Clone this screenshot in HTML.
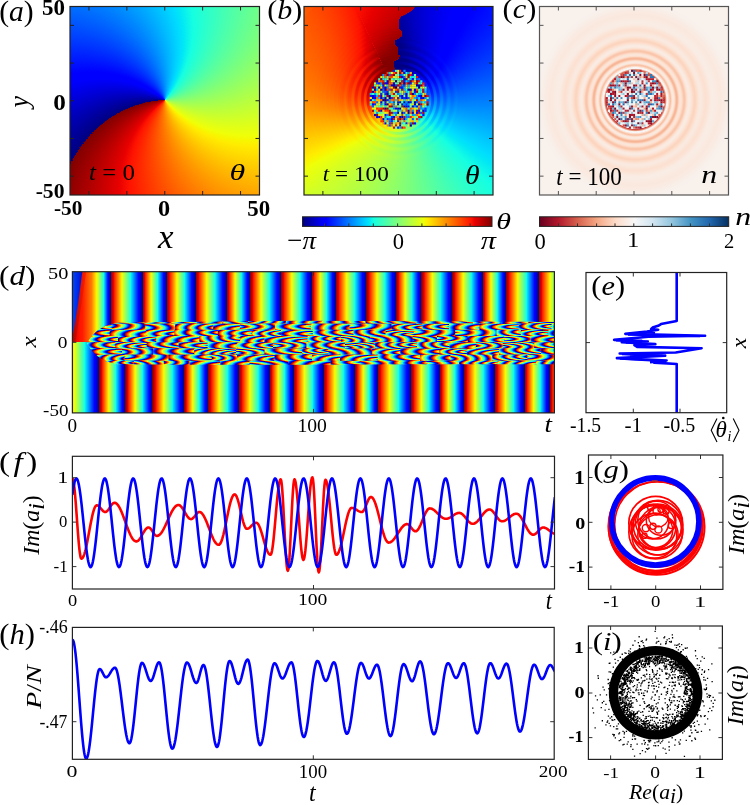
<!DOCTYPE html><html><head><meta charset="utf-8"><style>
html,body{margin:0;padding:0;background:#fff;}
body{width:750px;height:805px;position:relative;overflow:hidden;font-family:"Liberation Serif",serif;}
.ab{position:absolute;overflow:hidden;}
.ci{position:absolute;border-radius:50%;}
svg text{font-family:"Liberation Serif",serif;}
</style></head><body><div class="ab" style="left:70.0px;top:6.5px;width:189.5px;height:188.5px;background:#800000"><div class="ci" style="left:-45.40px;top:-46.20px;width:280.00px;height:280.00px;background:conic-gradient(from 229.22deg,#000080 0.00deg,#0000ff 39.60deg,#0000ff 45.00deg,#00dbff 122.40deg,#00e5f7 126.00deg,#15ffe2 135.00deg,#efff08 230.40deg,#f7f600 234.00deg,#ffec00 237.60deg,#ff1300 320.40deg,#e80000 327.60deg,#800000 360.00deg)"></div><div class="ci" style="left:-42.40px;top:-43.20px;width:274.00px;height:274.00px;background:conic-gradient(from 230.06deg,#000080 0.00deg,#0000ff 39.60deg,#0000ff 45.00deg,#00dbff 122.40deg,#00e5f7 126.00deg,#15ffe2 135.00deg,#efff08 230.40deg,#f7f600 234.00deg,#ffec00 237.60deg,#ff1300 320.40deg,#e80000 327.60deg,#800000 360.00deg)"></div><div class="ci" style="left:-39.40px;top:-40.20px;width:268.00px;height:268.00px;background:conic-gradient(from 230.90deg,#000080 0.00deg,#0000ff 39.60deg,#0000ff 45.00deg,#00dbff 122.40deg,#00e5f7 126.00deg,#15ffe2 135.00deg,#efff08 230.40deg,#f7f600 234.00deg,#ffec00 237.60deg,#ff1300 320.40deg,#e80000 327.60deg,#800000 360.00deg)"></div><div class="ci" style="left:-36.40px;top:-37.20px;width:262.00px;height:262.00px;background:conic-gradient(from 231.74deg,#000080 0.00deg,#0000ff 39.60deg,#0000ff 45.00deg,#00dbff 122.40deg,#00e5f7 126.00deg,#15ffe2 135.00deg,#efff08 230.40deg,#f7f600 234.00deg,#ffec00 237.60deg,#ff1300 320.40deg,#e80000 327.60deg,#800000 360.00deg)"></div><div class="ci" style="left:-33.40px;top:-34.20px;width:256.00px;height:256.00px;background:conic-gradient(from 232.58deg,#000080 0.00deg,#0000ff 39.60deg,#0000ff 45.00deg,#00dbff 122.40deg,#00e5f7 126.00deg,#15ffe2 135.00deg,#efff08 230.40deg,#f7f600 234.00deg,#ffec00 237.60deg,#ff1300 320.40deg,#e80000 327.60deg,#800000 360.00deg)"></div><div class="ci" style="left:-30.40px;top:-31.20px;width:250.00px;height:250.00px;background:conic-gradient(from 233.42deg,#000080 0.00deg,#0000ff 39.60deg,#0000ff 45.00deg,#00dbff 122.40deg,#00e5f7 126.00deg,#15ffe2 135.00deg,#efff08 230.40deg,#f7f600 234.00deg,#ffec00 237.60deg,#ff1300 320.40deg,#e80000 327.60deg,#800000 360.00deg)"></div><div class="ci" style="left:-27.40px;top:-28.20px;width:244.00px;height:244.00px;background:conic-gradient(from 234.26deg,#000080 0.00deg,#0000ff 39.60deg,#0000ff 45.00deg,#00dbff 122.40deg,#00e5f7 126.00deg,#15ffe2 135.00deg,#efff08 230.40deg,#f7f600 234.00deg,#ffec00 237.60deg,#ff1300 320.40deg,#e80000 327.60deg,#800000 360.00deg)"></div><div class="ci" style="left:-24.40px;top:-25.20px;width:238.00px;height:238.00px;background:conic-gradient(from 235.10deg,#000080 0.00deg,#0000ff 39.60deg,#0000ff 45.00deg,#00dbff 122.40deg,#00e5f7 126.00deg,#15ffe2 135.00deg,#efff08 230.40deg,#f7f600 234.00deg,#ffec00 237.60deg,#ff1300 320.40deg,#e80000 327.60deg,#800000 360.00deg)"></div><div class="ci" style="left:-21.40px;top:-22.20px;width:232.00px;height:232.00px;background:conic-gradient(from 235.94deg,#000080 0.00deg,#0000ff 39.60deg,#0000ff 45.00deg,#00dbff 122.40deg,#00e5f7 126.00deg,#15ffe2 135.00deg,#efff08 230.40deg,#f7f600 234.00deg,#ffec00 237.60deg,#ff1300 320.40deg,#e80000 327.60deg,#800000 360.00deg)"></div><div class="ci" style="left:-18.40px;top:-19.20px;width:226.00px;height:226.00px;background:conic-gradient(from 236.78deg,#000080 0.00deg,#0000ff 39.60deg,#0000ff 45.00deg,#00dbff 122.40deg,#00e5f7 126.00deg,#15ffe2 135.00deg,#efff08 230.40deg,#f7f600 234.00deg,#ffec00 237.60deg,#ff1300 320.40deg,#e80000 327.60deg,#800000 360.00deg)"></div><div class="ci" style="left:-15.40px;top:-16.20px;width:220.00px;height:220.00px;background:conic-gradient(from 237.62deg,#000080 0.00deg,#0000ff 39.60deg,#0000ff 45.00deg,#00dbff 122.40deg,#00e5f7 126.00deg,#15ffe2 135.00deg,#efff08 230.40deg,#f7f600 234.00deg,#ffec00 237.60deg,#ff1300 320.40deg,#e80000 327.60deg,#800000 360.00deg)"></div><div class="ci" style="left:-12.40px;top:-13.20px;width:214.00px;height:214.00px;background:conic-gradient(from 238.46deg,#000080 0.00deg,#0000ff 39.60deg,#0000ff 45.00deg,#00dbff 122.40deg,#00e5f7 126.00deg,#15ffe2 135.00deg,#efff08 230.40deg,#f7f600 234.00deg,#ffec00 237.60deg,#ff1300 320.40deg,#e80000 327.60deg,#800000 360.00deg)"></div><div class="ci" style="left:-9.40px;top:-10.20px;width:208.00px;height:208.00px;background:conic-gradient(from 239.30deg,#000080 0.00deg,#0000ff 39.60deg,#0000ff 45.00deg,#00dbff 122.40deg,#00e5f7 126.00deg,#15ffe2 135.00deg,#efff08 230.40deg,#f7f600 234.00deg,#ffec00 237.60deg,#ff1300 320.40deg,#e80000 327.60deg,#800000 360.00deg)"></div><div class="ci" style="left:-6.40px;top:-7.20px;width:202.00px;height:202.00px;background:conic-gradient(from 240.14deg,#000080 0.00deg,#0000ff 39.60deg,#0000ff 45.00deg,#00dbff 122.40deg,#00e5f7 126.00deg,#15ffe2 135.00deg,#efff08 230.40deg,#f7f600 234.00deg,#ffec00 237.60deg,#ff1300 320.40deg,#e80000 327.60deg,#800000 360.00deg)"></div><div class="ci" style="left:-3.40px;top:-4.20px;width:196.00px;height:196.00px;background:conic-gradient(from 240.98deg,#000080 0.00deg,#0000ff 39.60deg,#0000ff 45.00deg,#00dbff 122.40deg,#00e5f7 126.00deg,#15ffe2 135.00deg,#efff08 230.40deg,#f7f600 234.00deg,#ffec00 237.60deg,#ff1300 320.40deg,#e80000 327.60deg,#800000 360.00deg)"></div><div class="ci" style="left:-0.40px;top:-1.20px;width:190.00px;height:190.00px;background:conic-gradient(from 241.82deg,#000080 0.00deg,#0000ff 39.60deg,#0000ff 45.00deg,#00dbff 122.40deg,#00e5f7 126.00deg,#15ffe2 135.00deg,#efff08 230.40deg,#f7f600 234.00deg,#ffec00 237.60deg,#ff1300 320.40deg,#e80000 327.60deg,#800000 360.00deg)"></div><div class="ci" style="left:2.60px;top:1.80px;width:184.00px;height:184.00px;background:conic-gradient(from 242.66deg,#000080 0.00deg,#0000ff 39.60deg,#0000ff 45.00deg,#00dbff 122.40deg,#00e5f7 126.00deg,#15ffe2 135.00deg,#efff08 230.40deg,#f7f600 234.00deg,#ffec00 237.60deg,#ff1300 320.40deg,#e80000 327.60deg,#800000 360.00deg)"></div><div class="ci" style="left:5.60px;top:4.80px;width:178.00px;height:178.00px;background:conic-gradient(from 243.50deg,#000080 0.00deg,#0000ff 39.60deg,#0000ff 45.00deg,#00dbff 122.40deg,#00e5f7 126.00deg,#15ffe2 135.00deg,#efff08 230.40deg,#f7f600 234.00deg,#ffec00 237.60deg,#ff1300 320.40deg,#e80000 327.60deg,#800000 360.00deg)"></div><div class="ci" style="left:8.60px;top:7.80px;width:172.00px;height:172.00px;background:conic-gradient(from 244.34deg,#000080 0.00deg,#0000ff 39.60deg,#0000ff 45.00deg,#00dbff 122.40deg,#00e5f7 126.00deg,#15ffe2 135.00deg,#efff08 230.40deg,#f7f600 234.00deg,#ffec00 237.60deg,#ff1300 320.40deg,#e80000 327.60deg,#800000 360.00deg)"></div><div class="ci" style="left:11.60px;top:10.80px;width:166.00px;height:166.00px;background:conic-gradient(from 245.18deg,#000080 0.00deg,#0000ff 39.60deg,#0000ff 45.00deg,#00dbff 122.40deg,#00e5f7 126.00deg,#15ffe2 135.00deg,#efff08 230.40deg,#f7f600 234.00deg,#ffec00 237.60deg,#ff1300 320.40deg,#e80000 327.60deg,#800000 360.00deg)"></div><div class="ci" style="left:14.60px;top:13.80px;width:160.00px;height:160.00px;background:conic-gradient(from 246.02deg,#000080 0.00deg,#0000ff 39.60deg,#0000ff 45.00deg,#00dbff 122.40deg,#00e5f7 126.00deg,#15ffe2 135.00deg,#efff08 230.40deg,#f7f600 234.00deg,#ffec00 237.60deg,#ff1300 320.40deg,#e80000 327.60deg,#800000 360.00deg)"></div><div class="ci" style="left:17.60px;top:16.80px;width:154.00px;height:154.00px;background:conic-gradient(from 246.86deg,#000080 0.00deg,#0000ff 39.60deg,#0000ff 45.00deg,#00dbff 122.40deg,#00e5f7 126.00deg,#15ffe2 135.00deg,#efff08 230.40deg,#f7f600 234.00deg,#ffec00 237.60deg,#ff1300 320.40deg,#e80000 327.60deg,#800000 360.00deg)"></div><div class="ci" style="left:20.60px;top:19.80px;width:148.00px;height:148.00px;background:conic-gradient(from 247.70deg,#000080 0.00deg,#0000ff 39.60deg,#0000ff 45.00deg,#00dbff 122.40deg,#00e5f7 126.00deg,#15ffe2 135.00deg,#efff08 230.40deg,#f7f600 234.00deg,#ffec00 237.60deg,#ff1300 320.40deg,#e80000 327.60deg,#800000 360.00deg)"></div><div class="ci" style="left:23.60px;top:22.80px;width:142.00px;height:142.00px;background:conic-gradient(from 248.54deg,#000080 0.00deg,#0000ff 39.60deg,#0000ff 45.00deg,#00dbff 122.40deg,#00e5f7 126.00deg,#15ffe2 135.00deg,#efff08 230.40deg,#f7f600 234.00deg,#ffec00 237.60deg,#ff1300 320.40deg,#e80000 327.60deg,#800000 360.00deg)"></div><div class="ci" style="left:26.60px;top:25.80px;width:136.00px;height:136.00px;background:conic-gradient(from 249.38deg,#000080 0.00deg,#0000ff 39.60deg,#0000ff 45.00deg,#00dbff 122.40deg,#00e5f7 126.00deg,#15ffe2 135.00deg,#efff08 230.40deg,#f7f600 234.00deg,#ffec00 237.60deg,#ff1300 320.40deg,#e80000 327.60deg,#800000 360.00deg)"></div><div class="ci" style="left:29.60px;top:28.80px;width:130.00px;height:130.00px;background:conic-gradient(from 250.22deg,#000080 0.00deg,#0000ff 39.60deg,#0000ff 45.00deg,#00dbff 122.40deg,#00e5f7 126.00deg,#15ffe2 135.00deg,#efff08 230.40deg,#f7f600 234.00deg,#ffec00 237.60deg,#ff1300 320.40deg,#e80000 327.60deg,#800000 360.00deg)"></div><div class="ci" style="left:32.60px;top:31.80px;width:124.00px;height:124.00px;background:conic-gradient(from 251.06deg,#000080 0.00deg,#0000ff 39.60deg,#0000ff 45.00deg,#00dbff 122.40deg,#00e5f7 126.00deg,#15ffe2 135.00deg,#efff08 230.40deg,#f7f600 234.00deg,#ffec00 237.60deg,#ff1300 320.40deg,#e80000 327.60deg,#800000 360.00deg)"></div><div class="ci" style="left:35.60px;top:34.80px;width:118.00px;height:118.00px;background:conic-gradient(from 251.90deg,#000080 0.00deg,#0000ff 39.60deg,#0000ff 45.00deg,#00dbff 122.40deg,#00e5f7 126.00deg,#15ffe2 135.00deg,#efff08 230.40deg,#f7f600 234.00deg,#ffec00 237.60deg,#ff1300 320.40deg,#e80000 327.60deg,#800000 360.00deg)"></div><div class="ci" style="left:38.60px;top:37.80px;width:112.00px;height:112.00px;background:conic-gradient(from 252.74deg,#000080 0.00deg,#0000ff 39.60deg,#0000ff 45.00deg,#00dbff 122.40deg,#00e5f7 126.00deg,#15ffe2 135.00deg,#efff08 230.40deg,#f7f600 234.00deg,#ffec00 237.60deg,#ff1300 320.40deg,#e80000 327.60deg,#800000 360.00deg)"></div><div class="ci" style="left:41.60px;top:40.80px;width:106.00px;height:106.00px;background:conic-gradient(from 253.58deg,#000080 0.00deg,#0000ff 39.60deg,#0000ff 45.00deg,#00dbff 122.40deg,#00e5f7 126.00deg,#15ffe2 135.00deg,#efff08 230.40deg,#f7f600 234.00deg,#ffec00 237.60deg,#ff1300 320.40deg,#e80000 327.60deg,#800000 360.00deg)"></div><div class="ci" style="left:44.60px;top:43.80px;width:100.00px;height:100.00px;background:conic-gradient(from 254.42deg,#000080 0.00deg,#0000ff 39.60deg,#0000ff 45.00deg,#00dbff 122.40deg,#00e5f7 126.00deg,#15ffe2 135.00deg,#efff08 230.40deg,#f7f600 234.00deg,#ffec00 237.60deg,#ff1300 320.40deg,#e80000 327.60deg,#800000 360.00deg)"></div><div class="ci" style="left:47.60px;top:46.80px;width:94.00px;height:94.00px;background:conic-gradient(from 255.26deg,#000080 0.00deg,#0000ff 39.60deg,#0000ff 45.00deg,#00dbff 122.40deg,#00e5f7 126.00deg,#15ffe2 135.00deg,#efff08 230.40deg,#f7f600 234.00deg,#ffec00 237.60deg,#ff1300 320.40deg,#e80000 327.60deg,#800000 360.00deg)"></div><div class="ci" style="left:50.60px;top:49.80px;width:88.00px;height:88.00px;background:conic-gradient(from 256.10deg,#000080 0.00deg,#0000ff 39.60deg,#0000ff 45.00deg,#00dbff 122.40deg,#00e5f7 126.00deg,#15ffe2 135.00deg,#efff08 230.40deg,#f7f600 234.00deg,#ffec00 237.60deg,#ff1300 320.40deg,#e80000 327.60deg,#800000 360.00deg)"></div><div class="ci" style="left:53.60px;top:52.80px;width:82.00px;height:82.00px;background:conic-gradient(from 256.94deg,#000080 0.00deg,#0000ff 39.60deg,#0000ff 45.00deg,#00dbff 122.40deg,#00e5f7 126.00deg,#15ffe2 135.00deg,#efff08 230.40deg,#f7f600 234.00deg,#ffec00 237.60deg,#ff1300 320.40deg,#e80000 327.60deg,#800000 360.00deg)"></div><div class="ci" style="left:56.60px;top:55.80px;width:76.00px;height:76.00px;background:conic-gradient(from 257.78deg,#000080 0.00deg,#0000ff 39.60deg,#0000ff 45.00deg,#00dbff 122.40deg,#00e5f7 126.00deg,#15ffe2 135.00deg,#efff08 230.40deg,#f7f600 234.00deg,#ffec00 237.60deg,#ff1300 320.40deg,#e80000 327.60deg,#800000 360.00deg)"></div><div class="ci" style="left:59.60px;top:58.80px;width:70.00px;height:70.00px;background:conic-gradient(from 258.62deg,#000080 0.00deg,#0000ff 39.60deg,#0000ff 45.00deg,#00dbff 122.40deg,#00e5f7 126.00deg,#15ffe2 135.00deg,#efff08 230.40deg,#f7f600 234.00deg,#ffec00 237.60deg,#ff1300 320.40deg,#e80000 327.60deg,#800000 360.00deg)"></div><div class="ci" style="left:62.60px;top:61.80px;width:64.00px;height:64.00px;background:conic-gradient(from 259.46deg,#000080 0.00deg,#0000ff 39.60deg,#0000ff 45.00deg,#00dbff 122.40deg,#00e5f7 126.00deg,#15ffe2 135.00deg,#efff08 230.40deg,#f7f600 234.00deg,#ffec00 237.60deg,#ff1300 320.40deg,#e80000 327.60deg,#800000 360.00deg)"></div><div class="ci" style="left:65.60px;top:64.80px;width:58.00px;height:58.00px;background:conic-gradient(from 260.30deg,#000080 0.00deg,#0000ff 39.60deg,#0000ff 45.00deg,#00dbff 122.40deg,#00e5f7 126.00deg,#15ffe2 135.00deg,#efff08 230.40deg,#f7f600 234.00deg,#ffec00 237.60deg,#ff1300 320.40deg,#e80000 327.60deg,#800000 360.00deg)"></div><div class="ci" style="left:68.60px;top:67.80px;width:52.00px;height:52.00px;background:conic-gradient(from 261.14deg,#000080 0.00deg,#0000ff 39.60deg,#0000ff 45.00deg,#00dbff 122.40deg,#00e5f7 126.00deg,#15ffe2 135.00deg,#efff08 230.40deg,#f7f600 234.00deg,#ffec00 237.60deg,#ff1300 320.40deg,#e80000 327.60deg,#800000 360.00deg)"></div><div class="ci" style="left:71.60px;top:70.80px;width:46.00px;height:46.00px;background:conic-gradient(from 261.98deg,#000080 0.00deg,#0000ff 39.60deg,#0000ff 45.00deg,#00dbff 122.40deg,#00e5f7 126.00deg,#15ffe2 135.00deg,#efff08 230.40deg,#f7f600 234.00deg,#ffec00 237.60deg,#ff1300 320.40deg,#e80000 327.60deg,#800000 360.00deg)"></div><div class="ci" style="left:74.60px;top:73.80px;width:40.00px;height:40.00px;background:conic-gradient(from 262.82deg,#000080 0.00deg,#0000ff 39.60deg,#0000ff 45.00deg,#00dbff 122.40deg,#00e5f7 126.00deg,#15ffe2 135.00deg,#efff08 230.40deg,#f7f600 234.00deg,#ffec00 237.60deg,#ff1300 320.40deg,#e80000 327.60deg,#800000 360.00deg)"></div><div class="ci" style="left:77.60px;top:76.80px;width:34.00px;height:34.00px;background:conic-gradient(from 263.66deg,#000080 0.00deg,#0000ff 39.60deg,#0000ff 45.00deg,#00dbff 122.40deg,#00e5f7 126.00deg,#15ffe2 135.00deg,#efff08 230.40deg,#f7f600 234.00deg,#ffec00 237.60deg,#ff1300 320.40deg,#e80000 327.60deg,#800000 360.00deg)"></div><div class="ci" style="left:80.60px;top:79.80px;width:28.00px;height:28.00px;background:conic-gradient(from 264.50deg,#000080 0.00deg,#0000ff 39.60deg,#0000ff 45.00deg,#00dbff 122.40deg,#00e5f7 126.00deg,#15ffe2 135.00deg,#efff08 230.40deg,#f7f600 234.00deg,#ffec00 237.60deg,#ff1300 320.40deg,#e80000 327.60deg,#800000 360.00deg)"></div><div class="ci" style="left:83.60px;top:82.80px;width:22.00px;height:22.00px;background:conic-gradient(from 265.34deg,#000080 0.00deg,#0000ff 39.60deg,#0000ff 45.00deg,#00dbff 122.40deg,#00e5f7 126.00deg,#15ffe2 135.00deg,#efff08 230.40deg,#f7f600 234.00deg,#ffec00 237.60deg,#ff1300 320.40deg,#e80000 327.60deg,#800000 360.00deg)"></div><div class="ci" style="left:86.60px;top:85.80px;width:16.00px;height:16.00px;background:conic-gradient(from 266.18deg,#000080 0.00deg,#0000ff 39.60deg,#0000ff 45.00deg,#00dbff 122.40deg,#00e5f7 126.00deg,#15ffe2 135.00deg,#efff08 230.40deg,#f7f600 234.00deg,#ffec00 237.60deg,#ff1300 320.40deg,#e80000 327.60deg,#800000 360.00deg)"></div><div class="ci" style="left:89.60px;top:88.80px;width:10.00px;height:10.00px;background:conic-gradient(from 267.02deg,#000080 0.00deg,#0000ff 39.60deg,#0000ff 45.00deg,#00dbff 122.40deg,#00e5f7 126.00deg,#15ffe2 135.00deg,#efff08 230.40deg,#f7f600 234.00deg,#ffec00 237.60deg,#ff1300 320.40deg,#e80000 327.60deg,#800000 360.00deg)"></div><div class="ci" style="left:92.60px;top:91.80px;width:4.00px;height:4.00px;background:conic-gradient(from 267.86deg,#000080 0.00deg,#0000ff 39.60deg,#0000ff 45.00deg,#00dbff 122.40deg,#00e5f7 126.00deg,#15ffe2 135.00deg,#efff08 230.40deg,#f7f600 234.00deg,#ffec00 237.60deg,#ff1300 320.40deg,#e80000 327.60deg,#800000 360.00deg)"></div></div><div class="ab" style="left:304.0px;top:6.5px;width:189.0px;height:188.5px;"><div class="ab" style="left:0;top:0;width:100%;height:100%;background:conic-gradient(from -8.00deg at 94.90px 92.50px,#000097 0.00deg,#0000b9 10.00deg,#0000da 20.00deg,#0000f4 30.00deg,#0000ff 35.82deg,#0000ff 40.00deg,#0000ff 44.63deg,#0009ff 50.00deg,#001eff 60.00deg,#0036ff 70.00deg,#004fff 80.00deg,#006aff 90.00deg,#0085ff 100.00deg,#00a1ff 110.00deg,#00bfff 120.00deg,#00dbff 129.39deg,#00ddfe 130.00deg,#00e5f7 132.78deg,#12fbe5 140.00deg,#15ffe2 141.27deg,#2affcd 150.00deg,#42ffb4 160.00deg,#5bff9c 170.00deg,#72ff84 180.00deg,#88ff6f 190.00deg,#99ff5d 200.00deg,#a9ff4d 210.00deg,#baff3d 220.00deg,#cdff2a 230.00deg,#e7ff10 240.00deg,#efff08 242.46deg,#f7f600 245.12deg,#ffec00 247.79deg,#ffe400 250.00deg,#ffc500 260.00deg,#ffa900 270.00deg,#ff9300 280.00deg,#ff8400 290.00deg,#ff7700 300.00deg,#ff6b00 310.00deg,#ff5c00 320.00deg,#ff4800 330.00deg,#ff2c00 340.00deg,#ff1300 345.21deg,#e80000 349.17deg,#e30000 350.00deg,#910000 360.00deg)"></div><div class="ci" style="left:-30.10px;top:-32.50px;width:250.00px;height:250.00px;background:conic-gradient(from -8.00deg,#000091 0.00deg,#0000b4 10.00deg,#0000d5 20.00deg,#0000ef 30.00deg,#0000ff 37.94deg,#0000ff 40.00deg,#0000ff 46.61deg,#0006ff 50.00deg,#001bff 60.00deg,#0033ff 70.00deg,#004dff 80.00deg,#0068ff 90.00deg,#0083ff 100.00deg,#00a0ff 110.00deg,#00beff 120.00deg,#00dbff 129.44deg,#00ddfe 130.00deg,#00e5f7 132.78deg,#12fce5 140.00deg,#15ffe2 141.14deg,#2affcd 150.00deg,#43ffb3 160.00deg,#5cff9a 170.00deg,#74ff83 180.00deg,#8aff6d 190.00deg,#9cff5b 200.00deg,#acff4b 210.00deg,#bdff3a 220.00deg,#d0ff27 230.00deg,#eaff0c 240.00deg,#efff08 241.30deg,#f7f600 243.92deg,#ffec00 246.55deg,#ffe000 250.00deg,#ffc000 260.00deg,#ffa400 270.00deg,#ff8e00 280.00deg,#ff7e00 290.00deg,#ff7100 300.00deg,#ff6400 310.00deg,#ff5500 320.00deg,#ff4100 330.00deg,#ff2400 340.00deg,#ff1300 343.61deg,#e80000 347.50deg,#d90000 350.00deg,#860000 360.00deg)"></div><div class="ci" style="left:-26.10px;top:-28.50px;width:242.00px;height:242.00px;background:conic-gradient(from -8.00deg,#000090 0.00deg,#0000b3 10.00deg,#0000d4 20.00deg,#0000ee 30.00deg,#0000ff 38.23deg,#0000ff 40.00deg,#0000ff 46.89deg,#0005ff 50.00deg,#001bff 60.00deg,#0033ff 70.00deg,#004dff 80.00deg,#0068ff 90.00deg,#0083ff 100.00deg,#00a0ff 110.00deg,#00beff 120.00deg,#00dbff 129.45deg,#00ddfe 130.00deg,#00e5f7 132.78deg,#12fce5 140.00deg,#15ffe2 141.12deg,#2affcc 150.00deg,#44ffb3 160.00deg,#5dff9a 170.00deg,#74ff82 180.00deg,#8aff6d 190.00deg,#9cff5b 200.00deg,#acff4a 210.00deg,#bdff3a 220.00deg,#d1ff26 230.00deg,#ebff0c 240.00deg,#efff08 241.13deg,#f7f600 243.75deg,#ffec00 246.37deg,#ffdf00 250.00deg,#ffc000 260.00deg,#ffa300 270.00deg,#ff8d00 280.00deg,#ff7d00 290.00deg,#ff7000 300.00deg,#ff6400 310.00deg,#ff5400 320.00deg,#ff4000 330.00deg,#ff2300 340.00deg,#ff1300 343.38deg,#e80000 347.27deg,#d80000 350.00deg,#840000 360.00deg)"></div><div class="ci" style="left:-22.10px;top:-24.50px;width:234.00px;height:234.00px;background:conic-gradient(from -8.00deg,#00008f 0.00deg,#0000b3 10.00deg,#0000d4 20.00deg,#0000ee 30.00deg,#0000ff 38.57deg,#0000ff 40.00deg,#0000ff 47.21deg,#0005ff 50.00deg,#001bff 60.00deg,#0033ff 70.00deg,#004dff 80.00deg,#0067ff 90.00deg,#0083ff 100.00deg,#00a0ff 110.00deg,#00beff 120.00deg,#00dbff 129.46deg,#00ddfe 130.00deg,#00e5f7 132.78deg,#12fce5 140.00deg,#15ffe2 141.10deg,#2affcc 150.00deg,#44ffb3 160.00deg,#5dff9a 170.00deg,#75ff82 180.00deg,#8aff6c 190.00deg,#9cff5a 200.00deg,#adff4a 210.00deg,#beff39 220.00deg,#d1ff26 230.00deg,#ecff0b 240.00deg,#efff08 240.95deg,#f7f600 243.56deg,#ffec00 246.18deg,#ffde00 250.00deg,#ffbf00 260.00deg,#ffa200 270.00deg,#ff8c00 280.00deg,#ff7c00 290.00deg,#ff6f00 300.00deg,#ff6300 310.00deg,#ff5300 320.00deg,#ff3f00 330.00deg,#ff2200 340.00deg,#ff1300 343.13deg,#e80000 347.00deg,#d60000 350.00deg,#840000 360.00deg)"></div><div class="ci" style="left:-18.10px;top:-20.50px;width:226.00px;height:226.00px;background:conic-gradient(from -8.00deg,#00008e 0.00deg,#0000b2 10.00deg,#0000d3 20.00deg,#0000ed 30.00deg,#0000ff 38.95deg,#0000ff 40.00deg,#0000ff 47.57deg,#0004ff 50.00deg,#001aff 60.00deg,#0032ff 70.00deg,#004cff 80.00deg,#0067ff 90.00deg,#0083ff 100.00deg,#00a0ff 110.00deg,#00beff 120.00deg,#00dbff 129.47deg,#00ddfe 130.00deg,#00e5f7 132.78deg,#12fce5 140.00deg,#15ffe2 141.08deg,#2bffcc 150.00deg,#44ffb3 160.00deg,#5dff9a 170.00deg,#75ff82 180.00deg,#8bff6c 190.00deg,#9dff5a 200.00deg,#adff4a 210.00deg,#beff39 220.00deg,#d2ff25 230.00deg,#ecff0b 240.00deg,#efff08 240.74deg,#f7f600 243.34deg,#ffec00 245.95deg,#ffdd00 250.00deg,#ffbe00 260.00deg,#ffa100 270.00deg,#ff8b00 280.00deg,#ff7b00 290.00deg,#ff6e00 300.00deg,#ff6100 310.00deg,#ff5200 320.00deg,#ff3d00 330.00deg,#ff2100 340.00deg,#ff1300 342.84deg,#e80000 346.70deg,#d40000 350.00deg,#840000 360.00deg)"></div><div class="ci" style="left:-14.10px;top:-16.50px;width:218.00px;height:218.00px;background:conic-gradient(from -8.00deg,#00008d 0.00deg,#0000b0 10.00deg,#0000d2 20.00deg,#0000ec 30.00deg,#0000ff 39.39deg,#0000ff 40.00deg,#0000ff 47.97deg,#0004ff 50.00deg,#0019ff 60.00deg,#0032ff 70.00deg,#004cff 80.00deg,#0067ff 90.00deg,#0082ff 100.00deg,#00a0ff 110.00deg,#00beff 120.00deg,#00dbff 129.48deg,#00ddfe 130.00deg,#00e5f7 132.78deg,#12fce5 140.00deg,#15ffe2 141.05deg,#2bffcc 150.00deg,#44ffb3 160.00deg,#5dff99 170.00deg,#75ff81 180.00deg,#8bff6c 190.00deg,#9dff59 200.00deg,#aeff49 210.00deg,#bfff38 220.00deg,#d2ff25 230.00deg,#edff0a 240.00deg,#efff08 240.50deg,#f7f600 243.10deg,#ffec00 245.69deg,#ffdc00 250.00deg,#ffbd00 260.00deg,#ffa000 270.00deg,#ff8900 280.00deg,#ff7a00 290.00deg,#ff6d00 300.00deg,#ff6000 310.00deg,#ff5000 320.00deg,#ff3c00 330.00deg,#ff1f00 340.00deg,#ff1300 342.51deg,#e80000 346.36deg,#d20000 350.00deg,#840000 360.00deg)"></div><div class="ci" style="left:-10.10px;top:-12.50px;width:210.00px;height:210.00px;background:conic-gradient(from -8.00deg,#00008b 0.00deg,#0000af 10.00deg,#0000d0 20.00deg,#0000eb 30.00deg,#0000ff 39.88deg,#0000ff 40.00deg,#0000ff 48.44deg,#0003ff 50.00deg,#0019ff 60.00deg,#0031ff 70.00deg,#004bff 80.00deg,#0066ff 90.00deg,#0082ff 100.00deg,#009fff 110.00deg,#00beff 120.00deg,#00dbff 129.49deg,#00ddfe 130.00deg,#00e5f7 132.78deg,#12fce5 140.00deg,#15ffe2 141.02deg,#2bffcc 150.00deg,#44ffb2 160.00deg,#5eff99 170.00deg,#76ff81 180.00deg,#8cff6b 190.00deg,#9eff59 200.00deg,#aeff48 210.00deg,#bfff37 220.00deg,#d3ff24 230.00deg,#eeff09 240.00deg,#efff08 240.23deg,#f7f600 242.82deg,#ffec00 245.40deg,#ffdb00 250.00deg,#ffbb00 260.00deg,#ff9e00 270.00deg,#ff8800 280.00deg,#ff7800 290.00deg,#ff6b00 300.00deg,#ff5e00 310.00deg,#ff4f00 320.00deg,#ff3a00 330.00deg,#ff1d00 340.00deg,#ff1300 342.13deg,#e80000 345.97deg,#d00000 350.00deg,#840000 360.00deg)"></div><div class="ci" style="left:-6.10px;top:-8.50px;width:202.00px;height:202.00px;background:conic-gradient(from -8.00deg,#00008a 0.00deg,#0000ae 10.00deg,#0000cf 20.00deg,#0000ea 30.00deg,#0000fe 40.00deg,#0000ff 40.44deg,#0000ff 48.96deg,#0002ff 50.00deg,#0018ff 60.00deg,#0030ff 70.00deg,#004aff 80.00deg,#0066ff 90.00deg,#0082ff 100.00deg,#009fff 110.00deg,#00beff 120.00deg,#00dbff 129.50deg,#00ddfe 130.00deg,#00e5f7 132.78deg,#12fce5 140.00deg,#15ffe2 140.99deg,#2bffcc 150.00deg,#45ffb2 160.00deg,#5eff99 170.00deg,#76ff80 180.00deg,#8cff6b 190.00deg,#9fff58 200.00deg,#afff48 210.00deg,#c0ff37 220.00deg,#d4ff23 230.00deg,#efff08 239.91deg,#efff08 240.00deg,#f7f600 242.50deg,#ffec00 245.08deg,#ffda00 250.00deg,#ffba00 260.00deg,#ff9d00 270.00deg,#ff8600 280.00deg,#ff7600 290.00deg,#ff6900 300.00deg,#ff5d00 310.00deg,#ff4d00 320.00deg,#ff3800 330.00deg,#ff1b00 340.00deg,#ff1300 341.71deg,#e80000 345.53deg,#cd0000 350.00deg,#840000 360.00deg)"></div><div class="ci" style="left:-2.10px;top:-4.50px;width:194.00px;height:194.00px;background:conic-gradient(from -8.00deg,#000088 0.00deg,#0000ac 10.00deg,#0000ce 20.00deg,#0000e8 30.00deg,#0000fd 40.00deg,#0000ff 41.08deg,#0000ff 49.56deg,#0001ff 50.00deg,#0017ff 60.00deg,#002fff 70.00deg,#004aff 80.00deg,#0065ff 90.00deg,#0081ff 100.00deg,#009fff 110.00deg,#00bdff 120.00deg,#00dbff 129.52deg,#00ddfe 130.00deg,#00e5f7 132.78deg,#12fce5 140.00deg,#15ffe2 140.95deg,#2bffcc 150.00deg,#45ffb2 160.00deg,#5fff98 170.00deg,#77ff80 180.00deg,#8dff6a 190.00deg,#9fff57 200.00deg,#b0ff47 210.00deg,#c1ff36 220.00deg,#d5ff22 230.00deg,#efff08 239.49deg,#f0fd07 240.00deg,#f7f600 242.14deg,#ffec00 244.70deg,#ffd900 250.00deg,#ffb800 260.00deg,#ff9b00 270.00deg,#ff8500 280.00deg,#ff7400 290.00deg,#ff6700 300.00deg,#ff5b00 310.00deg,#ff4b00 320.00deg,#ff3600 330.00deg,#ff1900 340.00deg,#ff1300 341.23deg,#e80000 345.03deg,#ca0000 350.00deg,#840000 360.00deg)"></div><div class="ci" style="left:1.90px;top:-0.50px;width:186.00px;height:186.00px;background:conic-gradient(from -8.00deg,#000086 0.00deg,#0000aa 10.00deg,#0000cc 20.00deg,#0000e7 30.00deg,#0000fb 40.00deg,#0000ff 41.80deg,#0000ff 50.00deg,#0000ff 50.19deg,#0016ff 60.00deg,#002eff 70.00deg,#0049ff 80.00deg,#0064ff 90.00deg,#0081ff 100.00deg,#009eff 110.00deg,#00bdff 120.00deg,#00dbff 129.54deg,#00ddfe 130.00deg,#00e5f7 132.78deg,#12fce4 140.00deg,#15ffe2 140.90deg,#2bffcb 150.00deg,#45ffb1 160.00deg,#5fff98 170.00deg,#77ff7f 180.00deg,#8eff69 190.00deg,#a0ff57 200.00deg,#b1ff46 210.00deg,#c2ff35 220.00deg,#d6ff21 230.00deg,#efff08 239.03deg,#f1fc06 240.00deg,#f7f600 241.73deg,#ffec00 244.28deg,#ffd700 250.00deg,#ffb700 260.00deg,#ff9900 270.00deg,#ff8200 280.00deg,#ff7200 290.00deg,#ff6500 300.00deg,#ff5800 310.00deg,#ff4800 320.00deg,#ff3300 330.00deg,#ff1600 340.00deg,#ff1300 340.68deg,#e80000 344.47deg,#c60000 350.00deg,#840000 360.00deg)"></div><div class="ci" style="left:5.90px;top:3.50px;width:178.00px;height:178.00px;background:conic-gradient(from -8.00deg,#000084 0.00deg,#0000a8 10.00deg,#0000ca 20.00deg,#0000e5 30.00deg,#0000fa 40.00deg,#0000ff 42.61deg,#0000ff 50.00deg,#0000ff 50.82deg,#0014ff 60.00deg,#002dff 70.00deg,#0048ff 80.00deg,#0064ff 90.00deg,#0080ff 100.00deg,#009eff 110.00deg,#00bdff 120.00deg,#00dbff 129.55deg,#00ddfe 130.00deg,#00e5f7 132.78deg,#12fce4 140.00deg,#15ffe2 140.86deg,#2cffcb 150.00deg,#46ffb1 160.00deg,#60ff97 170.00deg,#78ff7f 180.00deg,#8eff68 190.00deg,#a1ff56 200.00deg,#b2ff45 210.00deg,#c3ff34 220.00deg,#d7ff1f 230.00deg,#efff08 238.50deg,#f3fa04 240.00deg,#f7f600 241.27deg,#ffec00 243.81deg,#ffd500 250.00deg,#ffb400 260.00deg,#ff9700 270.00deg,#ff8000 280.00deg,#ff7000 290.00deg,#ff6300 300.00deg,#ff5600 310.00deg,#ff4500 320.00deg,#ff3100 330.00deg,#ff1300 340.00deg,#ff1300 340.07deg,#e80000 343.83deg,#c20000 350.00deg,#840000 360.00deg)"></div><div class="ci" style="left:9.90px;top:7.50px;width:170.00px;height:170.00px;background:conic-gradient(from -8.00deg,#000084 0.00deg,#0000a5 10.00deg,#0000c8 20.00deg,#0000e3 30.00deg,#0000f8 40.00deg,#0000ff 43.53deg,#0000ff 50.00deg,#0000ff 51.52deg,#0013ff 60.00deg,#002cff 70.00deg,#0047ff 80.00deg,#0063ff 90.00deg,#007fff 100.00deg,#009dff 110.00deg,#00bdff 120.00deg,#00dbff 129.58deg,#00ddfe 130.00deg,#00e5f7 132.78deg,#13fce4 140.00deg,#15ffe2 140.80deg,#2cffcb 150.00deg,#46ffb1 160.00deg,#60ff97 170.00deg,#79ff7e 180.00deg,#8fff67 190.00deg,#a2ff54 200.00deg,#b3ff44 210.00deg,#c5ff32 220.00deg,#d9ff1e 230.00deg,#efff08 237.90deg,#f4f802 240.00deg,#f7f600 240.75deg,#ffec00 243.27deg,#ffd300 250.00deg,#ffb200 260.00deg,#ff9400 270.00deg,#ff7d00 280.00deg,#ff6d00 290.00deg,#ff6000 300.00deg,#ff5200 310.00deg,#ff4200 320.00deg,#ff2d00 330.00deg,#ff1300 338.93deg,#fb1000 340.00deg,#e80000 343.11deg,#bd0000 350.00deg,#840000 360.00deg)"></div><div class="ci" style="left:13.90px;top:11.50px;width:162.00px;height:162.00px;background:conic-gradient(from -8.00deg,#000084 0.00deg,#0000a2 10.00deg,#0000c5 20.00deg,#0000e0 30.00deg,#0000f5 40.00deg,#0000ff 44.56deg,#0000ff 50.00deg,#0000ff 52.31deg,#0011ff 60.00deg,#002bff 70.00deg,#0046ff 80.00deg,#0062ff 90.00deg,#007fff 100.00deg,#009dff 110.00deg,#00bcff 120.00deg,#00dbff 129.60deg,#00ddfe 130.00deg,#00e5f7 132.78deg,#13fde4 140.00deg,#15ffe2 140.74deg,#2cffca 150.00deg,#47ffb0 160.00deg,#61ff96 170.00deg,#7aff7d 180.00deg,#91ff66 190.00deg,#a4ff53 200.00deg,#b5ff42 210.00deg,#c6ff31 220.00deg,#daff1c 230.00deg,#efff08 237.23deg,#f6f601 240.00deg,#f7f600 240.17deg,#ffec00 242.67deg,#ffd000 250.00deg,#ffaf00 260.00deg,#ff9100 270.00deg,#ff7a00 280.00deg,#ff6a00 290.00deg,#ff5c00 300.00deg,#ff4f00 310.00deg,#ff3f00 320.00deg,#ff2a00 330.00deg,#ff1300 337.60deg,#f60c00 340.00deg,#e80000 342.30deg,#b80000 350.00deg,#840000 360.00deg)"></div><div class="ci" style="left:17.90px;top:15.50px;width:154.00px;height:154.00px;background:conic-gradient(from -8.00deg,#000084 0.00deg,#00009f 10.00deg,#0000c2 20.00deg,#0000de 30.00deg,#0000f3 40.00deg,#0000ff 45.72deg,#0000ff 50.00deg,#0000ff 53.21deg,#000fff 60.00deg,#0029ff 70.00deg,#0044ff 80.00deg,#0061ff 90.00deg,#007eff 100.00deg,#009cff 110.00deg,#00bcff 120.00deg,#00dbff 129.63deg,#00ddfe 130.00deg,#00e5f7 132.78deg,#13fde4 140.00deg,#15ffe2 140.67deg,#2dffca 150.00deg,#47ffaf 160.00deg,#62ff95 170.00deg,#7bff7c 180.00deg,#92ff65 190.00deg,#a5ff52 200.00deg,#b6ff41 210.00deg,#c8ff2f 220.00deg,#dcff1a 230.00deg,#efff08 236.48deg,#f7f600 239.42deg,#f8f400 240.00deg,#ffec00 241.99deg,#ffce00 250.00deg,#ffac00 260.00deg,#ff8e00 270.00deg,#ff7700 280.00deg,#ff6600 290.00deg,#ff5800 300.00deg,#ff4b00 310.00deg,#ff3a00 320.00deg,#ff2500 330.00deg,#ff1300 336.09deg,#f10700 340.00deg,#e80000 341.39deg,#b20000 350.00deg,#840000 360.00deg)"></div><div class="ci" style="left:21.90px;top:19.50px;width:146.00px;height:146.00px;background:conic-gradient(from -8.00deg,#000084 0.00deg,#00009b 10.00deg,#0000bf 20.00deg,#0000db 30.00deg,#0000f0 40.00deg,#0000ff 47.02deg,#0000ff 50.00deg,#0000ff 54.21deg,#000dff 60.00deg,#0027ff 70.00deg,#0043ff 80.00deg,#005fff 90.00deg,#007dff 100.00deg,#009bff 110.00deg,#00bcff 120.00deg,#00dbff 129.66deg,#00dcfe 130.00deg,#00e5f7 132.78deg,#13fde4 140.00deg,#15ffe2 140.59deg,#2dffca 150.00deg,#48ffaf 160.00deg,#63ff94 170.00deg,#7cff7a 180.00deg,#93ff63 190.00deg,#a7ff50 200.00deg,#b8ff3f 210.00deg,#caff2d 220.00deg,#dfff18 230.00deg,#efff08 235.63deg,#f7f600 238.54deg,#fbf100 240.00deg,#ffec00 241.22deg,#ffca00 250.00deg,#ffa900 260.00deg,#ff8a00 270.00deg,#ff7200 280.00deg,#ff6200 290.00deg,#ff5400 300.00deg,#ff4600 310.00deg,#ff3600 320.00deg,#ff2000 330.00deg,#ff1300 334.41deg,#ea0200 340.00deg,#e80000 340.37deg,#aa0000 350.00deg,#840000 360.00deg)"></div><div class="ci" style="left:25.90px;top:23.50px;width:138.00px;height:138.00px;background:conic-gradient(from -8.00deg,#000084 0.00deg,#000097 10.00deg,#0000bb 20.00deg,#0000d7 30.00deg,#0000ed 40.00deg,#0000ff 48.47deg,#0000ff 50.00deg,#0000ff 55.32deg,#000bff 60.00deg,#0025ff 70.00deg,#0041ff 80.00deg,#005eff 90.00deg,#007bff 100.00deg,#009bff 110.00deg,#00bbff 120.00deg,#00dbff 129.69deg,#00dcfe 130.00deg,#00e5f7 132.78deg,#13fde4 140.00deg,#15ffe2 140.50deg,#2effc9 150.00deg,#49ffae 160.00deg,#64ff93 170.00deg,#7eff79 180.00deg,#95ff62 190.00deg,#a9ff4e 200.00deg,#baff3d 210.00deg,#ccff2b 220.00deg,#e1ff16 230.00deg,#efff08 234.69deg,#f7f600 237.56deg,#feee00 240.00deg,#ffec00 240.37deg,#ffc700 250.00deg,#ffa500 260.00deg,#ff8600 270.00deg,#ff6e00 280.00deg,#ff5d00 290.00deg,#ff4f00 300.00deg,#ff4100 310.00deg,#ff3000 320.00deg,#ff1b00 330.00deg,#ff1300 332.53deg,#e80000 338.68deg,#e30000 340.00deg,#a20000 350.00deg,#840000 360.00deg)"></div><div class="ci" style="left:29.90px;top:27.50px;width:130.00px;height:130.00px;background:conic-gradient(from -8.00deg,#000084 0.00deg,#000092 10.00deg,#0000b6 20.00deg,#0000d3 30.00deg,#0000e9 40.00deg,#0000ff 50.00deg,#0000ff 50.07deg,#0000ff 56.57deg,#0008ff 60.00deg,#0022ff 70.00deg,#003fff 80.00deg,#005cff 90.00deg,#007aff 100.00deg,#009aff 110.00deg,#00bbff 120.00deg,#00dbff 129.73deg,#00dcfe 130.00deg,#00e5f7 132.78deg,#13fee3 140.00deg,#15ffe2 140.40deg,#2effc8 150.00deg,#4affad 160.00deg,#65ff92 170.00deg,#7fff77 180.00deg,#97ff60 190.00deg,#abff4c 200.00deg,#bcff3a 210.00deg,#cfff28 220.00deg,#e4ff13 230.00deg,#efff08 233.63deg,#f7f600 236.47deg,#ffec00 239.31deg,#ffea00 240.00deg,#ffc200 250.00deg,#ffa000 260.00deg,#ff8100 270.00deg,#ff6800 280.00deg,#ff5700 290.00deg,#ff4900 300.00deg,#ff3b00 310.00deg,#ff2a00 320.00deg,#ff1400 330.00deg,#ff1300 330.43deg,#e80000 336.50deg,#da0000 340.00deg,#990000 350.00deg,#840000 360.00deg)"></div><div class="ci" style="left:33.90px;top:31.50px;width:122.00px;height:122.00px;background:conic-gradient(from -8.00deg,#000084 0.00deg,#00008d 10.00deg,#0000b1 20.00deg,#0000ce 30.00deg,#0000e5 40.00deg,#0000fb 50.00deg,#0000ff 51.55deg,#0000ff 57.96deg,#0005ff 60.00deg,#0020ff 70.00deg,#003cff 80.00deg,#005aff 90.00deg,#0079ff 100.00deg,#0098ff 110.00deg,#00baff 120.00deg,#00dbff 129.78deg,#00dcfe 130.00deg,#00e5f7 132.78deg,#14fee3 140.00deg,#15ffe2 140.29deg,#2fffc8 150.00deg,#4bffac 160.00deg,#67ff90 170.00deg,#81ff76 180.00deg,#99ff5e 190.00deg,#adff4a 200.00deg,#bfff38 210.00deg,#d2ff25 220.00deg,#e7ff0f 230.00deg,#efff08 232.46deg,#f7f600 235.26deg,#ffec00 238.06deg,#ffe600 240.00deg,#ffbe00 250.00deg,#ff9b00 260.00deg,#ff7b00 270.00deg,#ff6200 280.00deg,#ff5100 290.00deg,#ff4300 300.00deg,#ff3500 310.00deg,#ff2300 320.00deg,#ff1300 327.31deg,#f80d00 330.00deg,#e80000 334.08deg,#d10000 340.00deg,#8f0000 350.00deg,#840000 360.00deg)"></div><div class="ci" style="left:37.90px;top:35.50px;width:114.00px;height:114.00px;background:conic-gradient(from -8.00deg,#000084 0.00deg,#000086 10.00deg,#0000ab 20.00deg,#0000c9 30.00deg,#0000e0 40.00deg,#0000f6 50.00deg,#0000ff 53.20deg,#0000ff 59.50deg,#0001ff 60.00deg,#001cff 70.00deg,#0039ff 80.00deg,#0058ff 90.00deg,#0077ff 100.00deg,#0097ff 110.00deg,#00b9ff 120.00deg,#00dbff 129.82deg,#00dcff 130.00deg,#00e5f7 132.78deg,#14fee3 140.00deg,#15ffe2 140.17deg,#30ffc7 150.00deg,#4cffab 160.00deg,#68ff8e 170.00deg,#83ff74 180.00deg,#9cff5b 190.00deg,#b0ff47 200.00deg,#c2ff34 210.00deg,#d5ff22 220.00deg,#ebff0c 230.00deg,#efff08 231.16deg,#f7f600 233.92deg,#ffec00 236.67deg,#ffe100 240.00deg,#ffb800 250.00deg,#ff9500 260.00deg,#ff7400 270.00deg,#ff5b00 280.00deg,#ff4900 290.00deg,#ff3b00 300.00deg,#ff2d00 310.00deg,#ff1b00 320.00deg,#ff1300 323.65deg,#ed0400 330.00deg,#e80000 331.40deg,#c60000 340.00deg,#840000 350.00deg,#840000 360.00deg)"></div><div class="ci" style="left:41.90px;top:39.50px;width:106.00px;height:106.00px;background:conic-gradient(from -8.00deg,#000084 0.00deg,#000084 10.00deg,#0000a5 20.00deg,#0000c3 30.00deg,#0000da 40.00deg,#0000f1 50.00deg,#0000ff 55.01deg,#0000ff 60.00deg,#0000ff 61.07deg,#0019ff 70.00deg,#0036ff 80.00deg,#0055ff 90.00deg,#0075ff 100.00deg,#0096ff 110.00deg,#00b8ff 120.00deg,#00dbff 129.88deg,#00dcff 130.00deg,#00e5f7 132.78deg,#14ffe2 140.00deg,#15ffe2 140.04deg,#31ffc6 150.00deg,#4effa9 160.00deg,#6aff8c 170.00deg,#86ff71 180.00deg,#9eff58 190.00deg,#b3ff44 200.00deg,#c6ff31 210.00deg,#d9ff1e 220.00deg,#efff08 229.62deg,#effe07 230.00deg,#f7f600 232.43deg,#ffec00 235.14deg,#ffdb00 240.00deg,#ffb200 250.00deg,#ff8e00 260.00deg,#ff6d00 270.00deg,#ff5300 280.00deg,#ff4100 290.00deg,#ff3300 300.00deg,#ff2400 310.00deg,#ff1300 319.51deg,#fe1200 320.00deg,#e80000 327.79deg,#e20000 330.00deg,#b90000 340.00deg,#840000 350.00deg,#840000 360.00deg)"></div><div class="ci" style="left:45.90px;top:43.50px;width:98.00px;height:98.00px;background:conic-gradient(from -8.00deg,#000084 0.00deg,#000084 10.00deg,#00009d 20.00deg,#0000bc 30.00deg,#0000d3 40.00deg,#0000eb 50.00deg,#0000ff 57.00deg,#0000ff 60.00deg,#0000ff 62.74deg,#0014ff 70.00deg,#0033ff 80.00deg,#0052ff 90.00deg,#0072ff 100.00deg,#0094ff 110.00deg,#00b8ff 120.00deg,#00dbff 129.94deg,#00dcff 130.00deg,#00e5f7 132.78deg,#15ffe2 139.89deg,#15ffe2 140.00deg,#32ffc5 150.00deg,#4fffa8 160.00deg,#6cff8a 170.00deg,#88ff6e 180.00deg,#a2ff55 190.00deg,#b7ff40 200.00deg,#caff2d 210.00deg,#ddff19 220.00deg,#efff08 227.48deg,#f4f802 230.00deg,#f7f600 230.80deg,#ffec00 233.45deg,#ffd500 240.00deg,#ffab00 250.00deg,#ff8600 260.00deg,#ff6400 270.00deg,#ff4a00 280.00deg,#ff3800 290.00deg,#ff2900 300.00deg,#ff1a00 310.00deg,#ff1300 313.80deg,#f10800 320.00deg,#e80000 323.19deg,#d40000 330.00deg,#ab0000 340.00deg,#840000 350.00deg,#840000 360.00deg)"></div><div class="ci" style="left:49.90px;top:47.50px;width:90.00px;height:90.00px;background:conic-gradient(from -8.00deg,#000084 0.00deg,#000084 10.00deg,#000095 20.00deg,#0000b4 30.00deg,#0000cc 40.00deg,#0000e4 50.00deg,#0000ff 59.18deg,#0000ff 60.00deg,#0000ff 64.57deg,#0010ff 70.00deg,#002fff 80.00deg,#004fff 90.00deg,#0070ff 100.00deg,#0092ff 110.00deg,#00b6ff 120.00deg,#00dbff 130.00deg,#00dbff 130.00deg,#00e5f7 132.78deg,#15ffe2 139.73deg,#15ffe1 140.00deg,#33ffc4 150.00deg,#51ffa6 160.00deg,#6fff88 170.00deg,#8cff6b 180.00deg,#a5ff51 190.00deg,#bbff3c 200.00deg,#cfff28 210.00deg,#e3ff14 220.00deg,#efff08 225.13deg,#f7f600 228.65deg,#faf200 230.00deg,#ffec00 231.60deg,#ffce00 240.00deg,#ffa200 250.00deg,#ff7d00 260.00deg,#ff5a00 270.00deg,#ff4000 280.00deg,#ff2d00 290.00deg,#ff1d00 300.00deg,#ff1300 306.98deg,#f90e00 310.00deg,#e80000 317.62deg,#e20000 320.00deg,#c50000 330.00deg,#9b0000 340.00deg,#840000 350.00deg,#840000 360.00deg)"></div><div class="ci" style="left:53.90px;top:51.50px;width:82.00px;height:82.00px;background:conic-gradient(from -8.00deg,#000084 0.00deg,#000084 10.00deg,#00008b 20.00deg,#0000ab 30.00deg,#0000c4 40.00deg,#0000dc 50.00deg,#0000fa 60.00deg,#0000ff 61.39deg,#0000ff 66.56deg,#000aff 70.00deg,#002aff 80.00deg,#004bff 90.00deg,#006dff 100.00deg,#0090ff 110.00deg,#00b5ff 120.00deg,#00dbff 130.00deg,#00dbff 130.07deg,#00e5f7 132.78deg,#15ffe2 139.56deg,#16ffe1 140.00deg,#34ffc3 150.00deg,#53ffa4 160.00deg,#72ff85 170.00deg,#8fff68 180.00deg,#aaff4d 190.00deg,#c0ff37 200.00deg,#d4ff23 210.00deg,#e8ff0e 220.00deg,#efff08 222.57deg,#f7f600 226.01deg,#ffec00 229.44deg,#ffeb00 230.00deg,#ffc500 240.00deg,#ff9900 250.00deg,#ff7200 260.00deg,#ff4f00 270.00deg,#ff3400 280.00deg,#ff2000 290.00deg,#ff1300 298.58deg,#fc1100 300.00deg,#e90100 310.00deg,#e80000 310.56deg,#d20000 320.00deg,#b30000 330.00deg,#880000 340.00deg,#840000 350.00deg,#840000 360.00deg)"></div><div class="ci" style="left:57.90px;top:55.50px;width:74.00px;height:74.00px;background:conic-gradient(from -8.00deg,#000084 0.00deg,#000084 10.00deg,#000084 20.00deg,#0000a0 30.00deg,#0000ba 40.00deg,#0000d3 50.00deg,#0000f2 60.00deg,#0000ff 63.69deg,#0000ff 68.72deg,#0004ff 70.00deg,#0025ff 80.00deg,#0047ff 90.00deg,#0069ff 100.00deg,#008eff 110.00deg,#00b4ff 120.00deg,#00dbff 130.00deg,#00dbff 130.14deg,#00e5f7 132.78deg,#15ffe2 139.37deg,#17ffe0 140.00deg,#36ffc1 150.00deg,#55ffa1 160.00deg,#75ff82 170.00deg,#93ff64 180.00deg,#aeff48 190.00deg,#c5ff31 200.00deg,#daff1d 210.00deg,#efff08 219.76deg,#effe08 220.00deg,#f7f600 223.14deg,#ffec00 226.48deg,#ffe200 230.00deg,#ffbc00 240.00deg,#ff8e00 250.00deg,#ff6600 260.00deg,#ff4200 270.00deg,#ff2600 280.00deg,#ff1300 289.62deg,#fe1200 290.00deg,#ea0200 300.00deg,#e80000 301.26deg,#d70000 310.00deg,#be0000 320.00deg,#9f0000 330.00deg,#840000 340.00deg,#840000 350.00deg,#840000 360.00deg)"></div><div class="ci" style="left:61.90px;top:59.50px;width:66.00px;height:66.00px;background:conic-gradient(from -8.00deg,#000084 0.00deg,#000084 10.00deg,#000084 20.00deg,#000095 30.00deg,#0000af 40.00deg,#0000c9 50.00deg,#0000e9 60.00deg,#0000ff 66.17deg,#0000ff 70.00deg,#0000ff 70.98deg,#001eff 80.00deg,#0041ff 90.00deg,#0065ff 100.00deg,#008bff 110.00deg,#00b2ff 120.00deg,#00daff 130.00deg,#00dbff 130.23deg,#00e5f7 132.78deg,#15ffe2 139.17deg,#17ffe0 140.00deg,#37ffc0 150.00deg,#58ff9f 160.00deg,#79ff7e 170.00deg,#98ff5f 180.00deg,#b4ff43 190.00deg,#ccff2b 200.00deg,#e1ff16 210.00deg,#efff08 216.28deg,#f7f600 220.00deg,#f7f600 220.05deg,#ffec00 223.29deg,#ffd900 230.00deg,#ffb100 240.00deg,#ff8200 250.00deg,#ff5900 260.00deg,#ff3300 270.00deg,#ff1600 280.00deg,#ff1300 281.74deg,#ea0200 290.00deg,#e80000 291.14deg,#d60000 300.00deg,#c10000 310.00deg,#a80000 320.00deg,#880000 330.00deg,#840000 340.00deg,#840000 350.00deg,#840000 360.00deg)"></div><div class="ab" style="left:0;top:0;width:100%;height:100%;background:conic-gradient(from -8.00deg at 94.90px 92.50px,#000084 0.00deg,#000088 10.00deg,#0000b3 20.00deg,#0000d5 30.00deg,#0000ef 40.00deg,#0000ff 46.04deg,#0000ff 50.00deg,#0000ff 52.20deg,#0016ff 60.00deg,#0035ff 70.00deg,#0057ff 80.00deg,#007aff 90.00deg,#009eff 100.00deg,#00c3ff 110.00deg,#00dbff 116.14deg,#00e5f7 118.74deg,#04eaf3 120.00deg,#15ffe2 125.13deg,#24ffd2 130.00deg,#44ffb2 140.00deg,#64ff92 150.00deg,#85ff72 160.00deg,#a6ff51 170.00deg,#c5ff32 180.00deg,#e1ff16 190.00deg,#efff08 195.75deg,#f7f600 199.23deg,#f9f300 200.00deg,#ffec00 203.03deg,#ffdb00 210.00deg,#ffc200 220.00deg,#ffa500 230.00deg,#ff7e00 240.00deg,#ff4f00 250.00deg,#ff2500 260.00deg,#ff1300 264.99deg,#e80000 270.00deg,#e80000 270.07deg,#c50000 280.00deg,#ab0000 290.00deg,#970000 300.00deg,#840000 310.00deg,#840000 320.00deg,#840000 330.00deg,#840000 340.00deg,#840000 350.00deg,#840000 360.00deg);-webkit-mask-image:radial-gradient(circle at 94.90px 92.50px,transparent 29.40px,rgba(0,0,0,0.60) 30.40px,rgba(0,0,0,0.60) 32.00px,transparent 33.00px);mask-image:radial-gradient(circle at 94.90px 92.50px,transparent 29.40px,rgba(0,0,0,0.60) 30.40px,rgba(0,0,0,0.60) 32.00px,transparent 33.00px)"></div><div class="ab" style="left:0;top:0;width:100%;height:100%;background:conic-gradient(from -8.00deg at 94.90px 92.50px,#000084 0.00deg,#000084 10.00deg,#000084 20.00deg,#000084 30.00deg,#000084 40.00deg,#000091 50.00deg,#0000b0 60.00deg,#0000d3 70.00deg,#0000f8 80.00deg,#0000ff 81.76deg,#0000ff 86.22deg,#000dff 90.00deg,#0030ff 100.00deg,#0055ff 110.00deg,#007bff 120.00deg,#00a3ff 130.00deg,#00caff 140.00deg,#00dbff 144.56deg,#00e5f7 147.19deg,#09f0ee 150.00deg,#15ffe2 153.66deg,#29ffce 160.00deg,#49ffae 170.00deg,#67ff8f 180.00deg,#83ff74 190.00deg,#9aff5d 200.00deg,#afff48 210.00deg,#c4ff33 220.00deg,#ddff1a 230.00deg,#efff08 235.25deg,#f7f600 237.68deg,#ffed00 240.00deg,#ffec00 240.10deg,#ffbf00 250.00deg,#ff9600 260.00deg,#ff7200 270.00deg,#ff5600 280.00deg,#ff4100 290.00deg,#ff3100 300.00deg,#ff2100 310.00deg,#ff1300 317.07deg,#f80d00 320.00deg,#e80000 325.07deg,#d80000 330.00deg,#ac0000 340.00deg,#840000 350.00deg,#840000 360.00deg);-webkit-mask-image:radial-gradient(circle at 94.90px 92.50px,transparent 32.00px,rgba(0,0,0,0.55) 33.00px,rgba(0,0,0,0.55) 34.60px,transparent 35.60px);mask-image:radial-gradient(circle at 94.90px 92.50px,transparent 32.00px,rgba(0,0,0,0.55) 33.00px,rgba(0,0,0,0.55) 34.60px,transparent 35.60px)"></div><div class="ab" style="left:0;top:0;width:100%;height:100%;background:conic-gradient(from -8.00deg at 94.90px 92.50px,#000084 0.00deg,#00009b 10.00deg,#0000c4 20.00deg,#0000e5 30.00deg,#0000fe 40.00deg,#0000ff 40.53deg,#0000ff 47.46deg,#0006ff 50.00deg,#0021ff 60.00deg,#003fff 70.00deg,#005fff 80.00deg,#0080ff 90.00deg,#00a3ff 100.00deg,#00c7ff 110.00deg,#00dbff 115.43deg,#00e5f7 118.13deg,#06edf1 120.00deg,#15ffe2 124.81deg,#25ffd2 130.00deg,#44ffb3 140.00deg,#62ff95 150.00deg,#82ff75 160.00deg,#a1ff56 170.00deg,#bfff38 180.00deg,#daff1d 190.00deg,#efff08 199.20deg,#f0fd06 200.00deg,#f7f600 203.15deg,#ffec00 207.21deg,#ffe600 210.00deg,#ffce00 220.00deg,#ffb200 230.00deg,#ff8c00 240.00deg,#ff5f00 250.00deg,#ff3700 260.00deg,#ff1300 270.00deg,#ff1300 270.22deg,#e80000 277.04deg,#de0000 280.00deg,#c60000 290.00deg,#b20000 300.00deg,#9f0000 310.00deg,#870000 320.00deg,#840000 330.00deg,#840000 340.00deg,#840000 350.00deg,#840000 360.00deg);-webkit-mask-image:radial-gradient(circle at 94.90px 92.50px,transparent 34.80px,rgba(0,0,0,0.50) 35.80px,rgba(0,0,0,0.50) 37.40px,transparent 38.40px);mask-image:radial-gradient(circle at 94.90px 92.50px,transparent 34.80px,rgba(0,0,0,0.50) 35.80px,rgba(0,0,0,0.50) 37.40px,transparent 38.40px)"></div><div class="ab" style="left:0;top:0;width:100%;height:100%;background:conic-gradient(from -8.00deg at 94.90px 92.50px,#000084 0.00deg,#000084 10.00deg,#000084 20.00deg,#000084 30.00deg,#000085 40.00deg,#00009e 50.00deg,#0000bc 60.00deg,#0000dd 70.00deg,#0000ff 79.43deg,#0000ff 80.00deg,#0000ff 84.09deg,#0013ff 90.00deg,#0035ff 100.00deg,#0058ff 110.00deg,#007dff 120.00deg,#00a3ff 130.00deg,#00c8ff 140.00deg,#00dbff 145.06deg,#00e5f7 147.80deg,#07eef0 150.00deg,#15ffe2 154.52deg,#25ffd1 160.00deg,#44ffb3 170.00deg,#61ff95 180.00deg,#7cff7b 190.00deg,#92ff65 200.00deg,#a6ff51 210.00deg,#baff3d 220.00deg,#d2ff25 230.00deg,#efff08 238.78deg,#f2fa04 240.00deg,#f7f600 241.11deg,#ffec00 243.25deg,#ffce00 250.00deg,#ffa800 260.00deg,#ff8500 270.00deg,#ff6a00 280.00deg,#ff5600 290.00deg,#ff4700 300.00deg,#ff3700 310.00deg,#ff2400 320.00deg,#ff1300 326.92deg,#f60b00 330.00deg,#e80000 333.25deg,#cb0000 340.00deg,#840000 350.00deg,#840000 360.00deg);-webkit-mask-image:radial-gradient(circle at 94.90px 92.50px,transparent 37.80px,rgba(0,0,0,0.42) 38.80px,rgba(0,0,0,0.42) 40.40px,transparent 41.40px);mask-image:radial-gradient(circle at 94.90px 92.50px,transparent 37.80px,rgba(0,0,0,0.42) 38.80px,rgba(0,0,0,0.42) 40.40px,transparent 41.40px)"></div><div class="ab" style="left:0;top:0;width:100%;height:100%;background:conic-gradient(from -8.00deg at 94.90px 92.50px,#000084 0.00deg,#0000ac 10.00deg,#0000d4 20.00deg,#0000f3 30.00deg,#0000ff 34.87deg,#0000ff 40.00deg,#0000ff 42.08deg,#0011ff 50.00deg,#002bff 60.00deg,#0047ff 70.00deg,#0066ff 80.00deg,#0087ff 90.00deg,#00a8ff 100.00deg,#00caff 110.00deg,#00dbff 114.70deg,#00e5f7 117.52deg,#07eef0 120.00deg,#15ffe2 124.47deg,#25ffd2 130.00deg,#43ffb4 140.00deg,#60ff97 150.00deg,#7eff78 160.00deg,#9cff5a 170.00deg,#b9ff3e 180.00deg,#d3ff24 190.00deg,#e9ff0e 200.00deg,#efff08 203.06deg,#f7f600 207.28deg,#fcef00 210.00deg,#ffec00 211.46deg,#ffd800 220.00deg,#ffbe00 230.00deg,#ff9900 240.00deg,#ff6e00 250.00deg,#ff4800 260.00deg,#ff2600 270.00deg,#ff1300 277.09deg,#f60b00 280.00deg,#e80000 285.89deg,#de0000 290.00deg,#cc0000 300.00deg,#b90000 310.00deg,#a20000 320.00deg,#840000 330.00deg,#840000 340.00deg,#840000 350.00deg,#840000 360.00deg);-webkit-mask-image:radial-gradient(circle at 94.90px 92.50px,transparent 41.00px,rgba(0,0,0,0.35) 42.00px,rgba(0,0,0,0.35) 43.60px,transparent 44.60px);mask-image:radial-gradient(circle at 94.90px 92.50px,transparent 41.00px,rgba(0,0,0,0.35) 42.00px,rgba(0,0,0,0.35) 43.60px,transparent 44.60px)"></div><div class="ab" style="left:0;top:0;width:100%;height:100%;background:conic-gradient(from -8.00deg at 94.90px 92.50px,#000084 0.00deg,#000084 10.00deg,#000084 20.00deg,#000084 30.00deg,#000092 40.00deg,#0000aa 50.00deg,#0000c7 60.00deg,#0000e7 70.00deg,#0000ff 77.00deg,#0000ff 80.00deg,#0000ff 81.96deg,#0019ff 90.00deg,#003aff 100.00deg,#005cff 110.00deg,#007fff 120.00deg,#00a3ff 130.00deg,#00c7ff 140.00deg,#00dbff 145.56deg,#00e5f7 148.41deg,#05ebf2 150.00deg,#15ffe2 155.38deg,#22ffd5 160.00deg,#40ffb7 170.00deg,#5cff9b 180.00deg,#75ff82 190.00deg,#8aff6c 200.00deg,#9eff59 210.00deg,#b1ff46 220.00deg,#c8ff2f 230.00deg,#e7ff0f 240.00deg,#efff08 241.97deg,#f7f600 244.19deg,#ffec00 246.42deg,#ffdd00 250.00deg,#ffb800 260.00deg,#ff9600 270.00deg,#ff7c00 280.00deg,#ff6a00 290.00deg,#ff5b00 300.00deg,#ff4c00 310.00deg,#ff3900 320.00deg,#ff2100 330.00deg,#ff1300 334.37deg,#e80000 340.00deg,#e80000 340.01deg,#a20000 350.00deg,#840000 360.00deg);-webkit-mask-image:radial-gradient(circle at 94.90px 92.50px,transparent 44.40px,rgba(0,0,0,0.28) 45.40px,rgba(0,0,0,0.28) 47.00px,transparent 48.00px);mask-image:radial-gradient(circle at 94.90px 92.50px,transparent 44.40px,rgba(0,0,0,0.28) 45.40px,rgba(0,0,0,0.28) 47.00px,transparent 48.00px)"></div><div class="ab" style="left:0;top:0;width:100%;height:100%;background:conic-gradient(from -8.00deg at 94.90px 92.50px,#000094 0.00deg,#0000bc 10.00deg,#0000e2 20.00deg,#0000ff 29.48deg,#0000ff 30.00deg,#0000ff 36.81deg,#0007ff 40.00deg,#001bff 50.00deg,#0034ff 60.00deg,#0050ff 70.00deg,#006dff 80.00deg,#008cff 90.00deg,#00acff 100.00deg,#00cdff 110.00deg,#00dbff 113.98deg,#00e5f7 116.91deg,#09f0ee 120.00deg,#15ffe2 124.15deg,#25ffd1 130.00deg,#42ffb5 140.00deg,#5eff99 150.00deg,#7bff7c 160.00deg,#98ff5f 170.00deg,#b4ff43 180.00deg,#cdff2a 190.00deg,#e2ff15 200.00deg,#efff08 206.94deg,#f4f802 210.00deg,#f7f600 211.29deg,#ffec00 215.56deg,#ffe200 220.00deg,#ffc800 230.00deg,#ffa500 240.00deg,#ff7c00 250.00deg,#ff5700 260.00deg,#ff3600 270.00deg,#ff1d00 280.00deg,#ff1300 285.38deg,#f50a00 290.00deg,#e80000 297.13deg,#e30000 300.00deg,#d10000 310.00deg,#ba0000 320.00deg,#9e0000 330.00deg,#840000 340.00deg,#840000 350.00deg,#840000 360.00deg);-webkit-mask-image:radial-gradient(circle at 94.90px 92.50px,transparent 48.00px,rgba(0,0,0,0.20) 49.00px,rgba(0,0,0,0.20) 50.60px,transparent 51.60px);mask-image:radial-gradient(circle at 94.90px 92.50px,transparent 48.00px,rgba(0,0,0,0.20) 49.00px,rgba(0,0,0,0.20) 50.60px,transparent 51.60px)"></div><div class="ab" style="left:0;top:0;width:100%;height:100%;background:conic-gradient(from -8.00deg at 94.90px 92.50px,#000084 0.00deg,#000084 10.00deg,#000084 20.00deg,#000087 30.00deg,#00009e 40.00deg,#0000b5 50.00deg,#0000d0 60.00deg,#0000ef 70.00deg,#0000ff 74.68deg,#0000ff 79.91deg,#0000ff 80.00deg,#001fff 90.00deg,#003eff 100.00deg,#005fff 110.00deg,#0081ff 120.00deg,#00a4ff 130.00deg,#00c6ff 140.00deg,#00dbff 146.04deg,#00e5f7 149.00deg,#03e9f4 150.00deg,#15ffe2 156.21deg,#1fffd7 160.00deg,#3cffbb 170.00deg,#57ffa0 180.00deg,#6fff88 190.00deg,#84ff73 200.00deg,#96ff60 210.00deg,#a9ff4e 220.00deg,#bfff37 230.00deg,#ddff19 240.00deg,#efff08 244.84deg,#f7f600 247.14deg,#ffec00 249.45deg,#ffea00 250.00deg,#ffc600 260.00deg,#ffa600 270.00deg,#ff8d00 280.00deg,#ff7b00 290.00deg,#ff6c00 300.00deg,#ff5e00 310.00deg,#ff4c00 320.00deg,#ff3500 330.00deg,#ff1500 340.00deg,#ff1300 340.38deg,#e80000 343.80deg,#be0000 350.00deg,#840000 360.00deg);-webkit-mask-image:radial-gradient(circle at 94.90px 92.50px,transparent 51.80px,rgba(0,0,0,0.14) 52.80px,rgba(0,0,0,0.14) 54.40px,transparent 55.40px);mask-image:radial-gradient(circle at 94.90px 92.50px,transparent 51.80px,rgba(0,0,0,0.14) 52.80px,rgba(0,0,0,0.14) 54.40px,transparent 55.40px)"></div><div class="ab" style="left:0;top:0;width:100%;height:100%;background:conic-gradient(from -8.00deg at 94.90px 92.50px,#0000a3 0.00deg,#0000ca 10.00deg,#0000ef 20.00deg,#0000ff 25.48deg,#0000ff 30.00deg,#0000ff 31.88deg,#0010ff 40.00deg,#0024ff 50.00deg,#003cff 60.00deg,#0057ff 70.00deg,#0073ff 80.00deg,#0091ff 90.00deg,#00b0ff 100.00deg,#00d0ff 110.00deg,#00dbff 113.31deg,#00e5f7 116.34deg,#0af2ed 120.00deg,#15ffe2 123.85deg,#26ffd1 130.00deg,#41ffb6 140.00deg,#5cff9a 150.00deg,#79ff7e 160.00deg,#95ff62 170.00deg,#afff48 180.00deg,#c7ff30 190.00deg,#dbff1b 200.00deg,#eeff09 210.00deg,#efff08 210.56deg,#f7f600 214.98deg,#ffec00 219.40deg,#ffeb00 220.00deg,#ffd200 230.00deg,#ffb000 240.00deg,#ff8800 250.00deg,#ff6500 260.00deg,#ff4500 270.00deg,#ff2c00 280.00deg,#ff1a00 290.00deg,#ff1300 295.28deg,#f70c00 300.00deg,#e80000 308.61deg,#e50000 310.00deg,#d00000 320.00deg,#b40000 330.00deg,#8d0000 340.00deg,#840000 350.00deg,#840000 360.00deg);-webkit-mask-image:radial-gradient(circle at 94.90px 92.50px,transparent 55.80px,rgba(0,0,0,0.10) 56.80px,rgba(0,0,0,0.10) 58.40px,transparent 59.40px);mask-image:radial-gradient(circle at 94.90px 92.50px,transparent 55.80px,rgba(0,0,0,0.10) 56.80px,rgba(0,0,0,0.10) 58.40px,transparent 59.40px)"></div><div class="ab" style="left:0;top:0;width:100%;height:100%;clip-path:polygon(47.8px -8.5px,110.8px -0.2px,109.0px 2.4px,106.1px 4.7px,101.5px 7.5px,96.8px 9.8px,94.5px 13.1px,94.5px 22.0px,97.3px 24.8px,97.3px 29.4px,94.9px 31.8px,90.7px 33.6px,90.3px 38.3px,93.5px 41.1px,94.0px 48.6px,95.9px 49.5px,94.0px 52.3px,88.9px 55.1px,88.9px 59.5px,79.5px 59.5px)"><div class="ci" style="left:-30.10px;top:-32.50px;width:250.00px;height:250.00px;background:conic-gradient(from 15deg,#7dff7a 0.00deg,#efff08 131.19deg,#f7f600 140.71deg,#ffec00 150.24deg,#ff6200 290.00deg,#ff1a00 320.00deg,#ff1300 325.01deg,#e80000 339.09deg,#de0000 345.00deg,#c70000 360.00deg)"></div><div class="ci" style="left:-27.10px;top:-29.50px;width:244.00px;height:244.00px;background:conic-gradient(from 15deg,#7dff79 0.00deg,#efff08 130.76deg,#f7f600 140.27deg,#ffec00 149.78deg,#ff6100 290.00deg,#ff1900 320.00deg,#ff1300 324.43deg,#e80000 338.48deg,#dd0000 345.00deg,#c50000 360.00deg)"></div><div class="ci" style="left:-24.10px;top:-26.50px;width:238.00px;height:238.00px;background:conic-gradient(from 15deg,#7eff79 0.00deg,#efff08 130.29deg,#f7f600 139.78deg,#ffec00 149.28deg,#ff6000 290.00deg,#ff1800 320.00deg,#ff1300 323.78deg,#e80000 337.80deg,#dc0000 345.00deg,#c40000 360.00deg)"></div><div class="ci" style="left:-21.10px;top:-23.50px;width:232.00px;height:232.00px;background:conic-gradient(from 15deg,#7eff79 0.00deg,#efff08 129.77deg,#f7f600 139.25deg,#ffec00 148.72deg,#ff5f00 290.00deg,#ff1700 320.00deg,#ff1300 323.06deg,#e80000 337.06deg,#db0000 345.00deg,#c30000 360.00deg)"></div><div class="ci" style="left:-18.10px;top:-20.50px;width:226.00px;height:226.00px;background:conic-gradient(from 15deg,#7eff79 0.00deg,#efff08 129.20deg,#f7f600 138.65deg,#ffec00 148.11deg,#ff5e00 290.00deg,#ff1600 320.00deg,#ff1300 322.27deg,#e80000 336.25deg,#d90000 345.00deg,#c20000 360.00deg)"></div><div class="ci" style="left:-15.10px;top:-17.50px;width:220.00px;height:220.00px;background:conic-gradient(from 15deg,#7eff78 0.00deg,#efff08 128.57deg,#f7f600 138.00deg,#ffec00 147.44deg,#ff5d00 290.00deg,#ff1500 320.00deg,#ff1300 321.41deg,#e80000 335.35deg,#d80000 345.00deg,#c00000 360.00deg)"></div><div class="ci" style="left:-12.10px;top:-14.50px;width:214.00px;height:214.00px;background:conic-gradient(from 15deg,#7fff78 0.00deg,#efff08 127.88deg,#f7f600 137.29deg,#ffec00 146.70deg,#ff5c00 290.00deg,#ff1400 320.00deg,#ff1300 320.45deg,#e80000 334.36deg,#d60000 345.00deg,#be0000 360.00deg)"></div><div class="ci" style="left:-9.10px;top:-11.50px;width:208.00px;height:208.00px;background:conic-gradient(from 15deg,#7fff78 0.00deg,#efff08 127.11deg,#f7f600 136.50deg,#ffec00 145.88deg,#ff5b00 290.00deg,#ff1300 319.67deg,#fe1200 320.00deg,#e80000 333.27deg,#d40000 345.00deg,#bc0000 360.00deg)"></div><div class="ci" style="left:-6.10px;top:-8.50px;width:202.00px;height:202.00px;background:conic-gradient(from 15deg,#80ff77 0.00deg,#efff08 126.28deg,#f7f600 135.63deg,#ffec00 144.99deg,#ff5a00 290.00deg,#ff1300 319.02deg,#fc1100 320.00deg,#e80000 332.08deg,#d20000 345.00deg,#ba0000 360.00deg)"></div><div class="ci" style="left:-3.10px;top:-5.50px;width:196.00px;height:196.00px;background:conic-gradient(from 15deg,#80ff77 0.00deg,#efff08 125.36deg,#f7f600 134.68deg,#ffec00 144.01deg,#ff5800 290.00deg,#ff1300 318.32deg,#fa0f00 320.00deg,#e80000 330.77deg,#d00000 345.00deg,#b80000 360.00deg)"></div><div class="ci" style="left:-0.10px;top:-2.50px;width:190.00px;height:190.00px;background:conic-gradient(from 15deg,#80ff76 0.00deg,#efff08 124.35deg,#f7f600 133.64deg,#ffec00 142.93deg,#ff5700 290.00deg,#ff1300 317.54deg,#f80d00 320.00deg,#e80000 329.33deg,#cd0000 345.00deg,#b50000 360.00deg)"></div><div class="ci" style="left:2.90px;top:0.50px;width:184.00px;height:184.00px;background:conic-gradient(from 15deg,#81ff76 0.00deg,#efff08 123.25deg,#f7f600 132.50deg,#ffec00 141.75deg,#ff5500 290.00deg,#ff1300 316.69deg,#f50b00 320.00deg,#e80000 327.75deg,#cb0000 345.00deg,#b20000 360.00deg)"></div><div class="ci" style="left:5.90px;top:3.50px;width:178.00px;height:178.00px;background:conic-gradient(from 15deg,#82ff75 0.00deg,#efff08 122.04deg,#f7f600 131.24deg,#ffec00 140.45deg,#ff5300 290.00deg,#ff1300 315.75deg,#f20800 320.00deg,#e80000 326.03deg,#c70000 345.00deg,#af0000 360.00deg)"></div><div class="ci" style="left:8.90px;top:6.50px;width:172.00px;height:172.00px;background:conic-gradient(from 15deg,#82ff75 0.00deg,#efff08 120.71deg,#f7f600 129.87deg,#ffec00 139.04deg,#ff5000 290.00deg,#ff1300 314.73deg,#ef0600 320.00deg,#e80000 324.14deg,#c40000 345.00deg,#ac0000 360.00deg)"></div><div class="ci" style="left:11.90px;top:9.50px;width:166.00px;height:166.00px;background:conic-gradient(from 15deg,#83ff74 0.00deg,#efff08 119.26deg,#f7f600 128.37deg,#ffec00 137.49deg,#ff4e00 290.00deg,#ff1300 313.62deg,#eb0300 320.00deg,#e80000 322.07deg,#c00000 345.00deg,#a80000 360.00deg)"></div><div class="ci" style="left:14.90px;top:12.50px;width:160.00px;height:160.00px;background:conic-gradient(from 15deg,#84ff73 0.00deg,#efff08 117.68deg,#f7f600 126.73deg,#ffec00 135.79deg,#ff4b00 290.00deg,#ff1300 312.40deg,#e80000 319.89deg,#e70000 320.00deg,#bc0000 345.00deg,#a30000 360.00deg)"></div><div class="ci" style="left:17.90px;top:15.50px;width:154.00px;height:154.00px;background:conic-gradient(from 15deg,#85ff72 0.00deg,#efff08 115.95deg,#f7f600 124.95deg,#ffec00 133.94deg,#ff4800 290.00deg,#ff1300 311.06deg,#e80000 318.51deg,#e30000 320.00deg,#b80000 345.00deg,#9f0000 360.00deg)"></div><div class="ci" style="left:20.90px;top:18.50px;width:148.00px;height:148.00px;background:conic-gradient(from 15deg,#86ff71 0.00deg,#efff08 114.06deg,#f7f600 123.00deg,#ffec00 131.93deg,#ff4500 290.00deg,#ff1300 309.61deg,#e80000 317.00deg,#de0000 320.00deg,#b30000 345.00deg,#990000 360.00deg)"></div><div class="ci" style="left:23.90px;top:21.50px;width:142.00px;height:142.00px;background:conic-gradient(from 15deg,#87ff70 0.00deg,#efff08 112.01deg,#f7f600 120.88deg,#ffec00 129.74deg,#ff4100 290.00deg,#ff1300 308.03deg,#e80000 315.37deg,#d90000 320.00deg,#ad0000 345.00deg,#940000 360.00deg)"></div><div class="ci" style="left:26.90px;top:24.50px;width:136.00px;height:136.00px;background:conic-gradient(from 15deg,#88ff6f 0.00deg,#efff08 109.78deg,#f7f600 118.57deg,#ffec00 127.36deg,#ff3d00 290.00deg,#ff1300 306.31deg,#e80000 313.59deg,#d30000 320.00deg,#a70000 345.00deg,#8d0000 360.00deg)"></div><div class="ci" style="left:29.90px;top:27.50px;width:130.00px;height:130.00px;background:conic-gradient(from 15deg,#89ff6e 0.00deg,#efff08 107.37deg,#f7f600 116.07deg,#ffec00 124.77deg,#ff3900 290.00deg,#ff1300 304.45deg,#e80000 311.65deg,#cd0000 320.00deg,#a00000 345.00deg,#860000 360.00deg)"></div><div class="ci" style="left:32.90px;top:30.50px;width:124.00px;height:124.00px;background:conic-gradient(from 15deg,#8aff6c 0.00deg,#efff08 104.75deg,#f7f600 113.36deg,#ffec00 121.97deg,#ff3400 290.00deg,#ff1300 302.43deg,#e80000 309.56deg,#c60000 320.00deg,#980000 345.00deg,#840000 360.00deg)"></div><div class="ci" style="left:35.90px;top:33.50px;width:118.00px;height:118.00px;background:conic-gradient(from 15deg,#8cff6b 0.00deg,#efff08 101.91deg,#f7f600 110.43deg,#ffec00 118.94deg,#ff2e00 290.00deg,#ff1300 300.25deg,#e80000 307.29deg,#be0000 320.00deg,#900000 345.00deg,#840000 360.00deg)"></div><div class="ci" style="left:38.90px;top:36.50px;width:112.00px;height:112.00px;background:conic-gradient(from 15deg,#8eff69 0.00deg,#efff08 98.85deg,#f7f600 107.26deg,#ffec00 115.67deg,#ff2800 290.00deg,#ff1300 297.89deg,#e80000 304.85deg,#b50000 320.00deg,#870000 345.00deg,#840000 360.00deg)"></div><div class="ci" style="left:41.90px;top:39.50px;width:106.00px;height:106.00px;background:conic-gradient(from 15deg,#90ff67 0.00deg,#efff08 95.56deg,#f7f600 103.86deg,#ffec00 112.15deg,#ff2200 290.00deg,#ff1300 295.36deg,#e80000 302.22deg,#ac0000 320.00deg,#840000 345.00deg,#840000 360.00deg)"></div><div class="ci" style="left:44.90px;top:42.50px;width:100.00px;height:100.00px;background:conic-gradient(from 15deg,#92ff65 0.00deg,#efff08 92.03deg,#f7f600 100.20deg,#ffec00 108.37deg,#ff1a00 290.00deg,#ff1300 292.63deg,#e80000 299.39deg,#a10000 320.00deg,#840000 345.00deg,#840000 360.00deg)"></div><div class="ci" style="left:47.90px;top:45.50px;width:94.00px;height:94.00px;background:conic-gradient(from 15deg,#94ff62 0.00deg,#efff08 88.24deg,#f7f600 96.28deg,#ffec00 104.32deg,#ff1300 289.30deg,#fe1200 290.00deg,#e80000 296.37deg,#960000 320.00deg,#840000 345.00deg,#840000 360.00deg)"></div><div class="ci" style="left:50.90px;top:48.50px;width:88.00px;height:88.00px;background:conic-gradient(from 15deg,#97ff60 0.00deg,#efff08 84.19deg,#f7f600 92.09deg,#ffec00 99.99deg,#ff1300 281.76deg,#f30900 290.00deg,#e80000 293.13deg,#890000 320.00deg,#840000 345.00deg,#840000 360.00deg)"></div><div class="ci" style="left:53.90px;top:51.50px;width:82.00px;height:82.00px;background:conic-gradient(from 15deg,#9aff5d 0.00deg,#efff08 79.87deg,#f7f600 87.63deg,#ffec00 95.38deg,#ff1300 273.73deg,#e80000 289.23deg,#e70000 290.00deg,#840000 320.00deg,#840000 345.00deg,#840000 360.00deg)"></div><div class="ci" style="left:56.90px;top:54.50px;width:76.00px;height:76.00px;background:conic-gradient(from 15deg,#9dff5a 0.00deg,#efff08 75.29deg,#f7f600 82.88deg,#ffec00 90.48deg,#ff1300 265.19deg,#e80000 280.38deg,#d90000 290.00deg,#840000 320.00deg,#840000 345.00deg,#840000 360.00deg)"></div><div class="ci" style="left:59.90px;top:57.50px;width:70.00px;height:70.00px;background:conic-gradient(from 15deg,#a1ff56 0.00deg,#efff08 70.43deg,#f7f600 77.86deg,#ffec00 85.29deg,#ff1300 256.15deg,#e80000 271.01deg,#ca0000 290.00deg,#840000 320.00deg,#840000 345.00deg,#840000 360.00deg)"></div><div class="ci" style="left:62.90px;top:60.50px;width:64.00px;height:64.00px;background:conic-gradient(from 15deg,#a4ff52 0.00deg,#efff08 65.31deg,#f7f600 72.57deg,#ffec00 79.82deg,#ff1300 246.62deg,#e80000 261.12deg,#ba0000 290.00deg,#840000 320.00deg,#840000 345.00deg,#840000 360.00deg)"></div></div><svg class="ab" style="left:65.70px;top:63.30px;overflow:visible" width="59" height="59"><rect x="-0.2" y="22.9" width="2.2" height="2.2" fill="#00cbff"/><rect x="-0.2" y="25.0" width="2.2" height="2.2" fill="#001aff"/><rect x="-0.2" y="27.1" width="2.2" height="2.2" fill="#f8f500"/><rect x="-0.2" y="29.2" width="2.2" height="2.2" fill="#0000d3"/><rect x="-0.2" y="31.3" width="2.2" height="2.2" fill="#99ff5e"/><rect x="-0.2" y="33.4" width="2.2" height="2.2" fill="#0df6ea"/><rect x="1.9" y="16.6" width="2.2" height="2.2" fill="#0000c3"/><rect x="1.9" y="18.7" width="2.2" height="2.2" fill="#82ff75"/><rect x="1.9" y="20.8" width="2.2" height="2.2" fill="#0000ab"/><rect x="1.9" y="22.9" width="2.2" height="2.2" fill="#45ffb2"/><rect x="1.9" y="25.0" width="2.2" height="2.2" fill="#0000d0"/><rect x="1.9" y="27.1" width="2.2" height="2.2" fill="#0000e9"/><rect x="1.9" y="29.2" width="2.2" height="2.2" fill="#3dffb9"/><rect x="1.9" y="31.3" width="2.2" height="2.2" fill="#ff4f00"/><rect x="1.9" y="33.4" width="2.2" height="2.2" fill="#0000ff"/><rect x="1.9" y="35.5" width="2.2" height="2.2" fill="#0064ff"/><rect x="1.9" y="37.6" width="2.2" height="2.2" fill="#e4ff13"/><rect x="1.9" y="39.7" width="2.2" height="2.2" fill="#bc0000"/><rect x="4.0" y="12.4" width="2.2" height="2.2" fill="#bbff3c"/><rect x="4.0" y="14.5" width="2.2" height="2.2" fill="#26ffd0"/><rect x="4.0" y="16.6" width="2.2" height="2.2" fill="#9b0000"/><rect x="4.0" y="18.7" width="2.2" height="2.2" fill="#0000b5"/><rect x="4.0" y="20.8" width="2.2" height="2.2" fill="#ff3100"/><rect x="4.0" y="22.9" width="2.2" height="2.2" fill="#00a8ff"/><rect x="4.0" y="25.0" width="2.2" height="2.2" fill="#0014ff"/><rect x="4.0" y="27.1" width="2.2" height="2.2" fill="#0000ff"/><rect x="4.0" y="29.2" width="2.2" height="2.2" fill="#00bbff"/><rect x="4.0" y="31.3" width="2.2" height="2.2" fill="#ff5900"/><rect x="4.0" y="33.4" width="2.2" height="2.2" fill="#0039ff"/><rect x="4.0" y="35.5" width="2.2" height="2.2" fill="#bfff38"/><rect x="4.0" y="37.6" width="2.2" height="2.2" fill="#eeff09"/><rect x="4.0" y="39.7" width="2.2" height="2.2" fill="#12fce4"/><rect x="4.0" y="41.8" width="2.2" height="2.2" fill="#a3ff54"/><rect x="4.0" y="43.9" width="2.2" height="2.2" fill="#0000c8"/><rect x="6.1" y="10.3" width="2.2" height="2.2" fill="#0000c5"/><rect x="6.1" y="12.4" width="2.2" height="2.2" fill="#0053ff"/><rect x="6.1" y="14.5" width="2.2" height="2.2" fill="#ffd900"/><rect x="6.1" y="16.6" width="2.2" height="2.2" fill="#40ffb7"/><rect x="6.1" y="18.7" width="2.2" height="2.2" fill="#00c1ff"/><rect x="6.1" y="20.8" width="2.2" height="2.2" fill="#c2ff35"/><rect x="6.1" y="22.9" width="2.2" height="2.2" fill="#55ffa2"/><rect x="6.1" y="25.0" width="2.2" height="2.2" fill="#00b2ff"/><rect x="6.1" y="27.1" width="2.2" height="2.2" fill="#ff6d00"/><rect x="6.1" y="29.2" width="2.2" height="2.2" fill="#ffc700"/><rect x="6.1" y="31.3" width="2.2" height="2.2" fill="#0079ff"/><rect x="6.1" y="33.4" width="2.2" height="2.2" fill="#b9ff3e"/><rect x="6.1" y="35.5" width="2.2" height="2.2" fill="#90ff67"/><rect x="6.1" y="37.6" width="2.2" height="2.2" fill="#ff2100"/><rect x="6.1" y="39.7" width="2.2" height="2.2" fill="#ffab00"/><rect x="6.1" y="41.8" width="2.2" height="2.2" fill="#00a6ff"/><rect x="6.1" y="43.9" width="2.2" height="2.2" fill="#960000"/><rect x="6.1" y="46.0" width="2.2" height="2.2" fill="#0000ff"/><rect x="8.2" y="8.2" width="2.2" height="2.2" fill="#38ffbf"/><rect x="8.2" y="10.3" width="2.2" height="2.2" fill="#ff9000"/><rect x="8.2" y="12.4" width="2.2" height="2.2" fill="#001cff"/><rect x="8.2" y="14.5" width="2.2" height="2.2" fill="#72ff84"/><rect x="8.2" y="16.6" width="2.2" height="2.2" fill="#0000ad"/><rect x="8.2" y="18.7" width="2.2" height="2.2" fill="#ffe400"/><rect x="8.2" y="20.8" width="2.2" height="2.2" fill="#ff8900"/><rect x="8.2" y="22.9" width="2.2" height="2.2" fill="#b7ff3f"/><rect x="8.2" y="25.0" width="2.2" height="2.2" fill="#ff2100"/><rect x="8.2" y="27.1" width="2.2" height="2.2" fill="#00c1ff"/><rect x="8.2" y="29.2" width="2.2" height="2.2" fill="#ffcb00"/><rect x="8.2" y="31.3" width="2.2" height="2.2" fill="#c9ff2e"/><rect x="8.2" y="33.4" width="2.2" height="2.2" fill="#bdff3a"/><rect x="8.2" y="35.5" width="2.2" height="2.2" fill="#57ff9f"/><rect x="8.2" y="37.6" width="2.2" height="2.2" fill="#ff4200"/><rect x="8.2" y="39.7" width="2.2" height="2.2" fill="#c00000"/><rect x="8.2" y="41.8" width="2.2" height="2.2" fill="#66ff91"/><rect x="8.2" y="43.9" width="2.2" height="2.2" fill="#ffe800"/><rect x="8.2" y="46.0" width="2.2" height="2.2" fill="#0000c6"/><rect x="8.2" y="48.1" width="2.2" height="2.2" fill="#ffc500"/><rect x="10.3" y="6.1" width="2.2" height="2.2" fill="#f4f802"/><rect x="10.3" y="8.2" width="2.2" height="2.2" fill="#880000"/><rect x="10.3" y="10.3" width="2.2" height="2.2" fill="#ff5300"/><rect x="10.3" y="12.4" width="2.2" height="2.2" fill="#00a3ff"/><rect x="10.3" y="14.5" width="2.2" height="2.2" fill="#1dffd9"/><rect x="10.3" y="16.6" width="2.2" height="2.2" fill="#ffe400"/><rect x="10.3" y="18.7" width="2.2" height="2.2" fill="#00009a"/><rect x="10.3" y="20.8" width="2.2" height="2.2" fill="#5cff9b"/><rect x="10.3" y="22.9" width="2.2" height="2.2" fill="#002cff"/><rect x="10.3" y="25.0" width="2.2" height="2.2" fill="#0000ff"/><rect x="10.3" y="27.1" width="2.2" height="2.2" fill="#0000c4"/><rect x="10.3" y="29.2" width="2.2" height="2.2" fill="#ff8600"/><rect x="10.3" y="31.3" width="2.2" height="2.2" fill="#0004ff"/><rect x="10.3" y="33.4" width="2.2" height="2.2" fill="#007dff"/><rect x="10.3" y="35.5" width="2.2" height="2.2" fill="#22ffd5"/><rect x="10.3" y="37.6" width="2.2" height="2.2" fill="#ff2400"/><rect x="10.3" y="39.7" width="2.2" height="2.2" fill="#0000dd"/><rect x="10.3" y="41.8" width="2.2" height="2.2" fill="#52ffa5"/><rect x="10.3" y="43.9" width="2.2" height="2.2" fill="#a4ff53"/><rect x="10.3" y="46.0" width="2.2" height="2.2" fill="#ff1900"/><rect x="10.3" y="48.1" width="2.2" height="2.2" fill="#ff5600"/><rect x="10.3" y="50.2" width="2.2" height="2.2" fill="#ff2b00"/><rect x="12.4" y="4.0" width="2.2" height="2.2" fill="#009cff"/><rect x="12.4" y="6.1" width="2.2" height="2.2" fill="#36ffc1"/><rect x="12.4" y="8.2" width="2.2" height="2.2" fill="#07eef0"/><rect x="12.4" y="10.3" width="2.2" height="2.2" fill="#ff1800"/><rect x="12.4" y="12.4" width="2.2" height="2.2" fill="#b00000"/><rect x="12.4" y="14.5" width="2.2" height="2.2" fill="#001aff"/><rect x="12.4" y="16.6" width="2.2" height="2.2" fill="#0034ff"/><rect x="12.4" y="18.7" width="2.2" height="2.2" fill="#006dff"/><rect x="12.4" y="20.8" width="2.2" height="2.2" fill="#006fff"/><rect x="12.4" y="22.9" width="2.2" height="2.2" fill="#6fff88"/><rect x="12.4" y="25.0" width="2.2" height="2.2" fill="#c5ff32"/><rect x="12.4" y="27.1" width="2.2" height="2.2" fill="#008dff"/><rect x="12.4" y="29.2" width="2.2" height="2.2" fill="#000084"/><rect x="12.4" y="31.3" width="2.2" height="2.2" fill="#39ffbe"/><rect x="12.4" y="33.4" width="2.2" height="2.2" fill="#10f9e7"/><rect x="12.4" y="35.5" width="2.2" height="2.2" fill="#b2ff45"/><rect x="12.4" y="37.6" width="2.2" height="2.2" fill="#b60000"/><rect x="12.4" y="39.7" width="2.2" height="2.2" fill="#ffcf00"/><rect x="12.4" y="41.8" width="2.2" height="2.2" fill="#88ff6f"/><rect x="12.4" y="43.9" width="2.2" height="2.2" fill="#dcff1b"/><rect x="12.4" y="46.0" width="2.2" height="2.2" fill="#ffdd00"/><rect x="12.4" y="48.1" width="2.2" height="2.2" fill="#0000be"/><rect x="12.4" y="50.2" width="2.2" height="2.2" fill="#f40a00"/><rect x="12.4" y="52.3" width="2.2" height="2.2" fill="#ff7b00"/><rect x="14.5" y="4.0" width="2.2" height="2.2" fill="#ff2200"/><rect x="14.5" y="6.1" width="2.2" height="2.2" fill="#ff6a00"/><rect x="14.5" y="8.2" width="2.2" height="2.2" fill="#23ffd4"/><rect x="14.5" y="10.3" width="2.2" height="2.2" fill="#28ffce"/><rect x="14.5" y="12.4" width="2.2" height="2.2" fill="#0000f8"/><rect x="14.5" y="14.5" width="2.2" height="2.2" fill="#eaff0d"/><rect x="14.5" y="16.6" width="2.2" height="2.2" fill="#0000c8"/><rect x="14.5" y="18.7" width="2.2" height="2.2" fill="#0000ce"/><rect x="14.5" y="20.8" width="2.2" height="2.2" fill="#0055ff"/><rect x="14.5" y="22.9" width="2.2" height="2.2" fill="#0026ff"/><rect x="14.5" y="25.0" width="2.2" height="2.2" fill="#00dbff"/><rect x="14.5" y="27.1" width="2.2" height="2.2" fill="#0000bc"/><rect x="14.5" y="29.2" width="2.2" height="2.2" fill="#000080"/><rect x="14.5" y="31.3" width="2.2" height="2.2" fill="#001bff"/><rect x="14.5" y="33.4" width="2.2" height="2.2" fill="#0000f5"/><rect x="14.5" y="35.5" width="2.2" height="2.2" fill="#0bf3ec"/><rect x="14.5" y="37.6" width="2.2" height="2.2" fill="#00009d"/><rect x="14.5" y="39.7" width="2.2" height="2.2" fill="#ff2200"/><rect x="14.5" y="41.8" width="2.2" height="2.2" fill="#d9ff1e"/><rect x="14.5" y="43.9" width="2.2" height="2.2" fill="#0018ff"/><rect x="14.5" y="46.0" width="2.2" height="2.2" fill="#0082ff"/><rect x="14.5" y="48.1" width="2.2" height="2.2" fill="#00e3f9"/><rect x="14.5" y="50.2" width="2.2" height="2.2" fill="#0cf4eb"/><rect x="14.5" y="52.3" width="2.2" height="2.2" fill="#0000ff"/><rect x="16.6" y="1.9" width="2.2" height="2.2" fill="#ff3a00"/><rect x="16.6" y="4.0" width="2.2" height="2.2" fill="#870000"/><rect x="16.6" y="6.1" width="2.2" height="2.2" fill="#5fff97"/><rect x="16.6" y="8.2" width="2.2" height="2.2" fill="#6eff89"/><rect x="16.6" y="10.3" width="2.2" height="2.2" fill="#0000e3"/><rect x="16.6" y="12.4" width="2.2" height="2.2" fill="#0000f6"/><rect x="16.6" y="14.5" width="2.2" height="2.2" fill="#00defd"/><rect x="16.6" y="16.6" width="2.2" height="2.2" fill="#008fff"/><rect x="16.6" y="18.7" width="2.2" height="2.2" fill="#ff4d00"/><rect x="16.6" y="20.8" width="2.2" height="2.2" fill="#0025ff"/><rect x="16.6" y="22.9" width="2.2" height="2.2" fill="#00009a"/><rect x="16.6" y="25.0" width="2.2" height="2.2" fill="#b80000"/><rect x="16.6" y="27.1" width="2.2" height="2.2" fill="#93ff64"/><rect x="16.6" y="29.2" width="2.2" height="2.2" fill="#0016ff"/><rect x="16.6" y="31.3" width="2.2" height="2.2" fill="#9fff58"/><rect x="16.6" y="33.4" width="2.2" height="2.2" fill="#00009f"/><rect x="16.6" y="35.5" width="2.2" height="2.2" fill="#93ff64"/><rect x="16.6" y="37.6" width="2.2" height="2.2" fill="#980000"/><rect x="16.6" y="39.7" width="2.2" height="2.2" fill="#ff2c00"/><rect x="16.6" y="41.8" width="2.2" height="2.2" fill="#ffca00"/><rect x="16.6" y="43.9" width="2.2" height="2.2" fill="#008bff"/><rect x="16.6" y="46.0" width="2.2" height="2.2" fill="#0ef7e9"/><rect x="16.6" y="48.1" width="2.2" height="2.2" fill="#002bff"/><rect x="16.6" y="50.2" width="2.2" height="2.2" fill="#ff8200"/><rect x="16.6" y="52.3" width="2.2" height="2.2" fill="#96ff61"/><rect x="16.6" y="54.4" width="2.2" height="2.2" fill="#ff7c00"/><rect x="18.7" y="1.9" width="2.2" height="2.2" fill="#00d1ff"/><rect x="18.7" y="4.0" width="2.2" height="2.2" fill="#0064ff"/><rect x="18.7" y="6.1" width="2.2" height="2.2" fill="#ff5d00"/><rect x="18.7" y="8.2" width="2.2" height="2.2" fill="#910000"/><rect x="18.7" y="10.3" width="2.2" height="2.2" fill="#ff3600"/><rect x="18.7" y="12.4" width="2.2" height="2.2" fill="#ff6200"/><rect x="18.7" y="14.5" width="2.2" height="2.2" fill="#ff5700"/><rect x="18.7" y="16.6" width="2.2" height="2.2" fill="#ffa100"/><rect x="18.7" y="18.7" width="2.2" height="2.2" fill="#0068ff"/><rect x="18.7" y="20.8" width="2.2" height="2.2" fill="#8aff6d"/><rect x="18.7" y="22.9" width="2.2" height="2.2" fill="#05ebf2"/><rect x="18.7" y="25.0" width="2.2" height="2.2" fill="#0000a1"/><rect x="18.7" y="27.1" width="2.2" height="2.2" fill="#0000a0"/><rect x="18.7" y="29.2" width="2.2" height="2.2" fill="#009eff"/><rect x="18.7" y="31.3" width="2.2" height="2.2" fill="#0089ff"/><rect x="18.7" y="33.4" width="2.2" height="2.2" fill="#ffcd00"/><rect x="18.7" y="35.5" width="2.2" height="2.2" fill="#b20000"/><rect x="18.7" y="37.6" width="2.2" height="2.2" fill="#50ffa7"/><rect x="18.7" y="39.7" width="2.2" height="2.2" fill="#c80000"/><rect x="18.7" y="41.8" width="2.2" height="2.2" fill="#8d0000"/><rect x="18.7" y="43.9" width="2.2" height="2.2" fill="#b40000"/><rect x="18.7" y="46.0" width="2.2" height="2.2" fill="#0cf4eb"/><rect x="18.7" y="48.1" width="2.2" height="2.2" fill="#0061ff"/><rect x="18.7" y="50.2" width="2.2" height="2.2" fill="#0068ff"/><rect x="18.7" y="52.3" width="2.2" height="2.2" fill="#0049ff"/><rect x="18.7" y="54.4" width="2.2" height="2.2" fill="#0051ff"/><rect x="20.8" y="1.9" width="2.2" height="2.2" fill="#e1ff15"/><rect x="20.8" y="4.0" width="2.2" height="2.2" fill="#f30900"/><rect x="20.8" y="6.1" width="2.2" height="2.2" fill="#ff4200"/><rect x="20.8" y="8.2" width="2.2" height="2.2" fill="#6bff8c"/><rect x="20.8" y="10.3" width="2.2" height="2.2" fill="#f9f300"/><rect x="20.8" y="12.4" width="2.2" height="2.2" fill="#ff6800"/><rect x="20.8" y="14.5" width="2.2" height="2.2" fill="#0000e2"/><rect x="20.8" y="16.6" width="2.2" height="2.2" fill="#ffec00"/><rect x="20.8" y="18.7" width="2.2" height="2.2" fill="#e80000"/><rect x="20.8" y="20.8" width="2.2" height="2.2" fill="#ff7900"/><rect x="20.8" y="22.9" width="2.2" height="2.2" fill="#ff9700"/><rect x="20.8" y="25.0" width="2.2" height="2.2" fill="#69ff8d"/><rect x="20.8" y="27.1" width="2.2" height="2.2" fill="#0037ff"/><rect x="20.8" y="29.2" width="2.2" height="2.2" fill="#ff7200"/><rect x="20.8" y="31.3" width="2.2" height="2.2" fill="#00d4ff"/><rect x="20.8" y="33.4" width="2.2" height="2.2" fill="#ff6700"/><rect x="20.8" y="35.5" width="2.2" height="2.2" fill="#a00000"/><rect x="20.8" y="37.6" width="2.2" height="2.2" fill="#26ffd1"/><rect x="20.8" y="39.7" width="2.2" height="2.2" fill="#2affcd"/><rect x="20.8" y="41.8" width="2.2" height="2.2" fill="#bd0000"/><rect x="20.8" y="43.9" width="2.2" height="2.2" fill="#ffaf00"/><rect x="20.8" y="46.0" width="2.2" height="2.2" fill="#002eff"/><rect x="20.8" y="48.1" width="2.2" height="2.2" fill="#0002ff"/><rect x="20.8" y="50.2" width="2.2" height="2.2" fill="#001bff"/><rect x="20.8" y="52.3" width="2.2" height="2.2" fill="#ee0500"/><rect x="20.8" y="54.4" width="2.2" height="2.2" fill="#ff6200"/><rect x="22.9" y="-0.2" width="2.2" height="2.2" fill="#0016ff"/><rect x="22.9" y="1.9" width="2.2" height="2.2" fill="#ff4f00"/><rect x="22.9" y="4.0" width="2.2" height="2.2" fill="#960000"/><rect x="22.9" y="6.1" width="2.2" height="2.2" fill="#fdef00"/><rect x="22.9" y="8.2" width="2.2" height="2.2" fill="#00e6f6"/><rect x="22.9" y="10.3" width="2.2" height="2.2" fill="#a3ff53"/><rect x="22.9" y="12.4" width="2.2" height="2.2" fill="#0006ff"/><rect x="22.9" y="14.5" width="2.2" height="2.2" fill="#000090"/><rect x="22.9" y="16.6" width="2.2" height="2.2" fill="#a10000"/><rect x="22.9" y="18.7" width="2.2" height="2.2" fill="#f7f600"/><rect x="22.9" y="20.8" width="2.2" height="2.2" fill="#91ff66"/><rect x="22.9" y="22.9" width="2.2" height="2.2" fill="#cc0000"/><rect x="22.9" y="25.0" width="2.2" height="2.2" fill="#45ffb2"/><rect x="22.9" y="27.1" width="2.2" height="2.2" fill="#ff2400"/><rect x="22.9" y="29.2" width="2.2" height="2.2" fill="#ff4f00"/><rect x="22.9" y="31.3" width="2.2" height="2.2" fill="#0058ff"/><rect x="22.9" y="33.4" width="2.2" height="2.2" fill="#0081ff"/><rect x="22.9" y="35.5" width="2.2" height="2.2" fill="#00abff"/><rect x="22.9" y="37.6" width="2.2" height="2.2" fill="#0076ff"/><rect x="22.9" y="39.7" width="2.2" height="2.2" fill="#c2ff34"/><rect x="22.9" y="41.8" width="2.2" height="2.2" fill="#0089ff"/><rect x="22.9" y="43.9" width="2.2" height="2.2" fill="#39ffbe"/><rect x="22.9" y="46.0" width="2.2" height="2.2" fill="#0006ff"/><rect x="22.9" y="48.1" width="2.2" height="2.2" fill="#e80000"/><rect x="22.9" y="50.2" width="2.2" height="2.2" fill="#03e9f4"/><rect x="22.9" y="52.3" width="2.2" height="2.2" fill="#59ff9e"/><rect x="22.9" y="54.4" width="2.2" height="2.2" fill="#c0ff37"/><rect x="22.9" y="56.5" width="2.2" height="2.2" fill="#ee0500"/><rect x="25.0" y="-0.2" width="2.2" height="2.2" fill="#3affbd"/><rect x="25.0" y="1.9" width="2.2" height="2.2" fill="#df0000"/><rect x="25.0" y="4.0" width="2.2" height="2.2" fill="#7dff7a"/><rect x="25.0" y="6.1" width="2.2" height="2.2" fill="#96ff61"/><rect x="25.0" y="8.2" width="2.2" height="2.2" fill="#8fff68"/><rect x="25.0" y="10.3" width="2.2" height="2.2" fill="#000095"/><rect x="25.0" y="12.4" width="2.2" height="2.2" fill="#4affad"/><rect x="25.0" y="14.5" width="2.2" height="2.2" fill="#003bff"/><rect x="25.0" y="16.6" width="2.2" height="2.2" fill="#000084"/><rect x="25.0" y="18.7" width="2.2" height="2.2" fill="#ff6900"/><rect x="25.0" y="20.8" width="2.2" height="2.2" fill="#0030ff"/><rect x="25.0" y="22.9" width="2.2" height="2.2" fill="#66ff91"/><rect x="25.0" y="25.0" width="2.2" height="2.2" fill="#ffaf00"/><rect x="25.0" y="27.1" width="2.2" height="2.2" fill="#aaff4d"/><rect x="25.0" y="29.2" width="2.2" height="2.2" fill="#00cdff"/><rect x="25.0" y="31.3" width="2.2" height="2.2" fill="#8aff6c"/><rect x="25.0" y="33.4" width="2.2" height="2.2" fill="#a9ff4e"/><rect x="25.0" y="35.5" width="2.2" height="2.2" fill="#ff7700"/><rect x="25.0" y="37.6" width="2.2" height="2.2" fill="#0000fa"/><rect x="25.0" y="39.7" width="2.2" height="2.2" fill="#adff4a"/><rect x="25.0" y="41.8" width="2.2" height="2.2" fill="#007eff"/><rect x="25.0" y="43.9" width="2.2" height="2.2" fill="#009bff"/><rect x="25.0" y="46.0" width="2.2" height="2.2" fill="#ff8200"/><rect x="25.0" y="48.1" width="2.2" height="2.2" fill="#82ff75"/><rect x="25.0" y="50.2" width="2.2" height="2.2" fill="#aeff49"/><rect x="25.0" y="52.3" width="2.2" height="2.2" fill="#ff8e00"/><rect x="25.0" y="54.4" width="2.2" height="2.2" fill="#e50000"/><rect x="25.0" y="56.5" width="2.2" height="2.2" fill="#4dffaa"/><rect x="27.1" y="-0.2" width="2.2" height="2.2" fill="#d8ff1f"/><rect x="27.1" y="1.9" width="2.2" height="2.2" fill="#80ff77"/><rect x="27.1" y="4.0" width="2.2" height="2.2" fill="#85ff71"/><rect x="27.1" y="6.1" width="2.2" height="2.2" fill="#ffcd00"/><rect x="27.1" y="8.2" width="2.2" height="2.2" fill="#54ffa3"/><rect x="27.1" y="10.3" width="2.2" height="2.2" fill="#97ff60"/><rect x="27.1" y="12.4" width="2.2" height="2.2" fill="#69ff8d"/><rect x="27.1" y="14.5" width="2.2" height="2.2" fill="#c30000"/><rect x="27.1" y="16.6" width="2.2" height="2.2" fill="#ffc700"/><rect x="27.1" y="18.7" width="2.2" height="2.2" fill="#ff2000"/><rect x="27.1" y="20.8" width="2.2" height="2.2" fill="#c30000"/><rect x="27.1" y="22.9" width="2.2" height="2.2" fill="#0089ff"/><rect x="27.1" y="25.0" width="2.2" height="2.2" fill="#acff4a"/><rect x="27.1" y="27.1" width="2.2" height="2.2" fill="#c10000"/><rect x="27.1" y="29.2" width="2.2" height="2.2" fill="#ff4200"/><rect x="27.1" y="31.3" width="2.2" height="2.2" fill="#000cff"/><rect x="27.1" y="33.4" width="2.2" height="2.2" fill="#0000ff"/><rect x="27.1" y="35.5" width="2.2" height="2.2" fill="#4cffab"/><rect x="27.1" y="37.6" width="2.2" height="2.2" fill="#0000d4"/><rect x="27.1" y="39.7" width="2.2" height="2.2" fill="#0076ff"/><rect x="27.1" y="41.8" width="2.2" height="2.2" fill="#0000d4"/><rect x="27.1" y="43.9" width="2.2" height="2.2" fill="#ffe300"/><rect x="27.1" y="46.0" width="2.2" height="2.2" fill="#ff7700"/><rect x="27.1" y="48.1" width="2.2" height="2.2" fill="#f70c00"/><rect x="27.1" y="50.2" width="2.2" height="2.2" fill="#001eff"/><rect x="27.1" y="52.3" width="2.2" height="2.2" fill="#ffb700"/><rect x="27.1" y="54.4" width="2.2" height="2.2" fill="#ffec00"/><rect x="27.1" y="56.5" width="2.2" height="2.2" fill="#0012ff"/><rect x="29.2" y="-0.2" width="2.2" height="2.2" fill="#ff1a00"/><rect x="29.2" y="1.9" width="2.2" height="2.2" fill="#a50000"/><rect x="29.2" y="4.0" width="2.2" height="2.2" fill="#0060ff"/><rect x="29.2" y="6.1" width="2.2" height="2.2" fill="#b70000"/><rect x="29.2" y="8.2" width="2.2" height="2.2" fill="#28ffcf"/><rect x="29.2" y="10.3" width="2.2" height="2.2" fill="#71ff86"/><rect x="29.2" y="12.4" width="2.2" height="2.2" fill="#8b0000"/><rect x="29.2" y="14.5" width="2.2" height="2.2" fill="#ff4900"/><rect x="29.2" y="16.6" width="2.2" height="2.2" fill="#0025ff"/><rect x="29.2" y="18.7" width="2.2" height="2.2" fill="#43ffb4"/><rect x="29.2" y="20.8" width="2.2" height="2.2" fill="#88ff6f"/><rect x="29.2" y="22.9" width="2.2" height="2.2" fill="#00daff"/><rect x="29.2" y="25.0" width="2.2" height="2.2" fill="#0048ff"/><rect x="29.2" y="27.1" width="2.2" height="2.2" fill="#00c5ff"/><rect x="29.2" y="29.2" width="2.2" height="2.2" fill="#ffb100"/><rect x="29.2" y="31.3" width="2.2" height="2.2" fill="#000096"/><rect x="29.2" y="33.4" width="2.2" height="2.2" fill="#a8ff4f"/><rect x="29.2" y="35.5" width="2.2" height="2.2" fill="#4affac"/><rect x="29.2" y="37.6" width="2.2" height="2.2" fill="#000094"/><rect x="29.2" y="39.7" width="2.2" height="2.2" fill="#00d3ff"/><rect x="29.2" y="41.8" width="2.2" height="2.2" fill="#e1ff15"/><rect x="29.2" y="43.9" width="2.2" height="2.2" fill="#85ff71"/><rect x="29.2" y="46.0" width="2.2" height="2.2" fill="#0000ca"/><rect x="29.2" y="48.1" width="2.2" height="2.2" fill="#910000"/><rect x="29.2" y="50.2" width="2.2" height="2.2" fill="#ff7300"/><rect x="29.2" y="52.3" width="2.2" height="2.2" fill="#a00000"/><rect x="29.2" y="54.4" width="2.2" height="2.2" fill="#0000f9"/><rect x="29.2" y="56.5" width="2.2" height="2.2" fill="#008fff"/><rect x="31.3" y="-0.2" width="2.2" height="2.2" fill="#0000ad"/><rect x="31.3" y="1.9" width="2.2" height="2.2" fill="#ff7c00"/><rect x="31.3" y="4.0" width="2.2" height="2.2" fill="#0094ff"/><rect x="31.3" y="6.1" width="2.2" height="2.2" fill="#0005ff"/><rect x="31.3" y="8.2" width="2.2" height="2.2" fill="#3bffbb"/><rect x="31.3" y="10.3" width="2.2" height="2.2" fill="#e60000"/><rect x="31.3" y="12.4" width="2.2" height="2.2" fill="#ff5600"/><rect x="31.3" y="14.5" width="2.2" height="2.2" fill="#0088ff"/><rect x="31.3" y="16.6" width="2.2" height="2.2" fill="#0019ff"/><rect x="31.3" y="18.7" width="2.2" height="2.2" fill="#dd0000"/><rect x="31.3" y="20.8" width="2.2" height="2.2" fill="#b5ff41"/><rect x="31.3" y="22.9" width="2.2" height="2.2" fill="#ffc600"/><rect x="31.3" y="25.0" width="2.2" height="2.2" fill="#0000e7"/><rect x="31.3" y="27.1" width="2.2" height="2.2" fill="#0000c2"/><rect x="31.3" y="29.2" width="2.2" height="2.2" fill="#ffd100"/><rect x="31.3" y="31.3" width="2.2" height="2.2" fill="#3effb9"/><rect x="31.3" y="33.4" width="2.2" height="2.2" fill="#0000d3"/><rect x="31.3" y="35.5" width="2.2" height="2.2" fill="#c70000"/><rect x="31.3" y="37.6" width="2.2" height="2.2" fill="#eaff0d"/><rect x="31.3" y="39.7" width="2.2" height="2.2" fill="#ff6600"/><rect x="31.3" y="41.8" width="2.2" height="2.2" fill="#0000e1"/><rect x="31.3" y="43.9" width="2.2" height="2.2" fill="#ff3300"/><rect x="31.3" y="46.0" width="2.2" height="2.2" fill="#0000cd"/><rect x="31.3" y="48.1" width="2.2" height="2.2" fill="#ff2d00"/><rect x="31.3" y="50.2" width="2.2" height="2.2" fill="#55ffa1"/><rect x="31.3" y="52.3" width="2.2" height="2.2" fill="#00daff"/><rect x="31.3" y="54.4" width="2.2" height="2.2" fill="#a7ff50"/><rect x="31.3" y="56.5" width="2.2" height="2.2" fill="#d40000"/><rect x="33.4" y="-0.2" width="2.2" height="2.2" fill="#0092ff"/><rect x="33.4" y="1.9" width="2.2" height="2.2" fill="#0004ff"/><rect x="33.4" y="4.0" width="2.2" height="2.2" fill="#92ff65"/><rect x="33.4" y="6.1" width="2.2" height="2.2" fill="#0074ff"/><rect x="33.4" y="8.2" width="2.2" height="2.2" fill="#0000fe"/><rect x="33.4" y="10.3" width="2.2" height="2.2" fill="#0025ff"/><rect x="33.4" y="12.4" width="2.2" height="2.2" fill="#0000ba"/><rect x="33.4" y="14.5" width="2.2" height="2.2" fill="#004eff"/><rect x="33.4" y="16.6" width="2.2" height="2.2" fill="#00bfff"/><rect x="33.4" y="18.7" width="2.2" height="2.2" fill="#00b8ff"/><rect x="33.4" y="20.8" width="2.2" height="2.2" fill="#ff8e00"/><rect x="33.4" y="22.9" width="2.2" height="2.2" fill="#00a8ff"/><rect x="33.4" y="25.0" width="2.2" height="2.2" fill="#7bff7b"/><rect x="33.4" y="27.1" width="2.2" height="2.2" fill="#0036ff"/><rect x="33.4" y="29.2" width="2.2" height="2.2" fill="#00e2f9"/><rect x="33.4" y="31.3" width="2.2" height="2.2" fill="#000095"/><rect x="33.4" y="33.4" width="2.2" height="2.2" fill="#0080ff"/><rect x="33.4" y="35.5" width="2.2" height="2.2" fill="#000091"/><rect x="33.4" y="37.6" width="2.2" height="2.2" fill="#ffa700"/><rect x="33.4" y="39.7" width="2.2" height="2.2" fill="#a5ff51"/><rect x="33.4" y="41.8" width="2.2" height="2.2" fill="#0042ff"/><rect x="33.4" y="43.9" width="2.2" height="2.2" fill="#67ff90"/><rect x="33.4" y="46.0" width="2.2" height="2.2" fill="#cb0000"/><rect x="33.4" y="48.1" width="2.2" height="2.2" fill="#0000fb"/><rect x="33.4" y="50.2" width="2.2" height="2.2" fill="#ff5600"/><rect x="33.4" y="52.3" width="2.2" height="2.2" fill="#44ffb3"/><rect x="33.4" y="54.4" width="2.2" height="2.2" fill="#77ff7f"/><rect x="33.4" y="56.5" width="2.2" height="2.2" fill="#ff4700"/><rect x="35.5" y="1.9" width="2.2" height="2.2" fill="#23ffd3"/><rect x="35.5" y="4.0" width="2.2" height="2.2" fill="#81ff76"/><rect x="35.5" y="6.1" width="2.2" height="2.2" fill="#ffd200"/><rect x="35.5" y="8.2" width="2.2" height="2.2" fill="#940000"/><rect x="35.5" y="10.3" width="2.2" height="2.2" fill="#00defd"/><rect x="35.5" y="12.4" width="2.2" height="2.2" fill="#ff4900"/><rect x="35.5" y="14.5" width="2.2" height="2.2" fill="#ffc000"/><rect x="35.5" y="16.6" width="2.2" height="2.2" fill="#ebff0c"/><rect x="35.5" y="18.7" width="2.2" height="2.2" fill="#2dffca"/><rect x="35.5" y="20.8" width="2.2" height="2.2" fill="#00e3f9"/><rect x="35.5" y="22.9" width="2.2" height="2.2" fill="#0000bf"/><rect x="35.5" y="25.0" width="2.2" height="2.2" fill="#0005ff"/><rect x="35.5" y="27.1" width="2.2" height="2.2" fill="#0000d1"/><rect x="35.5" y="29.2" width="2.2" height="2.2" fill="#ffa000"/><rect x="35.5" y="31.3" width="2.2" height="2.2" fill="#0085ff"/><rect x="35.5" y="33.4" width="2.2" height="2.2" fill="#0027ff"/><rect x="35.5" y="35.5" width="2.2" height="2.2" fill="#0000e1"/><rect x="35.5" y="37.6" width="2.2" height="2.2" fill="#ff4100"/><rect x="35.5" y="39.7" width="2.2" height="2.2" fill="#ff2500"/><rect x="35.5" y="41.8" width="2.2" height="2.2" fill="#ffe200"/><rect x="35.5" y="43.9" width="2.2" height="2.2" fill="#00a0ff"/><rect x="35.5" y="46.0" width="2.2" height="2.2" fill="#0078ff"/><rect x="35.5" y="48.1" width="2.2" height="2.2" fill="#00abff"/><rect x="35.5" y="50.2" width="2.2" height="2.2" fill="#5aff9d"/><rect x="35.5" y="52.3" width="2.2" height="2.2" fill="#0021ff"/><rect x="35.5" y="54.4" width="2.2" height="2.2" fill="#4fffa8"/><rect x="37.6" y="1.9" width="2.2" height="2.2" fill="#008dff"/><rect x="37.6" y="4.0" width="2.2" height="2.2" fill="#ac0000"/><rect x="37.6" y="6.1" width="2.2" height="2.2" fill="#9f0000"/><rect x="37.6" y="8.2" width="2.2" height="2.2" fill="#a2ff55"/><rect x="37.6" y="10.3" width="2.2" height="2.2" fill="#007aff"/><rect x="37.6" y="12.4" width="2.2" height="2.2" fill="#a70000"/><rect x="37.6" y="14.5" width="2.2" height="2.2" fill="#00bcff"/><rect x="37.6" y="16.6" width="2.2" height="2.2" fill="#05ecf1"/><rect x="37.6" y="18.7" width="2.2" height="2.2" fill="#000081"/><rect x="37.6" y="20.8" width="2.2" height="2.2" fill="#1affdd"/><rect x="37.6" y="22.9" width="2.2" height="2.2" fill="#67ff90"/><rect x="37.6" y="25.0" width="2.2" height="2.2" fill="#7eff79"/><rect x="37.6" y="27.1" width="2.2" height="2.2" fill="#004dff"/><rect x="37.6" y="29.2" width="2.2" height="2.2" fill="#7fff77"/><rect x="37.6" y="31.3" width="2.2" height="2.2" fill="#000085"/><rect x="37.6" y="33.4" width="2.2" height="2.2" fill="#008eff"/><rect x="37.6" y="35.5" width="2.2" height="2.2" fill="#0000e8"/><rect x="37.6" y="37.6" width="2.2" height="2.2" fill="#29ffce"/><rect x="37.6" y="39.7" width="2.2" height="2.2" fill="#0000b0"/><rect x="37.6" y="41.8" width="2.2" height="2.2" fill="#00009a"/><rect x="37.6" y="43.9" width="2.2" height="2.2" fill="#00b7ff"/><rect x="37.6" y="46.0" width="2.2" height="2.2" fill="#006eff"/><rect x="37.6" y="48.1" width="2.2" height="2.2" fill="#c2ff35"/><rect x="37.6" y="50.2" width="2.2" height="2.2" fill="#93ff63"/><rect x="37.6" y="52.3" width="2.2" height="2.2" fill="#ff9700"/><rect x="37.6" y="54.4" width="2.2" height="2.2" fill="#fdee00"/><rect x="39.7" y="1.9" width="2.2" height="2.2" fill="#ffb700"/><rect x="39.7" y="4.0" width="2.2" height="2.2" fill="#ff1d00"/><rect x="39.7" y="6.1" width="2.2" height="2.2" fill="#21ffd6"/><rect x="39.7" y="8.2" width="2.2" height="2.2" fill="#00cdff"/><rect x="39.7" y="10.3" width="2.2" height="2.2" fill="#910000"/><rect x="39.7" y="12.4" width="2.2" height="2.2" fill="#0019ff"/><rect x="39.7" y="14.5" width="2.2" height="2.2" fill="#ffb000"/><rect x="39.7" y="16.6" width="2.2" height="2.2" fill="#f1fc06"/><rect x="39.7" y="18.7" width="2.2" height="2.2" fill="#0000b2"/><rect x="39.7" y="20.8" width="2.2" height="2.2" fill="#ff4700"/><rect x="39.7" y="22.9" width="2.2" height="2.2" fill="#fd1100"/><rect x="39.7" y="25.0" width="2.2" height="2.2" fill="#e4ff13"/><rect x="39.7" y="27.1" width="2.2" height="2.2" fill="#ffa600"/><rect x="39.7" y="29.2" width="2.2" height="2.2" fill="#ff5c00"/><rect x="39.7" y="31.3" width="2.2" height="2.2" fill="#000fff"/><rect x="39.7" y="33.4" width="2.2" height="2.2" fill="#8fff68"/><rect x="39.7" y="35.5" width="2.2" height="2.2" fill="#7fff78"/><rect x="39.7" y="37.6" width="2.2" height="2.2" fill="#ff4700"/><rect x="39.7" y="39.7" width="2.2" height="2.2" fill="#ff6300"/><rect x="39.7" y="41.8" width="2.2" height="2.2" fill="#ff4f00"/><rect x="39.7" y="43.9" width="2.2" height="2.2" fill="#c1ff36"/><rect x="39.7" y="46.0" width="2.2" height="2.2" fill="#fc1000"/><rect x="39.7" y="48.1" width="2.2" height="2.2" fill="#ffd600"/><rect x="39.7" y="50.2" width="2.2" height="2.2" fill="#ffcd00"/><rect x="39.7" y="52.3" width="2.2" height="2.2" fill="#006bff"/><rect x="39.7" y="54.4" width="2.2" height="2.2" fill="#0000a4"/><rect x="41.8" y="4.0" width="2.2" height="2.2" fill="#0008ff"/><rect x="41.8" y="6.1" width="2.2" height="2.2" fill="#09f0ee"/><rect x="41.8" y="8.2" width="2.2" height="2.2" fill="#0000f9"/><rect x="41.8" y="10.3" width="2.2" height="2.2" fill="#ff4600"/><rect x="41.8" y="12.4" width="2.2" height="2.2" fill="#acff4b"/><rect x="41.8" y="14.5" width="2.2" height="2.2" fill="#e4ff12"/><rect x="41.8" y="16.6" width="2.2" height="2.2" fill="#e3ff14"/><rect x="41.8" y="18.7" width="2.2" height="2.2" fill="#ffd900"/><rect x="41.8" y="20.8" width="2.2" height="2.2" fill="#73ff84"/><rect x="41.8" y="22.9" width="2.2" height="2.2" fill="#000083"/><rect x="41.8" y="25.0" width="2.2" height="2.2" fill="#ff6a00"/><rect x="41.8" y="27.1" width="2.2" height="2.2" fill="#ff9900"/><rect x="41.8" y="29.2" width="2.2" height="2.2" fill="#7eff79"/><rect x="41.8" y="31.3" width="2.2" height="2.2" fill="#98ff5e"/><rect x="41.8" y="33.4" width="2.2" height="2.2" fill="#feed00"/><rect x="41.8" y="35.5" width="2.2" height="2.2" fill="#0000cc"/><rect x="41.8" y="37.6" width="2.2" height="2.2" fill="#ffa400"/><rect x="41.8" y="39.7" width="2.2" height="2.2" fill="#0082ff"/><rect x="41.8" y="41.8" width="2.2" height="2.2" fill="#0000d6"/><rect x="41.8" y="43.9" width="2.2" height="2.2" fill="#008fff"/><rect x="41.8" y="46.0" width="2.2" height="2.2" fill="#ffab00"/><rect x="41.8" y="48.1" width="2.2" height="2.2" fill="#0052ff"/><rect x="41.8" y="50.2" width="2.2" height="2.2" fill="#ffa100"/><rect x="41.8" y="52.3" width="2.2" height="2.2" fill="#9c0000"/><rect x="43.9" y="4.0" width="2.2" height="2.2" fill="#76ff80"/><rect x="43.9" y="6.1" width="2.2" height="2.2" fill="#1bffdc"/><rect x="43.9" y="8.2" width="2.2" height="2.2" fill="#6aff8d"/><rect x="43.9" y="10.3" width="2.2" height="2.2" fill="#ffd600"/><rect x="43.9" y="12.4" width="2.2" height="2.2" fill="#ff8700"/><rect x="43.9" y="14.5" width="2.2" height="2.2" fill="#dcff1b"/><rect x="43.9" y="16.6" width="2.2" height="2.2" fill="#f1fc06"/><rect x="43.9" y="18.7" width="2.2" height="2.2" fill="#0000d9"/><rect x="43.9" y="20.8" width="2.2" height="2.2" fill="#0017ff"/><rect x="43.9" y="22.9" width="2.2" height="2.2" fill="#0084ff"/><rect x="43.9" y="25.0" width="2.2" height="2.2" fill="#ff9e00"/><rect x="43.9" y="27.1" width="2.2" height="2.2" fill="#00b7ff"/><rect x="43.9" y="29.2" width="2.2" height="2.2" fill="#b3ff44"/><rect x="43.9" y="31.3" width="2.2" height="2.2" fill="#00008e"/><rect x="43.9" y="33.4" width="2.2" height="2.2" fill="#0000c6"/><rect x="43.9" y="35.5" width="2.2" height="2.2" fill="#0093ff"/><rect x="43.9" y="37.6" width="2.2" height="2.2" fill="#ffe100"/><rect x="43.9" y="39.7" width="2.2" height="2.2" fill="#ffce00"/><rect x="43.9" y="41.8" width="2.2" height="2.2" fill="#ffdd00"/><rect x="43.9" y="43.9" width="2.2" height="2.2" fill="#00a9ff"/><rect x="43.9" y="46.0" width="2.2" height="2.2" fill="#89ff6e"/><rect x="43.9" y="48.1" width="2.2" height="2.2" fill="#5eff98"/><rect x="43.9" y="50.2" width="2.2" height="2.2" fill="#60ff97"/><rect x="43.9" y="52.3" width="2.2" height="2.2" fill="#0000ff"/><rect x="46.0" y="6.1" width="2.2" height="2.2" fill="#fb0f00"/><rect x="46.0" y="8.2" width="2.2" height="2.2" fill="#004cff"/><rect x="46.0" y="10.3" width="2.2" height="2.2" fill="#990000"/><rect x="46.0" y="12.4" width="2.2" height="2.2" fill="#c90000"/><rect x="46.0" y="14.5" width="2.2" height="2.2" fill="#000094"/><rect x="46.0" y="16.6" width="2.2" height="2.2" fill="#5aff9d"/><rect x="46.0" y="18.7" width="2.2" height="2.2" fill="#ff5500"/><rect x="46.0" y="20.8" width="2.2" height="2.2" fill="#a40000"/><rect x="46.0" y="22.9" width="2.2" height="2.2" fill="#52ffa5"/><rect x="46.0" y="25.0" width="2.2" height="2.2" fill="#0093ff"/><rect x="46.0" y="27.1" width="2.2" height="2.2" fill="#0057ff"/><rect x="46.0" y="29.2" width="2.2" height="2.2" fill="#bf0000"/><rect x="46.0" y="31.3" width="2.2" height="2.2" fill="#0057ff"/><rect x="46.0" y="33.4" width="2.2" height="2.2" fill="#beff38"/><rect x="46.0" y="35.5" width="2.2" height="2.2" fill="#0011ff"/><rect x="46.0" y="37.6" width="2.2" height="2.2" fill="#8fff68"/><rect x="46.0" y="39.7" width="2.2" height="2.2" fill="#b60000"/><rect x="46.0" y="41.8" width="2.2" height="2.2" fill="#0008ff"/><rect x="46.0" y="43.9" width="2.2" height="2.2" fill="#ff5500"/><rect x="46.0" y="46.0" width="2.2" height="2.2" fill="#83ff74"/><rect x="46.0" y="48.1" width="2.2" height="2.2" fill="#ff1600"/><rect x="46.0" y="50.2" width="2.2" height="2.2" fill="#ffc300"/><rect x="48.1" y="8.2" width="2.2" height="2.2" fill="#006dff"/><rect x="48.1" y="10.3" width="2.2" height="2.2" fill="#f60c00"/><rect x="48.1" y="12.4" width="2.2" height="2.2" fill="#70ff87"/><rect x="48.1" y="14.5" width="2.2" height="2.2" fill="#00009c"/><rect x="48.1" y="16.6" width="2.2" height="2.2" fill="#000084"/><rect x="48.1" y="18.7" width="2.2" height="2.2" fill="#75ff82"/><rect x="48.1" y="20.8" width="2.2" height="2.2" fill="#53ffa4"/><rect x="48.1" y="22.9" width="2.2" height="2.2" fill="#00b4ff"/><rect x="48.1" y="25.0" width="2.2" height="2.2" fill="#0010ff"/><rect x="48.1" y="27.1" width="2.2" height="2.2" fill="#00dffc"/><rect x="48.1" y="29.2" width="2.2" height="2.2" fill="#00c3ff"/><rect x="48.1" y="31.3" width="2.2" height="2.2" fill="#ff4200"/><rect x="48.1" y="33.4" width="2.2" height="2.2" fill="#000082"/><rect x="48.1" y="35.5" width="2.2" height="2.2" fill="#ff9600"/><rect x="48.1" y="37.6" width="2.2" height="2.2" fill="#ff4300"/><rect x="48.1" y="39.7" width="2.2" height="2.2" fill="#0000ff"/><rect x="48.1" y="41.8" width="2.2" height="2.2" fill="#d50000"/><rect x="48.1" y="43.9" width="2.2" height="2.2" fill="#ffba00"/><rect x="48.1" y="46.0" width="2.2" height="2.2" fill="#f20800"/><rect x="48.1" y="48.1" width="2.2" height="2.2" fill="#00a8ff"/><rect x="50.2" y="10.3" width="2.2" height="2.2" fill="#12fce4"/><rect x="50.2" y="12.4" width="2.2" height="2.2" fill="#23ffd3"/><rect x="50.2" y="14.5" width="2.2" height="2.2" fill="#810000"/><rect x="50.2" y="16.6" width="2.2" height="2.2" fill="#c5ff32"/><rect x="50.2" y="18.7" width="2.2" height="2.2" fill="#09f0ee"/><rect x="50.2" y="20.8" width="2.2" height="2.2" fill="#40ffb7"/><rect x="50.2" y="22.9" width="2.2" height="2.2" fill="#0099ff"/><rect x="50.2" y="25.0" width="2.2" height="2.2" fill="#0000b7"/><rect x="50.2" y="27.1" width="2.2" height="2.2" fill="#0000f5"/><rect x="50.2" y="29.2" width="2.2" height="2.2" fill="#ff4700"/><rect x="50.2" y="31.3" width="2.2" height="2.2" fill="#00a4ff"/><rect x="50.2" y="33.4" width="2.2" height="2.2" fill="#ca0000"/><rect x="50.2" y="35.5" width="2.2" height="2.2" fill="#007fff"/><rect x="50.2" y="37.6" width="2.2" height="2.2" fill="#0090ff"/><rect x="50.2" y="39.7" width="2.2" height="2.2" fill="#84ff72"/><rect x="50.2" y="41.8" width="2.2" height="2.2" fill="#0042ff"/><rect x="50.2" y="43.9" width="2.2" height="2.2" fill="#13fde4"/><rect x="50.2" y="46.0" width="2.2" height="2.2" fill="#b20000"/><rect x="52.3" y="12.4" width="2.2" height="2.2" fill="#ff1800"/><rect x="52.3" y="14.5" width="2.2" height="2.2" fill="#ff5d00"/><rect x="52.3" y="16.6" width="2.2" height="2.2" fill="#e7ff10"/><rect x="52.3" y="18.7" width="2.2" height="2.2" fill="#e40000"/><rect x="52.3" y="20.8" width="2.2" height="2.2" fill="#c40000"/><rect x="52.3" y="22.9" width="2.2" height="2.2" fill="#a4ff53"/><rect x="52.3" y="25.0" width="2.2" height="2.2" fill="#ffb400"/><rect x="52.3" y="27.1" width="2.2" height="2.2" fill="#0000b9"/><rect x="52.3" y="29.2" width="2.2" height="2.2" fill="#ffa800"/><rect x="52.3" y="31.3" width="2.2" height="2.2" fill="#53ffa4"/><rect x="52.3" y="33.4" width="2.2" height="2.2" fill="#ff9500"/><rect x="52.3" y="35.5" width="2.2" height="2.2" fill="#f2fb05"/><rect x="52.3" y="37.6" width="2.2" height="2.2" fill="#00a4ff"/><rect x="52.3" y="39.7" width="2.2" height="2.2" fill="#0000b8"/><rect x="52.3" y="41.8" width="2.2" height="2.2" fill="#d40000"/><rect x="52.3" y="43.9" width="2.2" height="2.2" fill="#0002ff"/><rect x="54.4" y="16.6" width="2.2" height="2.2" fill="#65ff92"/><rect x="54.4" y="18.7" width="2.2" height="2.2" fill="#00dffc"/><rect x="54.4" y="20.8" width="2.2" height="2.2" fill="#00b0ff"/><rect x="54.4" y="22.9" width="2.2" height="2.2" fill="#ffa100"/><rect x="54.4" y="25.0" width="2.2" height="2.2" fill="#9b0000"/><rect x="54.4" y="27.1" width="2.2" height="2.2" fill="#008aff"/><rect x="54.4" y="29.2" width="2.2" height="2.2" fill="#fcf000"/><rect x="54.4" y="31.3" width="2.2" height="2.2" fill="#00b3ff"/><rect x="54.4" y="33.4" width="2.2" height="2.2" fill="#abff4c"/><rect x="54.4" y="35.5" width="2.2" height="2.2" fill="#24ffd2"/><rect x="54.4" y="37.6" width="2.2" height="2.2" fill="#002bff"/><rect x="54.4" y="39.7" width="2.2" height="2.2" fill="#0025ff"/><rect x="56.5" y="22.9" width="2.2" height="2.2" fill="#0055ff"/><rect x="56.5" y="25.0" width="2.2" height="2.2" fill="#ed0400"/><rect x="56.5" y="27.1" width="2.2" height="2.2" fill="#79ff7e"/><rect x="56.5" y="29.2" width="2.2" height="2.2" fill="#0061ff"/><rect x="56.5" y="31.3" width="2.2" height="2.2" fill="#ec0400"/><rect x="56.5" y="33.4" width="2.2" height="2.2" fill="#840000"/></svg></div><div class="ab" style="left:539.5px;top:6.5px;width:189.0px;height:188.5px;background:radial-gradient(circle at 95.30px 93.10px,#f7f7f7 28.5px,#c43c3c 29.2px,#e58268 30.3px,#f8f4f2 31.5px,#f7f7f7 32.6px,#fae8dd 33.0px,#fdddca 33.7px,#fac7ae 34.4px,#f8bfa3 35.1px,#fbcdb5 35.8px,#fce0cf 36.5px,#fae8de 37.2px,#faeae1 37.9px,#fbe7db 38.6px,#fcdfcd 39.3px,#fbceb7 40.0px,#f8bda0 40.7px,#f7b495 41.4px,#f7b99b 42.1px,#fac8ae 42.8px,#fddac6 43.5px,#fbe2d4 44.2px,#fbe6da 44.9px,#fbe5d9 45.6px,#fce1d2 46.3px,#fddbc7 47.0px,#fbd0b8 47.7px,#fac7ad 48.4px,#f9c4aa 49.1px,#fac9b0 49.8px,#fcd3bc 50.5px,#fdddcb 51.2px,#fbe3d5 51.9px,#fae8dd 52.6px,#faebe2 53.3px,#faebe3 54.0px,#faeae1 54.7px,#fae8dd 55.4px,#fbe5d8 56.1px,#fce1d1 56.8px,#fdddcb 57.5px,#fdd9c5 58.2px,#fcd6c0 58.9px,#fcd4bf 59.6px,#fcd6c1 60.3px,#fddbc6 61.0px,#fcdecc 61.7px,#fce1d2 62.4px,#fbe5d7 63.1px,#fae7dc 63.8px,#fae9df 64.5px,#fae9e0 65.2px,#fae9df 65.9px,#fae8de 66.6px,#fae7db 67.3px,#fbe5d8 68.0px,#fbe3d5 68.7px,#fbe2d3 69.4px,#fce1d2 70.1px,#fce1d2 70.8px,#fce2d3 71.5px,#fbe3d5 72.2px,#fbe5d7 72.9px,#fbe6da 73.6px,#fae8dd 74.3px,#faeae0 75.0px,#faebe2 75.7px,#f9ece4 76.4px,#f9ece5 77.1px,#f9ede5 77.8px,#f9ece5 78.5px,#f9ece4 79.2px,#f9ece3 79.9px,#faebe2 80.6px,#faeae1 81.3px,#faeae0 82.0px,#fae9df 82.7px,#fae9df 83.4px,#fae9de 84.1px,#fae8de 84.8px,#fae8de 85.5px,#fae9de 86.2px,#fae9df 86.9px,#faeae0 87.6px,#faeae1 88.3px,#faebe2 89.0px,#f9ebe3 89.7px,#f9ece4 90.4px,#f9ede6 91.1px,#f9eee7 91.8px,#f9eee8 92.5px,#f9efe9 93.2px,#f9efe9 93.9px,#f9f0ea 94.6px,#f9f0eb 95.3px,#f8f0eb 96.0px,#f8f0ec 96.7px,#f8f0ec 97.4px,#f8f1ec 98.1px,#f8f1ec 98.8px,#f8f1ec 99.5px),#f9f1ed"><svg class="ab" style="left:66.10px;top:63.90px;overflow:visible" width="59" height="59"><rect x="-0.2" y="22.9" width="2.2" height="2.2" fill="#eaf1f5"/><rect x="-0.2" y="25.0" width="2.2" height="2.2" fill="#f4f6f7"/><rect x="-0.2" y="27.1" width="2.2" height="2.2" fill="#b3192c"/><rect x="-0.2" y="29.2" width="2.2" height="2.2" fill="#c2393a"/><rect x="-0.2" y="31.3" width="2.2" height="2.2" fill="#b61f2e"/><rect x="-0.2" y="33.4" width="2.2" height="2.2" fill="#c2393a"/><rect x="1.9" y="16.6" width="2.2" height="2.2" fill="#c2ddec"/><rect x="1.9" y="18.7" width="2.2" height="2.2" fill="#7c0722"/><rect x="1.9" y="20.8" width="2.2" height="2.2" fill="#b41b2d"/><rect x="1.9" y="22.9" width="2.2" height="2.2" fill="#f7f6f5"/><rect x="1.9" y="25.0" width="2.2" height="2.2" fill="#a0cce2"/><rect x="1.9" y="27.1" width="2.2" height="2.2" fill="#f7f7f7"/><rect x="1.9" y="29.2" width="2.2" height="2.2" fill="#a6cfe4"/><rect x="1.9" y="31.3" width="2.2" height="2.2" fill="#fddbc7"/><rect x="1.9" y="33.4" width="2.2" height="2.2" fill="#2970b1"/><rect x="1.9" y="35.5" width="2.2" height="2.2" fill="#be3137"/><rect x="1.9" y="37.6" width="2.2" height="2.2" fill="#da6a55"/><rect x="1.9" y="39.7" width="2.2" height="2.2" fill="#f8f4f3"/><rect x="4.0" y="12.4" width="2.2" height="2.2" fill="#63a7ce"/><rect x="4.0" y="14.5" width="2.2" height="2.2" fill="#a41329"/><rect x="4.0" y="16.6" width="2.2" height="2.2" fill="#3e8cbf"/><rect x="4.0" y="18.7" width="2.2" height="2.2" fill="#b3192c"/><rect x="4.0" y="20.8" width="2.2" height="2.2" fill="#b8d8e9"/><rect x="4.0" y="22.9" width="2.2" height="2.2" fill="#960f27"/><rect x="4.0" y="25.0" width="2.2" height="2.2" fill="#2d75b4"/><rect x="4.0" y="27.1" width="2.2" height="2.2" fill="#8e0c25"/><rect x="4.0" y="29.2" width="2.2" height="2.2" fill="#7c0722"/><rect x="4.0" y="31.3" width="2.2" height="2.2" fill="#c0dceb"/><rect x="4.0" y="33.4" width="2.2" height="2.2" fill="#f7f6f5"/><rect x="4.0" y="35.5" width="2.2" height="2.2" fill="#b72330"/><rect x="4.0" y="37.6" width="2.2" height="2.2" fill="#b31b2c"/><rect x="4.0" y="39.7" width="2.2" height="2.2" fill="#9f1228"/><rect x="4.0" y="41.8" width="2.2" height="2.2" fill="#e47f65"/><rect x="4.0" y="43.9" width="2.2" height="2.2" fill="#e0775e"/><rect x="6.1" y="10.3" width="2.2" height="2.2" fill="#bd2e36"/><rect x="6.1" y="12.4" width="2.2" height="2.2" fill="#e58167"/><rect x="6.1" y="14.5" width="2.2" height="2.2" fill="#8f0d25"/><rect x="6.1" y="16.6" width="2.2" height="2.2" fill="#b2d5e7"/><rect x="6.1" y="18.7" width="2.2" height="2.2" fill="#e88a6d"/><rect x="6.1" y="20.8" width="2.2" height="2.2" fill="#af172a"/><rect x="6.1" y="22.9" width="2.2" height="2.2" fill="#b1182b"/><rect x="6.1" y="25.0" width="2.2" height="2.2" fill="#f7f6f5"/><rect x="6.1" y="27.1" width="2.2" height="2.2" fill="#3a87bd"/><rect x="6.1" y="29.2" width="2.2" height="2.2" fill="#ecf2f5"/><rect x="6.1" y="31.3" width="2.2" height="2.2" fill="#850a24"/><rect x="6.1" y="33.4" width="2.2" height="2.2" fill="#2a71b2"/><rect x="6.1" y="35.5" width="2.2" height="2.2" fill="#890b24"/><rect x="6.1" y="37.6" width="2.2" height="2.2" fill="#72b0d3"/><rect x="6.1" y="39.7" width="2.2" height="2.2" fill="#c2373a"/><rect x="6.1" y="41.8" width="2.2" height="2.2" fill="#347fb9"/><rect x="6.1" y="43.9" width="2.2" height="2.2" fill="#b41c2d"/><rect x="6.1" y="46.0" width="2.2" height="2.2" fill="#d86450"/><rect x="8.2" y="8.2" width="2.2" height="2.2" fill="#b0172b"/><rect x="8.2" y="10.3" width="2.2" height="2.2" fill="#ed9575"/><rect x="8.2" y="12.4" width="2.2" height="2.2" fill="#cbe2ee"/><rect x="8.2" y="14.5" width="2.2" height="2.2" fill="#ad162a"/><rect x="8.2" y="16.6" width="2.2" height="2.2" fill="#337eb8"/><rect x="8.2" y="18.7" width="2.2" height="2.2" fill="#fcd4be"/><rect x="8.2" y="20.8" width="2.2" height="2.2" fill="#780522"/><rect x="8.2" y="22.9" width="2.2" height="2.2" fill="#a11328"/><rect x="8.2" y="25.0" width="2.2" height="2.2" fill="#870a24"/><rect x="8.2" y="27.1" width="2.2" height="2.2" fill="#f7b89b"/><rect x="8.2" y="29.2" width="2.2" height="2.2" fill="#991027"/><rect x="8.2" y="31.3" width="2.2" height="2.2" fill="#2267ad"/><rect x="8.2" y="33.4" width="2.2" height="2.2" fill="#8fc3dd"/><rect x="8.2" y="35.5" width="2.2" height="2.2" fill="#f9efe9"/><rect x="8.2" y="37.6" width="2.2" height="2.2" fill="#780522"/><rect x="8.2" y="39.7" width="2.2" height="2.2" fill="#2f79b6"/><rect x="8.2" y="41.8" width="2.2" height="2.2" fill="#60a6cd"/><rect x="8.2" y="43.9" width="2.2" height="2.2" fill="#f7f7f6"/><rect x="8.2" y="46.0" width="2.2" height="2.2" fill="#b3d6e7"/><rect x="8.2" y="48.1" width="2.2" height="2.2" fill="#cf5347"/><rect x="10.3" y="6.1" width="2.2" height="2.2" fill="#8ac0db"/><rect x="10.3" y="8.2" width="2.2" height="2.2" fill="#83bcd9"/><rect x="10.3" y="10.3" width="2.2" height="2.2" fill="#408fc1"/><rect x="10.3" y="12.4" width="2.2" height="2.2" fill="#76b3d5"/><rect x="10.3" y="14.5" width="2.2" height="2.2" fill="#3d8bbf"/><rect x="10.3" y="16.6" width="2.2" height="2.2" fill="#7bb6d6"/><rect x="10.3" y="18.7" width="2.2" height="2.2" fill="#f3f5f6"/><rect x="10.3" y="20.8" width="2.2" height="2.2" fill="#f4f6f7"/><rect x="10.3" y="22.9" width="2.2" height="2.2" fill="#f9eee7"/><rect x="10.3" y="25.0" width="2.2" height="2.2" fill="#e8f0f4"/><rect x="10.3" y="27.1" width="2.2" height="2.2" fill="#2e77b5"/><rect x="10.3" y="29.2" width="2.2" height="2.2" fill="#f0f4f6"/><rect x="10.3" y="31.3" width="2.2" height="2.2" fill="#f7f6f5"/><rect x="10.3" y="33.4" width="2.2" height="2.2" fill="#c9e1ee"/><rect x="10.3" y="35.5" width="2.2" height="2.2" fill="#cee4ef"/><rect x="10.3" y="37.6" width="2.2" height="2.2" fill="#f7f7f6"/><rect x="10.3" y="39.7" width="2.2" height="2.2" fill="#b6202f"/><rect x="10.3" y="41.8" width="2.2" height="2.2" fill="#f4f5f6"/><rect x="10.3" y="43.9" width="2.2" height="2.2" fill="#4695c4"/><rect x="10.3" y="46.0" width="2.2" height="2.2" fill="#930e26"/><rect x="10.3" y="48.1" width="2.2" height="2.2" fill="#bedbeb"/><rect x="10.3" y="50.2" width="2.2" height="2.2" fill="#b41c2d"/><rect x="12.4" y="4.0" width="2.2" height="2.2" fill="#f8f3f0"/><rect x="12.4" y="6.1" width="2.2" height="2.2" fill="#c94741"/><rect x="12.4" y="8.2" width="2.2" height="2.2" fill="#75b2d4"/><rect x="12.4" y="10.3" width="2.2" height="2.2" fill="#3e8dc0"/><rect x="12.4" y="12.4" width="2.2" height="2.2" fill="#f8f3f0"/><rect x="12.4" y="14.5" width="2.2" height="2.2" fill="#a61429"/><rect x="12.4" y="16.6" width="2.2" height="2.2" fill="#7cb7d7"/><rect x="12.4" y="18.7" width="2.2" height="2.2" fill="#70b0d3"/><rect x="12.4" y="20.8" width="2.2" height="2.2" fill="#ed9475"/><rect x="12.4" y="22.9" width="2.2" height="2.2" fill="#f8f2ee"/><rect x="12.4" y="25.0" width="2.2" height="2.2" fill="#9e1228"/><rect x="12.4" y="27.1" width="2.2" height="2.2" fill="#f7f7f7"/><rect x="12.4" y="29.2" width="2.2" height="2.2" fill="#fbceb6"/><rect x="12.4" y="31.3" width="2.2" height="2.2" fill="#3b88be"/><rect x="12.4" y="33.4" width="2.2" height="2.2" fill="#790622"/><rect x="12.4" y="35.5" width="2.2" height="2.2" fill="#5ea4cc"/><rect x="12.4" y="37.6" width="2.2" height="2.2" fill="#9bcae1"/><rect x="12.4" y="39.7" width="2.2" height="2.2" fill="#facab1"/><rect x="12.4" y="41.8" width="2.2" height="2.2" fill="#830924"/><rect x="12.4" y="43.9" width="2.2" height="2.2" fill="#f9ece5"/><rect x="12.4" y="46.0" width="2.2" height="2.2" fill="#bbdaea"/><rect x="12.4" y="48.1" width="2.2" height="2.2" fill="#7b0622"/><rect x="12.4" y="50.2" width="2.2" height="2.2" fill="#f3f5f6"/><rect x="12.4" y="52.3" width="2.2" height="2.2" fill="#6fafd2"/><rect x="14.5" y="4.0" width="2.2" height="2.2" fill="#cc4b43"/><rect x="14.5" y="6.1" width="2.2" height="2.2" fill="#770522"/><rect x="14.5" y="8.2" width="2.2" height="2.2" fill="#f0f4f6"/><rect x="14.5" y="10.3" width="2.2" height="2.2" fill="#910d26"/><rect x="14.5" y="12.4" width="2.2" height="2.2" fill="#f9c2a8"/><rect x="14.5" y="14.5" width="2.2" height="2.2" fill="#f4f5f6"/><rect x="14.5" y="16.6" width="2.2" height="2.2" fill="#acd2e5"/><rect x="14.5" y="18.7" width="2.2" height="2.2" fill="#76b3d4"/><rect x="14.5" y="20.8" width="2.2" height="2.2" fill="#c13639"/><rect x="14.5" y="22.9" width="2.2" height="2.2" fill="#c5dfec"/><rect x="14.5" y="25.0" width="2.2" height="2.2" fill="#f3f5f6"/><rect x="14.5" y="27.1" width="2.2" height="2.2" fill="#3f8dc0"/><rect x="14.5" y="29.2" width="2.2" height="2.2" fill="#ebf2f5"/><rect x="14.5" y="31.3" width="2.2" height="2.2" fill="#71b0d3"/><rect x="14.5" y="33.4" width="2.2" height="2.2" fill="#f2f5f6"/><rect x="14.5" y="35.5" width="2.2" height="2.2" fill="#b72230"/><rect x="14.5" y="37.6" width="2.2" height="2.2" fill="#94c6df"/><rect x="14.5" y="39.7" width="2.2" height="2.2" fill="#bddbea"/><rect x="14.5" y="41.8" width="2.2" height="2.2" fill="#2267ad"/><rect x="14.5" y="43.9" width="2.2" height="2.2" fill="#3783bb"/><rect x="14.5" y="46.0" width="2.2" height="2.2" fill="#b3d6e7"/><rect x="14.5" y="48.1" width="2.2" height="2.2" fill="#286fb1"/><rect x="14.5" y="50.2" width="2.2" height="2.2" fill="#e98b6e"/><rect x="14.5" y="52.3" width="2.2" height="2.2" fill="#eff3f5"/><rect x="16.6" y="1.9" width="2.2" height="2.2" fill="#dc6f58"/><rect x="16.6" y="4.0" width="2.2" height="2.2" fill="#bb2933"/><rect x="16.6" y="6.1" width="2.2" height="2.2" fill="#970f27"/><rect x="16.6" y="8.2" width="2.2" height="2.2" fill="#c4deec"/><rect x="16.6" y="10.3" width="2.2" height="2.2" fill="#a81529"/><rect x="16.6" y="12.4" width="2.2" height="2.2" fill="#7db8d7"/><rect x="16.6" y="14.5" width="2.2" height="2.2" fill="#71b0d3"/><rect x="16.6" y="16.6" width="2.2" height="2.2" fill="#e9f1f4"/><rect x="16.6" y="18.7" width="2.2" height="2.2" fill="#8c0c25"/><rect x="16.6" y="20.8" width="2.2" height="2.2" fill="#f8f2ef"/><rect x="16.6" y="22.9" width="2.2" height="2.2" fill="#95c6df"/><rect x="16.6" y="25.0" width="2.2" height="2.2" fill="#edf2f5"/><rect x="16.6" y="27.1" width="2.2" height="2.2" fill="#f8f3f0"/><rect x="16.6" y="29.2" width="2.2" height="2.2" fill="#edf2f5"/><rect x="16.6" y="31.3" width="2.2" height="2.2" fill="#4c98c6"/><rect x="16.6" y="33.4" width="2.2" height="2.2" fill="#2368ad"/><rect x="16.6" y="35.5" width="2.2" height="2.2" fill="#f5f6f7"/><rect x="16.6" y="37.6" width="2.2" height="2.2" fill="#aa162a"/><rect x="16.6" y="39.7" width="2.2" height="2.2" fill="#f4f5f6"/><rect x="16.6" y="41.8" width="2.2" height="2.2" fill="#c3393b"/><rect x="16.6" y="43.9" width="2.2" height="2.2" fill="#f7f5f3"/><rect x="16.6" y="46.0" width="2.2" height="2.2" fill="#9ccae1"/><rect x="16.6" y="48.1" width="2.2" height="2.2" fill="#f1f4f6"/><rect x="16.6" y="50.2" width="2.2" height="2.2" fill="#ab162a"/><rect x="16.6" y="52.3" width="2.2" height="2.2" fill="#e9f0f4"/><rect x="16.6" y="54.4" width="2.2" height="2.2" fill="#cc4b43"/><rect x="18.7" y="1.9" width="2.2" height="2.2" fill="#bb2b34"/><rect x="18.7" y="4.0" width="2.2" height="2.2" fill="#3a87bd"/><rect x="18.7" y="6.1" width="2.2" height="2.2" fill="#ee9677"/><rect x="18.7" y="8.2" width="2.2" height="2.2" fill="#eaf1f5"/><rect x="18.7" y="10.3" width="2.2" height="2.2" fill="#ba2732"/><rect x="18.7" y="12.4" width="2.2" height="2.2" fill="#890b24"/><rect x="18.7" y="14.5" width="2.2" height="2.2" fill="#b51f2e"/><rect x="18.7" y="16.6" width="2.2" height="2.2" fill="#f4a784"/><rect x="18.7" y="18.7" width="2.2" height="2.2" fill="#f9eee8"/><rect x="18.7" y="20.8" width="2.2" height="2.2" fill="#c5dfed"/><rect x="18.7" y="22.9" width="2.2" height="2.2" fill="#f8f1ed"/><rect x="18.7" y="25.0" width="2.2" height="2.2" fill="#aa152a"/><rect x="18.7" y="27.1" width="2.2" height="2.2" fill="#f8f4f2"/><rect x="18.7" y="29.2" width="2.2" height="2.2" fill="#f6f7f7"/><rect x="18.7" y="31.3" width="2.2" height="2.2" fill="#8a0b25"/><rect x="18.7" y="33.4" width="2.2" height="2.2" fill="#f3f5f6"/><rect x="18.7" y="35.5" width="2.2" height="2.2" fill="#ecf2f5"/><rect x="18.7" y="37.6" width="2.2" height="2.2" fill="#ecf2f5"/><rect x="18.7" y="39.7" width="2.2" height="2.2" fill="#b82431"/><rect x="18.7" y="41.8" width="2.2" height="2.2" fill="#76b3d4"/><rect x="18.7" y="43.9" width="2.2" height="2.2" fill="#f3a381"/><rect x="18.7" y="46.0" width="2.2" height="2.2" fill="#4a98c6"/><rect x="18.7" y="48.1" width="2.2" height="2.2" fill="#266db0"/><rect x="18.7" y="50.2" width="2.2" height="2.2" fill="#8d0c25"/><rect x="18.7" y="52.3" width="2.2" height="2.2" fill="#b8d9e9"/><rect x="18.7" y="54.4" width="2.2" height="2.2" fill="#9f1228"/><rect x="20.8" y="1.9" width="2.2" height="2.2" fill="#c84440"/><rect x="20.8" y="4.0" width="2.2" height="2.2" fill="#cfe4f0"/><rect x="20.8" y="6.1" width="2.2" height="2.2" fill="#b51e2e"/><rect x="20.8" y="8.2" width="2.2" height="2.2" fill="#2368ad"/><rect x="20.8" y="10.3" width="2.2" height="2.2" fill="#a71529"/><rect x="20.8" y="12.4" width="2.2" height="2.2" fill="#a1cde2"/><rect x="20.8" y="14.5" width="2.2" height="2.2" fill="#bfdceb"/><rect x="20.8" y="16.6" width="2.2" height="2.2" fill="#800823"/><rect x="20.8" y="18.7" width="2.2" height="2.2" fill="#ac162a"/><rect x="20.8" y="20.8" width="2.2" height="2.2" fill="#f5f6f7"/><rect x="20.8" y="22.9" width="2.2" height="2.2" fill="#880b24"/><rect x="20.8" y="25.0" width="2.2" height="2.2" fill="#bd2d35"/><rect x="20.8" y="27.1" width="2.2" height="2.2" fill="#246bae"/><rect x="20.8" y="29.2" width="2.2" height="2.2" fill="#7c0722"/><rect x="20.8" y="31.3" width="2.2" height="2.2" fill="#3b88bd"/><rect x="20.8" y="33.4" width="2.2" height="2.2" fill="#b2d5e7"/><rect x="20.8" y="35.5" width="2.2" height="2.2" fill="#f7f7f7"/><rect x="20.8" y="37.6" width="2.2" height="2.2" fill="#f4f6f6"/><rect x="20.8" y="39.7" width="2.2" height="2.2" fill="#b6202f"/><rect x="20.8" y="41.8" width="2.2" height="2.2" fill="#c0dceb"/><rect x="20.8" y="43.9" width="2.2" height="2.2" fill="#f0f4f6"/><rect x="20.8" y="46.0" width="2.2" height="2.2" fill="#f8f0eb"/><rect x="20.8" y="48.1" width="2.2" height="2.2" fill="#a81529"/><rect x="20.8" y="50.2" width="2.2" height="2.2" fill="#bf3237"/><rect x="20.8" y="52.3" width="2.2" height="2.2" fill="#8dc2dc"/><rect x="20.8" y="54.4" width="2.2" height="2.2" fill="#3d8cbf"/><rect x="22.9" y="-0.2" width="2.2" height="2.2" fill="#e8f0f4"/><rect x="22.9" y="1.9" width="2.2" height="2.2" fill="#b9d9e9"/><rect x="22.9" y="4.0" width="2.2" height="2.2" fill="#2d76b4"/><rect x="22.9" y="6.1" width="2.2" height="2.2" fill="#80bad8"/><rect x="22.9" y="8.2" width="2.2" height="2.2" fill="#ebf1f5"/><rect x="22.9" y="10.3" width="2.2" height="2.2" fill="#3079b6"/><rect x="22.9" y="12.4" width="2.2" height="2.2" fill="#86beda"/><rect x="22.9" y="14.5" width="2.2" height="2.2" fill="#f0f4f6"/><rect x="22.9" y="16.6" width="2.2" height="2.2" fill="#970f27"/><rect x="22.9" y="18.7" width="2.2" height="2.2" fill="#f9ece4"/><rect x="22.9" y="20.8" width="2.2" height="2.2" fill="#f8bea2"/><rect x="22.9" y="22.9" width="2.2" height="2.2" fill="#f8f1ed"/><rect x="22.9" y="25.0" width="2.2" height="2.2" fill="#317bb7"/><rect x="22.9" y="27.1" width="2.2" height="2.2" fill="#f8bfa4"/><rect x="22.9" y="29.2" width="2.2" height="2.2" fill="#f6f7f7"/><rect x="22.9" y="31.3" width="2.2" height="2.2" fill="#e8f0f4"/><rect x="22.9" y="33.4" width="2.2" height="2.2" fill="#f1f4f6"/><rect x="22.9" y="35.5" width="2.2" height="2.2" fill="#6dadd1"/><rect x="22.9" y="37.6" width="2.2" height="2.2" fill="#b2182b"/><rect x="22.9" y="39.7" width="2.2" height="2.2" fill="#b9d9e9"/><rect x="22.9" y="41.8" width="2.2" height="2.2" fill="#f9ede6"/><rect x="22.9" y="43.9" width="2.2" height="2.2" fill="#9b1127"/><rect x="22.9" y="46.0" width="2.2" height="2.2" fill="#8e0d25"/><rect x="22.9" y="48.1" width="2.2" height="2.2" fill="#3682ba"/><rect x="22.9" y="50.2" width="2.2" height="2.2" fill="#e9f0f4"/><rect x="22.9" y="52.3" width="2.2" height="2.2" fill="#e8f0f4"/><rect x="22.9" y="54.4" width="2.2" height="2.2" fill="#eef3f5"/><rect x="22.9" y="56.5" width="2.2" height="2.2" fill="#b92531"/><rect x="25.0" y="-0.2" width="2.2" height="2.2" fill="#860a24"/><rect x="25.0" y="1.9" width="2.2" height="2.2" fill="#f9f0ea"/><rect x="25.0" y="4.0" width="2.2" height="2.2" fill="#f4f5f6"/><rect x="25.0" y="6.1" width="2.2" height="2.2" fill="#c1373a"/><rect x="25.0" y="8.2" width="2.2" height="2.2" fill="#f6f7f7"/><rect x="25.0" y="10.3" width="2.2" height="2.2" fill="#f8f4f2"/><rect x="25.0" y="12.4" width="2.2" height="2.2" fill="#f8bfa3"/><rect x="25.0" y="14.5" width="2.2" height="2.2" fill="#f8f2ef"/><rect x="25.0" y="16.6" width="2.2" height="2.2" fill="#b5d7e8"/><rect x="25.0" y="18.7" width="2.2" height="2.2" fill="#8e0c25"/><rect x="25.0" y="20.8" width="2.2" height="2.2" fill="#850a24"/><rect x="25.0" y="22.9" width="2.2" height="2.2" fill="#acd2e5"/><rect x="25.0" y="25.0" width="2.2" height="2.2" fill="#2d76b4"/><rect x="25.0" y="27.1" width="2.2" height="2.2" fill="#c33b3c"/><rect x="25.0" y="29.2" width="2.2" height="2.2" fill="#5aa2cb"/><rect x="25.0" y="31.3" width="2.2" height="2.2" fill="#3c8abe"/><rect x="25.0" y="33.4" width="2.2" height="2.2" fill="#e9f0f4"/><rect x="25.0" y="35.5" width="2.2" height="2.2" fill="#a9152a"/><rect x="25.0" y="37.6" width="2.2" height="2.2" fill="#2e77b5"/><rect x="25.0" y="39.7" width="2.2" height="2.2" fill="#e8f0f4"/><rect x="25.0" y="41.8" width="2.2" height="2.2" fill="#98c8e0"/><rect x="25.0" y="43.9" width="2.2" height="2.2" fill="#b2192b"/><rect x="25.0" y="46.0" width="2.2" height="2.2" fill="#f8f0ec"/><rect x="25.0" y="48.1" width="2.2" height="2.2" fill="#a9152a"/><rect x="25.0" y="50.2" width="2.2" height="2.2" fill="#a11328"/><rect x="25.0" y="52.3" width="2.2" height="2.2" fill="#a6cfe4"/><rect x="25.0" y="54.4" width="2.2" height="2.2" fill="#af172a"/><rect x="25.0" y="56.5" width="2.2" height="2.2" fill="#f6f7f7"/><rect x="27.1" y="-0.2" width="2.2" height="2.2" fill="#2e77b5"/><rect x="27.1" y="1.9" width="2.2" height="2.2" fill="#810823"/><rect x="27.1" y="4.0" width="2.2" height="2.2" fill="#2b74b3"/><rect x="27.1" y="6.1" width="2.2" height="2.2" fill="#f8f4f2"/><rect x="27.1" y="8.2" width="2.2" height="2.2" fill="#f9c1a6"/><rect x="27.1" y="10.3" width="2.2" height="2.2" fill="#f4f6f6"/><rect x="27.1" y="12.4" width="2.2" height="2.2" fill="#eff3f6"/><rect x="27.1" y="14.5" width="2.2" height="2.2" fill="#8e0d25"/><rect x="27.1" y="16.6" width="2.2" height="2.2" fill="#256baf"/><rect x="27.1" y="18.7" width="2.2" height="2.2" fill="#5ea4cc"/><rect x="27.1" y="20.8" width="2.2" height="2.2" fill="#900d26"/><rect x="27.1" y="22.9" width="2.2" height="2.2" fill="#f3f5f6"/><rect x="27.1" y="25.0" width="2.2" height="2.2" fill="#ab162a"/><rect x="27.1" y="27.1" width="2.2" height="2.2" fill="#7e0723"/><rect x="27.1" y="29.2" width="2.2" height="2.2" fill="#9dcbe1"/><rect x="27.1" y="31.3" width="2.2" height="2.2" fill="#f8f4f2"/><rect x="27.1" y="33.4" width="2.2" height="2.2" fill="#f8f1ec"/><rect x="27.1" y="35.5" width="2.2" height="2.2" fill="#fac6ad"/><rect x="27.1" y="37.6" width="2.2" height="2.2" fill="#cae1ee"/><rect x="27.1" y="39.7" width="2.2" height="2.2" fill="#bb2a34"/><rect x="27.1" y="41.8" width="2.2" height="2.2" fill="#eff3f5"/><rect x="27.1" y="43.9" width="2.2" height="2.2" fill="#9f1228"/><rect x="27.1" y="46.0" width="2.2" height="2.2" fill="#bb2a34"/><rect x="27.1" y="48.1" width="2.2" height="2.2" fill="#f8bfa3"/><rect x="27.1" y="50.2" width="2.2" height="2.2" fill="#4191c2"/><rect x="27.1" y="52.3" width="2.2" height="2.2" fill="#f0f3f6"/><rect x="27.1" y="54.4" width="2.2" height="2.2" fill="#3c8abe"/><rect x="27.1" y="56.5" width="2.2" height="2.2" fill="#df765e"/><rect x="29.2" y="-0.2" width="2.2" height="2.2" fill="#d05548"/><rect x="29.2" y="1.9" width="2.2" height="2.2" fill="#f1f4f6"/><rect x="29.2" y="4.0" width="2.2" height="2.2" fill="#fac9b0"/><rect x="29.2" y="6.1" width="2.2" height="2.2" fill="#8b0b25"/><rect x="29.2" y="8.2" width="2.2" height="2.2" fill="#c9e1ee"/><rect x="29.2" y="10.3" width="2.2" height="2.2" fill="#f9c5ab"/><rect x="29.2" y="12.4" width="2.2" height="2.2" fill="#b6d7e8"/><rect x="29.2" y="14.5" width="2.2" height="2.2" fill="#991027"/><rect x="29.2" y="16.6" width="2.2" height="2.2" fill="#aed3e6"/><rect x="29.2" y="18.7" width="2.2" height="2.2" fill="#b6212f"/><rect x="29.2" y="20.8" width="2.2" height="2.2" fill="#eaf1f5"/><rect x="29.2" y="22.9" width="2.2" height="2.2" fill="#256baf"/><rect x="29.2" y="25.0" width="2.2" height="2.2" fill="#eef3f5"/><rect x="29.2" y="27.1" width="2.2" height="2.2" fill="#f3a381"/><rect x="29.2" y="29.2" width="2.2" height="2.2" fill="#eaf1f5"/><rect x="29.2" y="31.3" width="2.2" height="2.2" fill="#4796c4"/><rect x="29.2" y="33.4" width="2.2" height="2.2" fill="#f4a885"/><rect x="29.2" y="35.5" width="2.2" height="2.2" fill="#f5aa88"/><rect x="29.2" y="37.6" width="2.2" height="2.2" fill="#f8f0eb"/><rect x="29.2" y="39.7" width="2.2" height="2.2" fill="#eef3f5"/><rect x="29.2" y="41.8" width="2.2" height="2.2" fill="#edf2f5"/><rect x="29.2" y="43.9" width="2.2" height="2.2" fill="#f9f0eb"/><rect x="29.2" y="46.0" width="2.2" height="2.2" fill="#79b5d5"/><rect x="29.2" y="48.1" width="2.2" height="2.2" fill="#e68569"/><rect x="29.2" y="50.2" width="2.2" height="2.2" fill="#f6f6f7"/><rect x="29.2" y="52.3" width="2.2" height="2.2" fill="#e9f0f4"/><rect x="29.2" y="54.4" width="2.2" height="2.2" fill="#82bbd8"/><rect x="29.2" y="56.5" width="2.2" height="2.2" fill="#ba2833"/><rect x="31.3" y="-0.2" width="2.2" height="2.2" fill="#d96753"/><rect x="31.3" y="1.9" width="2.2" height="2.2" fill="#59a1cb"/><rect x="31.3" y="4.0" width="2.2" height="2.2" fill="#f9efe9"/><rect x="31.3" y="6.1" width="2.2" height="2.2" fill="#94c6de"/><rect x="31.3" y="8.2" width="2.2" height="2.2" fill="#8b0c25"/><rect x="31.3" y="10.3" width="2.2" height="2.2" fill="#a0cce2"/><rect x="31.3" y="12.4" width="2.2" height="2.2" fill="#acd2e5"/><rect x="31.3" y="14.5" width="2.2" height="2.2" fill="#fdd8c4"/><rect x="31.3" y="16.6" width="2.2" height="2.2" fill="#a2cde3"/><rect x="31.3" y="18.7" width="2.2" height="2.2" fill="#f0f4f6"/><rect x="31.3" y="20.8" width="2.2" height="2.2" fill="#75b2d4"/><rect x="31.3" y="22.9" width="2.2" height="2.2" fill="#edf2f5"/><rect x="31.3" y="25.0" width="2.2" height="2.2" fill="#7cb7d6"/><rect x="31.3" y="27.1" width="2.2" height="2.2" fill="#7eb8d7"/><rect x="31.3" y="29.2" width="2.2" height="2.2" fill="#2369ad"/><rect x="31.3" y="31.3" width="2.2" height="2.2" fill="#f6f7f7"/><rect x="31.3" y="33.4" width="2.2" height="2.2" fill="#82bbd9"/><rect x="31.3" y="35.5" width="2.2" height="2.2" fill="#f7f5f4"/><rect x="31.3" y="37.6" width="2.2" height="2.2" fill="#b82431"/><rect x="31.3" y="39.7" width="2.2" height="2.2" fill="#3f8dc0"/><rect x="31.3" y="41.8" width="2.2" height="2.2" fill="#8a0b25"/><rect x="31.3" y="43.9" width="2.2" height="2.2" fill="#f8f2ef"/><rect x="31.3" y="46.0" width="2.2" height="2.2" fill="#5ca3cc"/><rect x="31.3" y="48.1" width="2.2" height="2.2" fill="#ea8e71"/><rect x="31.3" y="50.2" width="2.2" height="2.2" fill="#eff3f5"/><rect x="31.3" y="52.3" width="2.2" height="2.2" fill="#7c0722"/><rect x="31.3" y="54.4" width="2.2" height="2.2" fill="#f4f6f7"/><rect x="31.3" y="56.5" width="2.2" height="2.2" fill="#b82431"/><rect x="33.4" y="-0.2" width="2.2" height="2.2" fill="#bf3137"/><rect x="33.4" y="1.9" width="2.2" height="2.2" fill="#99c8e0"/><rect x="33.4" y="4.0" width="2.2" height="2.2" fill="#880b24"/><rect x="33.4" y="6.1" width="2.2" height="2.2" fill="#ed9475"/><rect x="33.4" y="8.2" width="2.2" height="2.2" fill="#b4d6e8"/><rect x="33.4" y="10.3" width="2.2" height="2.2" fill="#edf2f5"/><rect x="33.4" y="12.4" width="2.2" height="2.2" fill="#f8f2ee"/><rect x="33.4" y="14.5" width="2.2" height="2.2" fill="#256baf"/><rect x="33.4" y="16.6" width="2.2" height="2.2" fill="#f7b698"/><rect x="33.4" y="18.7" width="2.2" height="2.2" fill="#3a87bd"/><rect x="33.4" y="20.8" width="2.2" height="2.2" fill="#7b0622"/><rect x="33.4" y="22.9" width="2.2" height="2.2" fill="#2a73b2"/><rect x="33.4" y="25.0" width="2.2" height="2.2" fill="#f6f7f7"/><rect x="33.4" y="27.1" width="2.2" height="2.2" fill="#f8f2ee"/><rect x="33.4" y="29.2" width="2.2" height="2.2" fill="#317cb7"/><rect x="33.4" y="31.3" width="2.2" height="2.2" fill="#770522"/><rect x="33.4" y="33.4" width="2.2" height="2.2" fill="#f8f4f2"/><rect x="33.4" y="35.5" width="2.2" height="2.2" fill="#8cc2dc"/><rect x="33.4" y="37.6" width="2.2" height="2.2" fill="#f9efea"/><rect x="33.4" y="39.7" width="2.2" height="2.2" fill="#950f26"/><rect x="33.4" y="41.8" width="2.2" height="2.2" fill="#be3036"/><rect x="33.4" y="43.9" width="2.2" height="2.2" fill="#f3f5f6"/><rect x="33.4" y="46.0" width="2.2" height="2.2" fill="#4594c4"/><rect x="33.4" y="48.1" width="2.2" height="2.2" fill="#f9efea"/><rect x="33.4" y="50.2" width="2.2" height="2.2" fill="#d1e5f0"/><rect x="33.4" y="52.3" width="2.2" height="2.2" fill="#7db8d7"/><rect x="33.4" y="54.4" width="2.2" height="2.2" fill="#c9e1ee"/><rect x="33.4" y="56.5" width="2.2" height="2.2" fill="#7f0823"/><rect x="35.5" y="1.9" width="2.2" height="2.2" fill="#e9f0f4"/><rect x="35.5" y="4.0" width="2.2" height="2.2" fill="#ecf2f5"/><rect x="35.5" y="6.1" width="2.2" height="2.2" fill="#facab1"/><rect x="35.5" y="8.2" width="2.2" height="2.2" fill="#eaf1f5"/><rect x="35.5" y="10.3" width="2.2" height="2.2" fill="#bc2c34"/><rect x="35.5" y="12.4" width="2.2" height="2.2" fill="#ab162a"/><rect x="35.5" y="14.5" width="2.2" height="2.2" fill="#f9efea"/><rect x="35.5" y="16.6" width="2.2" height="2.2" fill="#b4d6e8"/><rect x="35.5" y="18.7" width="2.2" height="2.2" fill="#e88a6e"/><rect x="35.5" y="20.8" width="2.2" height="2.2" fill="#f6b090"/><rect x="35.5" y="22.9" width="2.2" height="2.2" fill="#afd4e6"/><rect x="35.5" y="25.0" width="2.2" height="2.2" fill="#c7e0ed"/><rect x="35.5" y="27.1" width="2.2" height="2.2" fill="#f7f6f6"/><rect x="35.5" y="29.2" width="2.2" height="2.2" fill="#2971b1"/><rect x="35.5" y="31.3" width="2.2" height="2.2" fill="#d0e4f0"/><rect x="35.5" y="33.4" width="2.2" height="2.2" fill="#f1f4f6"/><rect x="35.5" y="35.5" width="2.2" height="2.2" fill="#ad162a"/><rect x="35.5" y="37.6" width="2.2" height="2.2" fill="#f9ece4"/><rect x="35.5" y="39.7" width="2.2" height="2.2" fill="#2b73b2"/><rect x="35.5" y="41.8" width="2.2" height="2.2" fill="#b2182b"/><rect x="35.5" y="43.9" width="2.2" height="2.2" fill="#f5a886"/><rect x="35.5" y="46.0" width="2.2" height="2.2" fill="#f8f2ef"/><rect x="35.5" y="48.1" width="2.2" height="2.2" fill="#f5aa88"/><rect x="35.5" y="50.2" width="2.2" height="2.2" fill="#b9d9e9"/><rect x="35.5" y="52.3" width="2.2" height="2.2" fill="#b72330"/><rect x="35.5" y="54.4" width="2.2" height="2.2" fill="#f7b89a"/><rect x="37.6" y="1.9" width="2.2" height="2.2" fill="#dd715a"/><rect x="37.6" y="4.0" width="2.2" height="2.2" fill="#840924"/><rect x="37.6" y="6.1" width="2.2" height="2.2" fill="#b51e2e"/><rect x="37.6" y="8.2" width="2.2" height="2.2" fill="#c0dceb"/><rect x="37.6" y="10.3" width="2.2" height="2.2" fill="#edf2f5"/><rect x="37.6" y="12.4" width="2.2" height="2.2" fill="#f9eee7"/><rect x="37.6" y="14.5" width="2.2" height="2.2" fill="#850a24"/><rect x="37.6" y="16.6" width="2.2" height="2.2" fill="#9e1128"/><rect x="37.6" y="18.7" width="2.2" height="2.2" fill="#c03538"/><rect x="37.6" y="20.8" width="2.2" height="2.2" fill="#f7f7f7"/><rect x="37.6" y="22.9" width="2.2" height="2.2" fill="#eff3f6"/><rect x="37.6" y="25.0" width="2.2" height="2.2" fill="#add2e6"/><rect x="37.6" y="27.1" width="2.2" height="2.2" fill="#f5ab8a"/><rect x="37.6" y="29.2" width="2.2" height="2.2" fill="#9d1128"/><rect x="37.6" y="31.3" width="2.2" height="2.2" fill="#6dadd1"/><rect x="37.6" y="33.4" width="2.2" height="2.2" fill="#93c5de"/><rect x="37.6" y="35.5" width="2.2" height="2.2" fill="#f9ece5"/><rect x="37.6" y="37.6" width="2.2" height="2.2" fill="#f4a683"/><rect x="37.6" y="39.7" width="2.2" height="2.2" fill="#c7e0ed"/><rect x="37.6" y="41.8" width="2.2" height="2.2" fill="#f7f7f7"/><rect x="37.6" y="43.9" width="2.2" height="2.2" fill="#7fb9d8"/><rect x="37.6" y="46.0" width="2.2" height="2.2" fill="#f9efea"/><rect x="37.6" y="48.1" width="2.2" height="2.2" fill="#76b3d4"/><rect x="37.6" y="50.2" width="2.2" height="2.2" fill="#f8f4f1"/><rect x="37.6" y="52.3" width="2.2" height="2.2" fill="#f9efe9"/><rect x="37.6" y="54.4" width="2.2" height="2.2" fill="#a0cce2"/><rect x="39.7" y="1.9" width="2.2" height="2.2" fill="#bedceb"/><rect x="39.7" y="4.0" width="2.2" height="2.2" fill="#337db8"/><rect x="39.7" y="6.1" width="2.2" height="2.2" fill="#7e0723"/><rect x="39.7" y="8.2" width="2.2" height="2.2" fill="#ae172a"/><rect x="39.7" y="10.3" width="2.2" height="2.2" fill="#b2d5e7"/><rect x="39.7" y="12.4" width="2.2" height="2.2" fill="#3f8ec1"/><rect x="39.7" y="14.5" width="2.2" height="2.2" fill="#f9efe9"/><rect x="39.7" y="16.6" width="2.2" height="2.2" fill="#549ec9"/><rect x="39.7" y="18.7" width="2.2" height="2.2" fill="#3783bb"/><rect x="39.7" y="20.8" width="2.2" height="2.2" fill="#f5f6f7"/><rect x="39.7" y="22.9" width="2.2" height="2.2" fill="#c03438"/><rect x="39.7" y="25.0" width="2.2" height="2.2" fill="#2a71b2"/><rect x="39.7" y="27.1" width="2.2" height="2.2" fill="#f9efe9"/><rect x="39.7" y="29.2" width="2.2" height="2.2" fill="#b6d7e8"/><rect x="39.7" y="31.3" width="2.2" height="2.2" fill="#4896c5"/><rect x="39.7" y="33.4" width="2.2" height="2.2" fill="#edf2f5"/><rect x="39.7" y="35.5" width="2.2" height="2.2" fill="#ab162a"/><rect x="39.7" y="37.6" width="2.2" height="2.2" fill="#790622"/><rect x="39.7" y="39.7" width="2.2" height="2.2" fill="#c33b3b"/><rect x="39.7" y="41.8" width="2.2" height="2.2" fill="#317cb7"/><rect x="39.7" y="43.9" width="2.2" height="2.2" fill="#f9c0a5"/><rect x="39.7" y="46.0" width="2.2" height="2.2" fill="#add3e6"/><rect x="39.7" y="48.1" width="2.2" height="2.2" fill="#eef3f5"/><rect x="39.7" y="50.2" width="2.2" height="2.2" fill="#890b25"/><rect x="39.7" y="52.3" width="2.2" height="2.2" fill="#f9efe9"/><rect x="39.7" y="54.4" width="2.2" height="2.2" fill="#f9f0ea"/><rect x="41.8" y="4.0" width="2.2" height="2.2" fill="#d15548"/><rect x="41.8" y="6.1" width="2.2" height="2.2" fill="#f8bea2"/><rect x="41.8" y="8.2" width="2.2" height="2.2" fill="#b51d2d"/><rect x="41.8" y="10.3" width="2.2" height="2.2" fill="#c2383a"/><rect x="41.8" y="12.4" width="2.2" height="2.2" fill="#f7f6f6"/><rect x="41.8" y="14.5" width="2.2" height="2.2" fill="#f3f5f6"/><rect x="41.8" y="16.6" width="2.2" height="2.2" fill="#87beda"/><rect x="41.8" y="18.7" width="2.2" height="2.2" fill="#a3cee3"/><rect x="41.8" y="20.8" width="2.2" height="2.2" fill="#2970b1"/><rect x="41.8" y="22.9" width="2.2" height="2.2" fill="#3d8bbf"/><rect x="41.8" y="25.0" width="2.2" height="2.2" fill="#f5f6f7"/><rect x="41.8" y="27.1" width="2.2" height="2.2" fill="#3884bb"/><rect x="41.8" y="29.2" width="2.2" height="2.2" fill="#f7f5f4"/><rect x="41.8" y="31.3" width="2.2" height="2.2" fill="#4191c2"/><rect x="41.8" y="33.4" width="2.2" height="2.2" fill="#b72230"/><rect x="41.8" y="35.5" width="2.2" height="2.2" fill="#2e77b5"/><rect x="41.8" y="37.6" width="2.2" height="2.2" fill="#eff3f6"/><rect x="41.8" y="39.7" width="2.2" height="2.2" fill="#f8ba9d"/><rect x="41.8" y="41.8" width="2.2" height="2.2" fill="#820923"/><rect x="41.8" y="43.9" width="2.2" height="2.2" fill="#f7f7f7"/><rect x="41.8" y="46.0" width="2.2" height="2.2" fill="#f9ede6"/><rect x="41.8" y="48.1" width="2.2" height="2.2" fill="#9fcce2"/><rect x="41.8" y="50.2" width="2.2" height="2.2" fill="#940e26"/><rect x="41.8" y="52.3" width="2.2" height="2.2" fill="#b61f2e"/><rect x="43.9" y="4.0" width="2.2" height="2.2" fill="#317bb7"/><rect x="43.9" y="6.1" width="2.2" height="2.2" fill="#2a72b2"/><rect x="43.9" y="8.2" width="2.2" height="2.2" fill="#b82431"/><rect x="43.9" y="10.3" width="2.2" height="2.2" fill="#ebf1f5"/><rect x="43.9" y="12.4" width="2.2" height="2.2" fill="#ba2933"/><rect x="43.9" y="14.5" width="2.2" height="2.2" fill="#aa162a"/><rect x="43.9" y="16.6" width="2.2" height="2.2" fill="#63a7ce"/><rect x="43.9" y="18.7" width="2.2" height="2.2" fill="#930e26"/><rect x="43.9" y="20.8" width="2.2" height="2.2" fill="#e8896c"/><rect x="43.9" y="22.9" width="2.2" height="2.2" fill="#2a72b2"/><rect x="43.9" y="25.0" width="2.2" height="2.2" fill="#f8f4f1"/><rect x="43.9" y="27.1" width="2.2" height="2.2" fill="#f9ede6"/><rect x="43.9" y="29.2" width="2.2" height="2.2" fill="#bf3338"/><rect x="43.9" y="31.3" width="2.2" height="2.2" fill="#f6b293"/><rect x="43.9" y="33.4" width="2.2" height="2.2" fill="#2267ad"/><rect x="43.9" y="35.5" width="2.2" height="2.2" fill="#f8f0ec"/><rect x="43.9" y="37.6" width="2.2" height="2.2" fill="#fcd5bf"/><rect x="43.9" y="39.7" width="2.2" height="2.2" fill="#4d99c6"/><rect x="43.9" y="41.8" width="2.2" height="2.2" fill="#b0d4e6"/><rect x="43.9" y="43.9" width="2.2" height="2.2" fill="#f9f0ea"/><rect x="43.9" y="46.0" width="2.2" height="2.2" fill="#2166ac"/><rect x="43.9" y="48.1" width="2.2" height="2.2" fill="#b31a2c"/><rect x="43.9" y="50.2" width="2.2" height="2.2" fill="#7b0622"/><rect x="43.9" y="52.3" width="2.2" height="2.2" fill="#950f26"/><rect x="46.0" y="6.1" width="2.2" height="2.2" fill="#2f78b5"/><rect x="46.0" y="8.2" width="2.2" height="2.2" fill="#b6202f"/><rect x="46.0" y="10.3" width="2.2" height="2.2" fill="#3b89be"/><rect x="46.0" y="12.4" width="2.2" height="2.2" fill="#8c0c25"/><rect x="46.0" y="14.5" width="2.2" height="2.2" fill="#f9c4a9"/><rect x="46.0" y="16.6" width="2.2" height="2.2" fill="#880a24"/><rect x="46.0" y="18.7" width="2.2" height="2.2" fill="#b41d2d"/><rect x="46.0" y="20.8" width="2.2" height="2.2" fill="#aed3e6"/><rect x="46.0" y="22.9" width="2.2" height="2.2" fill="#78b5d5"/><rect x="46.0" y="25.0" width="2.2" height="2.2" fill="#f8f1ed"/><rect x="46.0" y="27.1" width="2.2" height="2.2" fill="#fcd5bf"/><rect x="46.0" y="29.2" width="2.2" height="2.2" fill="#b7d8e9"/><rect x="46.0" y="31.3" width="2.2" height="2.2" fill="#f9eee7"/><rect x="46.0" y="33.4" width="2.2" height="2.2" fill="#3c89be"/><rect x="46.0" y="35.5" width="2.2" height="2.2" fill="#f6f7f7"/><rect x="46.0" y="37.6" width="2.2" height="2.2" fill="#b0182b"/><rect x="46.0" y="39.7" width="2.2" height="2.2" fill="#f09c7b"/><rect x="46.0" y="41.8" width="2.2" height="2.2" fill="#c9e1ee"/><rect x="46.0" y="43.9" width="2.2" height="2.2" fill="#fac7ae"/><rect x="46.0" y="46.0" width="2.2" height="2.2" fill="#910e26"/><rect x="46.0" y="48.1" width="2.2" height="2.2" fill="#f9f0eb"/><rect x="46.0" y="50.2" width="2.2" height="2.2" fill="#5fa5cd"/><rect x="48.1" y="8.2" width="2.2" height="2.2" fill="#f8f4f3"/><rect x="48.1" y="10.3" width="2.2" height="2.2" fill="#3986bc"/><rect x="48.1" y="12.4" width="2.2" height="2.2" fill="#ac162a"/><rect x="48.1" y="14.5" width="2.2" height="2.2" fill="#f8f4f2"/><rect x="48.1" y="16.6" width="2.2" height="2.2" fill="#84bcd9"/><rect x="48.1" y="18.7" width="2.2" height="2.2" fill="#f7f7f7"/><rect x="48.1" y="20.8" width="2.2" height="2.2" fill="#90c4dd"/><rect x="48.1" y="22.9" width="2.2" height="2.2" fill="#e9f0f4"/><rect x="48.1" y="25.0" width="2.2" height="2.2" fill="#ba2732"/><rect x="48.1" y="27.1" width="2.2" height="2.2" fill="#b1182b"/><rect x="48.1" y="29.2" width="2.2" height="2.2" fill="#a11328"/><rect x="48.1" y="31.3" width="2.2" height="2.2" fill="#84bcd9"/><rect x="48.1" y="33.4" width="2.2" height="2.2" fill="#bbdaea"/><rect x="48.1" y="35.5" width="2.2" height="2.2" fill="#f8f1ec"/><rect x="48.1" y="37.6" width="2.2" height="2.2" fill="#f7f7f7"/><rect x="48.1" y="39.7" width="2.2" height="2.2" fill="#b0172b"/><rect x="48.1" y="41.8" width="2.2" height="2.2" fill="#9bcae1"/><rect x="48.1" y="43.9" width="2.2" height="2.2" fill="#4f9ac7"/><rect x="48.1" y="46.0" width="2.2" height="2.2" fill="#780522"/><rect x="48.1" y="48.1" width="2.2" height="2.2" fill="#f7f6f5"/><rect x="50.2" y="10.3" width="2.2" height="2.2" fill="#7d0723"/><rect x="50.2" y="12.4" width="2.2" height="2.2" fill="#3783bb"/><rect x="50.2" y="14.5" width="2.2" height="2.2" fill="#bbdaea"/><rect x="50.2" y="16.6" width="2.2" height="2.2" fill="#940f26"/><rect x="50.2" y="18.7" width="2.2" height="2.2" fill="#950f26"/><rect x="50.2" y="20.8" width="2.2" height="2.2" fill="#f6f7f7"/><rect x="50.2" y="22.9" width="2.2" height="2.2" fill="#af172b"/><rect x="50.2" y="25.0" width="2.2" height="2.2" fill="#bc2b34"/><rect x="50.2" y="27.1" width="2.2" height="2.2" fill="#8f0d25"/><rect x="50.2" y="29.2" width="2.2" height="2.2" fill="#b61f2e"/><rect x="50.2" y="31.3" width="2.2" height="2.2" fill="#84bcd9"/><rect x="50.2" y="33.4" width="2.2" height="2.2" fill="#9e1228"/><rect x="50.2" y="35.5" width="2.2" height="2.2" fill="#ef9979"/><rect x="50.2" y="37.6" width="2.2" height="2.2" fill="#5ea4cc"/><rect x="50.2" y="39.7" width="2.2" height="2.2" fill="#eff3f6"/><rect x="50.2" y="41.8" width="2.2" height="2.2" fill="#539dc8"/><rect x="50.2" y="43.9" width="2.2" height="2.2" fill="#f9ede5"/><rect x="50.2" y="46.0" width="2.2" height="2.2" fill="#840924"/><rect x="52.3" y="12.4" width="2.2" height="2.2" fill="#c94641"/><rect x="52.3" y="14.5" width="2.2" height="2.2" fill="#e58267"/><rect x="52.3" y="16.6" width="2.2" height="2.2" fill="#8ac0db"/><rect x="52.3" y="18.7" width="2.2" height="2.2" fill="#8f0d25"/><rect x="52.3" y="20.8" width="2.2" height="2.2" fill="#f8f1ed"/><rect x="52.3" y="22.9" width="2.2" height="2.2" fill="#eaf1f5"/><rect x="52.3" y="25.0" width="2.2" height="2.2" fill="#f4a582"/><rect x="52.3" y="27.1" width="2.2" height="2.2" fill="#347fb9"/><rect x="52.3" y="29.2" width="2.2" height="2.2" fill="#9d1128"/><rect x="52.3" y="31.3" width="2.2" height="2.2" fill="#f9ede6"/><rect x="52.3" y="33.4" width="2.2" height="2.2" fill="#f9c2a7"/><rect x="52.3" y="35.5" width="2.2" height="2.2" fill="#3480b9"/><rect x="52.3" y="37.6" width="2.2" height="2.2" fill="#3b88bd"/><rect x="52.3" y="39.7" width="2.2" height="2.2" fill="#edf2f5"/><rect x="52.3" y="41.8" width="2.2" height="2.2" fill="#f8f1ec"/><rect x="52.3" y="43.9" width="2.2" height="2.2" fill="#d05347"/><rect x="54.4" y="16.6" width="2.2" height="2.2" fill="#be2f36"/><rect x="54.4" y="18.7" width="2.2" height="2.2" fill="#ca4842"/><rect x="54.4" y="20.8" width="2.2" height="2.2" fill="#286fb0"/><rect x="54.4" y="22.9" width="2.2" height="2.2" fill="#9b1127"/><rect x="54.4" y="25.0" width="2.2" height="2.2" fill="#b61f2e"/><rect x="54.4" y="27.1" width="2.2" height="2.2" fill="#f19f7d"/><rect x="54.4" y="29.2" width="2.2" height="2.2" fill="#880a24"/><rect x="54.4" y="31.3" width="2.2" height="2.2" fill="#9c1128"/><rect x="54.4" y="33.4" width="2.2" height="2.2" fill="#2f78b5"/><rect x="54.4" y="35.5" width="2.2" height="2.2" fill="#850a24"/><rect x="54.4" y="37.6" width="2.2" height="2.2" fill="#2c75b4"/><rect x="54.4" y="39.7" width="2.2" height="2.2" fill="#cfe4ef"/><rect x="56.5" y="22.9" width="2.2" height="2.2" fill="#e98b6e"/><rect x="56.5" y="25.0" width="2.2" height="2.2" fill="#db6b55"/><rect x="56.5" y="27.1" width="2.2" height="2.2" fill="#c7433f"/><rect x="56.5" y="29.2" width="2.2" height="2.2" fill="#ba2833"/><rect x="56.5" y="31.3" width="2.2" height="2.2" fill="#c33a3b"/><rect x="56.5" y="33.4" width="2.2" height="2.2" fill="#f9efe9"/></svg></div><div class="ab" style="left:72.4px;top:271.7px;width:482.0px;height:141.2px;"><div class="ab" style="left:0;top:0;width:100%;height:70.3px;background:linear-gradient(to right,#dc0000 0.00px,#e80000 2.65px,#ff1300 7.95px,#ff1c00 10.60px,#ff7b00 19.60px,#ffec00 24.10px,#f7f600 24.47px,#efff08 24.85px,#deff19 25.60px,#19ffde 31.60px,#15ffe2 31.69px,#00e5f7 32.12px,#00dbff 32.30px,#0019ff 35.60px,#0000ff 36.10px,#0000ff 36.40px,#000080 38.60px,#800000 38.60px,#e80000 41.48px,#ff1300 42.12px,#ffec00 49.48px,#f7f600 49.80px,#efff08 50.12px,#15ffe2 58.60px,#00e5f7 59.40px,#00dbff 59.72px,#0000ff 66.60px,#0000ff 67.08px,#000080 70.60px,#800000 70.60px,#e80000 72.76px,#ff1300 73.24px,#ffec00 78.76px,#f7f600 79.00px,#efff08 79.24px,#15ffe2 85.60px,#00e5f7 86.20px,#00dbff 86.44px,#0000ff 91.60px,#0000ff 91.96px,#000080 94.60px,#800000 94.60px,#e80000 97.21px,#ff1300 97.79px,#ffec00 104.46px,#f7f600 104.75px,#efff08 105.04px,#15ffe2 112.72px,#00e5f7 113.45px,#00dbff 113.74px,#0000ff 119.97px,#0000ff 120.41px,#000080 123.60px,#800000 123.60px,#e80000 126.41px,#ff1300 127.03px,#ffec00 134.21px,#f7f600 134.52px,#efff08 134.83px,#15ffe2 143.10px,#00e5f7 143.88px,#00dbff 144.19px,#0000ff 150.90px,#0000ff 151.37px,#000080 154.80px,#800000 154.80px,#e80000 156.90px,#ff1300 157.36px,#ffec00 162.72px,#f7f600 162.95px,#efff08 163.19px,#15ffe2 169.36px,#00e5f7 169.94px,#00dbff 170.18px,#0000ff 175.19px,#0000ff 175.54px,#000080 178.10px,#800000 178.10px,#e80000 180.87px,#ff1300 181.49px,#ffec00 188.57px,#f7f600 188.88px,#efff08 189.19px,#15ffe2 197.35px,#00e5f7 198.12px,#00dbff 198.43px,#0000ff 205.05px,#0000ff 205.51px,#000080 208.90px,#800000 208.90px,#e80000 211.66px,#ff1300 212.28px,#ffec00 219.34px,#f7f600 219.65px,#efff08 219.95px,#15ffe2 228.09px,#00e5f7 228.85px,#00dbff 229.16px,#0000ff 235.76px,#0000ff 236.22px,#000080 239.60px,#800000 239.60px,#e80000 241.77px,#ff1300 242.25px,#ffec00 247.79px,#f7f600 248.04px,#efff08 248.28px,#15ffe2 254.66px,#00e5f7 255.27px,#00dbff 255.51px,#0000ff 260.69px,#0000ff 261.05px,#000080 263.70px,#800000 263.70px,#e80000 266.46px,#ff1300 267.08px,#ffec00 274.14px,#f7f600 274.45px,#efff08 274.75px,#15ffe2 282.89px,#00e5f7 283.65px,#00dbff 283.96px,#0000ff 290.56px,#0000ff 291.02px,#000080 294.40px,#800000 294.40px,#e80000 297.08px,#ff1300 297.68px,#ffec00 304.53px,#f7f600 304.83px,#efff08 305.13px,#15ffe2 313.03px,#00e5f7 313.77px,#00dbff 314.07px,#0000ff 320.48px,#0000ff 320.92px,#000080 324.20px,#800000 324.20px,#e80000 326.47px,#ff1300 326.97px,#ffec00 332.77px,#f7f600 333.02px,#efff08 333.27px,#15ffe2 339.95px,#00e5f7 340.58px,#00dbff 340.83px,#0000ff 346.25px,#0000ff 346.63px,#000080 349.40px,#800000 349.40px,#e80000 352.18px,#ff1300 352.80px,#ffec00 359.91px,#f7f600 360.21px,#efff08 360.52px,#15ffe2 368.71px,#00e5f7 369.48px,#00dbff 369.79px,#0000ff 376.44px,#0000ff 376.90px,#000080 380.30px,#800000 380.30px,#e80000 383.04px,#ff1300 383.64px,#ffec00 390.64px,#f7f600 390.94px,#efff08 391.24px,#15ffe2 399.30px,#00e5f7 400.06px,#00dbff 400.36px,#0000ff 406.90px,#0000ff 407.36px,#000080 410.70px,#800000 410.70px,#e80000 412.80px,#ff1300 413.26px,#ffec00 418.62px,#f7f600 418.86px,#efff08 419.09px,#15ffe2 425.26px,#00e5f7 425.85px,#00dbff 426.08px,#0000ff 431.09px,#0000ff 431.44px,#000080 434.00px,#800000 434.00px,#e80000 436.93px,#ff1300 437.59px,#ffec00 445.08px,#f7f600 445.41px,#efff08 445.74px,#15ffe2 454.38px,#00e5f7 455.19px,#00dbff 455.52px,#0000ff 462.53px,#0000ff 463.01px,#000080 466.60px,#800000 466.60px,#e80000 469.53px,#ff1300 470.19px,#ffec00 477.68px,#f7f600 478.01px,#efff08 478.34px,#92ff65 482.00px)"></div><div class="ab" style="left:0;top:70.3px;width:100%;height:70.9px;background:linear-gradient(to right,#ffc600 0.00px,#ffec00 1.57px,#f7f600 1.96px,#efff08 2.35px,#15ffe2 12.72px,#00e5f7 13.70px,#00dbff 14.09px,#0000ff 22.51px,#0000ff 23.09px,#000080 27.40px,#800000 27.40px,#e80000 29.75px,#ff1300 30.27px,#ffec00 36.27px,#f7f600 36.53px,#efff08 36.80px,#15ffe2 43.71px,#00e5f7 44.36px,#00dbff 44.63px,#0000ff 50.24px,#0000ff 50.63px,#000080 53.50px,#800000 53.50px,#e80000 55.93px,#ff1300 56.47px,#ffec00 62.68px,#f7f600 62.95px,#efff08 63.22px,#15ffe2 70.38px,#00e5f7 71.05px,#00dbff 71.32px,#0000ff 77.12px,#0000ff 77.53px,#000080 80.50px,#800000 80.50px,#e80000 83.34px,#ff1300 83.98px,#ffec00 91.24px,#f7f600 91.56px,#efff08 91.88px,#15ffe2 100.25px,#00e5f7 101.04px,#00dbff 101.36px,#0000ff 108.15px,#0000ff 108.62px,#000080 112.10px,#800000 112.10px,#e80000 114.27px,#ff1300 114.75px,#ffec00 120.29px,#f7f600 120.53px,#efff08 120.78px,#15ffe2 127.16px,#00e5f7 127.76px,#00dbff 128.01px,#0000ff 133.19px,#0000ff 133.55px,#000080 136.20px,#800000 136.20px,#e80000 138.97px,#ff1300 139.59px,#ffec00 146.67px,#f7f600 146.98px,#efff08 147.29px,#15ffe2 155.45px,#00e5f7 156.22px,#00dbff 156.53px,#0000ff 163.15px,#0000ff 163.61px,#000080 167.00px,#800000 167.00px,#e80000 169.76px,#ff1300 170.38px,#ffec00 177.44px,#f7f600 177.75px,#efff08 178.05px,#15ffe2 186.19px,#00e5f7 186.96px,#00dbff 187.26px,#0000ff 193.86px,#0000ff 194.32px,#000080 197.70px,#800000 197.70px,#e80000 199.85px,#ff1300 200.33px,#ffec00 205.83px,#f7f600 206.06px,#efff08 206.30px,#15ffe2 212.64px,#00e5f7 213.24px,#00dbff 213.47px,#0000ff 218.61px,#0000ff 218.97px,#000080 221.60px,#800000 221.60px,#e80000 224.30px,#ff1300 224.90px,#ffec00 231.80px,#f7f600 232.10px,#efff08 232.40px,#15ffe2 240.35px,#00e5f7 241.10px,#00dbff 241.40px,#0000ff 247.85px,#0000ff 248.30px,#000080 251.60px,#800000 251.60px,#e80000 254.44px,#ff1300 255.08px,#ffec00 262.34px,#f7f600 262.66px,#efff08 262.98px,#15ffe2 271.35px,#00e5f7 272.14px,#00dbff 272.46px,#0000ff 279.25px,#0000ff 279.72px,#000080 283.20px,#800000 283.20px,#e80000 285.22px,#ff1300 285.66px,#ffec00 290.82px,#f7f600 291.04px,#efff08 291.26px,#15ffe2 297.20px,#00e5f7 297.76px,#00dbff 297.98px,#0000ff 302.80px,#0000ff 303.14px,#000080 305.60px,#800000 305.60px,#e80000 308.62px,#ff1300 309.29px,#ffec00 316.99px,#f7f600 317.33px,#efff08 317.66px,#15ffe2 326.54px,#00e5f7 327.38px,#00dbff 327.71px,#0000ff 334.91px,#0000ff 335.42px,#000080 339.10px,#800000 339.10px,#e80000 341.68px,#ff1300 342.26px,#ffec00 348.86px,#f7f600 349.14px,#efff08 349.43px,#15ffe2 357.04px,#00e5f7 357.75px,#00dbff 358.04px,#0000ff 364.21px,#0000ff 364.64px,#000080 367.80px,#800000 367.80px,#e80000 369.99px,#ff1300 370.47px,#ffec00 376.06px,#f7f600 376.30px,#efff08 376.55px,#15ffe2 382.99px,#00e5f7 383.60px,#00dbff 383.84px,#0000ff 389.06px,#0000ff 389.43px,#000080 392.10px,#800000 392.10px,#e80000 394.86px,#ff1300 395.48px,#ffec00 402.54px,#f7f600 402.85px,#efff08 403.15px,#15ffe2 411.29px,#00e5f7 412.05px,#00dbff 412.36px,#0000ff 418.96px,#0000ff 419.42px,#000080 422.80px,#800000 422.80px,#e80000 425.48px,#ff1300 426.08px,#ffec00 432.93px,#f7f600 433.23px,#efff08 433.53px,#15ffe2 441.43px,#00e5f7 442.17px,#00dbff 442.47px,#0000ff 448.88px,#0000ff 449.32px,#000080 452.60px,#800000 452.60px,#e80000 454.86px,#ff1300 455.36px,#ffec00 461.13px,#f7f600 461.39px,#efff08 461.64px,#15ffe2 468.29px,#00e5f7 468.92px,#00dbff 469.17px,#0000ff 474.56px,#0000ff 474.94px,#000080 477.70px,#800000 477.70px,#e80000 479.96px,#ff1300 480.46px,#ff4d00 482.00px)"></div><svg class="ab" style="left:0;top:0" width="482.0" height="141.2"><defs>
<filter id="warp" x="-5%" y="-20%" width="110%" height="140%" color-interpolation-filters="sRGB">
<feTurbulence type="fractalNoise" baseFrequency="0.06 0.18" numOctaves="2" seed="3" result="t"/>
<feDisplacementMap in="SourceGraphic" in2="t" scale="14" xChannelSelector="R" yChannelSelector="G"/>
</filter>
<linearGradient id="tg" x1="0" y1="0" x2="1" y2="0"><stop offset="0" stop-color="#0048ff"/><stop offset="1" stop-color="#0010d0"/></linearGradient>
</defs>
<linearGradient id="rg" x1="0" y1="0" x2="1" y2="0"><stop offset="0" stop-color="#b00000"/><stop offset="1" stop-color="#ff2000"/></linearGradient>
<polygon points="10.3,0.0 14.1,0.0 10.1,28.3 6.1,53.3 3.6,70.3 0.0,70.3 0.0,68.3" fill="url(#rg)"/>
<polygon points="0.0,0.0 10.3,0.0 6.6,28.3 2.6,53.3 0.0,68.3" fill="url(#tg)"/>
</svg><svg class="ab" style="left:0;top:0" width="482.0" height="141.2"><defs><radialGradient id="cg1" gradientUnits="userSpaceOnUse" spreadMethod="repeat" cx="43.20" cy="48.30" fx="43.20" fy="48.30" r="13.94" gradientTransform="translate(0 48.30) scale(1 0.167) translate(0 -48.30)"><stop offset="0.0000" stop-color="#000080"/><stop offset="0.1100" stop-color="#0000ff"/><stop offset="0.1250" stop-color="#0000ff"/><stop offset="0.3400" stop-color="#00dbff"/><stop offset="0.3500" stop-color="#00e5f7"/><stop offset="0.3750" stop-color="#15ffe2"/><stop offset="0.6400" stop-color="#efff08"/><stop offset="0.6500" stop-color="#f7f600"/><stop offset="0.6600" stop-color="#ffec00"/><stop offset="0.8900" stop-color="#ff1300"/><stop offset="0.9100" stop-color="#e80000"/><stop offset="1.0000" stop-color="#800000"/></radialGradient><radialGradient id="cg2" gradientUnits="userSpaceOnUse" spreadMethod="repeat" cx="78.15" cy="49.45" fx="78.15" fy="49.45" r="14.86" gradientTransform="translate(0 49.45) scale(1 0.165) translate(0 -49.45)"><stop offset="0.0000" stop-color="#000080"/><stop offset="0.1100" stop-color="#0000ff"/><stop offset="0.1250" stop-color="#0000ff"/><stop offset="0.3400" stop-color="#00dbff"/><stop offset="0.3500" stop-color="#00e5f7"/><stop offset="0.3750" stop-color="#15ffe2"/><stop offset="0.6400" stop-color="#efff08"/><stop offset="0.6500" stop-color="#f7f600"/><stop offset="0.6600" stop-color="#ffec00"/><stop offset="0.8900" stop-color="#ff1300"/><stop offset="0.9100" stop-color="#e80000"/><stop offset="1.0000" stop-color="#800000"/></radialGradient><radialGradient id="cg3" gradientUnits="userSpaceOnUse" spreadMethod="repeat" cx="71.98" cy="50.08" fx="71.98" fy="50.08" r="12.64" gradientTransform="translate(0 50.08) scale(1 0.223) translate(0 -50.08)"><stop offset="0.0000" stop-color="#800000"/><stop offset="0.0900" stop-color="#e80000"/><stop offset="0.1100" stop-color="#ff1300"/><stop offset="0.3400" stop-color="#ffec00"/><stop offset="0.3500" stop-color="#f7f600"/><stop offset="0.3600" stop-color="#efff08"/><stop offset="0.6250" stop-color="#15ffe2"/><stop offset="0.6500" stop-color="#00e5f7"/><stop offset="0.6600" stop-color="#00dbff"/><stop offset="0.8750" stop-color="#0000ff"/><stop offset="0.8900" stop-color="#0000ff"/><stop offset="1.0000" stop-color="#000080"/></radialGradient><radialGradient id="cg4" gradientUnits="userSpaceOnUse" spreadMethod="repeat" cx="133.39" cy="46.87" fx="133.39" fy="46.87" r="14.12" gradientTransform="translate(0 46.87) scale(1 0.200) translate(0 -46.87)"><stop offset="0.0000" stop-color="#000080"/><stop offset="0.1100" stop-color="#0000ff"/><stop offset="0.1250" stop-color="#0000ff"/><stop offset="0.3400" stop-color="#00dbff"/><stop offset="0.3500" stop-color="#00e5f7"/><stop offset="0.3750" stop-color="#15ffe2"/><stop offset="0.6400" stop-color="#efff08"/><stop offset="0.6500" stop-color="#f7f600"/><stop offset="0.6600" stop-color="#ffec00"/><stop offset="0.8900" stop-color="#ff1300"/><stop offset="0.9100" stop-color="#e80000"/><stop offset="1.0000" stop-color="#800000"/></radialGradient><radialGradient id="cg5" gradientUnits="userSpaceOnUse" spreadMethod="repeat" cx="160.06" cy="50.59" fx="160.06" fy="50.59" r="15.49" gradientTransform="translate(0 50.59) scale(1 0.181) translate(0 -50.59)"><stop offset="0.0000" stop-color="#000080"/><stop offset="0.1100" stop-color="#0000ff"/><stop offset="0.1250" stop-color="#0000ff"/><stop offset="0.3400" stop-color="#00dbff"/><stop offset="0.3500" stop-color="#00e5f7"/><stop offset="0.3750" stop-color="#15ffe2"/><stop offset="0.6400" stop-color="#efff08"/><stop offset="0.6500" stop-color="#f7f600"/><stop offset="0.6600" stop-color="#ffec00"/><stop offset="0.8900" stop-color="#ff1300"/><stop offset="0.9100" stop-color="#e80000"/><stop offset="1.0000" stop-color="#800000"/></radialGradient><radialGradient id="cg6" gradientUnits="userSpaceOnUse" spreadMethod="repeat" cx="182.65" cy="47.45" fx="182.65" fy="47.45" r="12.54" gradientTransform="translate(0 47.45) scale(1 0.227) translate(0 -47.45)"><stop offset="0.0000" stop-color="#000080"/><stop offset="0.1100" stop-color="#0000ff"/><stop offset="0.1250" stop-color="#0000ff"/><stop offset="0.3400" stop-color="#00dbff"/><stop offset="0.3500" stop-color="#00e5f7"/><stop offset="0.3750" stop-color="#15ffe2"/><stop offset="0.6400" stop-color="#efff08"/><stop offset="0.6500" stop-color="#f7f600"/><stop offset="0.6600" stop-color="#ffec00"/><stop offset="0.8900" stop-color="#ff1300"/><stop offset="0.9100" stop-color="#e80000"/><stop offset="1.0000" stop-color="#800000"/></radialGradient><radialGradient id="cg7" gradientUnits="userSpaceOnUse" spreadMethod="repeat" cx="172.43" cy="48.48" fx="172.43" fy="48.48" r="10.31" gradientTransform="translate(0 48.48) scale(1 0.222) translate(0 -48.48)"><stop offset="0.0000" stop-color="#800000"/><stop offset="0.0900" stop-color="#e80000"/><stop offset="0.1100" stop-color="#ff1300"/><stop offset="0.3400" stop-color="#ffec00"/><stop offset="0.3500" stop-color="#f7f600"/><stop offset="0.3600" stop-color="#efff08"/><stop offset="0.6250" stop-color="#15ffe2"/><stop offset="0.6500" stop-color="#00e5f7"/><stop offset="0.6600" stop-color="#00dbff"/><stop offset="0.8750" stop-color="#0000ff"/><stop offset="0.8900" stop-color="#0000ff"/><stop offset="1.0000" stop-color="#000080"/></radialGradient><radialGradient id="cg8" gradientUnits="userSpaceOnUse" spreadMethod="repeat" cx="257.56" cy="50.67" fx="257.56" fy="50.67" r="12.86" gradientTransform="translate(0 50.67) scale(1 0.194) translate(0 -50.67)"><stop offset="0.0000" stop-color="#000080"/><stop offset="0.1100" stop-color="#0000ff"/><stop offset="0.1250" stop-color="#0000ff"/><stop offset="0.3400" stop-color="#00dbff"/><stop offset="0.3500" stop-color="#00e5f7"/><stop offset="0.3750" stop-color="#15ffe2"/><stop offset="0.6400" stop-color="#efff08"/><stop offset="0.6500" stop-color="#f7f600"/><stop offset="0.6600" stop-color="#ffec00"/><stop offset="0.8900" stop-color="#ff1300"/><stop offset="0.9100" stop-color="#e80000"/><stop offset="1.0000" stop-color="#800000"/></radialGradient><radialGradient id="cg9" gradientUnits="userSpaceOnUse" spreadMethod="repeat" cx="300.72" cy="49.50" fx="300.72" fy="49.50" r="13.98" gradientTransform="translate(0 49.50) scale(1 0.197) translate(0 -49.50)"><stop offset="0.0000" stop-color="#000080"/><stop offset="0.1100" stop-color="#0000ff"/><stop offset="0.1250" stop-color="#0000ff"/><stop offset="0.3400" stop-color="#00dbff"/><stop offset="0.3500" stop-color="#00e5f7"/><stop offset="0.3750" stop-color="#15ffe2"/><stop offset="0.6400" stop-color="#efff08"/><stop offset="0.6500" stop-color="#f7f600"/><stop offset="0.6600" stop-color="#ffec00"/><stop offset="0.8900" stop-color="#ff1300"/><stop offset="0.9100" stop-color="#e80000"/><stop offset="1.0000" stop-color="#800000"/></radialGradient><radialGradient id="cg10" gradientUnits="userSpaceOnUse" spreadMethod="repeat" cx="328.20" cy="48.80" fx="328.20" fy="48.80" r="11.41" gradientTransform="translate(0 48.80) scale(1 0.196) translate(0 -48.80)"><stop offset="0.0000" stop-color="#000080"/><stop offset="0.1100" stop-color="#0000ff"/><stop offset="0.1250" stop-color="#0000ff"/><stop offset="0.3400" stop-color="#00dbff"/><stop offset="0.3500" stop-color="#00e5f7"/><stop offset="0.3750" stop-color="#15ffe2"/><stop offset="0.6400" stop-color="#efff08"/><stop offset="0.6500" stop-color="#f7f600"/><stop offset="0.6600" stop-color="#ffec00"/><stop offset="0.8900" stop-color="#ff1300"/><stop offset="0.9100" stop-color="#e80000"/><stop offset="1.0000" stop-color="#800000"/></radialGradient><radialGradient id="cg11" gradientUnits="userSpaceOnUse" spreadMethod="repeat" cx="346.88" cy="48.51" fx="346.88" fy="48.51" r="14.94" gradientTransform="translate(0 48.51) scale(1 0.189) translate(0 -48.51)"><stop offset="0.0000" stop-color="#000080"/><stop offset="0.1100" stop-color="#0000ff"/><stop offset="0.1250" stop-color="#0000ff"/><stop offset="0.3400" stop-color="#00dbff"/><stop offset="0.3500" stop-color="#00e5f7"/><stop offset="0.3750" stop-color="#15ffe2"/><stop offset="0.6400" stop-color="#efff08"/><stop offset="0.6500" stop-color="#f7f600"/><stop offset="0.6600" stop-color="#ffec00"/><stop offset="0.8900" stop-color="#ff1300"/><stop offset="0.9100" stop-color="#e80000"/><stop offset="1.0000" stop-color="#800000"/></radialGradient><radialGradient id="cg12" gradientUnits="userSpaceOnUse" spreadMethod="repeat" cx="378.20" cy="49.58" fx="378.20" fy="49.58" r="14.63" gradientTransform="translate(0 49.58) scale(1 0.232) translate(0 -49.58)"><stop offset="0.0000" stop-color="#000080"/><stop offset="0.1100" stop-color="#0000ff"/><stop offset="0.1250" stop-color="#0000ff"/><stop offset="0.3400" stop-color="#00dbff"/><stop offset="0.3500" stop-color="#00e5f7"/><stop offset="0.3750" stop-color="#15ffe2"/><stop offset="0.6400" stop-color="#efff08"/><stop offset="0.6500" stop-color="#f7f600"/><stop offset="0.6600" stop-color="#ffec00"/><stop offset="0.8900" stop-color="#ff1300"/><stop offset="0.9100" stop-color="#e80000"/><stop offset="1.0000" stop-color="#800000"/></radialGradient><radialGradient id="cg13" gradientUnits="userSpaceOnUse" spreadMethod="repeat" cx="401.68" cy="48.64" fx="401.68" fy="48.64" r="11.66" gradientTransform="translate(0 48.64) scale(1 0.199) translate(0 -48.64)"><stop offset="0.0000" stop-color="#000080"/><stop offset="0.1100" stop-color="#0000ff"/><stop offset="0.1250" stop-color="#0000ff"/><stop offset="0.3400" stop-color="#00dbff"/><stop offset="0.3500" stop-color="#00e5f7"/><stop offset="0.3750" stop-color="#15ffe2"/><stop offset="0.6400" stop-color="#efff08"/><stop offset="0.6500" stop-color="#f7f600"/><stop offset="0.6600" stop-color="#ffec00"/><stop offset="0.8900" stop-color="#ff1300"/><stop offset="0.9100" stop-color="#e80000"/><stop offset="1.0000" stop-color="#800000"/></radialGradient><radialGradient id="cg14" gradientUnits="userSpaceOnUse" spreadMethod="repeat" cx="396.35" cy="50.62" fx="396.35" fy="50.62" r="11.69" gradientTransform="translate(0 50.62) scale(1 0.184) translate(0 -50.62)"><stop offset="0.0000" stop-color="#800000"/><stop offset="0.0900" stop-color="#e80000"/><stop offset="0.1100" stop-color="#ff1300"/><stop offset="0.3400" stop-color="#ffec00"/><stop offset="0.3500" stop-color="#f7f600"/><stop offset="0.3600" stop-color="#efff08"/><stop offset="0.6250" stop-color="#15ffe2"/><stop offset="0.6500" stop-color="#00e5f7"/><stop offset="0.6600" stop-color="#00dbff"/><stop offset="0.8750" stop-color="#0000ff"/><stop offset="0.8900" stop-color="#0000ff"/><stop offset="1.0000" stop-color="#000080"/></radialGradient><radialGradient id="cg15" gradientUnits="userSpaceOnUse" spreadMethod="repeat" cx="464.17" cy="50.45" fx="464.17" fy="50.45" r="15.55" gradientTransform="translate(0 50.45) scale(1 0.196) translate(0 -50.45)"><stop offset="0.0000" stop-color="#000080"/><stop offset="0.1100" stop-color="#0000ff"/><stop offset="0.1250" stop-color="#0000ff"/><stop offset="0.3400" stop-color="#00dbff"/><stop offset="0.3500" stop-color="#00e5f7"/><stop offset="0.3750" stop-color="#15ffe2"/><stop offset="0.6400" stop-color="#efff08"/><stop offset="0.6500" stop-color="#f7f600"/><stop offset="0.6600" stop-color="#ffec00"/><stop offset="0.8900" stop-color="#ff1300"/><stop offset="0.9100" stop-color="#e80000"/><stop offset="1.0000" stop-color="#800000"/></radialGradient><radialGradient id="cg16" gradientUnits="userSpaceOnUse" spreadMethod="repeat" cx="483.24" cy="46.83" fx="483.24" fy="46.83" r="11.61" gradientTransform="translate(0 46.83) scale(1 0.158) translate(0 -46.83)"><stop offset="0.0000" stop-color="#000080"/><stop offset="0.1100" stop-color="#0000ff"/><stop offset="0.1250" stop-color="#0000ff"/><stop offset="0.3400" stop-color="#00dbff"/><stop offset="0.3500" stop-color="#00e5f7"/><stop offset="0.3750" stop-color="#15ffe2"/><stop offset="0.6400" stop-color="#efff08"/><stop offset="0.6500" stop-color="#f7f600"/><stop offset="0.6600" stop-color="#ffec00"/><stop offset="0.8900" stop-color="#ff1300"/><stop offset="0.9100" stop-color="#e80000"/><stop offset="1.0000" stop-color="#800000"/></radialGradient><radialGradient id="cg17" gradientUnits="userSpaceOnUse" spreadMethod="repeat" cx="475.79" cy="46.90" fx="475.79" fy="46.90" r="13.71" gradientTransform="translate(0 46.90) scale(1 0.144) translate(0 -46.90)"><stop offset="0.0000" stop-color="#800000"/><stop offset="0.0900" stop-color="#e80000"/><stop offset="0.1100" stop-color="#ff1300"/><stop offset="0.3400" stop-color="#ffec00"/><stop offset="0.3500" stop-color="#f7f600"/><stop offset="0.3600" stop-color="#efff08"/><stop offset="0.6250" stop-color="#15ffe2"/><stop offset="0.6500" stop-color="#00e5f7"/><stop offset="0.6600" stop-color="#00dbff"/><stop offset="0.8750" stop-color="#0000ff"/><stop offset="0.8900" stop-color="#0000ff"/><stop offset="1.0000" stop-color="#000080"/></radialGradient><radialGradient id="cg18" gradientUnits="userSpaceOnUse" spreadMethod="repeat" cx="42.34" cy="55.11" fx="42.34" fy="55.11" r="14.72" gradientTransform="translate(0 55.11) scale(1 0.154) translate(0 -55.11)"><stop offset="0.0000" stop-color="#000080"/><stop offset="0.1100" stop-color="#0000ff"/><stop offset="0.1250" stop-color="#0000ff"/><stop offset="0.3400" stop-color="#00dbff"/><stop offset="0.3500" stop-color="#00e5f7"/><stop offset="0.3750" stop-color="#15ffe2"/><stop offset="0.6400" stop-color="#efff08"/><stop offset="0.6500" stop-color="#f7f600"/><stop offset="0.6600" stop-color="#ffec00"/><stop offset="0.8900" stop-color="#ff1300"/><stop offset="0.9100" stop-color="#e80000"/><stop offset="1.0000" stop-color="#800000"/></radialGradient><radialGradient id="cg19" gradientUnits="userSpaceOnUse" spreadMethod="repeat" cx="31.11" cy="53.65" fx="31.11" fy="53.65" r="13.76" gradientTransform="translate(0 53.65) scale(1 0.209) translate(0 -53.65)"><stop offset="0.0000" stop-color="#800000"/><stop offset="0.0900" stop-color="#e80000"/><stop offset="0.1100" stop-color="#ff1300"/><stop offset="0.3400" stop-color="#ffec00"/><stop offset="0.3500" stop-color="#f7f600"/><stop offset="0.3600" stop-color="#efff08"/><stop offset="0.6250" stop-color="#15ffe2"/><stop offset="0.6500" stop-color="#00e5f7"/><stop offset="0.6600" stop-color="#00dbff"/><stop offset="0.8750" stop-color="#0000ff"/><stop offset="0.8900" stop-color="#0000ff"/><stop offset="1.0000" stop-color="#000080"/></radialGradient><radialGradient id="cg20" gradientUnits="userSpaceOnUse" spreadMethod="repeat" cx="68.45" cy="55.78" fx="68.45" fy="55.78" r="15.24" gradientTransform="translate(0 55.78) scale(1 0.207) translate(0 -55.78)"><stop offset="0.0000" stop-color="#800000"/><stop offset="0.0900" stop-color="#e80000"/><stop offset="0.1100" stop-color="#ff1300"/><stop offset="0.3400" stop-color="#ffec00"/><stop offset="0.3500" stop-color="#f7f600"/><stop offset="0.3600" stop-color="#efff08"/><stop offset="0.6250" stop-color="#15ffe2"/><stop offset="0.6500" stop-color="#00e5f7"/><stop offset="0.6600" stop-color="#00dbff"/><stop offset="0.8750" stop-color="#0000ff"/><stop offset="0.8900" stop-color="#0000ff"/><stop offset="1.0000" stop-color="#000080"/></radialGradient><radialGradient id="cg21" gradientUnits="userSpaceOnUse" spreadMethod="repeat" cx="148.35" cy="55.78" fx="148.35" fy="55.78" r="11.28" gradientTransform="translate(0 55.78) scale(1 0.206) translate(0 -55.78)"><stop offset="0.0000" stop-color="#000080"/><stop offset="0.1100" stop-color="#0000ff"/><stop offset="0.1250" stop-color="#0000ff"/><stop offset="0.3400" stop-color="#00dbff"/><stop offset="0.3500" stop-color="#00e5f7"/><stop offset="0.3750" stop-color="#15ffe2"/><stop offset="0.6400" stop-color="#efff08"/><stop offset="0.6500" stop-color="#f7f600"/><stop offset="0.6600" stop-color="#ffec00"/><stop offset="0.8900" stop-color="#ff1300"/><stop offset="0.9100" stop-color="#e80000"/><stop offset="1.0000" stop-color="#800000"/></radialGradient><radialGradient id="cg22" gradientUnits="userSpaceOnUse" spreadMethod="repeat" cx="172.50" cy="56.92" fx="172.50" fy="56.92" r="15.32" gradientTransform="translate(0 56.92) scale(1 0.190) translate(0 -56.92)"><stop offset="0.0000" stop-color="#000080"/><stop offset="0.1100" stop-color="#0000ff"/><stop offset="0.1250" stop-color="#0000ff"/><stop offset="0.3400" stop-color="#00dbff"/><stop offset="0.3500" stop-color="#00e5f7"/><stop offset="0.3750" stop-color="#15ffe2"/><stop offset="0.6400" stop-color="#efff08"/><stop offset="0.6500" stop-color="#f7f600"/><stop offset="0.6600" stop-color="#ffec00"/><stop offset="0.8900" stop-color="#ff1300"/><stop offset="0.9100" stop-color="#e80000"/><stop offset="1.0000" stop-color="#800000"/></radialGradient><radialGradient id="cg23" gradientUnits="userSpaceOnUse" spreadMethod="repeat" cx="160.55" cy="54.67" fx="160.55" fy="54.67" r="13.75" gradientTransform="translate(0 54.67) scale(1 0.148) translate(0 -54.67)"><stop offset="0.0000" stop-color="#800000"/><stop offset="0.0900" stop-color="#e80000"/><stop offset="0.1100" stop-color="#ff1300"/><stop offset="0.3400" stop-color="#ffec00"/><stop offset="0.3500" stop-color="#f7f600"/><stop offset="0.3600" stop-color="#efff08"/><stop offset="0.6250" stop-color="#15ffe2"/><stop offset="0.6500" stop-color="#00e5f7"/><stop offset="0.6600" stop-color="#00dbff"/><stop offset="0.8750" stop-color="#0000ff"/><stop offset="0.8900" stop-color="#0000ff"/><stop offset="1.0000" stop-color="#000080"/></radialGradient><radialGradient id="cg24" gradientUnits="userSpaceOnUse" spreadMethod="repeat" cx="242.59" cy="54.47" fx="242.59" fy="54.47" r="15.41" gradientTransform="translate(0 54.47) scale(1 0.157) translate(0 -54.47)"><stop offset="0.0000" stop-color="#000080"/><stop offset="0.1100" stop-color="#0000ff"/><stop offset="0.1250" stop-color="#0000ff"/><stop offset="0.3400" stop-color="#00dbff"/><stop offset="0.3500" stop-color="#00e5f7"/><stop offset="0.3750" stop-color="#15ffe2"/><stop offset="0.6400" stop-color="#efff08"/><stop offset="0.6500" stop-color="#f7f600"/><stop offset="0.6600" stop-color="#ffec00"/><stop offset="0.8900" stop-color="#ff1300"/><stop offset="0.9100" stop-color="#e80000"/><stop offset="1.0000" stop-color="#800000"/></radialGradient><radialGradient id="cg25" gradientUnits="userSpaceOnUse" spreadMethod="repeat" cx="286.87" cy="56.19" fx="286.87" fy="56.19" r="13.38" gradientTransform="translate(0 56.19) scale(1 0.247) translate(0 -56.19)"><stop offset="0.0000" stop-color="#000080"/><stop offset="0.1100" stop-color="#0000ff"/><stop offset="0.1250" stop-color="#0000ff"/><stop offset="0.3400" stop-color="#00dbff"/><stop offset="0.3500" stop-color="#00e5f7"/><stop offset="0.3750" stop-color="#15ffe2"/><stop offset="0.6400" stop-color="#efff08"/><stop offset="0.6500" stop-color="#f7f600"/><stop offset="0.6600" stop-color="#ffec00"/><stop offset="0.8900" stop-color="#ff1300"/><stop offset="0.9100" stop-color="#e80000"/><stop offset="1.0000" stop-color="#800000"/></radialGradient><radialGradient id="cg26" gradientUnits="userSpaceOnUse" spreadMethod="repeat" cx="274.04" cy="53.39" fx="274.04" fy="53.39" r="15.46" gradientTransform="translate(0 53.39) scale(1 0.178) translate(0 -53.39)"><stop offset="0.0000" stop-color="#800000"/><stop offset="0.0900" stop-color="#e80000"/><stop offset="0.1100" stop-color="#ff1300"/><stop offset="0.3400" stop-color="#ffec00"/><stop offset="0.3500" stop-color="#f7f600"/><stop offset="0.3600" stop-color="#efff08"/><stop offset="0.6250" stop-color="#15ffe2"/><stop offset="0.6500" stop-color="#00e5f7"/><stop offset="0.6600" stop-color="#00dbff"/><stop offset="0.8750" stop-color="#0000ff"/><stop offset="0.8900" stop-color="#0000ff"/><stop offset="1.0000" stop-color="#000080"/></radialGradient><radialGradient id="cg27" gradientUnits="userSpaceOnUse" spreadMethod="repeat" cx="356.26" cy="55.49" fx="356.26" fy="55.49" r="11.87" gradientTransform="translate(0 55.49) scale(1 0.147) translate(0 -55.49)"><stop offset="0.0000" stop-color="#000080"/><stop offset="0.1100" stop-color="#0000ff"/><stop offset="0.1250" stop-color="#0000ff"/><stop offset="0.3400" stop-color="#00dbff"/><stop offset="0.3500" stop-color="#00e5f7"/><stop offset="0.3750" stop-color="#15ffe2"/><stop offset="0.6400" stop-color="#efff08"/><stop offset="0.6500" stop-color="#f7f600"/><stop offset="0.6600" stop-color="#ffec00"/><stop offset="0.8900" stop-color="#ff1300"/><stop offset="0.9100" stop-color="#e80000"/><stop offset="1.0000" stop-color="#800000"/></radialGradient><radialGradient id="cg28" gradientUnits="userSpaceOnUse" spreadMethod="repeat" cx="379.80" cy="54.63" fx="379.80" fy="54.63" r="13.21" gradientTransform="translate(0 54.63) scale(1 0.164) translate(0 -54.63)"><stop offset="0.0000" stop-color="#000080"/><stop offset="0.1100" stop-color="#0000ff"/><stop offset="0.1250" stop-color="#0000ff"/><stop offset="0.3400" stop-color="#00dbff"/><stop offset="0.3500" stop-color="#00e5f7"/><stop offset="0.3750" stop-color="#15ffe2"/><stop offset="0.6400" stop-color="#efff08"/><stop offset="0.6500" stop-color="#f7f600"/><stop offset="0.6600" stop-color="#ffec00"/><stop offset="0.8900" stop-color="#ff1300"/><stop offset="0.9100" stop-color="#e80000"/><stop offset="1.0000" stop-color="#800000"/></radialGradient><radialGradient id="cg29" gradientUnits="userSpaceOnUse" spreadMethod="repeat" cx="410.94" cy="55.78" fx="410.94" fy="55.78" r="14.11" gradientTransform="translate(0 55.78) scale(1 0.226) translate(0 -55.78)"><stop offset="0.0000" stop-color="#000080"/><stop offset="0.1100" stop-color="#0000ff"/><stop offset="0.1250" stop-color="#0000ff"/><stop offset="0.3400" stop-color="#00dbff"/><stop offset="0.3500" stop-color="#00e5f7"/><stop offset="0.3750" stop-color="#15ffe2"/><stop offset="0.6400" stop-color="#efff08"/><stop offset="0.6500" stop-color="#f7f600"/><stop offset="0.6600" stop-color="#ffec00"/><stop offset="0.8900" stop-color="#ff1300"/><stop offset="0.9100" stop-color="#e80000"/><stop offset="1.0000" stop-color="#800000"/></radialGradient><radialGradient id="cg30" gradientUnits="userSpaceOnUse" spreadMethod="repeat" cx="447.31" cy="54.95" fx="447.31" fy="54.95" r="13.96" gradientTransform="translate(0 54.95) scale(1 0.147) translate(0 -54.95)"><stop offset="0.0000" stop-color="#000080"/><stop offset="0.1100" stop-color="#0000ff"/><stop offset="0.1250" stop-color="#0000ff"/><stop offset="0.3400" stop-color="#00dbff"/><stop offset="0.3500" stop-color="#00e5f7"/><stop offset="0.3750" stop-color="#15ffe2"/><stop offset="0.6400" stop-color="#efff08"/><stop offset="0.6500" stop-color="#f7f600"/><stop offset="0.6600" stop-color="#ffec00"/><stop offset="0.8900" stop-color="#ff1300"/><stop offset="0.9100" stop-color="#e80000"/><stop offset="1.0000" stop-color="#800000"/></radialGradient><radialGradient id="cg31" gradientUnits="userSpaceOnUse" spreadMethod="repeat" cx="482.26" cy="54.31" fx="482.26" fy="54.31" r="11.08" gradientTransform="translate(0 54.31) scale(1 0.167) translate(0 -54.31)"><stop offset="0.0000" stop-color="#000080"/><stop offset="0.1100" stop-color="#0000ff"/><stop offset="0.1250" stop-color="#0000ff"/><stop offset="0.3400" stop-color="#00dbff"/><stop offset="0.3500" stop-color="#00e5f7"/><stop offset="0.3750" stop-color="#15ffe2"/><stop offset="0.6400" stop-color="#efff08"/><stop offset="0.6500" stop-color="#f7f600"/><stop offset="0.6600" stop-color="#ffec00"/><stop offset="0.8900" stop-color="#ff1300"/><stop offset="0.9100" stop-color="#e80000"/><stop offset="1.0000" stop-color="#800000"/></radialGradient><radialGradient id="cg32" gradientUnits="userSpaceOnUse" spreadMethod="repeat" cx="524.77" cy="54.73" fx="524.77" fy="54.73" r="10.05" gradientTransform="translate(0 54.73) scale(1 0.197) translate(0 -54.73)"><stop offset="0.0000" stop-color="#000080"/><stop offset="0.1100" stop-color="#0000ff"/><stop offset="0.1250" stop-color="#0000ff"/><stop offset="0.3400" stop-color="#00dbff"/><stop offset="0.3500" stop-color="#00e5f7"/><stop offset="0.3750" stop-color="#15ffe2"/><stop offset="0.6400" stop-color="#efff08"/><stop offset="0.6500" stop-color="#f7f600"/><stop offset="0.6600" stop-color="#ffec00"/><stop offset="0.8900" stop-color="#ff1300"/><stop offset="0.9100" stop-color="#e80000"/><stop offset="1.0000" stop-color="#800000"/></radialGradient><radialGradient id="cg33" gradientUnits="userSpaceOnUse" spreadMethod="repeat" cx="39.63" cy="61.06" fx="39.63" fy="61.06" r="15.51" gradientTransform="translate(0 61.06) scale(1 0.182) translate(0 -61.06)"><stop offset="0.0000" stop-color="#000080"/><stop offset="0.1100" stop-color="#0000ff"/><stop offset="0.1250" stop-color="#0000ff"/><stop offset="0.3400" stop-color="#00dbff"/><stop offset="0.3500" stop-color="#00e5f7"/><stop offset="0.3750" stop-color="#15ffe2"/><stop offset="0.6400" stop-color="#efff08"/><stop offset="0.6500" stop-color="#f7f600"/><stop offset="0.6600" stop-color="#ffec00"/><stop offset="0.8900" stop-color="#ff1300"/><stop offset="0.9100" stop-color="#e80000"/><stop offset="1.0000" stop-color="#800000"/></radialGradient><radialGradient id="cg34" gradientUnits="userSpaceOnUse" spreadMethod="repeat" cx="82.69" cy="62.53" fx="82.69" fy="62.53" r="15.06" gradientTransform="translate(0 62.53) scale(1 0.211) translate(0 -62.53)"><stop offset="0.0000" stop-color="#000080"/><stop offset="0.1100" stop-color="#0000ff"/><stop offset="0.1250" stop-color="#0000ff"/><stop offset="0.3400" stop-color="#00dbff"/><stop offset="0.3500" stop-color="#00e5f7"/><stop offset="0.3750" stop-color="#15ffe2"/><stop offset="0.6400" stop-color="#efff08"/><stop offset="0.6500" stop-color="#f7f600"/><stop offset="0.6600" stop-color="#ffec00"/><stop offset="0.8900" stop-color="#ff1300"/><stop offset="0.9100" stop-color="#e80000"/><stop offset="1.0000" stop-color="#800000"/></radialGradient><radialGradient id="cg35" gradientUnits="userSpaceOnUse" spreadMethod="repeat" cx="109.42" cy="61.85" fx="109.42" fy="61.85" r="13.23" gradientTransform="translate(0 61.85) scale(1 0.159) translate(0 -61.85)"><stop offset="0.0000" stop-color="#000080"/><stop offset="0.1100" stop-color="#0000ff"/><stop offset="0.1250" stop-color="#0000ff"/><stop offset="0.3400" stop-color="#00dbff"/><stop offset="0.3500" stop-color="#00e5f7"/><stop offset="0.3750" stop-color="#15ffe2"/><stop offset="0.6400" stop-color="#efff08"/><stop offset="0.6500" stop-color="#f7f600"/><stop offset="0.6600" stop-color="#ffec00"/><stop offset="0.8900" stop-color="#ff1300"/><stop offset="0.9100" stop-color="#e80000"/><stop offset="1.0000" stop-color="#800000"/></radialGradient><radialGradient id="cg36" gradientUnits="userSpaceOnUse" spreadMethod="repeat" cx="153.46" cy="60.49" fx="153.46" fy="60.49" r="13.32" gradientTransform="translate(0 60.49) scale(1 0.165) translate(0 -60.49)"><stop offset="0.0000" stop-color="#000080"/><stop offset="0.1100" stop-color="#0000ff"/><stop offset="0.1250" stop-color="#0000ff"/><stop offset="0.3400" stop-color="#00dbff"/><stop offset="0.3500" stop-color="#00e5f7"/><stop offset="0.3750" stop-color="#15ffe2"/><stop offset="0.6400" stop-color="#efff08"/><stop offset="0.6500" stop-color="#f7f600"/><stop offset="0.6600" stop-color="#ffec00"/><stop offset="0.8900" stop-color="#ff1300"/><stop offset="0.9100" stop-color="#e80000"/><stop offset="1.0000" stop-color="#800000"/></radialGradient><radialGradient id="cg37" gradientUnits="userSpaceOnUse" spreadMethod="repeat" cx="182.39" cy="61.38" fx="182.39" fy="61.38" r="12.17" gradientTransform="translate(0 61.38) scale(1 0.203) translate(0 -61.38)"><stop offset="0.0000" stop-color="#000080"/><stop offset="0.1100" stop-color="#0000ff"/><stop offset="0.1250" stop-color="#0000ff"/><stop offset="0.3400" stop-color="#00dbff"/><stop offset="0.3500" stop-color="#00e5f7"/><stop offset="0.3750" stop-color="#15ffe2"/><stop offset="0.6400" stop-color="#efff08"/><stop offset="0.6500" stop-color="#f7f600"/><stop offset="0.6600" stop-color="#ffec00"/><stop offset="0.8900" stop-color="#ff1300"/><stop offset="0.9100" stop-color="#e80000"/><stop offset="1.0000" stop-color="#800000"/></radialGradient><radialGradient id="cg38" gradientUnits="userSpaceOnUse" spreadMethod="repeat" cx="218.53" cy="61.60" fx="218.53" fy="61.60" r="10.28" gradientTransform="translate(0 61.60) scale(1 0.156) translate(0 -61.60)"><stop offset="0.0000" stop-color="#000080"/><stop offset="0.1100" stop-color="#0000ff"/><stop offset="0.1250" stop-color="#0000ff"/><stop offset="0.3400" stop-color="#00dbff"/><stop offset="0.3500" stop-color="#00e5f7"/><stop offset="0.3750" stop-color="#15ffe2"/><stop offset="0.6400" stop-color="#efff08"/><stop offset="0.6500" stop-color="#f7f600"/><stop offset="0.6600" stop-color="#ffec00"/><stop offset="0.8900" stop-color="#ff1300"/><stop offset="0.9100" stop-color="#e80000"/><stop offset="1.0000" stop-color="#800000"/></radialGradient><radialGradient id="cg39" gradientUnits="userSpaceOnUse" spreadMethod="repeat" cx="242.21" cy="61.76" fx="242.21" fy="61.76" r="15.24" gradientTransform="translate(0 61.76) scale(1 0.149) translate(0 -61.76)"><stop offset="0.0000" stop-color="#000080"/><stop offset="0.1100" stop-color="#0000ff"/><stop offset="0.1250" stop-color="#0000ff"/><stop offset="0.3400" stop-color="#00dbff"/><stop offset="0.3500" stop-color="#00e5f7"/><stop offset="0.3750" stop-color="#15ffe2"/><stop offset="0.6400" stop-color="#efff08"/><stop offset="0.6500" stop-color="#f7f600"/><stop offset="0.6600" stop-color="#ffec00"/><stop offset="0.8900" stop-color="#ff1300"/><stop offset="0.9100" stop-color="#e80000"/><stop offset="1.0000" stop-color="#800000"/></radialGradient><radialGradient id="cg40" gradientUnits="userSpaceOnUse" spreadMethod="repeat" cx="287.99" cy="60.25" fx="287.99" fy="60.25" r="13.65" gradientTransform="translate(0 60.25) scale(1 0.157) translate(0 -60.25)"><stop offset="0.0000" stop-color="#000080"/><stop offset="0.1100" stop-color="#0000ff"/><stop offset="0.1250" stop-color="#0000ff"/><stop offset="0.3400" stop-color="#00dbff"/><stop offset="0.3500" stop-color="#00e5f7"/><stop offset="0.3750" stop-color="#15ffe2"/><stop offset="0.6400" stop-color="#efff08"/><stop offset="0.6500" stop-color="#f7f600"/><stop offset="0.6600" stop-color="#ffec00"/><stop offset="0.8900" stop-color="#ff1300"/><stop offset="0.9100" stop-color="#e80000"/><stop offset="1.0000" stop-color="#800000"/></radialGradient><radialGradient id="cg41" gradientUnits="userSpaceOnUse" spreadMethod="repeat" cx="322.02" cy="59.88" fx="322.02" fy="59.88" r="12.28" gradientTransform="translate(0 59.88) scale(1 0.194) translate(0 -59.88)"><stop offset="0.0000" stop-color="#000080"/><stop offset="0.1100" stop-color="#0000ff"/><stop offset="0.1250" stop-color="#0000ff"/><stop offset="0.3400" stop-color="#00dbff"/><stop offset="0.3500" stop-color="#00e5f7"/><stop offset="0.3750" stop-color="#15ffe2"/><stop offset="0.6400" stop-color="#efff08"/><stop offset="0.6500" stop-color="#f7f600"/><stop offset="0.6600" stop-color="#ffec00"/><stop offset="0.8900" stop-color="#ff1300"/><stop offset="0.9100" stop-color="#e80000"/><stop offset="1.0000" stop-color="#800000"/></radialGradient><radialGradient id="cg42" gradientUnits="userSpaceOnUse" spreadMethod="repeat" cx="342.58" cy="62.54" fx="342.58" fy="62.54" r="11.53" gradientTransform="translate(0 62.54) scale(1 0.145) translate(0 -62.54)"><stop offset="0.0000" stop-color="#000080"/><stop offset="0.1100" stop-color="#0000ff"/><stop offset="0.1250" stop-color="#0000ff"/><stop offset="0.3400" stop-color="#00dbff"/><stop offset="0.3500" stop-color="#00e5f7"/><stop offset="0.3750" stop-color="#15ffe2"/><stop offset="0.6400" stop-color="#efff08"/><stop offset="0.6500" stop-color="#f7f600"/><stop offset="0.6600" stop-color="#ffec00"/><stop offset="0.8900" stop-color="#ff1300"/><stop offset="0.9100" stop-color="#e80000"/><stop offset="1.0000" stop-color="#800000"/></radialGradient><radialGradient id="cg43" gradientUnits="userSpaceOnUse" spreadMethod="repeat" cx="338.99" cy="59.75" fx="338.99" fy="59.75" r="14.93" gradientTransform="translate(0 59.75) scale(1 0.197) translate(0 -59.75)"><stop offset="0.0000" stop-color="#800000"/><stop offset="0.0900" stop-color="#e80000"/><stop offset="0.1100" stop-color="#ff1300"/><stop offset="0.3400" stop-color="#ffec00"/><stop offset="0.3500" stop-color="#f7f600"/><stop offset="0.3600" stop-color="#efff08"/><stop offset="0.6250" stop-color="#15ffe2"/><stop offset="0.6500" stop-color="#00e5f7"/><stop offset="0.6600" stop-color="#00dbff"/><stop offset="0.8750" stop-color="#0000ff"/><stop offset="0.8900" stop-color="#0000ff"/><stop offset="1.0000" stop-color="#000080"/></radialGradient><radialGradient id="cg44" gradientUnits="userSpaceOnUse" spreadMethod="repeat" cx="383.27" cy="60.43" fx="383.27" fy="60.43" r="15.00" gradientTransform="translate(0 60.43) scale(1 0.216) translate(0 -60.43)"><stop offset="0.0000" stop-color="#800000"/><stop offset="0.0900" stop-color="#e80000"/><stop offset="0.1100" stop-color="#ff1300"/><stop offset="0.3400" stop-color="#ffec00"/><stop offset="0.3500" stop-color="#f7f600"/><stop offset="0.3600" stop-color="#efff08"/><stop offset="0.6250" stop-color="#15ffe2"/><stop offset="0.6500" stop-color="#00e5f7"/><stop offset="0.6600" stop-color="#00dbff"/><stop offset="0.8750" stop-color="#0000ff"/><stop offset="0.8900" stop-color="#0000ff"/><stop offset="1.0000" stop-color="#000080"/></radialGradient><radialGradient id="cg45" gradientUnits="userSpaceOnUse" spreadMethod="repeat" cx="452.05" cy="59.96" fx="452.05" fy="59.96" r="11.03" gradientTransform="translate(0 59.96) scale(1 0.223) translate(0 -59.96)"><stop offset="0.0000" stop-color="#000080"/><stop offset="0.1100" stop-color="#0000ff"/><stop offset="0.1250" stop-color="#0000ff"/><stop offset="0.3400" stop-color="#00dbff"/><stop offset="0.3500" stop-color="#00e5f7"/><stop offset="0.3750" stop-color="#15ffe2"/><stop offset="0.6400" stop-color="#efff08"/><stop offset="0.6500" stop-color="#f7f600"/><stop offset="0.6600" stop-color="#ffec00"/><stop offset="0.8900" stop-color="#ff1300"/><stop offset="0.9100" stop-color="#e80000"/><stop offset="1.0000" stop-color="#800000"/></radialGradient><radialGradient id="cg46" gradientUnits="userSpaceOnUse" spreadMethod="repeat" cx="477.79" cy="61.94" fx="477.79" fy="61.94" r="11.87" gradientTransform="translate(0 61.94) scale(1 0.152) translate(0 -61.94)"><stop offset="0.0000" stop-color="#000080"/><stop offset="0.1100" stop-color="#0000ff"/><stop offset="0.1250" stop-color="#0000ff"/><stop offset="0.3400" stop-color="#00dbff"/><stop offset="0.3500" stop-color="#00e5f7"/><stop offset="0.3750" stop-color="#15ffe2"/><stop offset="0.6400" stop-color="#efff08"/><stop offset="0.6500" stop-color="#f7f600"/><stop offset="0.6600" stop-color="#ffec00"/><stop offset="0.8900" stop-color="#ff1300"/><stop offset="0.9100" stop-color="#e80000"/><stop offset="1.0000" stop-color="#800000"/></radialGradient><radialGradient id="cg47" gradientUnits="userSpaceOnUse" spreadMethod="repeat" cx="519.50" cy="61.22" fx="519.50" fy="61.22" r="12.69" gradientTransform="translate(0 61.22) scale(1 0.179) translate(0 -61.22)"><stop offset="0.0000" stop-color="#000080"/><stop offset="0.1100" stop-color="#0000ff"/><stop offset="0.1250" stop-color="#0000ff"/><stop offset="0.3400" stop-color="#00dbff"/><stop offset="0.3500" stop-color="#00e5f7"/><stop offset="0.3750" stop-color="#15ffe2"/><stop offset="0.6400" stop-color="#efff08"/><stop offset="0.6500" stop-color="#f7f600"/><stop offset="0.6600" stop-color="#ffec00"/><stop offset="0.8900" stop-color="#ff1300"/><stop offset="0.9100" stop-color="#e80000"/><stop offset="1.0000" stop-color="#800000"/></radialGradient><radialGradient id="cg48" gradientUnits="userSpaceOnUse" spreadMethod="repeat" cx="50.46" cy="67.47" fx="50.46" fy="67.47" r="12.80" gradientTransform="translate(0 67.47) scale(1 0.169) translate(0 -67.47)"><stop offset="0.0000" stop-color="#000080"/><stop offset="0.1100" stop-color="#0000ff"/><stop offset="0.1250" stop-color="#0000ff"/><stop offset="0.3400" stop-color="#00dbff"/><stop offset="0.3500" stop-color="#00e5f7"/><stop offset="0.3750" stop-color="#15ffe2"/><stop offset="0.6400" stop-color="#efff08"/><stop offset="0.6500" stop-color="#f7f600"/><stop offset="0.6600" stop-color="#ffec00"/><stop offset="0.8900" stop-color="#ff1300"/><stop offset="0.9100" stop-color="#e80000"/><stop offset="1.0000" stop-color="#800000"/></radialGradient><radialGradient id="cg49" gradientUnits="userSpaceOnUse" spreadMethod="repeat" cx="93.17" cy="68.16" fx="93.17" fy="68.16" r="11.67" gradientTransform="translate(0 68.16) scale(1 0.148) translate(0 -68.16)"><stop offset="0.0000" stop-color="#000080"/><stop offset="0.1100" stop-color="#0000ff"/><stop offset="0.1250" stop-color="#0000ff"/><stop offset="0.3400" stop-color="#00dbff"/><stop offset="0.3500" stop-color="#00e5f7"/><stop offset="0.3750" stop-color="#15ffe2"/><stop offset="0.6400" stop-color="#efff08"/><stop offset="0.6500" stop-color="#f7f600"/><stop offset="0.6600" stop-color="#ffec00"/><stop offset="0.8900" stop-color="#ff1300"/><stop offset="0.9100" stop-color="#e80000"/><stop offset="1.0000" stop-color="#800000"/></radialGradient><radialGradient id="cg50" gradientUnits="userSpaceOnUse" spreadMethod="repeat" cx="133.81" cy="68.42" fx="133.81" fy="68.42" r="14.09" gradientTransform="translate(0 68.42) scale(1 0.189) translate(0 -68.42)"><stop offset="0.0000" stop-color="#000080"/><stop offset="0.1100" stop-color="#0000ff"/><stop offset="0.1250" stop-color="#0000ff"/><stop offset="0.3400" stop-color="#00dbff"/><stop offset="0.3500" stop-color="#00e5f7"/><stop offset="0.3750" stop-color="#15ffe2"/><stop offset="0.6400" stop-color="#efff08"/><stop offset="0.6500" stop-color="#f7f600"/><stop offset="0.6600" stop-color="#ffec00"/><stop offset="0.8900" stop-color="#ff1300"/><stop offset="0.9100" stop-color="#e80000"/><stop offset="1.0000" stop-color="#800000"/></radialGradient><radialGradient id="cg51" gradientUnits="userSpaceOnUse" spreadMethod="repeat" cx="169.36" cy="65.63" fx="169.36" fy="65.63" r="10.78" gradientTransform="translate(0 65.63) scale(1 0.239) translate(0 -65.63)"><stop offset="0.0000" stop-color="#000080"/><stop offset="0.1100" stop-color="#0000ff"/><stop offset="0.1250" stop-color="#0000ff"/><stop offset="0.3400" stop-color="#00dbff"/><stop offset="0.3500" stop-color="#00e5f7"/><stop offset="0.3750" stop-color="#15ffe2"/><stop offset="0.6400" stop-color="#efff08"/><stop offset="0.6500" stop-color="#f7f600"/><stop offset="0.6600" stop-color="#ffec00"/><stop offset="0.8900" stop-color="#ff1300"/><stop offset="0.9100" stop-color="#e80000"/><stop offset="1.0000" stop-color="#800000"/></radialGradient><radialGradient id="cg52" gradientUnits="userSpaceOnUse" spreadMethod="repeat" cx="198.84" cy="69.26" fx="198.84" fy="69.26" r="11.50" gradientTransform="translate(0 69.26) scale(1 0.230) translate(0 -69.26)"><stop offset="0.0000" stop-color="#000080"/><stop offset="0.1100" stop-color="#0000ff"/><stop offset="0.1250" stop-color="#0000ff"/><stop offset="0.3400" stop-color="#00dbff"/><stop offset="0.3500" stop-color="#00e5f7"/><stop offset="0.3750" stop-color="#15ffe2"/><stop offset="0.6400" stop-color="#efff08"/><stop offset="0.6500" stop-color="#f7f600"/><stop offset="0.6600" stop-color="#ffec00"/><stop offset="0.8900" stop-color="#ff1300"/><stop offset="0.9100" stop-color="#e80000"/><stop offset="1.0000" stop-color="#800000"/></radialGradient><radialGradient id="cg53" gradientUnits="userSpaceOnUse" spreadMethod="repeat" cx="238.18" cy="69.10" fx="238.18" fy="69.10" r="14.48" gradientTransform="translate(0 69.10) scale(1 0.146) translate(0 -69.10)"><stop offset="0.0000" stop-color="#000080"/><stop offset="0.1100" stop-color="#0000ff"/><stop offset="0.1250" stop-color="#0000ff"/><stop offset="0.3400" stop-color="#00dbff"/><stop offset="0.3500" stop-color="#00e5f7"/><stop offset="0.3750" stop-color="#15ffe2"/><stop offset="0.6400" stop-color="#efff08"/><stop offset="0.6500" stop-color="#f7f600"/><stop offset="0.6600" stop-color="#ffec00"/><stop offset="0.8900" stop-color="#ff1300"/><stop offset="0.9100" stop-color="#e80000"/><stop offset="1.0000" stop-color="#800000"/></radialGradient><radialGradient id="cg54" gradientUnits="userSpaceOnUse" spreadMethod="repeat" cx="274.84" cy="66.66" fx="274.84" fy="66.66" r="11.24" gradientTransform="translate(0 66.66) scale(1 0.159) translate(0 -66.66)"><stop offset="0.0000" stop-color="#000080"/><stop offset="0.1100" stop-color="#0000ff"/><stop offset="0.1250" stop-color="#0000ff"/><stop offset="0.3400" stop-color="#00dbff"/><stop offset="0.3500" stop-color="#00e5f7"/><stop offset="0.3750" stop-color="#15ffe2"/><stop offset="0.6400" stop-color="#efff08"/><stop offset="0.6500" stop-color="#f7f600"/><stop offset="0.6600" stop-color="#ffec00"/><stop offset="0.8900" stop-color="#ff1300"/><stop offset="0.9100" stop-color="#e80000"/><stop offset="1.0000" stop-color="#800000"/></radialGradient><radialGradient id="cg55" gradientUnits="userSpaceOnUse" spreadMethod="repeat" cx="259.54" cy="68.46" fx="259.54" fy="68.46" r="10.52" gradientTransform="translate(0 68.46) scale(1 0.172) translate(0 -68.46)"><stop offset="0.0000" stop-color="#800000"/><stop offset="0.0900" stop-color="#e80000"/><stop offset="0.1100" stop-color="#ff1300"/><stop offset="0.3400" stop-color="#ffec00"/><stop offset="0.3500" stop-color="#f7f600"/><stop offset="0.3600" stop-color="#efff08"/><stop offset="0.6250" stop-color="#15ffe2"/><stop offset="0.6500" stop-color="#00e5f7"/><stop offset="0.6600" stop-color="#00dbff"/><stop offset="0.8750" stop-color="#0000ff"/><stop offset="0.8900" stop-color="#0000ff"/><stop offset="1.0000" stop-color="#000080"/></radialGradient><radialGradient id="cg56" gradientUnits="userSpaceOnUse" spreadMethod="repeat" cx="292.24" cy="68.08" fx="292.24" fy="68.08" r="12.17" gradientTransform="translate(0 68.08) scale(1 0.204) translate(0 -68.08)"><stop offset="0.0000" stop-color="#800000"/><stop offset="0.0900" stop-color="#e80000"/><stop offset="0.1100" stop-color="#ff1300"/><stop offset="0.3400" stop-color="#ffec00"/><stop offset="0.3500" stop-color="#f7f600"/><stop offset="0.3600" stop-color="#efff08"/><stop offset="0.6250" stop-color="#15ffe2"/><stop offset="0.6500" stop-color="#00e5f7"/><stop offset="0.6600" stop-color="#00dbff"/><stop offset="0.8750" stop-color="#0000ff"/><stop offset="0.8900" stop-color="#0000ff"/><stop offset="1.0000" stop-color="#000080"/></radialGradient><radialGradient id="cg57" gradientUnits="userSpaceOnUse" spreadMethod="repeat" cx="332.65" cy="68.43" fx="332.65" fy="68.43" r="11.37" gradientTransform="translate(0 68.43) scale(1 0.184) translate(0 -68.43)"><stop offset="0.0000" stop-color="#800000"/><stop offset="0.0900" stop-color="#e80000"/><stop offset="0.1100" stop-color="#ff1300"/><stop offset="0.3400" stop-color="#ffec00"/><stop offset="0.3500" stop-color="#f7f600"/><stop offset="0.3600" stop-color="#efff08"/><stop offset="0.6250" stop-color="#15ffe2"/><stop offset="0.6500" stop-color="#00e5f7"/><stop offset="0.6600" stop-color="#00dbff"/><stop offset="0.8750" stop-color="#0000ff"/><stop offset="0.8900" stop-color="#0000ff"/><stop offset="1.0000" stop-color="#000080"/></radialGradient><radialGradient id="cg58" gradientUnits="userSpaceOnUse" spreadMethod="repeat" cx="360.31" cy="66.18" fx="360.31" fy="66.18" r="12.29" gradientTransform="translate(0 66.18) scale(1 0.152) translate(0 -66.18)"><stop offset="0.0000" stop-color="#800000"/><stop offset="0.0900" stop-color="#e80000"/><stop offset="0.1100" stop-color="#ff1300"/><stop offset="0.3400" stop-color="#ffec00"/><stop offset="0.3500" stop-color="#f7f600"/><stop offset="0.3600" stop-color="#efff08"/><stop offset="0.6250" stop-color="#15ffe2"/><stop offset="0.6500" stop-color="#00e5f7"/><stop offset="0.6600" stop-color="#00dbff"/><stop offset="0.8750" stop-color="#0000ff"/><stop offset="0.8900" stop-color="#0000ff"/><stop offset="1.0000" stop-color="#000080"/></radialGradient><radialGradient id="cg59" gradientUnits="userSpaceOnUse" spreadMethod="repeat" cx="436.30" cy="67.85" fx="436.30" fy="67.85" r="13.22" gradientTransform="translate(0 67.85) scale(1 0.197) translate(0 -67.85)"><stop offset="0.0000" stop-color="#000080"/><stop offset="0.1100" stop-color="#0000ff"/><stop offset="0.1250" stop-color="#0000ff"/><stop offset="0.3400" stop-color="#00dbff"/><stop offset="0.3500" stop-color="#00e5f7"/><stop offset="0.3750" stop-color="#15ffe2"/><stop offset="0.6400" stop-color="#efff08"/><stop offset="0.6500" stop-color="#f7f600"/><stop offset="0.6600" stop-color="#ffec00"/><stop offset="0.8900" stop-color="#ff1300"/><stop offset="0.9100" stop-color="#e80000"/><stop offset="1.0000" stop-color="#800000"/></radialGradient><radialGradient id="cg60" gradientUnits="userSpaceOnUse" spreadMethod="repeat" cx="429.92" cy="67.07" fx="429.92" fy="67.07" r="13.25" gradientTransform="translate(0 67.07) scale(1 0.146) translate(0 -67.07)"><stop offset="0.0000" stop-color="#800000"/><stop offset="0.0900" stop-color="#e80000"/><stop offset="0.1100" stop-color="#ff1300"/><stop offset="0.3400" stop-color="#ffec00"/><stop offset="0.3500" stop-color="#f7f600"/><stop offset="0.3600" stop-color="#efff08"/><stop offset="0.6250" stop-color="#15ffe2"/><stop offset="0.6500" stop-color="#00e5f7"/><stop offset="0.6600" stop-color="#00dbff"/><stop offset="0.8750" stop-color="#0000ff"/><stop offset="0.8900" stop-color="#0000ff"/><stop offset="1.0000" stop-color="#000080"/></radialGradient><radialGradient id="cg61" gradientUnits="userSpaceOnUse" spreadMethod="repeat" cx="490.51" cy="67.78" fx="490.51" fy="67.78" r="14.42" gradientTransform="translate(0 67.78) scale(1 0.170) translate(0 -67.78)"><stop offset="0.0000" stop-color="#000080"/><stop offset="0.1100" stop-color="#0000ff"/><stop offset="0.1250" stop-color="#0000ff"/><stop offset="0.3400" stop-color="#00dbff"/><stop offset="0.3500" stop-color="#00e5f7"/><stop offset="0.3750" stop-color="#15ffe2"/><stop offset="0.6400" stop-color="#efff08"/><stop offset="0.6500" stop-color="#f7f600"/><stop offset="0.6600" stop-color="#ffec00"/><stop offset="0.8900" stop-color="#ff1300"/><stop offset="0.9100" stop-color="#e80000"/><stop offset="1.0000" stop-color="#800000"/></radialGradient><radialGradient id="cg62" gradientUnits="userSpaceOnUse" spreadMethod="repeat" cx="530.54" cy="66.72" fx="530.54" fy="66.72" r="12.27" gradientTransform="translate(0 66.72) scale(1 0.203) translate(0 -66.72)"><stop offset="0.0000" stop-color="#000080"/><stop offset="0.1100" stop-color="#0000ff"/><stop offset="0.1250" stop-color="#0000ff"/><stop offset="0.3400" stop-color="#00dbff"/><stop offset="0.3500" stop-color="#00e5f7"/><stop offset="0.3750" stop-color="#15ffe2"/><stop offset="0.6400" stop-color="#efff08"/><stop offset="0.6500" stop-color="#f7f600"/><stop offset="0.6600" stop-color="#ffec00"/><stop offset="0.8900" stop-color="#ff1300"/><stop offset="0.9100" stop-color="#e80000"/><stop offset="1.0000" stop-color="#800000"/></radialGradient><radialGradient id="cg63" gradientUnits="userSpaceOnUse" spreadMethod="repeat" cx="45.70" cy="72.89" fx="45.70" fy="72.89" r="12.76" gradientTransform="translate(0 72.89) scale(1 0.221) translate(0 -72.89)"><stop offset="0.0000" stop-color="#000080"/><stop offset="0.1100" stop-color="#0000ff"/><stop offset="0.1250" stop-color="#0000ff"/><stop offset="0.3400" stop-color="#00dbff"/><stop offset="0.3500" stop-color="#00e5f7"/><stop offset="0.3750" stop-color="#15ffe2"/><stop offset="0.6400" stop-color="#efff08"/><stop offset="0.6500" stop-color="#f7f600"/><stop offset="0.6600" stop-color="#ffec00"/><stop offset="0.8900" stop-color="#ff1300"/><stop offset="0.9100" stop-color="#e80000"/><stop offset="1.0000" stop-color="#800000"/></radialGradient><radialGradient id="cg64" gradientUnits="userSpaceOnUse" spreadMethod="repeat" cx="78.32" cy="74.23" fx="78.32" fy="74.23" r="12.10" gradientTransform="translate(0 74.23) scale(1 0.147) translate(0 -74.23)"><stop offset="0.0000" stop-color="#000080"/><stop offset="0.1100" stop-color="#0000ff"/><stop offset="0.1250" stop-color="#0000ff"/><stop offset="0.3400" stop-color="#00dbff"/><stop offset="0.3500" stop-color="#00e5f7"/><stop offset="0.3750" stop-color="#15ffe2"/><stop offset="0.6400" stop-color="#efff08"/><stop offset="0.6500" stop-color="#f7f600"/><stop offset="0.6600" stop-color="#ffec00"/><stop offset="0.8900" stop-color="#ff1300"/><stop offset="0.9100" stop-color="#e80000"/><stop offset="1.0000" stop-color="#800000"/></radialGradient><radialGradient id="cg65" gradientUnits="userSpaceOnUse" spreadMethod="repeat" cx="113.65" cy="72.00" fx="113.65" fy="72.00" r="13.09" gradientTransform="translate(0 72.00) scale(1 0.168) translate(0 -72.00)"><stop offset="0.0000" stop-color="#000080"/><stop offset="0.1100" stop-color="#0000ff"/><stop offset="0.1250" stop-color="#0000ff"/><stop offset="0.3400" stop-color="#00dbff"/><stop offset="0.3500" stop-color="#00e5f7"/><stop offset="0.3750" stop-color="#15ffe2"/><stop offset="0.6400" stop-color="#efff08"/><stop offset="0.6500" stop-color="#f7f600"/><stop offset="0.6600" stop-color="#ffec00"/><stop offset="0.8900" stop-color="#ff1300"/><stop offset="0.9100" stop-color="#e80000"/><stop offset="1.0000" stop-color="#800000"/></radialGradient><radialGradient id="cg66" gradientUnits="userSpaceOnUse" spreadMethod="repeat" cx="137.66" cy="73.35" fx="137.66" fy="73.35" r="14.86" gradientTransform="translate(0 73.35) scale(1 0.143) translate(0 -73.35)"><stop offset="0.0000" stop-color="#000080"/><stop offset="0.1100" stop-color="#0000ff"/><stop offset="0.1250" stop-color="#0000ff"/><stop offset="0.3400" stop-color="#00dbff"/><stop offset="0.3500" stop-color="#00e5f7"/><stop offset="0.3750" stop-color="#15ffe2"/><stop offset="0.6400" stop-color="#efff08"/><stop offset="0.6500" stop-color="#f7f600"/><stop offset="0.6600" stop-color="#ffec00"/><stop offset="0.8900" stop-color="#ff1300"/><stop offset="0.9100" stop-color="#e80000"/><stop offset="1.0000" stop-color="#800000"/></radialGradient><radialGradient id="cg67" gradientUnits="userSpaceOnUse" spreadMethod="repeat" cx="171.98" cy="74.15" fx="171.98" fy="74.15" r="15.05" gradientTransform="translate(0 74.15) scale(1 0.213) translate(0 -74.15)"><stop offset="0.0000" stop-color="#000080"/><stop offset="0.1100" stop-color="#0000ff"/><stop offset="0.1250" stop-color="#0000ff"/><stop offset="0.3400" stop-color="#00dbff"/><stop offset="0.3500" stop-color="#00e5f7"/><stop offset="0.3750" stop-color="#15ffe2"/><stop offset="0.6400" stop-color="#efff08"/><stop offset="0.6500" stop-color="#f7f600"/><stop offset="0.6600" stop-color="#ffec00"/><stop offset="0.8900" stop-color="#ff1300"/><stop offset="0.9100" stop-color="#e80000"/><stop offset="1.0000" stop-color="#800000"/></radialGradient><radialGradient id="cg68" gradientUnits="userSpaceOnUse" spreadMethod="repeat" cx="210.76" cy="73.17" fx="210.76" fy="73.17" r="12.87" gradientTransform="translate(0 73.17) scale(1 0.145) translate(0 -73.17)"><stop offset="0.0000" stop-color="#000080"/><stop offset="0.1100" stop-color="#0000ff"/><stop offset="0.1250" stop-color="#0000ff"/><stop offset="0.3400" stop-color="#00dbff"/><stop offset="0.3500" stop-color="#00e5f7"/><stop offset="0.3750" stop-color="#15ffe2"/><stop offset="0.6400" stop-color="#efff08"/><stop offset="0.6500" stop-color="#f7f600"/><stop offset="0.6600" stop-color="#ffec00"/><stop offset="0.8900" stop-color="#ff1300"/><stop offset="0.9100" stop-color="#e80000"/><stop offset="1.0000" stop-color="#800000"/></radialGradient><radialGradient id="cg69" gradientUnits="userSpaceOnUse" spreadMethod="repeat" cx="199.00" cy="73.70" fx="199.00" fy="73.70" r="12.16" gradientTransform="translate(0 73.70) scale(1 0.163) translate(0 -73.70)"><stop offset="0.0000" stop-color="#800000"/><stop offset="0.0900" stop-color="#e80000"/><stop offset="0.1100" stop-color="#ff1300"/><stop offset="0.3400" stop-color="#ffec00"/><stop offset="0.3500" stop-color="#f7f600"/><stop offset="0.3600" stop-color="#efff08"/><stop offset="0.6250" stop-color="#15ffe2"/><stop offset="0.6500" stop-color="#00e5f7"/><stop offset="0.6600" stop-color="#00dbff"/><stop offset="0.8750" stop-color="#0000ff"/><stop offset="0.8900" stop-color="#0000ff"/><stop offset="1.0000" stop-color="#000080"/></radialGradient><radialGradient id="cg70" gradientUnits="userSpaceOnUse" spreadMethod="repeat" cx="280.37" cy="73.02" fx="280.37" fy="73.02" r="13.01" gradientTransform="translate(0 73.02) scale(1 0.167) translate(0 -73.02)"><stop offset="0.0000" stop-color="#000080"/><stop offset="0.1100" stop-color="#0000ff"/><stop offset="0.1250" stop-color="#0000ff"/><stop offset="0.3400" stop-color="#00dbff"/><stop offset="0.3500" stop-color="#00e5f7"/><stop offset="0.3750" stop-color="#15ffe2"/><stop offset="0.6400" stop-color="#efff08"/><stop offset="0.6500" stop-color="#f7f600"/><stop offset="0.6600" stop-color="#ffec00"/><stop offset="0.8900" stop-color="#ff1300"/><stop offset="0.9100" stop-color="#e80000"/><stop offset="1.0000" stop-color="#800000"/></radialGradient><radialGradient id="cg71" gradientUnits="userSpaceOnUse" spreadMethod="repeat" cx="269.32" cy="75.47" fx="269.32" fy="75.47" r="10.15" gradientTransform="translate(0 75.47) scale(1 0.150) translate(0 -75.47)"><stop offset="0.0000" stop-color="#800000"/><stop offset="0.0900" stop-color="#e80000"/><stop offset="0.1100" stop-color="#ff1300"/><stop offset="0.3400" stop-color="#ffec00"/><stop offset="0.3500" stop-color="#f7f600"/><stop offset="0.3600" stop-color="#efff08"/><stop offset="0.6250" stop-color="#15ffe2"/><stop offset="0.6500" stop-color="#00e5f7"/><stop offset="0.6600" stop-color="#00dbff"/><stop offset="0.8750" stop-color="#0000ff"/><stop offset="0.8900" stop-color="#0000ff"/><stop offset="1.0000" stop-color="#000080"/></radialGradient><radialGradient id="cg72" gradientUnits="userSpaceOnUse" spreadMethod="repeat" cx="348.55" cy="72.64" fx="348.55" fy="72.64" r="10.91" gradientTransform="translate(0 72.64) scale(1 0.154) translate(0 -72.64)"><stop offset="0.0000" stop-color="#000080"/><stop offset="0.1100" stop-color="#0000ff"/><stop offset="0.1250" stop-color="#0000ff"/><stop offset="0.3400" stop-color="#00dbff"/><stop offset="0.3500" stop-color="#00e5f7"/><stop offset="0.3750" stop-color="#15ffe2"/><stop offset="0.6400" stop-color="#efff08"/><stop offset="0.6500" stop-color="#f7f600"/><stop offset="0.6600" stop-color="#ffec00"/><stop offset="0.8900" stop-color="#ff1300"/><stop offset="0.9100" stop-color="#e80000"/><stop offset="1.0000" stop-color="#800000"/></radialGradient><radialGradient id="cg73" gradientUnits="userSpaceOnUse" spreadMethod="repeat" cx="380.76" cy="72.23" fx="380.76" fy="72.23" r="10.31" gradientTransform="translate(0 72.23) scale(1 0.241) translate(0 -72.23)"><stop offset="0.0000" stop-color="#000080"/><stop offset="0.1100" stop-color="#0000ff"/><stop offset="0.1250" stop-color="#0000ff"/><stop offset="0.3400" stop-color="#00dbff"/><stop offset="0.3500" stop-color="#00e5f7"/><stop offset="0.3750" stop-color="#15ffe2"/><stop offset="0.6400" stop-color="#efff08"/><stop offset="0.6500" stop-color="#f7f600"/><stop offset="0.6600" stop-color="#ffec00"/><stop offset="0.8900" stop-color="#ff1300"/><stop offset="0.9100" stop-color="#e80000"/><stop offset="1.0000" stop-color="#800000"/></radialGradient><radialGradient id="cg74" gradientUnits="userSpaceOnUse" spreadMethod="repeat" cx="410.13" cy="75.33" fx="410.13" fy="75.33" r="14.99" gradientTransform="translate(0 75.33) scale(1 0.195) translate(0 -75.33)"><stop offset="0.0000" stop-color="#000080"/><stop offset="0.1100" stop-color="#0000ff"/><stop offset="0.1250" stop-color="#0000ff"/><stop offset="0.3400" stop-color="#00dbff"/><stop offset="0.3500" stop-color="#00e5f7"/><stop offset="0.3750" stop-color="#15ffe2"/><stop offset="0.6400" stop-color="#efff08"/><stop offset="0.6500" stop-color="#f7f600"/><stop offset="0.6600" stop-color="#ffec00"/><stop offset="0.8900" stop-color="#ff1300"/><stop offset="0.9100" stop-color="#e80000"/><stop offset="1.0000" stop-color="#800000"/></radialGradient><radialGradient id="cg75" gradientUnits="userSpaceOnUse" spreadMethod="repeat" cx="394.80" cy="73.71" fx="394.80" fy="73.71" r="11.37" gradientTransform="translate(0 73.71) scale(1 0.152) translate(0 -73.71)"><stop offset="0.0000" stop-color="#800000"/><stop offset="0.0900" stop-color="#e80000"/><stop offset="0.1100" stop-color="#ff1300"/><stop offset="0.3400" stop-color="#ffec00"/><stop offset="0.3500" stop-color="#f7f600"/><stop offset="0.3600" stop-color="#efff08"/><stop offset="0.6250" stop-color="#15ffe2"/><stop offset="0.6500" stop-color="#00e5f7"/><stop offset="0.6600" stop-color="#00dbff"/><stop offset="0.8750" stop-color="#0000ff"/><stop offset="0.8900" stop-color="#0000ff"/><stop offset="1.0000" stop-color="#000080"/></radialGradient><radialGradient id="cg76" gradientUnits="userSpaceOnUse" spreadMethod="repeat" cx="425.53" cy="74.77" fx="425.53" fy="74.77" r="11.13" gradientTransform="translate(0 74.77) scale(1 0.149) translate(0 -74.77)"><stop offset="0.0000" stop-color="#800000"/><stop offset="0.0900" stop-color="#e80000"/><stop offset="0.1100" stop-color="#ff1300"/><stop offset="0.3400" stop-color="#ffec00"/><stop offset="0.3500" stop-color="#f7f600"/><stop offset="0.3600" stop-color="#efff08"/><stop offset="0.6250" stop-color="#15ffe2"/><stop offset="0.6500" stop-color="#00e5f7"/><stop offset="0.6600" stop-color="#00dbff"/><stop offset="0.8750" stop-color="#0000ff"/><stop offset="0.8900" stop-color="#0000ff"/><stop offset="1.0000" stop-color="#000080"/></radialGradient><radialGradient id="cg77" gradientUnits="userSpaceOnUse" spreadMethod="repeat" cx="497.77" cy="72.34" fx="497.77" fy="72.34" r="13.20" gradientTransform="translate(0 72.34) scale(1 0.149) translate(0 -72.34)"><stop offset="0.0000" stop-color="#000080"/><stop offset="0.1100" stop-color="#0000ff"/><stop offset="0.1250" stop-color="#0000ff"/><stop offset="0.3400" stop-color="#00dbff"/><stop offset="0.3500" stop-color="#00e5f7"/><stop offset="0.3750" stop-color="#15ffe2"/><stop offset="0.6400" stop-color="#efff08"/><stop offset="0.6500" stop-color="#f7f600"/><stop offset="0.6600" stop-color="#ffec00"/><stop offset="0.8900" stop-color="#ff1300"/><stop offset="0.9100" stop-color="#e80000"/><stop offset="1.0000" stop-color="#800000"/></radialGradient><radialGradient id="cg78" gradientUnits="userSpaceOnUse" spreadMethod="repeat" cx="50.57" cy="79.78" fx="50.57" fy="79.78" r="15.04" gradientTransform="translate(0 79.78) scale(1 0.169) translate(0 -79.78)"><stop offset="0.0000" stop-color="#000080"/><stop offset="0.1100" stop-color="#0000ff"/><stop offset="0.1250" stop-color="#0000ff"/><stop offset="0.3400" stop-color="#00dbff"/><stop offset="0.3500" stop-color="#00e5f7"/><stop offset="0.3750" stop-color="#15ffe2"/><stop offset="0.6400" stop-color="#efff08"/><stop offset="0.6500" stop-color="#f7f600"/><stop offset="0.6600" stop-color="#ffec00"/><stop offset="0.8900" stop-color="#ff1300"/><stop offset="0.9100" stop-color="#e80000"/><stop offset="1.0000" stop-color="#800000"/></radialGradient><radialGradient id="cg79" gradientUnits="userSpaceOnUse" spreadMethod="repeat" cx="45.14" cy="80.05" fx="45.14" fy="80.05" r="12.40" gradientTransform="translate(0 80.05) scale(1 0.236) translate(0 -80.05)"><stop offset="0.0000" stop-color="#800000"/><stop offset="0.0900" stop-color="#e80000"/><stop offset="0.1100" stop-color="#ff1300"/><stop offset="0.3400" stop-color="#ffec00"/><stop offset="0.3500" stop-color="#f7f600"/><stop offset="0.3600" stop-color="#efff08"/><stop offset="0.6250" stop-color="#15ffe2"/><stop offset="0.6500" stop-color="#00e5f7"/><stop offset="0.6600" stop-color="#00dbff"/><stop offset="0.8750" stop-color="#0000ff"/><stop offset="0.8900" stop-color="#0000ff"/><stop offset="1.0000" stop-color="#000080"/></radialGradient><radialGradient id="cg80" gradientUnits="userSpaceOnUse" spreadMethod="repeat" cx="130.86" cy="79.29" fx="130.86" fy="79.29" r="15.38" gradientTransform="translate(0 79.29) scale(1 0.177) translate(0 -79.29)"><stop offset="0.0000" stop-color="#000080"/><stop offset="0.1100" stop-color="#0000ff"/><stop offset="0.1250" stop-color="#0000ff"/><stop offset="0.3400" stop-color="#00dbff"/><stop offset="0.3500" stop-color="#00e5f7"/><stop offset="0.3750" stop-color="#15ffe2"/><stop offset="0.6400" stop-color="#efff08"/><stop offset="0.6500" stop-color="#f7f600"/><stop offset="0.6600" stop-color="#ffec00"/><stop offset="0.8900" stop-color="#ff1300"/><stop offset="0.9100" stop-color="#e80000"/><stop offset="1.0000" stop-color="#800000"/></radialGradient><radialGradient id="cg81" gradientUnits="userSpaceOnUse" spreadMethod="repeat" cx="170.62" cy="81.76" fx="170.62" fy="81.76" r="10.15" gradientTransform="translate(0 81.76) scale(1 0.157) translate(0 -81.76)"><stop offset="0.0000" stop-color="#000080"/><stop offset="0.1100" stop-color="#0000ff"/><stop offset="0.1250" stop-color="#0000ff"/><stop offset="0.3400" stop-color="#00dbff"/><stop offset="0.3500" stop-color="#00e5f7"/><stop offset="0.3750" stop-color="#15ffe2"/><stop offset="0.6400" stop-color="#efff08"/><stop offset="0.6500" stop-color="#f7f600"/><stop offset="0.6600" stop-color="#ffec00"/><stop offset="0.8900" stop-color="#ff1300"/><stop offset="0.9100" stop-color="#e80000"/><stop offset="1.0000" stop-color="#800000"/></radialGradient><radialGradient id="cg82" gradientUnits="userSpaceOnUse" spreadMethod="repeat" cx="159.15" cy="80.91" fx="159.15" fy="80.91" r="12.44" gradientTransform="translate(0 80.91) scale(1 0.156) translate(0 -80.91)"><stop offset="0.0000" stop-color="#800000"/><stop offset="0.0900" stop-color="#e80000"/><stop offset="0.1100" stop-color="#ff1300"/><stop offset="0.3400" stop-color="#ffec00"/><stop offset="0.3500" stop-color="#f7f600"/><stop offset="0.3600" stop-color="#efff08"/><stop offset="0.6250" stop-color="#15ffe2"/><stop offset="0.6500" stop-color="#00e5f7"/><stop offset="0.6600" stop-color="#00dbff"/><stop offset="0.8750" stop-color="#0000ff"/><stop offset="0.8900" stop-color="#0000ff"/><stop offset="1.0000" stop-color="#000080"/></radialGradient><radialGradient id="cg83" gradientUnits="userSpaceOnUse" spreadMethod="repeat" cx="233.20" cy="78.13" fx="233.20" fy="78.13" r="15.22" gradientTransform="translate(0 78.13) scale(1 0.168) translate(0 -78.13)"><stop offset="0.0000" stop-color="#000080"/><stop offset="0.1100" stop-color="#0000ff"/><stop offset="0.1250" stop-color="#0000ff"/><stop offset="0.3400" stop-color="#00dbff"/><stop offset="0.3500" stop-color="#00e5f7"/><stop offset="0.3750" stop-color="#15ffe2"/><stop offset="0.6400" stop-color="#efff08"/><stop offset="0.6500" stop-color="#f7f600"/><stop offset="0.6600" stop-color="#ffec00"/><stop offset="0.8900" stop-color="#ff1300"/><stop offset="0.9100" stop-color="#e80000"/><stop offset="1.0000" stop-color="#800000"/></radialGradient><radialGradient id="cg84" gradientUnits="userSpaceOnUse" spreadMethod="repeat" cx="262.83" cy="78.34" fx="262.83" fy="78.34" r="10.26" gradientTransform="translate(0 78.34) scale(1 0.144) translate(0 -78.34)"><stop offset="0.0000" stop-color="#000080"/><stop offset="0.1100" stop-color="#0000ff"/><stop offset="0.1250" stop-color="#0000ff"/><stop offset="0.3400" stop-color="#00dbff"/><stop offset="0.3500" stop-color="#00e5f7"/><stop offset="0.3750" stop-color="#15ffe2"/><stop offset="0.6400" stop-color="#efff08"/><stop offset="0.6500" stop-color="#f7f600"/><stop offset="0.6600" stop-color="#ffec00"/><stop offset="0.8900" stop-color="#ff1300"/><stop offset="0.9100" stop-color="#e80000"/><stop offset="1.0000" stop-color="#800000"/></radialGradient><radialGradient id="cg85" gradientUnits="userSpaceOnUse" spreadMethod="repeat" cx="248.20" cy="81.71" fx="248.20" fy="81.71" r="13.20" gradientTransform="translate(0 81.71) scale(1 0.221) translate(0 -81.71)"><stop offset="0.0000" stop-color="#800000"/><stop offset="0.0900" stop-color="#e80000"/><stop offset="0.1100" stop-color="#ff1300"/><stop offset="0.3400" stop-color="#ffec00"/><stop offset="0.3500" stop-color="#f7f600"/><stop offset="0.3600" stop-color="#efff08"/><stop offset="0.6250" stop-color="#15ffe2"/><stop offset="0.6500" stop-color="#00e5f7"/><stop offset="0.6600" stop-color="#00dbff"/><stop offset="0.8750" stop-color="#0000ff"/><stop offset="0.8900" stop-color="#0000ff"/><stop offset="1.0000" stop-color="#000080"/></radialGradient><radialGradient id="cg86" gradientUnits="userSpaceOnUse" spreadMethod="repeat" cx="334.29" cy="80.60" fx="334.29" fy="80.60" r="12.42" gradientTransform="translate(0 80.60) scale(1 0.167) translate(0 -80.60)"><stop offset="0.0000" stop-color="#000080"/><stop offset="0.1100" stop-color="#0000ff"/><stop offset="0.1250" stop-color="#0000ff"/><stop offset="0.3400" stop-color="#00dbff"/><stop offset="0.3500" stop-color="#00e5f7"/><stop offset="0.3750" stop-color="#15ffe2"/><stop offset="0.6400" stop-color="#efff08"/><stop offset="0.6500" stop-color="#f7f600"/><stop offset="0.6600" stop-color="#ffec00"/><stop offset="0.8900" stop-color="#ff1300"/><stop offset="0.9100" stop-color="#e80000"/><stop offset="1.0000" stop-color="#800000"/></radialGradient><radialGradient id="cg87" gradientUnits="userSpaceOnUse" spreadMethod="repeat" cx="375.18" cy="79.53" fx="375.18" fy="79.53" r="14.94" gradientTransform="translate(0 79.53) scale(1 0.160) translate(0 -79.53)"><stop offset="0.0000" stop-color="#000080"/><stop offset="0.1100" stop-color="#0000ff"/><stop offset="0.1250" stop-color="#0000ff"/><stop offset="0.3400" stop-color="#00dbff"/><stop offset="0.3500" stop-color="#00e5f7"/><stop offset="0.3750" stop-color="#15ffe2"/><stop offset="0.6400" stop-color="#efff08"/><stop offset="0.6500" stop-color="#f7f600"/><stop offset="0.6600" stop-color="#ffec00"/><stop offset="0.8900" stop-color="#ff1300"/><stop offset="0.9100" stop-color="#e80000"/><stop offset="1.0000" stop-color="#800000"/></radialGradient><radialGradient id="cg88" gradientUnits="userSpaceOnUse" spreadMethod="repeat" cx="395.95" cy="79.76" fx="395.95" fy="79.76" r="10.12" gradientTransform="translate(0 79.76) scale(1 0.170) translate(0 -79.76)"><stop offset="0.0000" stop-color="#000080"/><stop offset="0.1100" stop-color="#0000ff"/><stop offset="0.1250" stop-color="#0000ff"/><stop offset="0.3400" stop-color="#00dbff"/><stop offset="0.3500" stop-color="#00e5f7"/><stop offset="0.3750" stop-color="#15ffe2"/><stop offset="0.6400" stop-color="#efff08"/><stop offset="0.6500" stop-color="#f7f600"/><stop offset="0.6600" stop-color="#ffec00"/><stop offset="0.8900" stop-color="#ff1300"/><stop offset="0.9100" stop-color="#e80000"/><stop offset="1.0000" stop-color="#800000"/></radialGradient><radialGradient id="cg89" gradientUnits="userSpaceOnUse" spreadMethod="repeat" cx="432.61" cy="81.75" fx="432.61" fy="81.75" r="11.95" gradientTransform="translate(0 81.75) scale(1 0.175) translate(0 -81.75)"><stop offset="0.0000" stop-color="#000080"/><stop offset="0.1100" stop-color="#0000ff"/><stop offset="0.1250" stop-color="#0000ff"/><stop offset="0.3400" stop-color="#00dbff"/><stop offset="0.3500" stop-color="#00e5f7"/><stop offset="0.3750" stop-color="#15ffe2"/><stop offset="0.6400" stop-color="#efff08"/><stop offset="0.6500" stop-color="#f7f600"/><stop offset="0.6600" stop-color="#ffec00"/><stop offset="0.8900" stop-color="#ff1300"/><stop offset="0.9100" stop-color="#e80000"/><stop offset="1.0000" stop-color="#800000"/></radialGradient><radialGradient id="cg90" gradientUnits="userSpaceOnUse" spreadMethod="repeat" cx="478.78" cy="78.03" fx="478.78" fy="78.03" r="11.79" gradientTransform="translate(0 78.03) scale(1 0.151) translate(0 -78.03)"><stop offset="0.0000" stop-color="#000080"/><stop offset="0.1100" stop-color="#0000ff"/><stop offset="0.1250" stop-color="#0000ff"/><stop offset="0.3400" stop-color="#00dbff"/><stop offset="0.3500" stop-color="#00e5f7"/><stop offset="0.3750" stop-color="#15ffe2"/><stop offset="0.6400" stop-color="#efff08"/><stop offset="0.6500" stop-color="#f7f600"/><stop offset="0.6600" stop-color="#ffec00"/><stop offset="0.8900" stop-color="#ff1300"/><stop offset="0.9100" stop-color="#e80000"/><stop offset="1.0000" stop-color="#800000"/></radialGradient><radialGradient id="cg91" gradientUnits="userSpaceOnUse" spreadMethod="repeat" cx="501.81" cy="78.29" fx="501.81" fy="78.29" r="15.59" gradientTransform="translate(0 78.29) scale(1 0.167) translate(0 -78.29)"><stop offset="0.0000" stop-color="#000080"/><stop offset="0.1100" stop-color="#0000ff"/><stop offset="0.1250" stop-color="#0000ff"/><stop offset="0.3400" stop-color="#00dbff"/><stop offset="0.3500" stop-color="#00e5f7"/><stop offset="0.3750" stop-color="#15ffe2"/><stop offset="0.6400" stop-color="#efff08"/><stop offset="0.6500" stop-color="#f7f600"/><stop offset="0.6600" stop-color="#ffec00"/><stop offset="0.8900" stop-color="#ff1300"/><stop offset="0.9100" stop-color="#e80000"/><stop offset="1.0000" stop-color="#800000"/></radialGradient><radialGradient id="cg92" gradientUnits="userSpaceOnUse" spreadMethod="repeat" cx="60.99" cy="86.72" fx="60.99" fy="86.72" r="10.40" gradientTransform="translate(0 86.72) scale(1 0.221) translate(0 -86.72)"><stop offset="0.0000" stop-color="#000080"/><stop offset="0.1100" stop-color="#0000ff"/><stop offset="0.1250" stop-color="#0000ff"/><stop offset="0.3400" stop-color="#00dbff"/><stop offset="0.3500" stop-color="#00e5f7"/><stop offset="0.3750" stop-color="#15ffe2"/><stop offset="0.6400" stop-color="#efff08"/><stop offset="0.6500" stop-color="#f7f600"/><stop offset="0.6600" stop-color="#ffec00"/><stop offset="0.8900" stop-color="#ff1300"/><stop offset="0.9100" stop-color="#e80000"/><stop offset="1.0000" stop-color="#800000"/></radialGradient><radialGradient id="cg93" gradientUnits="userSpaceOnUse" spreadMethod="repeat" cx="49.63" cy="84.21" fx="49.63" fy="84.21" r="14.68" gradientTransform="translate(0 84.21) scale(1 0.188) translate(0 -84.21)"><stop offset="0.0000" stop-color="#800000"/><stop offset="0.0900" stop-color="#e80000"/><stop offset="0.1100" stop-color="#ff1300"/><stop offset="0.3400" stop-color="#ffec00"/><stop offset="0.3500" stop-color="#f7f600"/><stop offset="0.3600" stop-color="#efff08"/><stop offset="0.6250" stop-color="#15ffe2"/><stop offset="0.6500" stop-color="#00e5f7"/><stop offset="0.6600" stop-color="#00dbff"/><stop offset="0.8750" stop-color="#0000ff"/><stop offset="0.8900" stop-color="#0000ff"/><stop offset="1.0000" stop-color="#000080"/></radialGradient><radialGradient id="cg94" gradientUnits="userSpaceOnUse" spreadMethod="repeat" cx="141.99" cy="84.88" fx="141.99" fy="84.88" r="15.29" gradientTransform="translate(0 84.88) scale(1 0.167) translate(0 -84.88)"><stop offset="0.0000" stop-color="#000080"/><stop offset="0.1100" stop-color="#0000ff"/><stop offset="0.1250" stop-color="#0000ff"/><stop offset="0.3400" stop-color="#00dbff"/><stop offset="0.3500" stop-color="#00e5f7"/><stop offset="0.3750" stop-color="#15ffe2"/><stop offset="0.6400" stop-color="#efff08"/><stop offset="0.6500" stop-color="#f7f600"/><stop offset="0.6600" stop-color="#ffec00"/><stop offset="0.8900" stop-color="#ff1300"/><stop offset="0.9100" stop-color="#e80000"/><stop offset="1.0000" stop-color="#800000"/></radialGradient><radialGradient id="cg95" gradientUnits="userSpaceOnUse" spreadMethod="repeat" cx="130.63" cy="86.06" fx="130.63" fy="86.06" r="10.56" gradientTransform="translate(0 86.06) scale(1 0.184) translate(0 -86.06)"><stop offset="0.0000" stop-color="#800000"/><stop offset="0.0900" stop-color="#e80000"/><stop offset="0.1100" stop-color="#ff1300"/><stop offset="0.3400" stop-color="#ffec00"/><stop offset="0.3500" stop-color="#f7f600"/><stop offset="0.3600" stop-color="#efff08"/><stop offset="0.6250" stop-color="#15ffe2"/><stop offset="0.6500" stop-color="#00e5f7"/><stop offset="0.6600" stop-color="#00dbff"/><stop offset="0.8750" stop-color="#0000ff"/><stop offset="0.8900" stop-color="#0000ff"/><stop offset="1.0000" stop-color="#000080"/></radialGradient><radialGradient id="cg96" gradientUnits="userSpaceOnUse" spreadMethod="repeat" cx="212.62" cy="87.38" fx="212.62" fy="87.38" r="12.81" gradientTransform="translate(0 87.38) scale(1 0.158) translate(0 -87.38)"><stop offset="0.0000" stop-color="#000080"/><stop offset="0.1100" stop-color="#0000ff"/><stop offset="0.1250" stop-color="#0000ff"/><stop offset="0.3400" stop-color="#00dbff"/><stop offset="0.3500" stop-color="#00e5f7"/><stop offset="0.3750" stop-color="#15ffe2"/><stop offset="0.6400" stop-color="#efff08"/><stop offset="0.6500" stop-color="#f7f600"/><stop offset="0.6600" stop-color="#ffec00"/><stop offset="0.8900" stop-color="#ff1300"/><stop offset="0.9100" stop-color="#e80000"/><stop offset="1.0000" stop-color="#800000"/></radialGradient><radialGradient id="cg97" gradientUnits="userSpaceOnUse" spreadMethod="repeat" cx="244.80" cy="84.62" fx="244.80" fy="84.62" r="13.54" gradientTransform="translate(0 84.62) scale(1 0.222) translate(0 -84.62)"><stop offset="0.0000" stop-color="#000080"/><stop offset="0.1100" stop-color="#0000ff"/><stop offset="0.1250" stop-color="#0000ff"/><stop offset="0.3400" stop-color="#00dbff"/><stop offset="0.3500" stop-color="#00e5f7"/><stop offset="0.3750" stop-color="#15ffe2"/><stop offset="0.6400" stop-color="#efff08"/><stop offset="0.6500" stop-color="#f7f600"/><stop offset="0.6600" stop-color="#ffec00"/><stop offset="0.8900" stop-color="#ff1300"/><stop offset="0.9100" stop-color="#e80000"/><stop offset="1.0000" stop-color="#800000"/></radialGradient><radialGradient id="cg98" gradientUnits="userSpaceOnUse" spreadMethod="repeat" cx="271.64" cy="87.95" fx="271.64" fy="87.95" r="12.47" gradientTransform="translate(0 87.95) scale(1 0.221) translate(0 -87.95)"><stop offset="0.0000" stop-color="#000080"/><stop offset="0.1100" stop-color="#0000ff"/><stop offset="0.1250" stop-color="#0000ff"/><stop offset="0.3400" stop-color="#00dbff"/><stop offset="0.3500" stop-color="#00e5f7"/><stop offset="0.3750" stop-color="#15ffe2"/><stop offset="0.6400" stop-color="#efff08"/><stop offset="0.6500" stop-color="#f7f600"/><stop offset="0.6600" stop-color="#ffec00"/><stop offset="0.8900" stop-color="#ff1300"/><stop offset="0.9100" stop-color="#e80000"/><stop offset="1.0000" stop-color="#800000"/></radialGradient><radialGradient id="cg99" gradientUnits="userSpaceOnUse" spreadMethod="repeat" cx="308.05" cy="87.85" fx="308.05" fy="87.85" r="13.10" gradientTransform="translate(0 87.85) scale(1 0.189) translate(0 -87.85)"><stop offset="0.0000" stop-color="#000080"/><stop offset="0.1100" stop-color="#0000ff"/><stop offset="0.1250" stop-color="#0000ff"/><stop offset="0.3400" stop-color="#00dbff"/><stop offset="0.3500" stop-color="#00e5f7"/><stop offset="0.3750" stop-color="#15ffe2"/><stop offset="0.6400" stop-color="#efff08"/><stop offset="0.6500" stop-color="#f7f600"/><stop offset="0.6600" stop-color="#ffec00"/><stop offset="0.8900" stop-color="#ff1300"/><stop offset="0.9100" stop-color="#e80000"/><stop offset="1.0000" stop-color="#800000"/></radialGradient><radialGradient id="cg100" gradientUnits="userSpaceOnUse" spreadMethod="repeat" cx="353.73" cy="84.67" fx="353.73" fy="84.67" r="13.90" gradientTransform="translate(0 84.67) scale(1 0.168) translate(0 -84.67)"><stop offset="0.0000" stop-color="#000080"/><stop offset="0.1100" stop-color="#0000ff"/><stop offset="0.1250" stop-color="#0000ff"/><stop offset="0.3400" stop-color="#00dbff"/><stop offset="0.3500" stop-color="#00e5f7"/><stop offset="0.3750" stop-color="#15ffe2"/><stop offset="0.6400" stop-color="#efff08"/><stop offset="0.6500" stop-color="#f7f600"/><stop offset="0.6600" stop-color="#ffec00"/><stop offset="0.8900" stop-color="#ff1300"/><stop offset="0.9100" stop-color="#e80000"/><stop offset="1.0000" stop-color="#800000"/></radialGradient><radialGradient id="cg101" gradientUnits="userSpaceOnUse" spreadMethod="repeat" cx="386.11" cy="85.94" fx="386.11" fy="85.94" r="13.52" gradientTransform="translate(0 85.94) scale(1 0.222) translate(0 -85.94)"><stop offset="0.0000" stop-color="#000080"/><stop offset="0.1100" stop-color="#0000ff"/><stop offset="0.1250" stop-color="#0000ff"/><stop offset="0.3400" stop-color="#00dbff"/><stop offset="0.3500" stop-color="#00e5f7"/><stop offset="0.3750" stop-color="#15ffe2"/><stop offset="0.6400" stop-color="#efff08"/><stop offset="0.6500" stop-color="#f7f600"/><stop offset="0.6600" stop-color="#ffec00"/><stop offset="0.8900" stop-color="#ff1300"/><stop offset="0.9100" stop-color="#e80000"/><stop offset="1.0000" stop-color="#800000"/></radialGradient><radialGradient id="cg102" gradientUnits="userSpaceOnUse" spreadMethod="repeat" cx="372.71" cy="86.77" fx="372.71" fy="86.77" r="10.96" gradientTransform="translate(0 86.77) scale(1 0.234) translate(0 -86.77)"><stop offset="0.0000" stop-color="#800000"/><stop offset="0.0900" stop-color="#e80000"/><stop offset="0.1100" stop-color="#ff1300"/><stop offset="0.3400" stop-color="#ffec00"/><stop offset="0.3500" stop-color="#f7f600"/><stop offset="0.3600" stop-color="#efff08"/><stop offset="0.6250" stop-color="#15ffe2"/><stop offset="0.6500" stop-color="#00e5f7"/><stop offset="0.6600" stop-color="#00dbff"/><stop offset="0.8750" stop-color="#0000ff"/><stop offset="0.8900" stop-color="#0000ff"/><stop offset="1.0000" stop-color="#000080"/></radialGradient><radialGradient id="cg103" gradientUnits="userSpaceOnUse" spreadMethod="repeat" cx="464.81" cy="84.59" fx="464.81" fy="84.59" r="10.89" gradientTransform="translate(0 84.59) scale(1 0.144) translate(0 -84.59)"><stop offset="0.0000" stop-color="#000080"/><stop offset="0.1100" stop-color="#0000ff"/><stop offset="0.1250" stop-color="#0000ff"/><stop offset="0.3400" stop-color="#00dbff"/><stop offset="0.3500" stop-color="#00e5f7"/><stop offset="0.3750" stop-color="#15ffe2"/><stop offset="0.6400" stop-color="#efff08"/><stop offset="0.6500" stop-color="#f7f600"/><stop offset="0.6600" stop-color="#ffec00"/><stop offset="0.8900" stop-color="#ff1300"/><stop offset="0.9100" stop-color="#e80000"/><stop offset="1.0000" stop-color="#800000"/></radialGradient><radialGradient id="cg104" gradientUnits="userSpaceOnUse" spreadMethod="repeat" cx="453.11" cy="84.32" fx="453.11" fy="84.32" r="13.29" gradientTransform="translate(0 84.32) scale(1 0.211) translate(0 -84.32)"><stop offset="0.0000" stop-color="#800000"/><stop offset="0.0900" stop-color="#e80000"/><stop offset="0.1100" stop-color="#ff1300"/><stop offset="0.3400" stop-color="#ffec00"/><stop offset="0.3500" stop-color="#f7f600"/><stop offset="0.3600" stop-color="#efff08"/><stop offset="0.6250" stop-color="#15ffe2"/><stop offset="0.6500" stop-color="#00e5f7"/><stop offset="0.6600" stop-color="#00dbff"/><stop offset="0.8750" stop-color="#0000ff"/><stop offset="0.8900" stop-color="#0000ff"/><stop offset="1.0000" stop-color="#000080"/></radialGradient><radialGradient id="cg105" gradientUnits="userSpaceOnUse" spreadMethod="repeat" cx="478.53" cy="85.71" fx="478.53" fy="85.71" r="11.63" gradientTransform="translate(0 85.71) scale(1 0.146) translate(0 -85.71)"><stop offset="0.0000" stop-color="#800000"/><stop offset="0.0900" stop-color="#e80000"/><stop offset="0.1100" stop-color="#ff1300"/><stop offset="0.3400" stop-color="#ffec00"/><stop offset="0.3500" stop-color="#f7f600"/><stop offset="0.3600" stop-color="#efff08"/><stop offset="0.6250" stop-color="#15ffe2"/><stop offset="0.6500" stop-color="#00e5f7"/><stop offset="0.6600" stop-color="#00dbff"/><stop offset="0.8750" stop-color="#0000ff"/><stop offset="0.8900" stop-color="#0000ff"/><stop offset="1.0000" stop-color="#000080"/></radialGradient><radialGradient id="cg106" gradientUnits="userSpaceOnUse" spreadMethod="repeat" cx="38.78" cy="93.65" fx="38.78" fy="93.65" r="14.99" gradientTransform="translate(0 93.65) scale(1 0.228) translate(0 -93.65)"><stop offset="0.0000" stop-color="#000080"/><stop offset="0.1100" stop-color="#0000ff"/><stop offset="0.1250" stop-color="#0000ff"/><stop offset="0.3400" stop-color="#00dbff"/><stop offset="0.3500" stop-color="#00e5f7"/><stop offset="0.3750" stop-color="#15ffe2"/><stop offset="0.6400" stop-color="#efff08"/><stop offset="0.6500" stop-color="#f7f600"/><stop offset="0.6600" stop-color="#ffec00"/><stop offset="0.8900" stop-color="#ff1300"/><stop offset="0.9100" stop-color="#e80000"/><stop offset="1.0000" stop-color="#800000"/></radialGradient><radialGradient id="cg107" gradientUnits="userSpaceOnUse" spreadMethod="repeat" cx="69.43" cy="90.76" fx="69.43" fy="90.76" r="10.37" gradientTransform="translate(0 90.76) scale(1 0.149) translate(0 -90.76)"><stop offset="0.0000" stop-color="#000080"/><stop offset="0.1100" stop-color="#0000ff"/><stop offset="0.1250" stop-color="#0000ff"/><stop offset="0.3400" stop-color="#00dbff"/><stop offset="0.3500" stop-color="#00e5f7"/><stop offset="0.3750" stop-color="#15ffe2"/><stop offset="0.6400" stop-color="#efff08"/><stop offset="0.6500" stop-color="#f7f600"/><stop offset="0.6600" stop-color="#ffec00"/><stop offset="0.8900" stop-color="#ff1300"/><stop offset="0.9100" stop-color="#e80000"/><stop offset="1.0000" stop-color="#800000"/></radialGradient><radialGradient id="cg108" gradientUnits="userSpaceOnUse" spreadMethod="repeat" cx="53.69" cy="92.34" fx="53.69" fy="92.34" r="11.25" gradientTransform="translate(0 92.34) scale(1 0.188) translate(0 -92.34)"><stop offset="0.0000" stop-color="#800000"/><stop offset="0.0900" stop-color="#e80000"/><stop offset="0.1100" stop-color="#ff1300"/><stop offset="0.3400" stop-color="#ffec00"/><stop offset="0.3500" stop-color="#f7f600"/><stop offset="0.3600" stop-color="#efff08"/><stop offset="0.6250" stop-color="#15ffe2"/><stop offset="0.6500" stop-color="#00e5f7"/><stop offset="0.6600" stop-color="#00dbff"/><stop offset="0.8750" stop-color="#0000ff"/><stop offset="0.8900" stop-color="#0000ff"/><stop offset="1.0000" stop-color="#000080"/></radialGradient><radialGradient id="cg109" gradientUnits="userSpaceOnUse" spreadMethod="repeat" cx="82.91" cy="90.30" fx="82.91" fy="90.30" r="11.05" gradientTransform="translate(0 90.30) scale(1 0.205) translate(0 -90.30)"><stop offset="0.0000" stop-color="#800000"/><stop offset="0.0900" stop-color="#e80000"/><stop offset="0.1100" stop-color="#ff1300"/><stop offset="0.3400" stop-color="#ffec00"/><stop offset="0.3500" stop-color="#f7f600"/><stop offset="0.3600" stop-color="#efff08"/><stop offset="0.6250" stop-color="#15ffe2"/><stop offset="0.6500" stop-color="#00e5f7"/><stop offset="0.6600" stop-color="#00dbff"/><stop offset="0.8750" stop-color="#0000ff"/><stop offset="0.8900" stop-color="#0000ff"/><stop offset="1.0000" stop-color="#000080"/></radialGradient><radialGradient id="cg110" gradientUnits="userSpaceOnUse" spreadMethod="repeat" cx="151.16" cy="93.76" fx="151.16" fy="93.76" r="15.76" gradientTransform="translate(0 93.76) scale(1 0.225) translate(0 -93.76)"><stop offset="0.0000" stop-color="#000080"/><stop offset="0.1100" stop-color="#0000ff"/><stop offset="0.1250" stop-color="#0000ff"/><stop offset="0.3400" stop-color="#00dbff"/><stop offset="0.3500" stop-color="#00e5f7"/><stop offset="0.3750" stop-color="#15ffe2"/><stop offset="0.6400" stop-color="#efff08"/><stop offset="0.6500" stop-color="#f7f600"/><stop offset="0.6600" stop-color="#ffec00"/><stop offset="0.8900" stop-color="#ff1300"/><stop offset="0.9100" stop-color="#e80000"/><stop offset="1.0000" stop-color="#800000"/></radialGradient><radialGradient id="cg111" gradientUnits="userSpaceOnUse" spreadMethod="repeat" cx="179.46" cy="92.58" fx="179.46" fy="92.58" r="14.33" gradientTransform="translate(0 92.58) scale(1 0.230) translate(0 -92.58)"><stop offset="0.0000" stop-color="#000080"/><stop offset="0.1100" stop-color="#0000ff"/><stop offset="0.1250" stop-color="#0000ff"/><stop offset="0.3400" stop-color="#00dbff"/><stop offset="0.3500" stop-color="#00e5f7"/><stop offset="0.3750" stop-color="#15ffe2"/><stop offset="0.6400" stop-color="#efff08"/><stop offset="0.6500" stop-color="#f7f600"/><stop offset="0.6600" stop-color="#ffec00"/><stop offset="0.8900" stop-color="#ff1300"/><stop offset="0.9100" stop-color="#e80000"/><stop offset="1.0000" stop-color="#800000"/></radialGradient><radialGradient id="cg112" gradientUnits="userSpaceOnUse" spreadMethod="repeat" cx="173.70" cy="94.00" fx="173.70" fy="94.00" r="15.27" gradientTransform="translate(0 94.00) scale(1 0.188) translate(0 -94.00)"><stop offset="0.0000" stop-color="#800000"/><stop offset="0.0900" stop-color="#e80000"/><stop offset="0.1100" stop-color="#ff1300"/><stop offset="0.3400" stop-color="#ffec00"/><stop offset="0.3500" stop-color="#f7f600"/><stop offset="0.3600" stop-color="#efff08"/><stop offset="0.6250" stop-color="#15ffe2"/><stop offset="0.6500" stop-color="#00e5f7"/><stop offset="0.6600" stop-color="#00dbff"/><stop offset="0.8750" stop-color="#0000ff"/><stop offset="0.8900" stop-color="#0000ff"/><stop offset="1.0000" stop-color="#000080"/></radialGradient><radialGradient id="cg113" gradientUnits="userSpaceOnUse" spreadMethod="repeat" cx="265.86" cy="93.74" fx="265.86" fy="93.74" r="15.99" gradientTransform="translate(0 93.74) scale(1 0.232) translate(0 -93.74)"><stop offset="0.0000" stop-color="#000080"/><stop offset="0.1100" stop-color="#0000ff"/><stop offset="0.1250" stop-color="#0000ff"/><stop offset="0.3400" stop-color="#00dbff"/><stop offset="0.3500" stop-color="#00e5f7"/><stop offset="0.3750" stop-color="#15ffe2"/><stop offset="0.6400" stop-color="#efff08"/><stop offset="0.6500" stop-color="#f7f600"/><stop offset="0.6600" stop-color="#ffec00"/><stop offset="0.8900" stop-color="#ff1300"/><stop offset="0.9100" stop-color="#e80000"/><stop offset="1.0000" stop-color="#800000"/></radialGradient><radialGradient id="cg114" gradientUnits="userSpaceOnUse" spreadMethod="repeat" cx="288.88" cy="90.23" fx="288.88" fy="90.23" r="14.61" gradientTransform="translate(0 90.23) scale(1 0.184) translate(0 -90.23)"><stop offset="0.0000" stop-color="#000080"/><stop offset="0.1100" stop-color="#0000ff"/><stop offset="0.1250" stop-color="#0000ff"/><stop offset="0.3400" stop-color="#00dbff"/><stop offset="0.3500" stop-color="#00e5f7"/><stop offset="0.3750" stop-color="#15ffe2"/><stop offset="0.6400" stop-color="#efff08"/><stop offset="0.6500" stop-color="#f7f600"/><stop offset="0.6600" stop-color="#ffec00"/><stop offset="0.8900" stop-color="#ff1300"/><stop offset="0.9100" stop-color="#e80000"/><stop offset="1.0000" stop-color="#800000"/></radialGradient><radialGradient id="cg115" gradientUnits="userSpaceOnUse" spreadMethod="repeat" cx="278.87" cy="91.77" fx="278.87" fy="91.77" r="15.60" gradientTransform="translate(0 91.77) scale(1 0.166) translate(0 -91.77)"><stop offset="0.0000" stop-color="#800000"/><stop offset="0.0900" stop-color="#e80000"/><stop offset="0.1100" stop-color="#ff1300"/><stop offset="0.3400" stop-color="#ffec00"/><stop offset="0.3500" stop-color="#f7f600"/><stop offset="0.3600" stop-color="#efff08"/><stop offset="0.6250" stop-color="#15ffe2"/><stop offset="0.6500" stop-color="#00e5f7"/><stop offset="0.6600" stop-color="#00dbff"/><stop offset="0.8750" stop-color="#0000ff"/><stop offset="0.8900" stop-color="#0000ff"/><stop offset="1.0000" stop-color="#000080"/></radialGradient><radialGradient id="cg116" gradientUnits="userSpaceOnUse" spreadMethod="repeat" cx="363.41" cy="90.83" fx="363.41" fy="90.83" r="13.93" gradientTransform="translate(0 90.83) scale(1 0.165) translate(0 -90.83)"><stop offset="0.0000" stop-color="#000080"/><stop offset="0.1100" stop-color="#0000ff"/><stop offset="0.1250" stop-color="#0000ff"/><stop offset="0.3400" stop-color="#00dbff"/><stop offset="0.3500" stop-color="#00e5f7"/><stop offset="0.3750" stop-color="#15ffe2"/><stop offset="0.6400" stop-color="#efff08"/><stop offset="0.6500" stop-color="#f7f600"/><stop offset="0.6600" stop-color="#ffec00"/><stop offset="0.8900" stop-color="#ff1300"/><stop offset="0.9100" stop-color="#e80000"/><stop offset="1.0000" stop-color="#800000"/></radialGradient><radialGradient id="cg117" gradientUnits="userSpaceOnUse" spreadMethod="repeat" cx="351.40" cy="91.39" fx="351.40" fy="91.39" r="14.13" gradientTransform="translate(0 91.39) scale(1 0.160) translate(0 -91.39)"><stop offset="0.0000" stop-color="#800000"/><stop offset="0.0900" stop-color="#e80000"/><stop offset="0.1100" stop-color="#ff1300"/><stop offset="0.3400" stop-color="#ffec00"/><stop offset="0.3500" stop-color="#f7f600"/><stop offset="0.3600" stop-color="#efff08"/><stop offset="0.6250" stop-color="#15ffe2"/><stop offset="0.6500" stop-color="#00e5f7"/><stop offset="0.6600" stop-color="#00dbff"/><stop offset="0.8750" stop-color="#0000ff"/><stop offset="0.8900" stop-color="#0000ff"/><stop offset="1.0000" stop-color="#000080"/></radialGradient><radialGradient id="cg118" gradientUnits="userSpaceOnUse" spreadMethod="repeat" cx="429.91" cy="91.45" fx="429.91" fy="91.45" r="10.28" gradientTransform="translate(0 91.45) scale(1 0.151) translate(0 -91.45)"><stop offset="0.0000" stop-color="#000080"/><stop offset="0.1100" stop-color="#0000ff"/><stop offset="0.1250" stop-color="#0000ff"/><stop offset="0.3400" stop-color="#00dbff"/><stop offset="0.3500" stop-color="#00e5f7"/><stop offset="0.3750" stop-color="#15ffe2"/><stop offset="0.6400" stop-color="#efff08"/><stop offset="0.6500" stop-color="#f7f600"/><stop offset="0.6600" stop-color="#ffec00"/><stop offset="0.8900" stop-color="#ff1300"/><stop offset="0.9100" stop-color="#e80000"/><stop offset="1.0000" stop-color="#800000"/></radialGradient><radialGradient id="cg119" gradientUnits="userSpaceOnUse" spreadMethod="repeat" cx="465.57" cy="92.69" fx="465.57" fy="92.69" r="11.04" gradientTransform="translate(0 92.69) scale(1 0.227) translate(0 -92.69)"><stop offset="0.0000" stop-color="#000080"/><stop offset="0.1100" stop-color="#0000ff"/><stop offset="0.1250" stop-color="#0000ff"/><stop offset="0.3400" stop-color="#00dbff"/><stop offset="0.3500" stop-color="#00e5f7"/><stop offset="0.3750" stop-color="#15ffe2"/><stop offset="0.6400" stop-color="#efff08"/><stop offset="0.6500" stop-color="#f7f600"/><stop offset="0.6600" stop-color="#ffec00"/><stop offset="0.8900" stop-color="#ff1300"/><stop offset="0.9100" stop-color="#e80000"/><stop offset="1.0000" stop-color="#800000"/></radialGradient><radialGradient id="cg120" gradientUnits="userSpaceOnUse" spreadMethod="repeat" cx="511.14" cy="91.57" fx="511.14" fy="91.57" r="10.04" gradientTransform="translate(0 91.57) scale(1 0.186) translate(0 -91.57)"><stop offset="0.0000" stop-color="#000080"/><stop offset="0.1100" stop-color="#0000ff"/><stop offset="0.1250" stop-color="#0000ff"/><stop offset="0.3400" stop-color="#00dbff"/><stop offset="0.3500" stop-color="#00e5f7"/><stop offset="0.3750" stop-color="#15ffe2"/><stop offset="0.6400" stop-color="#efff08"/><stop offset="0.6500" stop-color="#f7f600"/><stop offset="0.6600" stop-color="#ffec00"/><stop offset="0.8900" stop-color="#ff1300"/><stop offset="0.9100" stop-color="#e80000"/><stop offset="1.0000" stop-color="#800000"/></radialGradient>
<filter id="warp" x="-5%" y="-10%" width="110%" height="120%" color-interpolation-filters="sRGB">
<feTurbulence type="fractalNoise" baseFrequency="0.04 0.1" numOctaves="1" seed="7" result="t"/>
<feDisplacementMap in="SourceGraphic" in2="t" scale="5" xChannelSelector="R" yChannelSelector="G"/>
</filter><clipPath id="bc"><polygon points="14.6,71.3 19.6,64.3 25.6,58.3 33.6,53.8 45.6,50.8 127.6,49.8 227.6,48.8 347.6,49.3 482.0,49.8 482.0,92.3 347.6,92.3 227.6,92.8 127.6,92.8 45.6,92.3 33.6,89.3 25.6,84.3 19.6,78.3"/></clipPath></defs>
<g clip-path="url(#bc)"><g><rect x="9.3" y="45.40" width="34.1" height="6.80" fill="url(#cg1)"/><rect x="42.8" y="45.40" width="30.1" height="6.80" fill="url(#cg2)"/><rect x="72.3" y="45.40" width="27.5" height="6.80" fill="url(#cg3)"/><rect x="99.2" y="45.40" width="26.1" height="6.80" fill="url(#cg4)"/><rect x="124.7" y="45.40" width="25.8" height="6.80" fill="url(#cg5)"/><rect x="149.9" y="45.40" width="26.9" height="6.80" fill="url(#cg6)"/><rect x="176.1" y="45.40" width="38.5" height="6.80" fill="url(#cg7)"/><rect x="214.1" y="45.40" width="36.5" height="6.80" fill="url(#cg8)"/><rect x="250.0" y="45.40" width="44.1" height="6.80" fill="url(#cg9)"/><rect x="293.5" y="45.40" width="26.9" height="6.80" fill="url(#cg10)"/><rect x="319.8" y="45.40" width="25.2" height="6.80" fill="url(#cg11)"/><rect x="344.4" y="45.40" width="32.4" height="6.80" fill="url(#cg12)"/><rect x="376.1" y="45.40" width="25.3" height="6.80" fill="url(#cg13)"/><rect x="400.9" y="45.40" width="28.8" height="6.80" fill="url(#cg14)"/><rect x="429.0" y="45.40" width="28.0" height="6.80" fill="url(#cg15)"/><rect x="456.4" y="45.40" width="24.7" height="6.80" fill="url(#cg16)"/><rect x="480.5" y="45.40" width="25.4" height="6.80" fill="url(#cg17)"/><rect x="9.3" y="51.60" width="31.0" height="6.80" fill="url(#cg18)"/><rect x="39.7" y="51.60" width="34.1" height="6.80" fill="url(#cg19)"/><rect x="73.3" y="51.60" width="30.4" height="6.80" fill="url(#cg20)"/><rect x="103.1" y="51.60" width="38.7" height="6.80" fill="url(#cg21)"/><rect x="141.2" y="51.60" width="27.2" height="6.80" fill="url(#cg22)"/><rect x="167.9" y="51.60" width="35.8" height="6.80" fill="url(#cg23)"/><rect x="203.1" y="51.60" width="36.4" height="6.80" fill="url(#cg24)"/><rect x="238.8" y="51.60" width="39.3" height="6.80" fill="url(#cg25)"/><rect x="277.5" y="51.60" width="42.5" height="6.80" fill="url(#cg26)"/><rect x="319.5" y="51.60" width="31.7" height="6.80" fill="url(#cg27)"/><rect x="350.5" y="51.60" width="27.1" height="6.80" fill="url(#cg28)"/><rect x="377.0" y="51.60" width="31.1" height="6.80" fill="url(#cg29)"/><rect x="407.5" y="51.60" width="39.8" height="6.80" fill="url(#cg30)"/><rect x="446.7" y="51.60" width="33.5" height="6.80" fill="url(#cg31)"/><rect x="479.6" y="51.60" width="43.5" height="6.80" fill="url(#cg32)"/><rect x="9.3" y="57.80" width="29.0" height="6.80" fill="url(#cg33)"/><rect x="37.7" y="57.80" width="36.7" height="6.80" fill="url(#cg34)"/><rect x="73.8" y="57.80" width="29.2" height="6.80" fill="url(#cg35)"/><rect x="102.4" y="57.80" width="44.0" height="6.80" fill="url(#cg36)"/><rect x="145.8" y="57.80" width="34.6" height="6.80" fill="url(#cg37)"/><rect x="179.8" y="57.80" width="29.6" height="6.80" fill="url(#cg38)"/><rect x="208.9" y="57.80" width="32.4" height="6.80" fill="url(#cg39)"/><rect x="240.7" y="57.80" width="41.5" height="6.80" fill="url(#cg40)"/><rect x="281.5" y="57.80" width="32.7" height="6.80" fill="url(#cg41)"/><rect x="313.6" y="57.80" width="28.7" height="6.80" fill="url(#cg42)"/><rect x="341.7" y="57.80" width="42.1" height="6.80" fill="url(#cg43)"/><rect x="383.2" y="57.80" width="41.9" height="6.80" fill="url(#cg44)"/><rect x="424.5" y="57.80" width="24.9" height="6.80" fill="url(#cg45)"/><rect x="448.8" y="57.80" width="28.3" height="6.80" fill="url(#cg46)"/><rect x="476.5" y="57.80" width="35.3" height="6.80" fill="url(#cg47)"/><rect x="9.3" y="64.00" width="37.3" height="6.80" fill="url(#cg48)"/><rect x="46.0" y="64.00" width="38.9" height="6.80" fill="url(#cg49)"/><rect x="84.3" y="64.00" width="43.7" height="6.80" fill="url(#cg50)"/><rect x="127.4" y="64.00" width="41.4" height="6.80" fill="url(#cg51)"/><rect x="168.2" y="64.00" width="24.8" height="6.80" fill="url(#cg52)"/><rect x="192.4" y="64.00" width="43.8" height="6.80" fill="url(#cg53)"/><rect x="235.6" y="64.00" width="34.1" height="6.80" fill="url(#cg54)"/><rect x="269.1" y="64.00" width="29.4" height="6.80" fill="url(#cg55)"/><rect x="297.9" y="64.00" width="43.3" height="6.80" fill="url(#cg56)"/><rect x="340.6" y="64.00" width="24.9" height="6.80" fill="url(#cg57)"/><rect x="364.9" y="64.00" width="31.4" height="6.80" fill="url(#cg58)"/><rect x="395.7" y="64.00" width="37.1" height="6.80" fill="url(#cg59)"/><rect x="432.1" y="64.00" width="27.1" height="6.80" fill="url(#cg60)"/><rect x="458.7" y="64.00" width="26.6" height="6.80" fill="url(#cg61)"/><rect x="484.7" y="64.00" width="36.1" height="6.80" fill="url(#cg62)"/><rect x="9.3" y="70.20" width="34.6" height="6.80" fill="url(#cg63)"/><rect x="43.3" y="70.20" width="31.9" height="6.80" fill="url(#cg64)"/><rect x="74.7" y="70.20" width="32.5" height="6.80" fill="url(#cg65)"/><rect x="106.6" y="70.20" width="29.6" height="6.80" fill="url(#cg66)"/><rect x="135.6" y="70.20" width="30.3" height="6.80" fill="url(#cg67)"/><rect x="165.3" y="70.20" width="36.4" height="6.80" fill="url(#cg68)"/><rect x="201.1" y="70.20" width="33.9" height="6.80" fill="url(#cg69)"/><rect x="234.4" y="70.20" width="39.1" height="6.80" fill="url(#cg70)"/><rect x="272.9" y="70.20" width="30.7" height="6.80" fill="url(#cg71)"/><rect x="303.1" y="70.20" width="42.6" height="6.80" fill="url(#cg72)"/><rect x="345.1" y="70.20" width="32.9" height="6.80" fill="url(#cg73)"/><rect x="377.4" y="70.20" width="27.0" height="6.80" fill="url(#cg74)"/><rect x="403.8" y="70.20" width="27.5" height="6.80" fill="url(#cg75)"/><rect x="430.7" y="70.20" width="31.9" height="6.80" fill="url(#cg76)"/><rect x="462.1" y="70.20" width="29.8" height="6.80" fill="url(#cg77)"/><rect x="9.3" y="76.40" width="41.4" height="6.80" fill="url(#cg78)"/><rect x="50.1" y="76.40" width="31.8" height="6.80" fill="url(#cg79)"/><rect x="81.2" y="76.40" width="41.4" height="6.80" fill="url(#cg80)"/><rect x="122.1" y="76.40" width="42.6" height="6.80" fill="url(#cg81)"/><rect x="164.1" y="76.40" width="29.0" height="6.80" fill="url(#cg82)"/><rect x="192.5" y="76.40" width="38.1" height="6.80" fill="url(#cg83)"/><rect x="230.0" y="76.40" width="27.1" height="6.80" fill="url(#cg84)"/><rect x="256.5" y="76.40" width="43.9" height="6.80" fill="url(#cg85)"/><rect x="299.8" y="76.40" width="29.1" height="6.80" fill="url(#cg86)"/><rect x="328.3" y="76.40" width="39.6" height="6.80" fill="url(#cg87)"/><rect x="367.3" y="76.40" width="28.0" height="6.80" fill="url(#cg88)"/><rect x="394.7" y="76.40" width="32.9" height="6.80" fill="url(#cg89)"/><rect x="427.0" y="76.40" width="42.7" height="6.80" fill="url(#cg90)"/><rect x="469.1" y="76.40" width="31.0" height="6.80" fill="url(#cg91)"/><rect x="9.3" y="82.60" width="43.8" height="6.80" fill="url(#cg92)"/><rect x="52.5" y="82.60" width="44.6" height="6.80" fill="url(#cg93)"/><rect x="96.5" y="82.60" width="43.8" height="6.80" fill="url(#cg94)"/><rect x="139.7" y="82.60" width="25.9" height="6.80" fill="url(#cg95)"/><rect x="165.0" y="82.60" width="38.1" height="6.80" fill="url(#cg96)"/><rect x="202.5" y="82.60" width="38.2" height="6.80" fill="url(#cg97)"/><rect x="240.0" y="82.60" width="28.6" height="6.80" fill="url(#cg98)"/><rect x="268.1" y="82.60" width="38.3" height="6.80" fill="url(#cg99)"/><rect x="305.7" y="82.60" width="42.9" height="6.80" fill="url(#cg100)"/><rect x="348.0" y="82.60" width="31.1" height="6.80" fill="url(#cg101)"/><rect x="378.5" y="82.60" width="42.4" height="6.80" fill="url(#cg102)"/><rect x="420.3" y="82.60" width="35.7" height="6.80" fill="url(#cg103)"/><rect x="455.4" y="82.60" width="30.1" height="6.80" fill="url(#cg104)"/><rect x="484.9" y="82.60" width="27.9" height="6.80" fill="url(#cg105)"/><rect x="9.3" y="88.80" width="25.4" height="6.80" fill="url(#cg106)"/><rect x="34.1" y="88.80" width="28.3" height="6.80" fill="url(#cg107)"/><rect x="61.8" y="88.80" width="30.6" height="6.80" fill="url(#cg108)"/><rect x="91.8" y="88.80" width="26.4" height="6.80" fill="url(#cg109)"/><rect x="117.5" y="88.80" width="31.3" height="6.80" fill="url(#cg110)"/><rect x="148.2" y="88.80" width="29.9" height="6.80" fill="url(#cg111)"/><rect x="177.5" y="88.80" width="39.4" height="6.80" fill="url(#cg112)"/><rect x="216.3" y="88.80" width="42.9" height="6.80" fill="url(#cg113)"/><rect x="258.6" y="88.80" width="29.7" height="6.80" fill="url(#cg114)"/><rect x="287.7" y="88.80" width="29.2" height="6.80" fill="url(#cg115)"/><rect x="316.3" y="88.80" width="38.5" height="6.80" fill="url(#cg116)"/><rect x="354.2" y="88.80" width="33.5" height="6.80" fill="url(#cg117)"/><rect x="387.1" y="88.80" width="39.2" height="6.80" fill="url(#cg118)"/><rect x="425.7" y="88.80" width="38.9" height="6.80" fill="url(#cg119)"/><rect x="464.0" y="88.80" width="44.4" height="6.80" fill="url(#cg120)"/></g></g></svg></div><svg class="ab" style="left:0;top:0;overflow:visible;will-change:transform" width="750" height="805" viewBox="0 0 750 805"><path d="M88.95 195.00v-4.0M88.95 6.50v4.0M126.85 195.00v-4.0M126.85 6.50v4.0M164.75 195.00v-4.0M164.75 6.50v4.0M202.65 195.00v-4.0M202.65 6.50v4.0M240.55 195.00v-4.0M240.55 6.50v4.0M70.00 25.35h4.0M259.50 25.35h-4.0M70.00 63.05h4.0M259.50 63.05h-4.0M70.00 100.75h4.0M259.50 100.75h-4.0M70.00 138.45h4.0M259.50 138.45h-4.0M70.00 176.15h4.0M259.50 176.15h-4.0" stroke="#222" stroke-width="1" fill="none"/><path d="M322.90 195.00v-4.0M322.90 6.50v4.0M360.70 195.00v-4.0M360.70 6.50v4.0M398.50 195.00v-4.0M398.50 6.50v4.0M436.30 195.00v-4.0M436.30 6.50v4.0M474.10 195.00v-4.0M474.10 6.50v4.0M304.00 25.35h4.0M493.00 25.35h-4.0M304.00 63.05h4.0M493.00 63.05h-4.0M304.00 100.75h4.0M493.00 100.75h-4.0M304.00 138.45h4.0M493.00 138.45h-4.0M304.00 176.15h4.0M493.00 176.15h-4.0" stroke="#222" stroke-width="1" fill="none"/><path d="M558.40 195.00v-4.0M558.40 6.50v4.0M596.20 195.00v-4.0M596.20 6.50v4.0M634.00 195.00v-4.0M634.00 6.50v4.0M671.80 195.00v-4.0M671.80 6.50v4.0M709.60 195.00v-4.0M709.60 6.50v4.0M539.50 25.35h4.0M728.50 25.35h-4.0M539.50 63.05h4.0M728.50 63.05h-4.0M539.50 100.75h4.0M728.50 100.75h-4.0M539.50 138.45h4.0M728.50 138.45h-4.0M539.50 176.15h4.0M728.50 176.15h-4.0" stroke="#555" stroke-width="1" fill="none"/><path d="M313.50 412.90v-4.0M313.50 271.70v4.0M72.40 342.30h4.0M554.40 342.30h-4.0" stroke="#333" stroke-width="1" fill="none"/><path d="M676.70 272.50 L676.70 320.90 L661.00 324.10 L658.90 325.50 L652.60 327.60 L651.20 329.00 L658.20 329.70 L647.00 331.50 L625.30 333.90 L705.10 335.70 L648.40 336.70 L614.10 339.90 L641.40 340.90 L621.80 342.30 L655.40 344.10 L634.40 345.10 L637.20 346.90 L701.60 348.30 L675.70 352.50 L619.70 353.50 L665.20 355.60 L616.90 358.10 L666.60 360.50 L654.00 362.60 L676.70 364.00 L676.70 412.70" stroke="#0000ff" stroke-width="2.6" fill="none" stroke-linejoin="round"/><path d="M628.00 334.60 L700.00 336.20" stroke="#0000ff" stroke-width="2.2" fill="none" stroke-linejoin="round"/><path d="M616.00 340.40 L648.00 341.30 L626.00 342.70" stroke="#0000ff" stroke-width="2.2" fill="none" stroke-linejoin="round"/><path d="M622.00 354.10 L662.00 355.60 L630.00 356.40" stroke="#0000ff" stroke-width="2.2" fill="none" stroke-linejoin="round"/><path d="M620.00 358.60 L664.00 361.20 L650.00 362.40" stroke="#0000ff" stroke-width="2.2" fill="none" stroke-linejoin="round"/><path d="M645.00 332.00 L655.00 333.00" stroke="#0000ff" stroke-width="2.2" fill="none" stroke-linejoin="round"/><path d="M633.30 412.70v-4.0M633.30 272.50v4.0M680.00 412.70v-4.0M680.00 272.50v4.0M586.00 342.60h4.0M726.70 342.60h-4.0" stroke="#333" stroke-width="1" fill="none"/><svg x="72.4" y="456.3" width="482.1" height="132.7" viewBox="72.4 456.3 482.1 132.7" overflow="hidden"><path d="M72.40 478.50 L72.90 479.11 L73.40 480.92 L73.90 483.87 L74.40 487.88 L74.90 492.82 L75.40 498.55 L75.90 504.88 L76.40 511.64 L76.90 518.60 L77.40 525.56 L77.90 532.32 L78.40 538.65 L78.90 544.38 L79.40 549.32 L79.90 553.33 L80.40 556.28 L80.90 558.09 L81.40 558.70 L81.91 558.55 L82.43 558.12 L82.94 557.39 L83.45 556.39 L83.97 555.12 L84.48 553.60 L84.99 551.84 L85.51 549.87 L86.02 547.69 L86.53 545.35 L87.05 542.86 L87.56 540.25 L88.07 537.55 L88.59 534.79 L89.10 532.00 L89.61 529.21 L90.13 526.45 L90.64 523.75 L91.15 521.14 L91.67 518.65 L92.18 516.31 L92.69 514.13 L93.21 512.16 L93.72 510.40 L94.23 508.88 L94.75 507.61 L95.26 506.61 L95.77 505.88 L96.29 505.45 L96.80 505.30 L97.33 505.36 L97.85 505.56 L98.38 505.86 L98.90 506.28 L99.42 506.79 L99.95 507.37 L100.47 508.00 L101.00 508.65 L101.53 509.30 L102.05 509.93 L102.58 510.51 L103.10 511.02 L103.62 511.44 L104.15 511.74 L104.67 511.94 L105.20 512.00 L105.72 511.93 L106.23 511.72 L106.75 511.38 L107.27 510.92 L107.78 510.36 L108.30 509.70 L108.82 508.97 L109.33 508.20 L109.85 507.40 L110.37 506.60 L110.88 505.83 L111.40 505.10 L111.92 504.44 L112.43 503.88 L112.95 503.42 L113.47 503.08 L113.98 502.87 L114.50 502.80 L115.01 502.85 L115.51 503.01 L116.02 503.26 L116.53 503.62 L117.03 504.07 L117.54 504.62 L118.05 505.27 L118.56 506.00 L119.06 506.82 L119.57 507.73 L120.08 508.70 L120.58 509.75 L121.09 510.87 L121.60 512.05 L122.10 513.28 L122.61 514.55 L123.12 515.87 L123.63 517.22 L124.13 518.59 L124.64 519.99 L125.15 521.40 L125.65 522.80 L126.16 524.21 L126.67 525.61 L127.17 526.98 L127.68 528.33 L128.19 529.65 L128.70 530.92 L129.20 532.15 L129.71 533.33 L130.22 534.45 L130.72 535.50 L131.23 536.47 L131.74 537.38 L132.24 538.20 L132.75 538.93 L133.26 539.58 L133.77 540.13 L134.27 540.58 L134.78 540.94 L135.29 541.19 L135.79 541.35 L136.30 541.40 L136.81 541.34 L137.32 541.16 L137.83 540.87 L138.33 540.47 L138.84 539.96 L139.35 539.36 L139.86 538.68 L140.37 537.92 L140.88 537.11 L141.38 536.25 L141.89 535.36 L142.40 534.45 L142.91 533.54 L143.42 532.65 L143.93 531.79 L144.43 530.98 L144.94 530.22 L145.45 529.54 L145.96 528.94 L146.47 528.43 L146.97 528.03 L147.48 527.74 L147.99 527.56 L148.50 527.50 L149.03 527.58 L149.55 527.82 L150.07 528.21 L150.60 528.73 L151.12 529.37 L151.65 530.09 L152.18 530.88 L152.70 531.70 L153.22 532.52 L153.75 533.31 L154.28 534.03 L154.80 534.67 L155.33 535.19 L155.85 535.58 L156.38 535.82 L156.90 535.90 L157.40 535.86 L157.90 535.74 L158.40 535.53 L158.90 535.24 L159.40 534.88 L159.90 534.44 L160.40 533.92 L160.90 533.34 L161.40 532.68 L161.90 531.96 L162.40 531.17 L162.90 530.33 L163.40 529.44 L163.90 528.50 L164.40 527.51 L164.90 526.49 L165.40 525.44 L165.90 524.36 L166.40 523.26 L166.90 522.14 L167.40 521.01 L167.90 519.89 L168.40 518.76 L168.90 517.64 L169.40 516.54 L169.90 515.46 L170.40 514.41 L170.90 513.39 L171.40 512.40 L171.90 511.46 L172.40 510.57 L172.90 509.73 L173.40 508.94 L173.90 508.22 L174.40 507.56 L174.90 506.98 L175.40 506.46 L175.90 506.02 L176.40 505.66 L176.90 505.37 L177.40 505.16 L177.90 505.04 L178.40 505.00 L178.90 505.06 L179.41 505.22 L179.91 505.50 L180.42 505.87 L180.92 506.35 L181.42 506.91 L181.93 507.56 L182.43 508.27 L182.94 509.05 L183.44 509.87 L183.94 510.73 L184.45 511.61 L184.95 512.49 L185.46 513.37 L185.96 514.23 L186.46 515.05 L186.97 515.83 L187.47 516.54 L187.98 517.19 L188.48 517.75 L188.98 518.23 L189.49 518.60 L189.99 518.88 L190.50 519.04 L191.00 519.10 L191.53 519.03 L192.05 518.83 L192.57 518.50 L193.10 518.06 L193.62 517.52 L194.15 516.91 L194.68 516.24 L195.20 515.55 L195.72 514.86 L196.25 514.19 L196.78 513.58 L197.30 513.04 L197.83 512.60 L198.35 512.27 L198.88 512.07 L199.40 512.00 L199.91 512.06 L200.42 512.22 L200.92 512.50 L201.43 512.89 L201.94 513.38 L202.45 513.98 L202.96 514.67 L203.46 515.46 L203.97 516.33 L204.48 517.29 L204.99 518.33 L205.49 519.43 L206.00 520.59 L206.51 521.81 L207.02 523.07 L207.53 524.37 L208.03 525.70 L208.54 527.05 L209.05 528.40 L209.56 529.75 L210.07 531.10 L210.57 532.43 L211.08 533.73 L211.59 534.99 L212.10 536.21 L212.61 537.37 L213.11 538.47 L213.62 539.51 L214.13 540.47 L214.64 541.34 L215.14 542.13 L215.65 542.82 L216.16 543.42 L216.67 543.91 L217.18 544.30 L217.68 544.58 L218.19 544.74 L218.70 544.80 L219.21 544.67 L219.73 544.28 L220.24 543.64 L220.75 542.76 L221.26 541.63 L221.78 540.28 L222.29 538.72 L222.80 536.96 L223.32 535.03 L223.83 532.93 L224.34 530.70 L224.85 528.35 L225.37 525.92 L225.88 523.42 L226.39 520.88 L226.91 518.32 L227.42 515.78 L227.93 513.28 L228.45 510.85 L228.96 508.50 L229.47 506.27 L229.98 504.17 L230.50 502.24 L231.01 500.48 L231.52 498.92 L232.04 497.57 L232.55 496.44 L233.06 495.56 L233.57 494.92 L234.09 494.53 L234.60 494.40 L235.11 494.55 L235.62 494.99 L236.14 495.71 L236.65 496.70 L237.16 497.95 L237.68 499.44 L238.19 501.13 L238.70 503.00 L239.21 505.02 L239.72 507.15 L240.24 509.35 L240.75 511.60 L241.26 513.85 L241.78 516.05 L242.29 518.18 L242.80 520.20 L243.31 522.07 L243.82 523.76 L244.34 525.25 L244.85 526.50 L245.36 527.49 L245.88 528.21 L246.39 528.65 L246.90 528.80 L247.42 528.75 L247.93 528.62 L248.45 528.39 L248.97 528.09 L249.48 527.71 L250.00 527.27 L250.52 526.79 L251.03 526.28 L251.55 525.75 L252.07 525.22 L252.58 524.71 L253.10 524.23 L253.62 523.79 L254.13 523.41 L254.65 523.11 L255.17 522.88 L255.68 522.75 L256.20 522.70 L256.71 522.80 L257.22 523.10 L257.73 523.60 L258.24 524.29 L258.75 525.16 L259.26 526.20 L259.77 527.40 L260.29 528.74 L260.80 530.21 L261.31 531.79 L261.82 533.45 L262.33 535.18 L262.84 536.95 L263.35 538.75 L263.86 540.55 L264.37 542.32 L264.88 544.05 L265.39 545.71 L265.90 547.29 L266.41 548.76 L266.93 550.10 L267.44 551.30 L267.95 552.34 L268.46 553.21 L268.97 553.90 L269.48 554.40 L269.99 554.70 L270.50 554.80 L271.01 554.34 L271.52 552.95 L272.03 550.69 L272.54 547.59 L273.05 543.74 L273.56 539.24 L274.07 534.19 L274.58 528.72 L275.09 522.96 L275.60 517.05 L276.11 511.14 L276.62 505.38 L277.13 499.91 L277.64 494.86 L278.15 490.36 L278.66 486.51 L279.17 483.41 L279.68 481.15 L280.19 479.76 L280.70 479.30 L281.21 480.45 L281.71 483.83 L282.22 489.28 L282.73 496.53 L283.24 505.20 L283.74 514.87 L284.25 525.05 L284.76 535.23 L285.26 544.90 L285.77 553.57 L286.28 560.82 L286.79 566.27 L287.29 569.65 L287.80 570.80 L288.32 569.47 L288.83 565.56 L289.35 559.29 L289.86 551.04 L290.38 541.27 L290.89 530.56 L291.41 519.54 L291.92 508.83 L292.44 499.06 L292.95 490.81 L293.47 484.54 L293.98 480.63 L294.50 479.30 L295.02 479.99 L295.55 482.02 L296.07 485.34 L296.59 489.82 L297.12 495.31 L297.64 501.64 L298.16 508.57 L298.69 515.88 L299.21 523.32 L299.74 530.63 L300.26 537.56 L300.78 543.89 L301.31 549.38 L301.83 553.86 L302.35 557.18 L302.88 559.21 L303.40 559.90 L303.90 559.27 L304.40 557.41 L304.90 554.37 L305.40 550.24 L305.90 545.15 L306.40 539.25 L306.90 532.73 L307.40 525.77 L307.90 518.60 L308.40 511.43 L308.90 504.47 L309.40 497.95 L309.90 492.05 L310.40 486.96 L310.90 482.83 L311.40 479.79 L311.90 477.93 L312.40 477.30 L312.93 478.92 L313.47 483.67 L314.00 491.23 L314.53 501.07 L315.07 512.54 L315.60 524.85 L316.13 537.16 L316.67 548.62 L317.20 558.47 L317.73 566.03 L318.27 570.78 L318.80 572.40 L319.32 571.05 L319.83 567.10 L320.35 560.76 L320.86 552.40 L321.38 542.52 L321.89 531.68 L322.41 520.52 L322.92 509.68 L323.44 499.80 L323.95 491.44 L324.47 485.10 L324.98 481.15 L325.50 479.80 L326.02 480.22 L326.54 481.47 L327.06 483.51 L327.58 486.32 L328.10 489.81 L328.61 493.92 L329.13 498.55 L329.65 503.60 L330.17 508.96 L330.69 514.50 L331.21 520.10 L331.73 525.64 L332.25 531.00 L332.77 536.05 L333.29 540.68 L333.80 544.79 L334.32 548.28 L334.84 551.09 L335.36 553.13 L335.88 554.38 L336.40 554.80 L336.91 554.67 L337.42 554.29 L337.93 553.65 L338.44 552.77 L338.95 551.66 L339.46 550.32 L339.97 548.78 L340.48 547.04 L340.99 545.13 L341.50 543.07 L342.01 540.89 L342.52 538.60 L343.03 536.23 L343.54 533.80 L344.05 531.35 L344.56 528.90 L345.07 526.47 L345.58 524.10 L346.09 521.81 L346.60 519.62 L347.11 517.57 L347.62 515.66 L348.13 513.92 L348.64 512.38 L349.15 511.04 L349.66 509.93 L350.17 509.05 L350.68 508.41 L351.19 508.03 L351.70 507.90 L352.20 507.93 L352.71 508.00 L353.21 508.12 L353.72 508.29 L354.23 508.50 L354.73 508.75 L355.24 509.02 L355.74 509.32 L356.25 509.63 L356.75 509.95 L357.25 510.27 L357.76 510.58 L358.26 510.88 L358.77 511.15 L359.27 511.40 L359.78 511.61 L360.29 511.78 L360.79 511.90 L361.30 511.97 L361.80 512.00 L362.31 511.89 L362.82 511.55 L363.33 511.00 L363.84 510.25 L364.36 509.32 L364.87 508.25 L365.38 507.07 L365.89 505.80 L366.40 504.50 L366.91 503.20 L367.42 501.93 L367.93 500.75 L368.44 499.68 L368.96 498.75 L369.47 498.00 L369.98 497.45 L370.49 497.11 L371.00 497.00 L371.51 497.09 L372.01 497.37 L372.52 497.82 L373.02 498.45 L373.53 499.26 L374.03 500.23 L374.54 501.35 L375.05 502.63 L375.55 504.04 L376.06 505.58 L376.56 507.24 L377.07 509.00 L377.57 510.84 L378.08 512.75 L378.59 514.73 L379.09 516.74 L379.60 518.78 L380.10 520.82 L380.61 522.86 L381.11 524.87 L381.62 526.85 L382.13 528.76 L382.63 530.60 L383.14 532.36 L383.64 534.02 L384.15 535.56 L384.65 536.97 L385.16 538.25 L385.67 539.37 L386.17 540.34 L386.68 541.15 L387.18 541.78 L387.69 542.23 L388.19 542.51 L388.70 542.60 L389.21 542.56 L389.72 542.46 L390.23 542.28 L390.74 542.04 L391.26 541.73 L391.77 541.36 L392.28 540.93 L392.79 540.44 L393.30 539.89 L393.81 539.30 L394.32 538.66 L394.83 537.98 L395.34 537.26 L395.86 536.51 L396.37 535.74 L396.88 534.96 L397.39 534.16 L397.90 533.35 L398.41 532.54 L398.92 531.74 L399.43 530.96 L399.94 530.19 L400.46 529.44 L400.97 528.73 L401.48 528.04 L401.99 527.40 L402.50 526.81 L403.01 526.26 L403.52 525.77 L404.03 525.34 L404.54 524.97 L405.06 524.66 L405.57 524.42 L406.08 524.24 L406.59 524.14 L407.10 524.10 L407.62 524.17 L408.15 524.37 L408.68 524.71 L409.20 525.15 L409.73 525.70 L410.25 526.32 L410.78 527.00 L411.30 527.70 L411.82 528.40 L412.35 529.08 L412.88 529.70 L413.40 530.25 L413.93 530.69 L414.45 531.03 L414.98 531.23 L415.50 531.30 L416.01 531.23 L416.52 531.01 L417.03 530.66 L417.54 530.17 L418.05 529.54 L418.56 528.80 L419.07 527.95 L419.59 526.99 L420.10 525.94 L420.61 524.82 L421.12 523.63 L421.63 522.40 L422.14 521.13 L422.65 519.85 L423.16 518.57 L423.67 517.30 L424.18 516.07 L424.69 514.88 L425.20 513.76 L425.71 512.71 L426.23 511.75 L426.74 510.90 L427.25 510.16 L427.76 509.53 L428.27 509.04 L428.78 508.69 L429.29 508.47 L429.80 508.40 L430.30 508.43 L430.81 508.50 L431.31 508.62 L431.81 508.80 L432.32 509.01 L432.82 509.28 L433.32 509.58 L433.82 509.92 L434.33 510.30 L434.83 510.71 L435.33 511.15 L435.84 511.61 L436.34 512.09 L436.84 512.59 L437.35 513.09 L437.85 513.60 L438.35 514.11 L438.86 514.61 L439.36 515.11 L439.86 515.59 L440.37 516.05 L440.87 516.49 L441.37 516.90 L441.88 517.28 L442.38 517.62 L442.88 517.92 L443.38 518.19 L443.89 518.40 L444.39 518.58 L444.89 518.70 L445.40 518.77 L445.90 518.80 L446.42 518.78 L446.93 518.71 L447.45 518.61 L447.96 518.46 L448.48 518.28 L448.99 518.06 L449.51 517.81 L450.02 517.53 L450.54 517.22 L451.05 516.90 L451.57 516.56 L452.08 516.21 L452.60 515.85 L453.12 515.49 L453.63 515.14 L454.15 514.80 L454.66 514.48 L455.18 514.17 L455.69 513.89 L456.21 513.64 L456.72 513.42 L457.24 513.24 L457.75 513.09 L458.27 512.99 L458.78 512.92 L459.30 512.90 L459.80 512.94 L460.30 513.05 L460.80 513.23 L461.30 513.48 L461.80 513.80 L462.30 514.18 L462.80 514.61 L463.30 515.10 L463.80 515.62 L464.30 516.19 L464.80 516.79 L465.30 517.40 L465.80 518.03 L466.30 518.67 L466.80 519.30 L467.30 519.91 L467.80 520.51 L468.30 521.07 L468.80 521.60 L469.30 522.09 L469.80 522.52 L470.30 522.90 L470.80 523.22 L471.30 523.47 L471.80 523.65 L472.30 523.76 L472.80 523.80 L473.31 523.77 L473.81 523.67 L474.32 523.51 L474.82 523.29 L475.33 523.01 L475.84 522.66 L476.34 522.27 L476.85 521.82 L477.35 521.33 L477.86 520.80 L478.37 520.23 L478.87 519.62 L479.38 518.99 L479.88 518.34 L480.39 517.67 L480.90 516.99 L481.40 516.31 L481.91 515.63 L482.42 514.96 L482.92 514.31 L483.43 513.68 L483.93 513.08 L484.44 512.50 L484.95 511.97 L485.45 511.48 L485.96 511.03 L486.46 510.64 L486.97 510.29 L487.48 510.01 L487.98 509.79 L488.49 509.63 L488.99 509.53 L489.50 509.50 L490.00 509.55 L490.51 509.69 L491.01 509.91 L491.52 510.23 L492.02 510.63 L492.52 511.10 L493.03 511.64 L493.53 512.24 L494.04 512.89 L494.54 513.58 L495.04 514.29 L495.55 515.03 L496.05 515.77 L496.56 516.51 L497.06 517.22 L497.56 517.91 L498.07 518.56 L498.57 519.16 L499.08 519.70 L499.58 520.17 L500.08 520.57 L500.59 520.89 L501.09 521.11 L501.60 521.25 L502.10 521.30 L502.61 521.28 L503.12 521.20 L503.63 521.09 L504.14 520.92 L504.65 520.72 L505.16 520.47 L505.68 520.19 L506.19 519.87 L506.70 519.52 L507.21 519.15 L507.72 518.76 L508.23 518.35 L508.74 517.93 L509.25 517.50 L509.76 517.07 L510.27 516.65 L510.78 516.24 L511.29 515.85 L511.80 515.48 L512.31 515.13 L512.83 514.81 L513.34 514.53 L513.85 514.28 L514.36 514.08 L514.87 513.91 L515.38 513.80 L515.89 513.72 L516.40 513.70 L516.91 513.75 L517.42 513.89 L517.93 514.13 L518.44 514.45 L518.95 514.87 L519.45 515.37 L519.96 515.95 L520.47 516.60 L520.98 517.32 L521.49 518.11 L522.00 518.95 L522.51 519.84 L523.02 520.77 L523.53 521.72 L524.04 522.71 L524.55 523.70 L525.05 524.70 L525.56 525.69 L526.07 526.68 L526.58 527.63 L527.09 528.56 L527.60 529.45 L528.11 530.29 L528.62 531.08 L529.13 531.80 L529.64 532.45 L530.15 533.03 L530.65 533.53 L531.16 533.95 L531.67 534.27 L532.18 534.51 L532.69 534.65 L533.20 534.70 L533.70 534.66 L534.20 534.52 L534.70 534.31 L535.20 534.01 L535.70 533.65 L536.20 533.22 L536.70 532.73 L537.20 532.21 L537.70 531.66 L538.20 531.10 L538.70 530.54 L539.20 529.99 L539.70 529.47 L540.20 528.98 L540.70 528.55 L541.20 528.19 L541.70 527.89 L542.20 527.68 L542.70 527.54 L543.20 527.50 L543.71 527.53 L544.22 527.60 L544.74 527.73 L545.25 527.90 L545.76 528.12 L546.27 528.38 L546.78 528.68 L547.30 529.01 L547.81 529.37 L548.32 529.75 L548.83 530.14 L549.34 530.55 L549.86 530.95 L550.37 531.36 L550.88 531.75 L551.39 532.13 L551.90 532.49 L552.42 532.82 L552.93 533.12 L553.44 533.38 L553.95 533.60 L554.46 533.77 L554.98 533.90 L555.49 533.97 L556.00 534.00" stroke="#ff0000" stroke-width="2.6" fill="none" stroke-linejoin="round"/><path d="M72.40 494.74 L72.90 491.13 L73.40 487.90 L73.90 485.11 L74.40 482.77 L74.90 480.92 L75.40 479.58 L75.90 478.77 L76.40 478.50 L76.90 478.77 L77.40 479.58 L77.90 480.92 L78.40 482.77 L78.90 485.11 L79.40 487.90 L79.90 491.13 L80.40 494.74 L80.90 498.70 L81.40 502.95 L81.90 507.44 L82.40 512.13 L82.90 516.94 L83.40 521.82 L83.90 526.72 L84.40 531.56 L84.90 536.30 L85.40 540.88 L85.90 545.23 L86.40 549.31 L86.90 553.07 L87.40 556.45 L87.90 559.43 L88.40 561.96 L88.90 564.00 L89.40 565.55 L89.90 566.57 L90.40 567.06 L90.90 567.00 L91.40 566.41 L91.90 565.28 L92.40 563.63 L92.90 561.49 L93.40 558.87 L93.90 555.81 L94.40 552.35 L94.90 548.52 L95.40 544.38 L95.90 539.98 L96.40 535.37 L96.90 530.60 L97.40 525.74 L97.90 520.84 L98.40 515.97 L98.90 511.18 L99.40 506.53 L99.90 502.08 L100.40 497.88 L100.90 493.99 L101.40 490.45 L101.90 487.31 L102.40 484.60 L102.90 482.36 L103.40 480.61 L103.90 479.38 L104.40 478.67 L104.90 478.51 L105.40 478.89 L105.90 479.81 L106.40 481.25 L106.90 483.20 L107.40 485.63 L107.90 488.52 L108.40 491.82 L108.90 495.51 L109.40 499.53 L109.90 503.83 L110.40 508.37 L110.90 513.08 L111.40 517.91 L111.90 522.80 L112.40 527.69 L112.90 532.52 L113.40 537.23 L113.90 541.77 L114.40 546.07 L114.90 550.09 L115.40 553.78 L115.90 557.08 L116.40 559.97 L116.90 562.40 L117.40 564.35 L117.90 565.79 L118.40 566.71 L118.90 567.09 L119.40 566.93 L119.90 566.22 L120.40 564.99 L120.90 563.24 L121.40 561.00 L121.90 558.29 L122.40 555.15 L122.90 551.61 L123.40 547.72 L123.90 543.52 L124.40 539.07 L124.90 534.42 L125.40 529.63 L125.90 524.76 L126.40 519.86 L126.90 515.00 L127.40 510.23 L127.90 505.62 L128.40 501.22 L128.90 497.08 L129.40 493.25 L129.90 489.79 L130.40 486.73 L130.90 484.11 L131.40 481.97 L131.90 480.32 L132.40 479.19 L132.90 478.60 L133.40 478.54 L133.90 479.03 L134.40 480.05 L134.90 481.60 L135.40 483.64 L135.90 486.17 L136.40 489.15 L136.90 492.53 L137.40 496.29 L137.90 500.37 L138.40 504.72 L138.90 509.30 L139.40 514.04 L139.90 518.88 L140.40 523.78 L140.90 528.66 L141.40 533.47 L141.90 538.16 L142.40 542.65 L142.90 546.90 L143.40 550.86 L143.90 554.47 L144.40 557.70 L144.90 560.49 L145.40 562.83 L145.90 564.68 L146.40 566.02 L146.90 566.83 L147.40 567.10 L147.90 566.83 L148.40 566.02 L148.90 564.68 L149.40 562.83 L149.90 560.49 L150.40 557.70 L150.90 554.47 L151.40 550.86 L151.90 546.90 L152.40 542.65 L152.90 538.16 L153.40 533.47 L153.90 528.66 L154.40 523.78 L154.90 518.88 L155.40 514.04 L155.90 509.30 L156.40 504.72 L156.90 500.37 L157.40 496.29 L157.90 492.53 L158.40 489.15 L158.90 486.17 L159.40 483.64 L159.90 481.60 L160.40 480.05 L160.90 479.03 L161.40 478.54 L161.90 478.60 L162.40 479.19 L162.90 480.32 L163.40 481.97 L163.90 484.11 L164.40 486.73 L164.90 489.79 L165.40 493.25 L165.90 497.08 L166.40 501.22 L166.90 505.62 L167.40 510.23 L167.90 515.00 L168.40 519.86 L168.90 524.76 L169.40 529.63 L169.90 534.42 L170.40 539.07 L170.90 543.52 L171.40 547.72 L171.90 551.61 L172.40 555.15 L172.90 558.29 L173.40 561.00 L173.90 563.24 L174.40 564.99 L174.90 566.22 L175.40 566.93 L175.90 567.09 L176.40 566.71 L176.90 565.79 L177.40 564.35 L177.90 562.40 L178.40 559.97 L178.90 557.08 L179.40 553.78 L179.90 550.09 L180.40 546.07 L180.90 541.77 L181.40 537.23 L181.90 532.52 L182.40 527.69 L182.90 522.80 L183.40 517.91 L183.90 513.08 L184.40 508.37 L184.90 503.83 L185.40 499.53 L185.90 495.51 L186.40 491.82 L186.90 488.52 L187.40 485.63 L187.90 483.20 L188.40 481.25 L188.90 479.81 L189.40 478.89 L189.90 478.51 L190.40 478.67 L190.90 479.38 L191.40 480.61 L191.90 482.36 L192.40 484.60 L192.90 487.31 L193.40 490.45 L193.90 493.99 L194.40 497.88 L194.90 502.08 L195.40 506.53 L195.90 511.18 L196.40 515.97 L196.90 520.84 L197.40 525.74 L197.90 530.60 L198.40 535.37 L198.90 539.98 L199.40 544.38 L199.90 548.52 L200.40 552.35 L200.90 555.81 L201.40 558.87 L201.90 561.49 L202.40 563.63 L202.90 565.28 L203.40 566.41 L203.90 567.00 L204.40 567.06 L204.90 566.57 L205.40 565.55 L205.90 564.00 L206.40 561.96 L206.90 559.43 L207.40 556.45 L207.90 553.07 L208.40 549.31 L208.90 545.23 L209.40 540.88 L209.90 536.30 L210.40 531.56 L210.90 526.72 L211.40 521.82 L211.90 516.94 L212.40 512.13 L212.90 507.44 L213.40 502.95 L213.90 498.70 L214.40 494.74 L214.90 491.13 L215.40 487.90 L215.90 485.11 L216.40 482.77 L216.90 480.92 L217.40 479.58 L217.90 478.77 L218.40 478.50 L218.90 478.77 L219.40 479.58 L219.90 480.92 L220.40 482.77 L220.90 485.11 L221.40 487.90 L221.90 491.13 L222.40 494.74 L222.90 498.70 L223.40 502.95 L223.90 507.44 L224.40 512.13 L224.90 516.94 L225.40 521.82 L225.90 526.72 L226.40 531.56 L226.90 536.30 L227.40 540.88 L227.90 545.23 L228.40 549.31 L228.90 553.07 L229.40 556.45 L229.90 559.43 L230.40 561.96 L230.90 564.00 L231.40 565.55 L231.90 566.57 L232.40 567.06 L232.90 567.00 L233.40 566.41 L233.90 565.28 L234.40 563.63 L234.90 561.49 L235.40 558.87 L235.90 555.81 L236.40 552.35 L236.90 548.52 L237.40 544.38 L237.90 539.98 L238.40 535.37 L238.90 530.60 L239.40 525.74 L239.90 520.84 L240.40 515.97 L240.90 511.18 L241.40 506.53 L241.90 502.08 L242.40 497.88 L242.90 493.99 L243.40 490.45 L243.90 487.31 L244.40 484.60 L244.90 482.36 L245.40 480.61 L245.90 479.38 L246.40 478.67 L246.90 478.51 L247.40 478.89 L247.90 479.81 L248.40 481.25 L248.90 483.20 L249.40 485.63 L249.90 488.52 L250.40 491.82 L250.90 495.51 L251.40 499.53 L251.90 503.83 L252.40 508.37 L252.90 513.08 L253.40 517.91 L253.90 522.80 L254.40 527.69 L254.90 532.52 L255.40 537.23 L255.90 541.77 L256.40 546.07 L256.90 550.09 L257.40 553.78 L257.90 557.08 L258.40 559.97 L258.90 562.40 L259.40 564.35 L259.90 565.79 L260.40 566.71 L260.90 567.09 L261.40 566.93 L261.90 566.22 L262.40 564.99 L262.90 563.24 L263.40 561.00 L263.90 558.29 L264.40 555.15 L264.90 551.61 L265.40 547.72 L265.90 543.52 L266.40 539.07 L266.90 534.42 L267.40 529.63 L267.90 524.76 L268.40 519.86 L268.90 515.00 L269.40 510.23 L269.90 505.62 L270.40 501.22 L270.90 497.08 L271.40 493.25 L271.90 489.79 L272.40 486.73 L272.90 484.11 L273.40 481.97 L273.90 480.32 L274.40 479.19 L274.90 478.60 L275.40 478.54 L275.90 479.03 L276.40 480.05 L276.90 481.60 L277.40 483.64 L277.90 486.17 L278.40 489.15 L278.90 492.53 L279.40 496.29 L279.90 500.37 L280.40 504.72 L280.90 509.30 L281.40 514.04 L281.90 518.88 L282.40 523.78 L282.90 528.66 L283.40 533.47 L283.90 538.16 L284.40 542.65 L284.90 546.90 L285.40 550.86 L285.90 554.47 L286.40 557.70 L286.90 560.49 L287.40 562.83 L287.90 564.68 L288.40 566.02 L288.90 566.83 L289.40 567.10 L289.90 566.83 L290.40 566.02 L290.90 564.68 L291.40 562.83 L291.90 560.49 L292.40 557.70 L292.90 554.47 L293.40 550.86 L293.90 546.90 L294.40 542.65 L294.90 538.16 L295.40 533.47 L295.90 528.66 L296.40 523.78 L296.90 518.88 L297.40 514.04 L297.90 509.30 L298.40 504.72 L298.90 500.37 L299.40 496.29 L299.90 492.53 L300.40 489.15 L300.90 486.17 L301.40 483.64 L301.90 481.60 L302.40 480.05 L302.90 479.03 L303.40 478.54 L303.90 478.60 L304.40 479.19 L304.90 480.32 L305.40 481.97 L305.90 484.11 L306.40 486.73 L306.90 489.79 L307.40 493.25 L307.90 497.08 L308.40 501.22 L308.90 505.62 L309.40 510.23 L309.90 515.00 L310.40 519.86 L310.90 524.76 L311.40 529.63 L311.90 534.42 L312.40 539.07 L312.90 543.52 L313.40 547.72 L313.90 551.61 L314.40 555.15 L314.90 558.29 L315.40 561.00 L315.90 563.24 L316.40 564.99 L316.90 566.22 L317.40 566.93 L317.90 567.09 L318.40 566.71 L318.90 565.79 L319.40 564.35 L319.90 562.40 L320.40 559.97 L320.90 557.08 L321.40 553.78 L321.90 550.09 L322.40 546.07 L322.90 541.77 L323.40 537.23 L323.90 532.52 L324.40 527.69 L324.90 522.80 L325.40 517.91 L325.90 513.08 L326.40 508.37 L326.90 503.83 L327.40 499.53 L327.90 495.51 L328.40 491.82 L328.90 488.52 L329.40 485.63 L329.90 483.20 L330.40 481.25 L330.90 479.81 L331.40 478.89 L331.90 478.51 L332.40 478.67 L332.90 479.38 L333.40 480.61 L333.90 482.36 L334.40 484.60 L334.90 487.31 L335.40 490.45 L335.90 493.99 L336.40 497.88 L336.90 502.08 L337.40 506.53 L337.90 511.18 L338.40 515.97 L338.90 520.84 L339.40 525.74 L339.90 530.60 L340.40 535.37 L340.90 539.98 L341.40 544.38 L341.90 548.52 L342.40 552.35 L342.90 555.81 L343.40 558.87 L343.90 561.49 L344.40 563.63 L344.90 565.28 L345.40 566.41 L345.90 567.00 L346.40 567.06 L346.90 566.57 L347.40 565.55 L347.90 564.00 L348.40 561.96 L348.90 559.43 L349.40 556.45 L349.90 553.07 L350.40 549.31 L350.90 545.23 L351.40 540.88 L351.90 536.30 L352.40 531.56 L352.90 526.72 L353.40 521.82 L353.90 516.94 L354.40 512.13 L354.90 507.44 L355.40 502.95 L355.90 498.70 L356.40 494.74 L356.90 491.13 L357.40 487.90 L357.90 485.11 L358.40 482.77 L358.90 480.92 L359.40 479.58 L359.90 478.77 L360.40 478.50 L360.90 478.77 L361.40 479.58 L361.90 480.92 L362.40 482.77 L362.90 485.11 L363.40 487.90 L363.90 491.13 L364.40 494.74 L364.90 498.70 L365.40 502.95 L365.90 507.44 L366.40 512.13 L366.90 516.94 L367.40 521.82 L367.90 526.72 L368.40 531.56 L368.90 536.30 L369.40 540.88 L369.90 545.23 L370.40 549.31 L370.90 553.07 L371.40 556.45 L371.90 559.43 L372.40 561.96 L372.90 564.00 L373.40 565.55 L373.90 566.57 L374.40 567.06 L374.90 567.00 L375.40 566.41 L375.90 565.28 L376.40 563.63 L376.90 561.49 L377.40 558.87 L377.90 555.81 L378.40 552.35 L378.90 548.52 L379.40 544.38 L379.90 539.98 L380.40 535.37 L380.90 530.60 L381.40 525.74 L381.90 520.84 L382.40 515.97 L382.90 511.18 L383.40 506.53 L383.90 502.08 L384.40 497.88 L384.90 493.99 L385.40 490.45 L385.90 487.31 L386.40 484.60 L386.90 482.36 L387.40 480.61 L387.90 479.38 L388.40 478.67 L388.90 478.51 L389.40 478.89 L389.90 479.81 L390.40 481.25 L390.90 483.20 L391.40 485.63 L391.90 488.52 L392.40 491.82 L392.90 495.51 L393.40 499.53 L393.90 503.83 L394.40 508.37 L394.90 513.08 L395.40 517.91 L395.90 522.80 L396.40 527.69 L396.90 532.52 L397.40 537.23 L397.90 541.77 L398.40 546.07 L398.90 550.09 L399.40 553.78 L399.90 557.08 L400.40 559.97 L400.90 562.40 L401.40 564.35 L401.90 565.79 L402.40 566.71 L402.90 567.09 L403.40 566.93 L403.90 566.22 L404.40 564.99 L404.90 563.24 L405.40 561.00 L405.90 558.29 L406.40 555.15 L406.90 551.61 L407.40 547.72 L407.90 543.52 L408.40 539.07 L408.90 534.42 L409.40 529.63 L409.90 524.76 L410.40 519.86 L410.90 515.00 L411.40 510.23 L411.90 505.62 L412.40 501.22 L412.90 497.08 L413.40 493.25 L413.90 489.79 L414.40 486.73 L414.90 484.11 L415.40 481.97 L415.90 480.32 L416.40 479.19 L416.90 478.60 L417.40 478.54 L417.90 479.03 L418.40 480.05 L418.90 481.60 L419.40 483.64 L419.90 486.17 L420.40 489.15 L420.90 492.53 L421.40 496.29 L421.90 500.37 L422.40 504.72 L422.90 509.30 L423.40 514.04 L423.90 518.88 L424.40 523.78 L424.90 528.66 L425.40 533.47 L425.90 538.16 L426.40 542.65 L426.90 546.90 L427.40 550.86 L427.90 554.47 L428.40 557.70 L428.90 560.49 L429.40 562.83 L429.90 564.68 L430.40 566.02 L430.90 566.83 L431.40 567.10 L431.90 566.83 L432.40 566.02 L432.90 564.68 L433.40 562.83 L433.90 560.49 L434.40 557.70 L434.90 554.47 L435.40 550.86 L435.90 546.90 L436.40 542.65 L436.90 538.16 L437.40 533.47 L437.90 528.66 L438.40 523.78 L438.90 518.88 L439.40 514.04 L439.90 509.30 L440.40 504.72 L440.90 500.37 L441.40 496.29 L441.90 492.53 L442.40 489.15 L442.90 486.17 L443.40 483.64 L443.90 481.60 L444.40 480.05 L444.90 479.03 L445.40 478.54 L445.90 478.60 L446.40 479.19 L446.90 480.32 L447.40 481.97 L447.90 484.11 L448.40 486.73 L448.90 489.79 L449.40 493.25 L449.90 497.08 L450.40 501.22 L450.90 505.62 L451.40 510.23 L451.90 515.00 L452.40 519.86 L452.90 524.76 L453.40 529.63 L453.90 534.42 L454.40 539.07 L454.90 543.52 L455.40 547.72 L455.90 551.61 L456.40 555.15 L456.90 558.29 L457.40 561.00 L457.90 563.24 L458.40 564.99 L458.90 566.22 L459.40 566.93 L459.90 567.09 L460.40 566.71 L460.90 565.79 L461.40 564.35 L461.90 562.40 L462.40 559.97 L462.90 557.08 L463.40 553.78 L463.90 550.09 L464.40 546.07 L464.90 541.77 L465.40 537.23 L465.90 532.52 L466.40 527.69 L466.90 522.80 L467.40 517.91 L467.90 513.08 L468.40 508.37 L468.90 503.83 L469.40 499.53 L469.90 495.51 L470.40 491.82 L470.90 488.52 L471.40 485.63 L471.90 483.20 L472.40 481.25 L472.90 479.81 L473.40 478.89 L473.90 478.51 L474.40 478.67 L474.90 479.38 L475.40 480.61 L475.90 482.36 L476.40 484.60 L476.90 487.31 L477.40 490.45 L477.90 493.99 L478.40 497.88 L478.90 502.08 L479.40 506.53 L479.90 511.18 L480.40 515.97 L480.90 520.84 L481.40 525.74 L481.90 530.60 L482.40 535.37 L482.90 539.98 L483.40 544.38 L483.90 548.52 L484.40 552.35 L484.90 555.81 L485.40 558.87 L485.90 561.49 L486.40 563.63 L486.90 565.28 L487.40 566.41 L487.90 567.00 L488.40 567.06 L488.90 566.57 L489.40 565.55 L489.90 564.00 L490.40 561.96 L490.90 559.43 L491.40 556.45 L491.90 553.07 L492.40 549.31 L492.90 545.23 L493.40 540.88 L493.90 536.30 L494.40 531.56 L494.90 526.72 L495.40 521.82 L495.90 516.94 L496.40 512.13 L496.90 507.44 L497.40 502.95 L497.90 498.70 L498.40 494.74 L498.90 491.13 L499.40 487.90 L499.90 485.11 L500.40 482.77 L500.90 480.92 L501.40 479.58 L501.90 478.77 L502.40 478.50 L502.90 478.77 L503.40 479.58 L503.90 480.92 L504.40 482.77 L504.90 485.11 L505.40 487.90 L505.90 491.13 L506.40 494.74 L506.90 498.70 L507.40 502.95 L507.90 507.44 L508.40 512.13 L508.90 516.94 L509.40 521.82 L509.90 526.72 L510.40 531.56 L510.90 536.30 L511.40 540.88 L511.90 545.23 L512.40 549.31 L512.90 553.07 L513.40 556.45 L513.90 559.43 L514.40 561.96 L514.90 564.00 L515.40 565.55 L515.90 566.57 L516.40 567.06 L516.90 567.00 L517.40 566.41 L517.90 565.28 L518.40 563.63 L518.90 561.49 L519.40 558.87 L519.90 555.81 L520.40 552.35 L520.90 548.52 L521.40 544.38 L521.90 539.98 L522.40 535.37 L522.90 530.60 L523.40 525.74 L523.90 520.84 L524.40 515.97 L524.90 511.18 L525.40 506.53 L525.90 502.08 L526.40 497.88 L526.90 493.99 L527.40 490.45 L527.90 487.31 L528.40 484.60 L528.90 482.36 L529.40 480.61 L529.90 479.38 L530.40 478.67 L530.90 478.51 L531.40 478.89 L531.90 479.81 L532.40 481.25 L532.90 483.20 L533.40 485.63 L533.90 488.52 L534.40 491.82 L534.90 495.51 L535.40 499.53 L535.90 503.83 L536.40 508.37 L536.90 513.08 L537.40 517.91 L537.90 522.80 L538.40 527.69 L538.90 532.52 L539.40 537.23 L539.90 541.77 L540.40 546.07 L540.90 550.09 L541.40 553.78 L541.90 557.08 L542.40 559.97 L542.90 562.40 L543.40 564.35 L543.90 565.79 L544.40 566.71 L544.90 567.09 L545.40 566.93 L545.90 566.22 L546.40 564.99 L546.90 563.24 L547.40 561.00 L547.90 558.29 L548.40 555.15 L548.90 551.61 L549.40 547.72 L549.90 543.52 L550.40 539.07 L550.90 534.42 L551.40 529.63 L551.90 524.76 L552.40 519.86 L552.90 515.00 L553.40 510.23 L553.90 505.62 L554.40 501.22 L554.90 497.08" stroke="#0000ff" stroke-width="2.6" fill="none"/></svg><path d="M313.50 589.00v-4.0M313.50 456.30v4.0M72.40 477.70h4.0M554.50 477.70h-4.0M72.40 522.10h4.0M554.50 522.10h-4.0M72.40 566.60h4.0M554.50 566.60h-4.0" stroke="#333" stroke-width="1" fill="none"/><svg x="72.4" y="627.4" width="481.8" height="131.9" viewBox="72.4 627.4 481.8 131.9" overflow="hidden"><path d="M72.50 639.80 L73.01 640.20 L73.51 641.40 L74.02 643.38 L74.53 646.12 L75.04 649.57 L75.54 653.70 L76.05 658.44 L76.56 663.73 L77.07 669.50 L77.57 675.67 L78.08 682.16 L78.59 688.89 L79.10 695.75 L79.60 702.65 L80.11 709.51 L80.62 716.24 L81.13 722.73 L81.63 728.90 L82.14 734.67 L82.65 739.96 L83.16 744.70 L83.66 748.83 L84.17 752.28 L84.68 755.02 L85.19 757.00 L85.69 758.20 L86.20 758.60 L86.70 758.30 L87.20 757.39 L87.70 755.90 L88.20 753.83 L88.70 751.23 L89.20 748.12 L89.70 744.54 L90.20 740.55 L90.70 736.20 L91.20 731.54 L91.70 726.65 L92.20 721.58 L92.70 716.40 L93.20 711.20 L93.70 706.02 L94.20 700.95 L94.70 696.06 L95.20 691.40 L95.70 687.05 L96.20 683.06 L96.70 679.48 L97.20 676.37 L97.70 673.77 L98.20 671.70 L98.70 670.21 L99.20 669.30 L99.70 669.00 L100.23 669.14 L100.75 669.56 L101.28 670.22 L101.80 671.07 L102.33 672.08 L102.85 673.15 L103.38 674.22 L103.90 675.22 L104.42 676.08 L104.95 676.74 L105.47 677.16 L106.00 677.30 L106.50 677.23 L107.00 677.01 L107.50 676.66 L108.00 676.18 L108.50 675.59 L109.00 674.90 L109.50 674.14 L110.00 673.33 L110.50 672.50 L111.00 671.67 L111.50 670.86 L112.00 670.10 L112.50 669.41 L113.00 668.82 L113.50 668.34 L114.00 667.99 L114.50 667.77 L115.00 667.70 L115.51 667.94 L116.03 668.65 L116.54 669.82 L117.06 671.44 L117.57 673.49 L118.09 675.95 L118.60 678.77 L119.11 681.93 L119.63 685.39 L120.14 689.10 L120.66 693.02 L121.17 697.09 L121.69 701.27 L122.20 705.50 L122.71 709.73 L123.23 713.91 L123.74 717.98 L124.26 721.90 L124.77 725.61 L125.29 729.07 L125.80 732.23 L126.31 735.05 L126.83 737.51 L127.34 739.56 L127.86 741.18 L128.37 742.35 L128.89 743.06 L129.40 743.30 L129.90 742.98 L130.41 742.04 L130.91 740.48 L131.42 738.33 L131.92 735.62 L132.42 732.40 L132.93 728.72 L133.43 724.64 L133.94 720.22 L134.44 715.52 L134.94 710.63 L135.45 705.62 L135.95 700.58 L136.46 695.57 L136.96 690.68 L137.46 685.98 L137.97 681.56 L138.47 677.48 L138.98 673.80 L139.48 670.58 L139.98 667.87 L140.49 665.72 L140.99 664.16 L141.50 663.22 L142.00 662.90 L142.51 663.05 L143.02 663.51 L143.54 664.25 L144.05 665.25 L144.56 666.48 L145.07 667.89 L145.58 669.44 L146.09 671.07 L146.61 672.73 L147.12 674.36 L147.63 675.91 L148.14 677.32 L148.65 678.55 L149.16 679.55 L149.68 680.29 L150.19 680.75 L150.70 680.90 L151.22 680.72 L151.75 680.19 L152.27 679.33 L152.80 678.18 L153.32 676.77 L153.85 675.16 L154.38 673.41 L154.90 671.60 L155.42 669.79 L155.95 668.04 L156.47 666.43 L157.00 665.02 L157.53 663.87 L158.05 663.01 L158.57 662.48 L159.10 662.30 L159.61 662.61 L160.12 663.56 L160.62 665.11 L161.13 667.25 L161.64 669.95 L162.15 673.16 L162.65 676.85 L163.16 680.96 L163.67 685.42 L164.18 690.18 L164.68 695.16 L165.19 700.29 L165.70 705.50 L166.21 710.71 L166.72 715.84 L167.22 720.82 L167.73 725.58 L168.24 730.04 L168.75 734.15 L169.25 737.84 L169.76 741.05 L170.27 743.75 L170.78 745.89 L171.28 747.44 L171.79 748.39 L172.30 748.70 L172.81 748.45 L173.31 747.69 L173.82 746.44 L174.33 744.72 L174.83 742.53 L175.34 739.91 L175.85 736.89 L176.36 733.50 L176.86 729.79 L177.37 725.79 L177.88 721.55 L178.38 717.13 L178.89 712.57 L179.40 707.93 L179.90 703.27 L180.41 698.63 L180.92 694.07 L181.42 689.65 L181.93 685.41 L182.44 681.41 L182.94 677.70 L183.45 674.31 L183.96 671.29 L184.47 668.67 L184.97 666.48 L185.48 664.76 L185.99 663.51 L186.49 662.75 L187.00 662.50 L187.52 662.66 L188.03 663.12 L188.55 663.87 L189.07 664.90 L189.58 666.16 L190.10 667.62 L190.62 669.24 L191.13 670.97 L191.65 672.75 L192.17 674.53 L192.68 676.26 L193.20 677.88 L193.72 679.34 L194.23 680.60 L194.75 681.63 L195.27 682.38 L195.78 682.84 L196.30 683.00 L196.81 682.77 L197.33 682.11 L197.84 681.04 L198.36 679.61 L198.87 677.90 L199.39 676.00 L199.90 674.00 L200.41 672.00 L200.93 670.10 L201.44 668.39 L201.96 666.96 L202.47 665.89 L202.99 665.23 L203.50 665.00 L204.00 665.28 L204.50 666.11 L205.00 667.47 L205.50 669.36 L206.00 671.74 L206.50 674.59 L207.00 677.86 L207.50 681.52 L208.00 685.50 L208.50 689.76 L209.00 694.24 L209.50 698.88 L210.00 703.62 L210.50 708.38 L211.00 713.12 L211.50 717.76 L212.00 722.24 L212.50 726.50 L213.00 730.48 L213.50 734.14 L214.00 737.41 L214.50 740.26 L215.00 742.64 L215.50 744.53 L216.00 745.89 L216.50 746.72 L217.00 747.00 L217.50 746.66 L218.01 745.65 L218.51 743.98 L219.02 741.68 L219.52 738.79 L220.02 735.35 L220.53 731.41 L221.03 727.04 L221.54 722.31 L222.04 717.29 L222.54 712.06 L223.05 706.70 L223.55 701.30 L224.06 695.94 L224.56 690.71 L225.06 685.69 L225.57 680.96 L226.07 676.59 L226.58 672.65 L227.08 669.21 L227.58 666.32 L228.09 664.02 L228.59 662.35 L229.10 661.34 L229.60 661.00 L230.11 661.19 L230.62 661.77 L231.14 662.72 L231.65 663.99 L232.16 665.55 L232.67 667.35 L233.18 669.32 L233.69 671.39 L234.21 673.51 L234.72 675.58 L235.23 677.55 L235.74 679.35 L236.25 680.91 L236.76 682.18 L237.28 683.13 L237.79 683.71 L238.30 683.90 L238.82 683.72 L239.33 683.17 L239.85 682.27 L240.37 681.06 L240.88 679.56 L241.40 677.83 L241.92 675.91 L242.43 673.86 L242.95 671.75 L243.47 669.64 L243.98 667.59 L244.50 665.68 L245.02 663.94 L245.53 662.44 L246.05 661.23 L246.57 660.33 L247.08 659.78 L247.60 659.60 L248.10 659.94 L248.61 660.94 L249.11 662.60 L249.62 664.89 L250.12 667.76 L250.62 671.19 L251.13 675.10 L251.63 679.44 L252.14 684.15 L252.64 689.14 L253.14 694.34 L253.65 699.67 L254.15 705.03 L254.66 710.36 L255.16 715.56 L255.66 720.55 L256.17 725.26 L256.67 729.60 L257.18 733.51 L257.68 736.94 L258.18 739.81 L258.69 742.10 L259.19 743.76 L259.70 744.76 L260.20 745.10 L260.71 744.84 L261.23 744.07 L261.74 742.80 L262.26 741.04 L262.77 738.82 L263.29 736.17 L263.80 733.11 L264.31 729.68 L264.83 725.94 L265.34 721.92 L265.86 717.67 L266.37 713.26 L266.89 708.73 L267.40 704.15 L267.91 699.57 L268.43 695.04 L268.94 690.63 L269.46 686.38 L269.97 682.36 L270.49 678.62 L271.00 675.19 L271.51 672.13 L272.03 669.48 L272.54 667.26 L273.06 665.50 L273.57 664.23 L274.09 663.46 L274.60 663.20 L275.12 663.37 L275.64 663.86 L276.16 664.66 L276.68 665.73 L277.20 667.02 L277.72 668.49 L278.24 670.05 L278.76 671.65 L279.28 673.21 L279.80 674.67 L280.32 675.97 L280.84 677.04 L281.36 677.84 L281.88 678.33 L282.40 678.50 L282.90 678.38 L283.40 678.01 L283.90 677.41 L284.40 676.60 L284.90 675.61 L285.40 674.45 L285.90 673.17 L286.40 671.81 L286.90 670.40 L287.40 668.99 L287.90 667.63 L288.40 666.35 L288.90 665.19 L289.40 664.20 L289.90 663.39 L290.40 662.79 L290.90 662.42 L291.40 662.30 L291.92 662.62 L292.43 663.57 L292.95 665.14 L293.47 667.30 L293.98 670.02 L294.50 673.24 L295.02 676.91 L295.53 680.97 L296.05 685.36 L296.57 689.98 L297.08 694.77 L297.60 699.65 L298.12 704.53 L298.63 709.32 L299.15 713.94 L299.67 718.32 L300.18 722.39 L300.70 726.06 L301.22 729.28 L301.73 732.00 L302.25 734.16 L302.77 735.73 L303.28 736.68 L303.80 737.00 L304.30 736.74 L304.81 735.98 L305.31 734.71 L305.81 732.96 L306.32 730.75 L306.82 728.11 L307.33 725.08 L307.83 721.69 L308.33 718.00 L308.84 714.05 L309.34 709.90 L309.84 705.60 L310.35 701.21 L310.85 696.79 L311.36 692.40 L311.86 688.10 L312.36 683.95 L312.87 680.00 L313.37 676.31 L313.87 672.92 L314.38 669.89 L314.88 667.25 L315.39 665.04 L315.89 663.29 L316.39 662.02 L316.90 661.26 L317.40 661.00 L317.92 661.19 L318.45 661.76 L318.97 662.68 L319.50 663.91 L320.02 665.42 L320.55 667.14 L321.07 669.01 L321.60 670.95 L322.12 672.89 L322.65 674.76 L323.18 676.48 L323.70 677.99 L324.23 679.22 L324.75 680.14 L325.28 680.71 L325.80 680.90 L326.31 680.72 L326.82 680.19 L327.34 679.33 L327.85 678.18 L328.36 676.77 L328.88 675.16 L329.39 673.41 L329.90 671.60 L330.41 669.79 L330.93 668.04 L331.44 666.43 L331.95 665.02 L332.46 663.87 L332.98 663.01 L333.49 662.48 L334.00 662.30 L334.52 662.58 L335.03 663.42 L335.55 664.81 L336.06 666.72 L336.58 669.13 L337.10 671.99 L337.61 675.26 L338.13 678.89 L338.64 682.83 L339.16 687.00 L339.68 691.35 L340.19 695.81 L340.71 700.29 L341.22 704.75 L341.74 709.10 L342.26 713.27 L342.77 717.21 L343.29 720.84 L343.80 724.11 L344.32 726.97 L344.84 729.38 L345.35 731.29 L345.87 732.68 L346.38 733.52 L346.90 733.80 L347.40 733.58 L347.91 732.91 L348.41 731.81 L348.91 730.29 L349.42 728.37 L349.92 726.07 L350.42 723.42 L350.93 720.45 L351.43 717.21 L351.94 713.73 L352.44 710.06 L352.94 706.24 L353.45 702.32 L353.95 698.35 L354.45 694.38 L354.96 690.46 L355.46 686.64 L355.96 682.97 L356.47 679.49 L356.97 676.25 L357.48 673.28 L357.98 670.63 L358.48 668.33 L358.99 666.41 L359.49 664.89 L359.99 663.79 L360.50 663.12 L361.00 662.90 L361.53 663.07 L362.05 663.57 L362.58 664.39 L363.11 665.48 L363.63 666.80 L364.16 668.29 L364.69 669.88 L365.21 671.52 L365.74 673.11 L366.27 674.60 L366.79 675.92 L367.32 677.01 L367.85 677.83 L368.37 678.33 L368.90 678.50 L369.41 678.37 L369.91 677.97 L370.42 677.34 L370.92 676.48 L371.43 675.43 L371.94 674.24 L372.44 672.95 L372.95 671.60 L373.46 670.25 L373.96 668.96 L374.47 667.77 L374.98 666.72 L375.48 665.86 L375.99 665.23 L376.49 664.83 L377.00 664.70 L377.50 664.94 L378.00 665.66 L378.50 666.85 L379.00 668.50 L379.50 670.57 L380.00 673.05 L380.50 675.90 L381.00 679.08 L381.50 682.55 L382.00 686.26 L382.50 690.16 L383.00 694.20 L383.50 698.32 L384.00 702.48 L384.50 706.60 L385.00 710.64 L385.50 714.54 L386.00 718.25 L386.50 721.72 L387.00 724.90 L387.50 727.75 L388.00 730.23 L388.50 732.30 L389.00 733.95 L389.50 735.14 L390.00 735.86 L390.50 736.10 L391.00 735.84 L391.51 735.05 L392.01 733.76 L392.52 731.98 L393.02 729.73 L393.52 727.05 L394.03 723.97 L394.53 720.55 L395.03 716.83 L395.54 712.87 L396.04 708.72 L396.55 704.44 L397.05 700.10 L397.55 695.76 L398.06 691.48 L398.56 687.33 L399.07 683.37 L399.57 679.65 L400.07 676.23 L400.58 673.15 L401.08 670.47 L401.58 668.22 L402.09 666.44 L402.59 665.15 L403.10 664.36 L403.60 664.10 L404.10 664.25 L404.60 664.68 L405.10 665.38 L405.60 666.33 L406.10 667.50 L406.60 668.84 L407.10 670.31 L407.60 671.86 L408.10 673.44 L408.60 674.99 L409.10 676.46 L409.60 677.80 L410.10 678.97 L410.60 679.92 L411.10 680.62 L411.60 681.05 L412.10 681.20 L412.61 681.01 L413.11 680.45 L413.62 679.53 L414.12 678.30 L414.63 676.80 L415.14 675.09 L415.64 673.23 L416.15 671.30 L416.66 669.37 L417.16 667.51 L417.67 665.80 L418.18 664.30 L418.68 663.07 L419.19 662.15 L419.69 661.59 L420.20 661.40 L420.71 661.65 L421.21 662.38 L421.72 663.60 L422.23 665.28 L422.74 667.40 L423.24 669.93 L423.75 672.84 L424.26 676.08 L424.77 679.62 L425.27 683.41 L425.78 687.40 L426.29 691.52 L426.80 695.73 L427.30 699.97 L427.81 704.18 L428.32 708.30 L428.83 712.29 L429.33 716.07 L429.84 719.62 L430.35 722.86 L430.86 725.77 L431.36 728.30 L431.87 730.42 L432.38 732.10 L432.89 733.32 L433.39 734.05 L433.90 734.30 L434.40 734.08 L434.91 733.41 L435.41 732.31 L435.91 730.78 L436.42 728.85 L436.92 726.54 L437.42 723.89 L437.93 720.92 L438.43 717.66 L438.94 714.17 L439.44 710.49 L439.94 706.66 L440.45 702.73 L440.95 698.75 L441.45 694.77 L441.96 690.84 L442.46 687.01 L442.96 683.33 L443.47 679.84 L443.97 676.58 L444.48 673.61 L444.98 670.96 L445.48 668.65 L445.99 666.72 L446.49 665.19 L446.99 664.09 L447.50 663.42 L448.00 663.20 L448.51 663.34 L449.01 663.76 L449.52 664.45 L450.02 665.37 L450.53 666.49 L451.04 667.77 L451.54 669.16 L452.05 670.60 L452.56 672.04 L453.06 673.43 L453.57 674.71 L454.08 675.83 L454.58 676.75 L455.09 677.44 L455.59 677.86 L456.10 678.00 L456.61 677.84 L457.13 677.36 L457.64 676.59 L458.15 675.55 L458.67 674.30 L459.18 672.89 L459.69 671.37 L460.21 669.83 L460.72 668.31 L461.23 666.90 L461.75 665.65 L462.26 664.61 L462.77 663.84 L463.29 663.36 L463.80 663.20 L464.32 663.46 L464.83 664.22 L465.35 665.48 L465.86 667.22 L466.38 669.41 L466.89 672.03 L467.41 675.02 L467.92 678.36 L468.44 681.99 L468.95 685.85 L469.47 689.90 L469.98 694.07 L470.50 698.30 L471.02 702.53 L471.53 706.70 L472.05 710.75 L472.56 714.61 L473.08 718.24 L473.59 721.58 L474.11 724.57 L474.62 727.19 L475.14 729.38 L475.65 731.12 L476.17 732.38 L476.68 733.14 L477.20 733.40 L477.70 733.14 L478.21 732.38 L478.71 731.12 L479.22 729.38 L479.72 727.19 L480.22 724.57 L480.73 721.58 L481.23 718.24 L481.73 714.61 L482.24 710.75 L482.74 706.70 L483.25 702.53 L483.75 698.30 L484.25 694.07 L484.76 689.90 L485.26 685.85 L485.77 681.99 L486.27 678.36 L486.77 675.02 L487.28 672.03 L487.78 669.41 L488.28 667.22 L488.79 665.48 L489.29 664.22 L489.80 663.46 L490.30 663.20 L490.81 663.35 L491.31 663.78 L491.82 664.49 L492.32 665.44 L492.83 666.60 L493.34 667.92 L493.84 669.36 L494.35 670.85 L494.86 672.34 L495.36 673.78 L495.87 675.10 L496.38 676.26 L496.88 677.21 L497.39 677.92 L497.89 678.35 L498.40 678.50 L498.91 678.36 L499.41 677.93 L499.92 677.24 L500.42 676.32 L500.93 675.19 L501.44 673.90 L501.94 672.50 L502.45 671.05 L502.96 669.60 L503.46 668.20 L503.97 666.91 L504.48 665.78 L504.98 664.86 L505.49 664.17 L505.99 663.74 L506.50 663.60 L507.00 663.83 L507.50 664.52 L508.00 665.65 L508.50 667.22 L509.00 669.19 L509.50 671.55 L510.00 674.27 L510.50 677.30 L511.00 680.60 L511.50 684.13 L512.00 687.85 L512.50 691.70 L513.00 695.62 L513.50 699.58 L514.00 703.50 L514.50 707.35 L515.00 711.07 L515.50 714.60 L516.00 717.90 L516.50 720.93 L517.00 723.65 L517.50 726.01 L518.00 727.98 L518.50 729.55 L519.00 730.68 L519.50 731.37 L520.00 731.60 L520.50 731.39 L521.01 730.76 L521.51 729.72 L522.01 728.29 L522.52 726.47 L523.02 724.30 L523.52 721.80 L524.03 719.01 L524.53 715.95 L525.04 712.66 L525.54 709.20 L526.04 705.59 L526.55 701.90 L527.05 698.15 L527.55 694.40 L528.06 690.71 L528.56 687.10 L529.06 683.64 L529.57 680.35 L530.07 677.29 L530.58 674.50 L531.08 672.00 L531.58 669.83 L532.09 668.01 L532.59 666.58 L533.09 665.54 L533.60 664.91 L534.10 664.70 L534.63 664.86 L535.15 665.32 L535.68 666.08 L536.21 667.08 L536.73 668.30 L537.26 669.68 L537.79 671.15 L538.31 672.65 L538.84 674.12 L539.37 675.50 L539.89 676.72 L540.42 677.72 L540.95 678.48 L541.47 678.94 L542.00 679.10 L542.52 678.96 L543.04 678.56 L543.56 677.91 L544.08 677.04 L544.59 675.97 L545.11 674.75 L545.63 673.43 L546.15 672.05 L546.67 670.67 L547.19 669.35 L547.71 668.13 L548.22 667.06 L548.74 666.19 L549.26 665.54 L549.78 665.14 L550.30 665.00 L550.82 665.14 L551.34 665.56 L551.85 666.21 L552.37 667.05 L552.89 668.00 L553.41 669.00 L553.93 669.95 L554.45 670.79 L554.96 671.44 L555.48 671.86 L556.00 672.00" stroke="#0000ff" stroke-width="2.6" fill="none" stroke-linejoin="round"/></svg><path d="M313.30 759.30v-4.0M313.30 627.40v4.0M72.40 721.70h4.0M554.20 721.70h-4.0" stroke="#333" stroke-width="1" fill="none"/><svg x="588.5" y="455.0" width="134.4" height="134.4" viewBox="588.5 455.0 134.4 134.4" overflow="hidden"><circle cx="655.70" cy="525.88" r="47.04" stroke="#ff0000" stroke-width="2.2" fill="none"/><circle cx="656.60" cy="526.78" r="47.94" stroke="#ff0000" stroke-width="2.0" fill="none"/><circle cx="655.25" cy="524.99" r="45.70" stroke="#ff0000" stroke-width="2.0" fill="none"/><circle cx="657.04" cy="526.33" r="44.80" stroke="#ff0000" stroke-width="1.8" fill="none"/><circle cx="657.49" cy="524.54" r="42.78" stroke="#ff0000" stroke-width="1.6" fill="none"/><circle cx="655.70" cy="523.20" r="26.88" stroke="#ff0000" stroke-width="1.7" fill="none"/><circle cx="657.94" cy="524.99" r="24.64" stroke="#ff0000" stroke-width="1.7" fill="none"/><circle cx="653.46" cy="526.78" r="22.40" stroke="#ff0000" stroke-width="1.6" fill="none"/><circle cx="660.18" cy="527.68" r="21.06" stroke="#ff0000" stroke-width="1.6" fill="none"/><circle cx="656.60" cy="520.06" r="18.82" stroke="#ff0000" stroke-width="1.6" fill="none"/><circle cx="652.12" cy="522.30" r="16.58" stroke="#ff0000" stroke-width="1.5" fill="none"/><circle cx="661.08" cy="520.51" r="14.78" stroke="#ff0000" stroke-width="1.5" fill="none"/><circle cx="655.70" cy="530.36" r="17.02" stroke="#ff0000" stroke-width="1.5" fill="none"/><circle cx="658.39" cy="516.92" r="9.86" stroke="#ff0000" stroke-width="1.4" fill="none"/><circle cx="655.70" cy="532.16" r="26.88" stroke="#ff0000" stroke-width="1.6" fill="none"/><circle cx="657.49" cy="529.47" r="25.54" stroke="#ff0000" stroke-width="1.6" fill="none"/><circle cx="654.36" cy="535.74" r="22.40" stroke="#ff0000" stroke-width="1.6" fill="none"/><circle cx="657.94" cy="534.84" r="20.16" stroke="#ff0000" stroke-width="1.5" fill="none"/><circle cx="645.84" cy="528.12" r="3.58" stroke="#ff0000" stroke-width="1.4" fill="none"/><circle cx="653.01" cy="526.33" r="3.14" stroke="#ff0000" stroke-width="1.4" fill="none"/><circle cx="658.39" cy="529.47" r="3.58" stroke="#ff0000" stroke-width="1.4" fill="none"/><circle cx="650.77" cy="507.52" r="3.14" stroke="#ff0000" stroke-width="1.4" fill="none"/><circle cx="656.60" cy="511.10" r="3.58" stroke="#ff0000" stroke-width="1.4" fill="none"/><circle cx="661.08" cy="509.31" r="3.14" stroke="#ff0000" stroke-width="1.4" fill="none"/><circle cx="666.00" cy="511.10" r="3.14" stroke="#ff0000" stroke-width="1.4" fill="none"/><circle cx="671.38" cy="525.44" r="3.14" stroke="#ff0000" stroke-width="1.4" fill="none"/><circle cx="644.50" cy="535.74" r="2.69" stroke="#ff0000" stroke-width="1.3" fill="none"/><circle cx="655.3" cy="521.5" r="43.6" stroke="#0000ff" stroke-width="5.6" fill="none"/><path d="M651.7 480.9h6" stroke="#b03030" stroke-width="1.5"/></svg><path d="M610.90 589.40v-4.0M610.90 455.00v4.0M655.70 589.40v-4.0M655.70 455.00v4.0M700.50 589.40v-4.0M700.50 455.00v4.0M588.50 477.50h4.0M722.90 477.50h-4.0M588.50 522.30h4.0M722.90 522.30h-4.0M588.50 567.10h4.0M722.90 567.10h-4.0" stroke="#333" stroke-width="1" fill="none"/><svg x="588.4" y="626.0" width="134.0" height="133.4" viewBox="588.4 626.0 134.0 133.4" overflow="hidden"><path d="M608.80 692.80 a46.80 46.80 0 1 0 93.60 0 a46.80 46.80 0 1 0 -93.60 0 Z M618.10 692.80 a37.50 37.50 0 1 1 75.00 0 a37.50 37.50 0 1 1 -75.00 0 Z" fill="#000" fill-rule="evenodd"/><path d="M658.1 726.0h1.3v1.3h-1.3zM626.8 670.7h1.3v1.3h-1.3zM629.7 666.6h1.3v1.3h-1.3zM675.0 661.1h1.3v1.3h-1.3zM653.5 728.8h1.3v1.3h-1.3zM633.3 697.0h1.3v1.3h-1.3zM671.7 666.1h1.3v1.3h-1.3zM677.0 722.5h1.3v1.3h-1.3zM633.2 667.5h1.3v1.3h-1.3zM653.8 659.4h1.3v1.3h-1.3zM641.1 665.9h1.3v1.3h-1.3zM626.6 674.1h1.3v1.3h-1.3zM646.5 720.0h1.3v1.3h-1.3zM620.4 698.9h1.3v1.3h-1.3zM649.3 661.1h1.3v1.3h-1.3zM684.3 677.3h1.3v1.3h-1.3zM627.2 714.8h1.3v1.3h-1.3zM685.8 679.9h1.3v1.3h-1.3zM681.3 668.3h1.3v1.3h-1.3zM663.0 728.1h1.3v1.3h-1.3zM686.5 686.0h1.3v1.3h-1.3zM644.6 726.0h1.3v1.3h-1.3zM621.3 691.2h1.3v1.3h-1.3zM625.7 675.1h1.3v1.3h-1.3zM628.1 676.7h1.3v1.3h-1.3zM685.9 678.3h1.3v1.3h-1.3zM674.7 668.6h1.3v1.3h-1.3zM674.9 724.5h1.3v1.3h-1.3zM673.5 671.3h1.3v1.3h-1.3zM623.5 677.9h1.3v1.3h-1.3zM647.6 658.3h1.3v1.3h-1.3zM629.4 679.8h1.3v1.3h-1.3zM649.2 721.5h1.3v1.3h-1.3zM689.6 690.6h1.3v1.3h-1.3zM686.2 711.8h1.3v1.3h-1.3zM674.9 719.7h1.3v1.3h-1.3zM645.7 727.8h1.3v1.3h-1.3zM682.9 700.6h1.3v1.3h-1.3zM632.6 672.6h1.3v1.3h-1.3zM638.3 723.8h1.3v1.3h-1.3zM679.2 670.9h1.3v1.3h-1.3zM692.5 692.5h1.3v1.3h-1.3zM643.8 722.7h1.3v1.3h-1.3zM689.6 699.6h1.3v1.3h-1.3zM666.1 723.4h1.3v1.3h-1.3zM674.6 721.2h1.3v1.3h-1.3zM689.2 702.0h1.3v1.3h-1.3zM689.1 683.9h1.3v1.3h-1.3zM682.6 672.3h1.3v1.3h-1.3zM621.8 688.5h1.3v1.3h-1.3zM635.3 667.1h1.3v1.3h-1.3zM630.7 669.3h1.3v1.3h-1.3zM686.1 680.9h1.3v1.3h-1.3zM648.7 656.2h1.3v1.3h-1.3zM658.2 726.3h1.3v1.3h-1.3zM630.1 689.4h1.3v1.3h-1.3zM624.3 683.0h1.3v1.3h-1.3zM623.0 674.9h1.3v1.3h-1.3zM688.1 696.9h1.3v1.3h-1.3zM686.5 705.1h1.3v1.3h-1.3zM634.1 670.7h1.3v1.3h-1.3zM633.9 721.6h1.3v1.3h-1.3zM645.6 656.7h1.3v1.3h-1.3zM689.5 706.4h1.3v1.3h-1.3zM640.3 662.3h1.3v1.3h-1.3zM620.3 702.8h1.3v1.3h-1.3zM625.8 673.2h1.3v1.3h-1.3zM642.7 723.9h1.3v1.3h-1.3zM632.2 718.0h1.3v1.3h-1.3zM630.3 717.5h1.3v1.3h-1.3zM660.0 661.4h1.3v1.3h-1.3zM652.2 656.4h1.3v1.3h-1.3zM642.3 726.4h1.3v1.3h-1.3zM657.7 722.2h1.3v1.3h-1.3zM667.5 721.5h1.3v1.3h-1.3zM683.5 713.5h1.3v1.3h-1.3zM641.1 722.7h1.3v1.3h-1.3zM627.7 704.2h1.3v1.3h-1.3zM677.5 664.8h1.3v1.3h-1.3zM635.7 665.3h1.3v1.3h-1.3zM681.4 670.0h1.3v1.3h-1.3zM682.1 718.0h1.3v1.3h-1.3zM621.7 686.4h1.3v1.3h-1.3zM671.4 667.4h1.3v1.3h-1.3zM670.2 725.7h1.3v1.3h-1.3zM637.1 669.9h1.3v1.3h-1.3zM668.1 658.9h1.3v1.3h-1.3zM646.3 727.1h1.3v1.3h-1.3zM665.7 657.2h1.3v1.3h-1.3zM626.7 709.5h1.3v1.3h-1.3zM630.2 706.8h1.3v1.3h-1.3zM673.4 719.4h1.3v1.3h-1.3zM684.4 693.6h1.3v1.3h-1.3zM689.8 690.0h1.3v1.3h-1.3zM630.2 703.9h1.3v1.3h-1.3zM661.6 726.6h1.3v1.3h-1.3zM654.6 658.8h1.3v1.3h-1.3zM624.0 689.0h1.3v1.3h-1.3zM646.9 727.5h1.3v1.3h-1.3zM687.2 707.2h1.3v1.3h-1.3zM625.4 674.0h1.3v1.3h-1.3zM683.9 701.0h1.3v1.3h-1.3zM683.5 673.5h1.3v1.3h-1.3zM677.8 675.9h1.3v1.3h-1.3zM685.4 671.1h1.3v1.3h-1.3zM654.5 655.7h1.3v1.3h-1.3zM672.3 724.1h1.3v1.3h-1.3zM624.8 687.9h1.3v1.3h-1.3zM628.4 709.2h1.3v1.3h-1.3zM636.5 722.3h1.3v1.3h-1.3zM655.1 727.0h1.3v1.3h-1.3zM662.4 659.9h1.3v1.3h-1.3zM634.3 721.4h1.3v1.3h-1.3zM668.7 663.4h1.3v1.3h-1.3zM672.1 723.5h1.3v1.3h-1.3zM665.2 666.8h1.3v1.3h-1.3zM669.5 664.9h1.3v1.3h-1.3zM679.8 664.5h1.3v1.3h-1.3zM690.8 704.2h1.3v1.3h-1.3zM622.1 687.0h1.3v1.3h-1.3zM629.2 706.7h1.3v1.3h-1.3zM691.8 693.2h1.3v1.3h-1.3zM689.4 704.9h1.3v1.3h-1.3zM688.2 707.7h1.3v1.3h-1.3zM691.5 687.0h1.3v1.3h-1.3zM619.6 692.3h1.3v1.3h-1.3zM641.2 725.6h1.3v1.3h-1.3zM635.3 666.0h1.3v1.3h-1.3zM625.1 674.4h1.3v1.3h-1.3zM638.9 723.8h1.3v1.3h-1.3zM677.5 714.4h1.3v1.3h-1.3zM630.0 716.8h1.3v1.3h-1.3zM686.8 709.9h1.3v1.3h-1.3zM629.0 672.3h1.3v1.3h-1.3zM662.0 661.9h1.3v1.3h-1.3zM632.7 670.5h1.3v1.3h-1.3zM624.8 706.9h1.3v1.3h-1.3zM645.8 660.6h1.3v1.3h-1.3zM624.2 709.9h1.3v1.3h-1.3zM656.6 725.6h1.3v1.3h-1.3zM619.6 684.6h1.3v1.3h-1.3zM623.7 709.1h1.3v1.3h-1.3zM629.0 706.2h1.3v1.3h-1.3zM634.3 714.3h1.3v1.3h-1.3zM684.9 670.9h1.3v1.3h-1.3zM622.4 700.4h1.3v1.3h-1.3zM680.6 717.2h1.3v1.3h-1.3zM679.4 672.4h1.3v1.3h-1.3zM664.5 660.1h1.3v1.3h-1.3zM626.9 680.6h1.3v1.3h-1.3zM685.2 715.2h1.3v1.3h-1.3zM678.7 722.0h1.3v1.3h-1.3zM661.0 657.6h1.3v1.3h-1.3zM685.6 714.4h1.3v1.3h-1.3zM682.7 667.5h1.3v1.3h-1.3zM675.5 662.1h1.3v1.3h-1.3zM680.0 716.1h1.3v1.3h-1.3zM672.0 665.5h1.3v1.3h-1.3zM684.7 683.8h1.3v1.3h-1.3zM688.4 700.4h1.3v1.3h-1.3zM658.9 662.6h1.3v1.3h-1.3zM684.6 715.8h1.3v1.3h-1.3zM655.4 656.8h1.3v1.3h-1.3zM639.0 725.7h1.3v1.3h-1.3zM622.5 678.7h1.3v1.3h-1.3zM670.4 724.0h1.3v1.3h-1.3zM655.6 724.7h1.3v1.3h-1.3zM630.1 712.9h1.3v1.3h-1.3zM632.6 718.1h1.3v1.3h-1.3zM625.1 710.0h1.3v1.3h-1.3zM677.6 705.5h1.3v1.3h-1.3zM623.6 712.3h1.3v1.3h-1.3zM655.0 659.0h1.3v1.3h-1.3zM656.8 661.2h1.3v1.3h-1.3zM640.7 664.1h1.3v1.3h-1.3zM632.6 663.9h1.3v1.3h-1.3zM684.6 671.0h1.3v1.3h-1.3zM655.2 656.9h1.3v1.3h-1.3zM683.9 676.5h1.3v1.3h-1.3zM648.4 656.5h1.3v1.3h-1.3zM670.1 727.0h1.3v1.3h-1.3zM626.0 675.1h1.3v1.3h-1.3zM641.0 726.5h1.3v1.3h-1.3zM684.9 684.0h1.3v1.3h-1.3zM645.3 727.5h1.3v1.3h-1.3zM675.6 666.5h1.3v1.3h-1.3zM623.6 674.0h1.3v1.3h-1.3zM689.6 697.8h1.3v1.3h-1.3zM620.4 697.4h1.3v1.3h-1.3zM632.8 720.2h1.3v1.3h-1.3zM639.4 726.2h1.3v1.3h-1.3zM690.6 690.9h1.3v1.3h-1.3zM622.5 697.1h1.3v1.3h-1.3zM673.1 663.0h1.3v1.3h-1.3zM669.8 663.4h1.3v1.3h-1.3zM649.1 657.7h1.3v1.3h-1.3zM675.2 668.1h1.3v1.3h-1.3zM687.8 684.6h1.3v1.3h-1.3zM619.3 700.3h1.3v1.3h-1.3zM648.7 659.3h1.3v1.3h-1.3zM642.5 667.0h1.3v1.3h-1.3zM657.4 728.0h1.3v1.3h-1.3zM669.4 727.5h1.3v1.3h-1.3zM645.9 659.6h1.3v1.3h-1.3zM677.5 665.9h1.3v1.3h-1.3zM679.1 666.2h1.3v1.3h-1.3zM643.5 721.4h1.3v1.3h-1.3zM684.9 710.3h1.3v1.3h-1.3zM685.4 712.4h1.3v1.3h-1.3zM634.3 719.7h1.3v1.3h-1.3zM623.0 674.8h1.3v1.3h-1.3zM636.8 724.7h1.3v1.3h-1.3zM623.9 706.2h1.3v1.3h-1.3zM623.6 673.8h1.3v1.3h-1.3zM687.4 683.6h1.3v1.3h-1.3zM680.5 715.9h1.3v1.3h-1.3zM650.0 728.7h1.3v1.3h-1.3zM682.6 669.6h1.3v1.3h-1.3zM679.7 677.2h1.3v1.3h-1.3zM633.5 715.1h1.3v1.3h-1.3zM660.8 655.8h1.3v1.3h-1.3zM640.5 662.7h1.3v1.3h-1.3zM635.0 662.9h1.3v1.3h-1.3zM656.5 658.6h1.3v1.3h-1.3zM689.5 684.4h1.3v1.3h-1.3zM680.3 714.1h1.3v1.3h-1.3zM622.4 694.1h1.3v1.3h-1.3zM641.8 664.2h1.3v1.3h-1.3zM623.8 678.7h1.3v1.3h-1.3zM634.1 669.6h1.3v1.3h-1.3zM669.6 722.1h1.3v1.3h-1.3zM679.4 716.1h1.3v1.3h-1.3zM687.4 678.3h1.3v1.3h-1.3zM649.3 659.0h1.3v1.3h-1.3zM629.9 674.8h1.3v1.3h-1.3zM621.5 702.1h1.3v1.3h-1.3zM641.6 726.8h1.3v1.3h-1.3zM647.9 657.6h1.3v1.3h-1.3zM656.5 662.4h1.3v1.3h-1.3zM633.1 720.3h1.3v1.3h-1.3zM652.5 723.4h1.3v1.3h-1.3zM685.9 701.0h1.3v1.3h-1.3zM618.3 691.7h1.3v1.3h-1.3zM637.5 716.4h1.3v1.3h-1.3zM639.2 721.3h1.3v1.3h-1.3zM660.3 658.8h1.3v1.3h-1.3zM633.8 721.7h1.3v1.3h-1.3zM651.0 728.2h1.3v1.3h-1.3zM681.2 711.3h1.3v1.3h-1.3zM651.0 660.7h1.3v1.3h-1.3zM669.8 725.6h1.3v1.3h-1.3zM654.2 659.7h1.3v1.3h-1.3zM670.6 658.5h1.3v1.3h-1.3zM674.7 717.8h1.3v1.3h-1.3zM627.0 714.0h1.3v1.3h-1.3zM626.2 679.3h1.3v1.3h-1.3zM666.7 728.6h1.3v1.3h-1.3zM684.7 698.4h1.3v1.3h-1.3zM665.1 665.4h1.3v1.3h-1.3zM632.9 713.3h1.3v1.3h-1.3zM625.4 682.4h1.3v1.3h-1.3zM689.6 687.9h1.3v1.3h-1.3zM642.1 660.7h1.3v1.3h-1.3zM626.7 695.7h1.3v1.3h-1.3zM625.5 670.5h1.3v1.3h-1.3zM660.4 655.9h1.3v1.3h-1.3zM638.8 665.6h1.3v1.3h-1.3zM619.5 701.9h1.3v1.3h-1.3zM668.2 726.8h1.3v1.3h-1.3zM618.3 692.7h1.3v1.3h-1.3zM636.1 667.4h1.3v1.3h-1.3zM689.9 683.8h1.3v1.3h-1.3zM680.7 672.6h1.3v1.3h-1.3zM633.1 670.8h1.3v1.3h-1.3zM689.2 703.9h1.3v1.3h-1.3zM686.5 709.2h1.3v1.3h-1.3zM622.7 684.6h1.3v1.3h-1.3zM680.2 666.8h1.3v1.3h-1.3zM644.8 663.1h1.3v1.3h-1.3zM630.8 674.5h1.3v1.3h-1.3zM687.8 676.9h1.3v1.3h-1.3zM638.8 718.0h1.3v1.3h-1.3zM665.8 665.3h1.3v1.3h-1.3zM624.4 705.8h1.3v1.3h-1.3zM657.1 657.5h1.3v1.3h-1.3zM691.6 702.7h1.3v1.3h-1.3zM688.0 710.1h1.3v1.3h-1.3zM620.6 693.4h1.3v1.3h-1.3zM645.3 661.5h1.3v1.3h-1.3zM634.1 663.5h1.3v1.3h-1.3zM645.5 721.2h1.3v1.3h-1.3zM626.4 713.6h1.3v1.3h-1.3zM669.0 721.5h1.3v1.3h-1.3zM633.3 717.5h1.3v1.3h-1.3zM633.9 715.7h1.3v1.3h-1.3zM661.6 728.7h1.3v1.3h-1.3zM691.1 693.4h1.3v1.3h-1.3zM674.1 716.2h1.3v1.3h-1.3zM620.3 701.9h1.3v1.3h-1.3zM672.1 723.2h1.3v1.3h-1.3zM625.2 713.8h1.3v1.3h-1.3zM683.8 716.1h1.3v1.3h-1.3zM673.3 724.1h1.3v1.3h-1.3zM692.6 698.1h1.3v1.3h-1.3zM625.6 702.9h1.3v1.3h-1.3zM687.5 703.4h1.3v1.3h-1.3zM625.5 713.7h1.3v1.3h-1.3zM691.6 684.9h1.3v1.3h-1.3zM662.1 725.4h1.3v1.3h-1.3zM673.3 722.6h1.3v1.3h-1.3zM629.6 667.6h1.3v1.3h-1.3zM689.3 704.2h1.3v1.3h-1.3zM650.5 656.9h1.3v1.3h-1.3zM626.6 699.2h1.3v1.3h-1.3zM688.8 677.9h1.3v1.3h-1.3zM652.2 726.9h1.3v1.3h-1.3zM669.3 661.0h1.3v1.3h-1.3zM684.3 712.0h1.3v1.3h-1.3zM642.6 664.0h1.3v1.3h-1.3zM691.9 693.6h1.3v1.3h-1.3zM690.1 699.5h1.3v1.3h-1.3zM690.7 701.0h1.3v1.3h-1.3zM685.8 703.5h1.3v1.3h-1.3zM664.6 720.9h1.3v1.3h-1.3zM684.7 688.0h1.3v1.3h-1.3zM687.1 674.8h1.3v1.3h-1.3zM687.0 680.4h1.3v1.3h-1.3zM626.9 670.0h1.3v1.3h-1.3zM688.0 681.5h1.3v1.3h-1.3zM676.5 664.0h1.3v1.3h-1.3zM681.4 715.5h1.3v1.3h-1.3zM640.7 661.2h1.3v1.3h-1.3zM686.3 678.0h1.3v1.3h-1.3zM652.5 662.0h1.3v1.3h-1.3zM669.9 668.9h1.3v1.3h-1.3zM633.4 718.7h1.3v1.3h-1.3zM624.2 711.4h1.3v1.3h-1.3zM626.1 696.4h1.3v1.3h-1.3zM651.5 726.6h1.3v1.3h-1.3zM631.0 673.6h1.3v1.3h-1.3zM647.4 660.3h1.3v1.3h-1.3zM675.0 720.9h1.3v1.3h-1.3zM647.7 661.3h1.3v1.3h-1.3zM657.6 656.1h1.3v1.3h-1.3zM640.3 661.6h1.3v1.3h-1.3zM675.4 663.2h1.3v1.3h-1.3zM636.3 668.7h1.3v1.3h-1.3zM625.9 702.5h1.3v1.3h-1.3zM685.2 670.4h1.3v1.3h-1.3zM632.7 717.2h1.3v1.3h-1.3zM681.2 705.2h1.3v1.3h-1.3zM680.0 711.7h1.3v1.3h-1.3zM622.9 677.7h1.3v1.3h-1.3zM634.1 663.5h1.3v1.3h-1.3zM657.6 727.8h1.3v1.3h-1.3zM633.0 663.8h1.3v1.3h-1.3zM626.2 675.3h1.3v1.3h-1.3zM692.1 685.2h1.3v1.3h-1.3zM661.8 725.4h1.3v1.3h-1.3zM662.5 657.8h1.3v1.3h-1.3zM626.9 670.8h1.3v1.3h-1.3zM667.8 722.5h1.3v1.3h-1.3zM668.8 719.8h1.3v1.3h-1.3zM681.1 714.6h1.3v1.3h-1.3zM689.8 698.0h1.3v1.3h-1.3zM684.5 669.9h1.3v1.3h-1.3zM685.1 710.4h1.3v1.3h-1.3zM673.2 660.5h1.3v1.3h-1.3zM631.1 671.1h1.3v1.3h-1.3zM677.5 670.0h1.3v1.3h-1.3zM636.5 720.5h1.3v1.3h-1.3zM682.1 715.0h1.3v1.3h-1.3zM671.3 666.5h1.3v1.3h-1.3zM664.6 724.4h1.3v1.3h-1.3zM626.1 685.4h1.3v1.3h-1.3zM687.3 709.5h1.3v1.3h-1.3zM635.3 722.2h1.3v1.3h-1.3zM620.3 680.7h1.3v1.3h-1.3zM652.7 661.2h1.3v1.3h-1.3zM628.5 671.5h1.3v1.3h-1.3zM662.0 720.8h1.3v1.3h-1.3zM642.6 714.7h1.3v1.3h-1.3zM624.1 707.4h1.3v1.3h-1.3zM673.8 723.7h1.3v1.3h-1.3zM688.4 677.6h1.3v1.3h-1.3zM683.9 690.4h1.3v1.3h-1.3zM630.9 671.8h1.3v1.3h-1.3zM624.9 710.0h1.3v1.3h-1.3zM682.6 683.7h1.3v1.3h-1.3zM624.5 695.9h1.3v1.3h-1.3zM659.2 668.5h1.3v1.3h-1.3zM681.0 678.9h1.3v1.3h-1.3zM646.5 726.5h1.3v1.3h-1.3zM685.5 713.4h1.3v1.3h-1.3zM649.4 657.3h1.3v1.3h-1.3zM634.9 668.0h1.3v1.3h-1.3zM691.8 702.2h1.3v1.3h-1.3zM624.7 706.8h1.3v1.3h-1.3zM634.8 723.5h1.3v1.3h-1.3zM648.6 722.0h1.3v1.3h-1.3zM684.3 714.6h1.3v1.3h-1.3zM684.8 708.3h1.3v1.3h-1.3zM676.7 723.1h1.3v1.3h-1.3zM685.8 688.3h1.3v1.3h-1.3zM689.7 688.4h1.3v1.3h-1.3zM673.8 722.0h1.3v1.3h-1.3zM643.4 722.5h1.3v1.3h-1.3zM620.6 683.3h1.3v1.3h-1.3zM633.2 720.0h1.3v1.3h-1.3zM622.0 700.7h1.3v1.3h-1.3zM683.0 669.2h1.3v1.3h-1.3zM657.2 726.7h1.3v1.3h-1.3zM667.8 659.9h1.3v1.3h-1.3zM619.0 685.6h1.3v1.3h-1.3zM619.8 684.6h1.3v1.3h-1.3zM665.9 727.5h1.3v1.3h-1.3zM658.8 667.7h1.3v1.3h-1.3zM663.3 658.8h1.3v1.3h-1.3zM690.0 688.3h1.3v1.3h-1.3zM692.3 695.9h1.3v1.3h-1.3zM622.1 707.9h1.3v1.3h-1.3zM620.8 682.5h1.3v1.3h-1.3zM685.7 712.9h1.3v1.3h-1.3zM666.7 660.3h1.3v1.3h-1.3zM623.0 711.2h1.3v1.3h-1.3zM622.9 708.3h1.3v1.3h-1.3zM632.6 669.1h1.3v1.3h-1.3zM665.9 666.1h1.3v1.3h-1.3zM656.1 725.3h1.3v1.3h-1.3zM663.4 662.0h1.3v1.3h-1.3zM620.9 690.9h1.3v1.3h-1.3zM649.6 724.8h1.3v1.3h-1.3zM670.8 719.9h1.3v1.3h-1.3zM685.0 670.6h1.3v1.3h-1.3zM681.3 675.6h1.3v1.3h-1.3zM688.2 677.1h1.3v1.3h-1.3zM668.8 661.7h1.3v1.3h-1.3zM621.1 688.8h1.3v1.3h-1.3zM672.2 723.3h1.3v1.3h-1.3zM686.8 691.3h1.3v1.3h-1.3zM623.1 682.9h1.3v1.3h-1.3zM621.8 702.6h1.3v1.3h-1.3zM664.3 667.6h1.3v1.3h-1.3zM674.7 721.1h1.3v1.3h-1.3zM642.5 723.0h1.3v1.3h-1.3zM677.5 663.1h1.3v1.3h-1.3zM670.5 664.6h1.3v1.3h-1.3zM689.9 699.5h1.3v1.3h-1.3zM626.6 678.1h1.3v1.3h-1.3zM648.9 728.1h1.3v1.3h-1.3zM646.6 658.2h1.3v1.3h-1.3zM637.8 661.1h1.3v1.3h-1.3zM636.3 713.0h1.3v1.3h-1.3zM691.1 683.8h1.3v1.3h-1.3zM634.5 666.1h1.3v1.3h-1.3zM667.3 718.2h1.3v1.3h-1.3zM629.1 716.7h1.3v1.3h-1.3zM651.1 726.5h1.3v1.3h-1.3zM687.7 682.3h1.3v1.3h-1.3zM627.4 715.4h1.3v1.3h-1.3zM648.6 727.3h1.3v1.3h-1.3zM690.3 688.5h1.3v1.3h-1.3zM688.2 710.5h1.3v1.3h-1.3zM685.9 709.3h1.3v1.3h-1.3zM619.0 686.7h1.3v1.3h-1.3zM636.0 671.6h1.3v1.3h-1.3zM669.6 662.0h1.3v1.3h-1.3zM691.9 683.8h1.3v1.3h-1.3zM689.1 708.4h1.3v1.3h-1.3zM652.0 725.0h1.3v1.3h-1.3zM622.7 683.0h1.3v1.3h-1.3zM690.8 683.2h1.3v1.3h-1.3zM677.3 720.5h1.3v1.3h-1.3zM691.5 691.2h1.3v1.3h-1.3zM639.2 660.8h1.3v1.3h-1.3zM689.0 704.7h1.3v1.3h-1.3zM657.8 656.7h1.3v1.3h-1.3zM671.0 661.5h1.3v1.3h-1.3zM674.4 674.0h1.3v1.3h-1.3zM622.4 685.4h1.3v1.3h-1.3zM630.5 715.7h1.3v1.3h-1.3zM690.2 690.1h1.3v1.3h-1.3zM648.7 727.9h1.3v1.3h-1.3zM680.5 718.3h1.3v1.3h-1.3zM634.0 721.6h1.3v1.3h-1.3zM668.6 727.0h1.3v1.3h-1.3zM678.7 683.5h1.3v1.3h-1.3zM656.5 730.0h1.3v1.3h-1.3zM635.7 718.6h1.3v1.3h-1.3zM645.2 658.4h1.3v1.3h-1.3zM642.7 723.6h1.3v1.3h-1.3zM655.2 655.9h1.3v1.3h-1.3zM662.2 660.5h1.3v1.3h-1.3zM621.2 684.4h1.3v1.3h-1.3zM628.3 703.2h1.3v1.3h-1.3zM666.5 726.8h1.3v1.3h-1.3zM631.1 676.3h1.3v1.3h-1.3zM670.1 723.4h1.3v1.3h-1.3zM690.7 684.6h1.3v1.3h-1.3zM652.1 727.8h1.3v1.3h-1.3zM663.2 717.4h1.3v1.3h-1.3zM627.5 710.8h1.3v1.3h-1.3zM681.3 666.3h1.3v1.3h-1.3zM680.9 665.8h1.3v1.3h-1.3zM664.0 663.3h1.3v1.3h-1.3zM618.9 686.9h1.3v1.3h-1.3zM658.9 660.2h1.3v1.3h-1.3zM623.5 705.2h1.3v1.3h-1.3zM676.4 720.1h1.3v1.3h-1.3zM620.5 691.4h1.3v1.3h-1.3zM630.6 718.3h1.3v1.3h-1.3zM628.5 672.8h1.3v1.3h-1.3zM684.6 689.2h1.3v1.3h-1.3zM672.9 663.6h1.3v1.3h-1.3zM647.8 725.9h1.3v1.3h-1.3zM682.0 718.6h1.3v1.3h-1.3zM618.6 692.6h1.3v1.3h-1.3zM635.2 666.4h1.3v1.3h-1.3zM649.0 724.8h1.3v1.3h-1.3zM619.5 697.9h1.3v1.3h-1.3zM628.0 687.3h1.3v1.3h-1.3zM627.9 687.8h1.3v1.3h-1.3zM621.8 705.8h1.3v1.3h-1.3zM623.2 709.2h1.3v1.3h-1.3zM677.0 662.3h1.3v1.3h-1.3zM677.5 664.3h1.3v1.3h-1.3zM630.8 714.9h1.3v1.3h-1.3zM663.7 728.9h1.3v1.3h-1.3zM623.2 682.6h1.3v1.3h-1.3zM678.7 667.4h1.3v1.3h-1.3zM647.2 658.8h1.3v1.3h-1.3zM621.0 691.6h1.3v1.3h-1.3zM629.1 712.3h1.3v1.3h-1.3zM678.8 669.6h1.3v1.3h-1.3zM624.9 674.8h1.3v1.3h-1.3zM631.5 718.2h1.3v1.3h-1.3zM628.3 668.8h1.3v1.3h-1.3zM640.1 725.4h1.3v1.3h-1.3zM649.0 724.1h1.3v1.3h-1.3zM687.7 675.5h1.3v1.3h-1.3zM619.6 684.9h1.3v1.3h-1.3zM670.8 668.0h1.3v1.3h-1.3zM682.2 676.6h1.3v1.3h-1.3zM681.0 716.9h1.3v1.3h-1.3zM680.2 669.7h1.3v1.3h-1.3zM681.8 671.2h1.3v1.3h-1.3zM647.7 726.3h1.3v1.3h-1.3zM631.4 675.5h1.3v1.3h-1.3zM684.3 709.8h1.3v1.3h-1.3zM692.3 694.5h1.3v1.3h-1.3zM673.4 661.5h1.3v1.3h-1.3zM629.4 714.8h1.3v1.3h-1.3zM624.0 690.5h1.3v1.3h-1.3zM636.9 663.4h1.3v1.3h-1.3zM630.5 703.4h1.3v1.3h-1.3zM644.6 664.5h1.3v1.3h-1.3zM682.0 708.1h1.3v1.3h-1.3zM690.4 691.0h1.3v1.3h-1.3zM685.2 705.8h1.3v1.3h-1.3zM622.8 710.3h1.3v1.3h-1.3zM683.7 670.9h1.3v1.3h-1.3zM626.0 709.4h1.3v1.3h-1.3zM625.0 675.3h1.3v1.3h-1.3zM628.0 715.1h1.3v1.3h-1.3zM686.9 712.2h1.3v1.3h-1.3zM689.3 678.2h1.3v1.3h-1.3zM620.2 687.5h1.3v1.3h-1.3zM659.7 729.2h1.3v1.3h-1.3zM622.3 699.4h1.3v1.3h-1.3zM648.5 725.1h1.3v1.3h-1.3zM690.0 688.9h1.3v1.3h-1.3zM665.3 724.2h1.3v1.3h-1.3zM644.9 726.7h1.3v1.3h-1.3zM620.2 685.7h1.3v1.3h-1.3zM631.7 670.4h1.3v1.3h-1.3zM682.1 676.0h1.3v1.3h-1.3zM678.9 663.7h1.3v1.3h-1.3zM687.7 705.5h1.3v1.3h-1.3zM622.4 707.7h1.3v1.3h-1.3zM679.6 667.7h1.3v1.3h-1.3zM662.5 724.9h1.3v1.3h-1.3zM676.0 711.9h1.3v1.3h-1.3zM685.6 674.7h1.3v1.3h-1.3zM669.4 725.6h1.3v1.3h-1.3zM687.7 700.6h1.3v1.3h-1.3zM677.9 662.7h1.3v1.3h-1.3zM672.2 664.0h1.3v1.3h-1.3zM628.1 715.8h1.3v1.3h-1.3zM672.1 726.5h1.3v1.3h-1.3zM643.9 660.9h1.3v1.3h-1.3zM636.8 722.4h1.3v1.3h-1.3zM622.5 705.4h1.3v1.3h-1.3zM621.4 678.0h1.3v1.3h-1.3zM662.2 722.6h1.3v1.3h-1.3zM638.7 661.7h1.3v1.3h-1.3zM655.8 657.1h1.3v1.3h-1.3zM630.7 712.3h1.3v1.3h-1.3zM630.6 666.8h1.3v1.3h-1.3zM627.5 703.5h1.3v1.3h-1.3zM677.7 666.0h1.3v1.3h-1.3zM621.3 694.9h1.3v1.3h-1.3zM684.4 671.5h1.3v1.3h-1.3zM641.4 659.7h1.3v1.3h-1.3zM684.8 690.2h1.3v1.3h-1.3zM637.3 719.4h1.3v1.3h-1.3zM671.8 726.5h1.3v1.3h-1.3zM648.7 659.9h1.3v1.3h-1.3zM628.5 677.1h1.3v1.3h-1.3zM678.1 710.9h1.3v1.3h-1.3zM620.0 697.8h1.3v1.3h-1.3zM622.3 684.4h1.3v1.3h-1.3zM621.8 694.4h1.3v1.3h-1.3zM624.2 674.8h1.3v1.3h-1.3zM684.5 712.1h1.3v1.3h-1.3zM658.0 659.0h1.3v1.3h-1.3zM683.8 670.1h1.3v1.3h-1.3zM673.9 676.5h1.3v1.3h-1.3zM673.1 663.6h1.3v1.3h-1.3zM655.1 655.5h1.3v1.3h-1.3zM639.6 659.6h1.3v1.3h-1.3zM652.4 658.5h1.3v1.3h-1.3zM625.2 679.1h1.3v1.3h-1.3zM655.6 728.4h1.3v1.3h-1.3zM631.5 713.9h1.3v1.3h-1.3zM681.7 714.3h1.3v1.3h-1.3zM649.9 657.1h1.3v1.3h-1.3zM672.0 723.9h1.3v1.3h-1.3zM625.7 712.2h1.3v1.3h-1.3zM623.4 676.0h1.3v1.3h-1.3zM619.3 696.9h1.3v1.3h-1.3zM666.0 726.0h1.3v1.3h-1.3zM685.8 714.9h1.3v1.3h-1.3zM626.9 685.9h1.3v1.3h-1.3zM622.5 689.6h1.3v1.3h-1.3zM628.3 713.4h1.3v1.3h-1.3zM641.4 725.9h1.3v1.3h-1.3zM683.0 682.2h1.3v1.3h-1.3zM625.8 697.2h1.3v1.3h-1.3zM622.1 707.5h1.3v1.3h-1.3zM665.8 716.7h1.3v1.3h-1.3zM624.5 677.8h1.3v1.3h-1.3zM661.9 729.6h1.3v1.3h-1.3zM691.1 689.5h1.3v1.3h-1.3zM680.5 675.4h1.3v1.3h-1.3zM684.4 713.3h1.3v1.3h-1.3zM660.3 722.8h1.3v1.3h-1.3zM623.3 701.7h1.3v1.3h-1.3zM658.5 656.1h1.3v1.3h-1.3zM673.7 723.6h1.3v1.3h-1.3zM621.2 690.9h1.3v1.3h-1.3zM633.1 716.1h1.3v1.3h-1.3zM623.5 692.0h1.3v1.3h-1.3zM644.0 664.9h1.3v1.3h-1.3zM654.0 726.7h1.3v1.3h-1.3zM623.2 683.6h1.3v1.3h-1.3zM689.3 703.0h1.3v1.3h-1.3zM672.7 723.9h1.3v1.3h-1.3zM657.4 657.7h1.3v1.3h-1.3zM626.5 691.9h1.3v1.3h-1.3zM650.6 658.2h1.3v1.3h-1.3zM633.3 715.8h1.3v1.3h-1.3zM654.6 656.9h1.3v1.3h-1.3zM687.9 675.3h1.3v1.3h-1.3zM690.3 688.5h1.3v1.3h-1.3zM653.6 662.7h1.3v1.3h-1.3zM677.3 722.5h1.3v1.3h-1.3zM622.4 683.4h1.3v1.3h-1.3zM672.6 720.1h1.3v1.3h-1.3zM675.8 716.2h1.3v1.3h-1.3zM675.6 716.4h1.3v1.3h-1.3zM686.2 694.2h1.3v1.3h-1.3zM629.6 714.1h1.3v1.3h-1.3zM625.5 701.4h1.3v1.3h-1.3zM652.5 729.9h1.3v1.3h-1.3zM645.3 660.6h1.3v1.3h-1.3zM643.7 657.3h1.3v1.3h-1.3zM671.0 721.1h1.3v1.3h-1.3zM638.5 724.9h1.3v1.3h-1.3zM686.1 687.2h1.3v1.3h-1.3zM630.6 713.9h1.3v1.3h-1.3zM666.3 663.5h1.3v1.3h-1.3zM639.3 724.0h1.3v1.3h-1.3zM660.3 722.2h1.3v1.3h-1.3zM635.8 721.8h1.3v1.3h-1.3zM660.1 728.3h1.3v1.3h-1.3zM641.0 726.2h1.3v1.3h-1.3zM627.2 678.8h1.3v1.3h-1.3zM646.7 727.5h1.3v1.3h-1.3zM688.7 698.0h1.3v1.3h-1.3zM667.8 727.6h1.3v1.3h-1.3zM622.2 677.4h1.3v1.3h-1.3zM631.6 675.0h1.3v1.3h-1.3zM636.2 661.3h1.3v1.3h-1.3zM626.9 707.1h1.3v1.3h-1.3zM644.8 720.9h1.3v1.3h-1.3zM621.2 692.8h1.3v1.3h-1.3zM681.7 711.7h1.3v1.3h-1.3zM630.7 668.4h1.3v1.3h-1.3zM632.3 702.2h1.3v1.3h-1.3zM667.9 714.5h1.3v1.3h-1.3zM632.1 719.0h1.3v1.3h-1.3zM618.1 692.9h1.3v1.3h-1.3zM618.6 697.6h1.3v1.3h-1.3zM632.2 706.8h1.3v1.3h-1.3zM692.6 695.5h1.3v1.3h-1.3zM646.0 656.6h1.3v1.3h-1.3zM680.3 666.2h1.3v1.3h-1.3zM639.0 660.1h1.3v1.3h-1.3zM644.2 724.6h1.3v1.3h-1.3zM643.1 727.5h1.3v1.3h-1.3zM679.9 719.6h1.3v1.3h-1.3zM690.8 684.7h1.3v1.3h-1.3zM688.9 702.2h1.3v1.3h-1.3zM687.5 711.2h1.3v1.3h-1.3zM654.6 662.9h1.3v1.3h-1.3zM619.6 690.9h1.3v1.3h-1.3zM634.0 669.7h1.3v1.3h-1.3zM621.5 690.1h1.3v1.3h-1.3zM690.4 684.4h1.3v1.3h-1.3zM638.9 659.3h1.3v1.3h-1.3zM683.5 678.8h1.3v1.3h-1.3zM623.9 680.1h1.3v1.3h-1.3zM631.2 712.8h1.3v1.3h-1.3zM691.2 699.3h1.3v1.3h-1.3zM642.8 727.8h1.3v1.3h-1.3zM622.1 698.5h1.3v1.3h-1.3zM654.2 726.2h1.3v1.3h-1.3zM654.3 660.4h1.3v1.3h-1.3zM688.8 683.6h1.3v1.3h-1.3zM636.4 724.5h1.3v1.3h-1.3zM690.2 706.1h1.3v1.3h-1.3zM631.4 672.5h1.3v1.3h-1.3zM657.6 729.4h1.3v1.3h-1.3zM671.0 724.9h1.3v1.3h-1.3zM618.4 692.5h1.3v1.3h-1.3zM629.7 681.6h1.3v1.3h-1.3zM636.1 723.5h1.3v1.3h-1.3zM651.6 656.1h1.3v1.3h-1.3zM655.8 660.0h1.3v1.3h-1.3zM651.1 724.5h1.3v1.3h-1.3zM662.7 729.2h1.3v1.3h-1.3zM628.4 671.5h1.3v1.3h-1.3zM632.3 663.8h1.3v1.3h-1.3zM659.2 657.6h1.3v1.3h-1.3zM622.3 697.4h1.3v1.3h-1.3zM624.8 706.7h1.3v1.3h-1.3zM665.6 723.6h1.3v1.3h-1.3zM648.3 660.1h1.3v1.3h-1.3zM685.1 675.4h1.3v1.3h-1.3zM664.5 665.6h1.3v1.3h-1.3zM647.5 658.7h1.3v1.3h-1.3zM661.8 656.1h1.3v1.3h-1.3zM682.3 673.2h1.3v1.3h-1.3zM687.1 681.9h1.3v1.3h-1.3zM647.2 723.1h1.3v1.3h-1.3zM628.3 704.6h1.3v1.3h-1.3zM677.4 721.0h1.3v1.3h-1.3zM629.8 706.5h1.3v1.3h-1.3zM644.4 718.3h1.3v1.3h-1.3zM654.8 726.7h1.3v1.3h-1.3zM689.1 696.7h1.3v1.3h-1.3zM628.3 716.7h1.3v1.3h-1.3zM692.3 687.2h1.3v1.3h-1.3zM682.7 669.7h1.3v1.3h-1.3zM657.0 728.4h1.3v1.3h-1.3zM659.1 719.6h1.3v1.3h-1.3zM684.5 672.1h1.3v1.3h-1.3zM662.9 726.2h1.3v1.3h-1.3zM623.5 684.1h1.3v1.3h-1.3zM619.8 691.1h1.3v1.3h-1.3zM646.1 723.4h1.3v1.3h-1.3zM656.2 664.2h1.3v1.3h-1.3zM670.2 661.6h1.3v1.3h-1.3zM665.9 727.3h1.3v1.3h-1.3zM671.3 715.9h1.3v1.3h-1.3zM686.1 674.5h1.3v1.3h-1.3zM623.9 680.7h1.3v1.3h-1.3zM687.8 704.7h1.3v1.3h-1.3zM686.3 671.9h1.3v1.3h-1.3zM687.5 681.5h1.3v1.3h-1.3zM666.0 725.2h1.3v1.3h-1.3zM637.4 662.1h1.3v1.3h-1.3zM682.1 713.8h1.3v1.3h-1.3zM636.0 721.6h1.3v1.3h-1.3zM636.0 664.2h1.3v1.3h-1.3zM680.9 717.8h1.3v1.3h-1.3zM630.3 679.8h1.3v1.3h-1.3zM635.5 722.8h1.3v1.3h-1.3zM673.2 724.7h1.3v1.3h-1.3zM641.1 725.3h1.3v1.3h-1.3zM622.7 683.6h1.3v1.3h-1.3zM646.7 726.9h1.3v1.3h-1.3zM619.1 695.9h1.3v1.3h-1.3zM659.3 660.3h1.3v1.3h-1.3zM620.3 696.7h1.3v1.3h-1.3zM676.1 663.7h1.3v1.3h-1.3zM622.4 697.1h1.3v1.3h-1.3zM674.8 664.9h1.3v1.3h-1.3zM631.0 717.3h1.3v1.3h-1.3zM689.7 695.1h1.3v1.3h-1.3zM624.6 683.8h1.3v1.3h-1.3zM620.5 703.8h1.3v1.3h-1.3zM619.3 699.1h1.3v1.3h-1.3zM690.0 688.8h1.3v1.3h-1.3zM682.4 716.3h1.3v1.3h-1.3zM665.5 658.8h1.3v1.3h-1.3zM653.5 725.3h1.3v1.3h-1.3zM674.1 663.3h1.3v1.3h-1.3zM671.7 669.3h1.3v1.3h-1.3zM682.7 702.2h1.3v1.3h-1.3zM632.7 714.6h1.3v1.3h-1.3zM624.3 702.6h1.3v1.3h-1.3zM654.4 660.1h1.3v1.3h-1.3zM646.1 673.6h1.3v1.3h-1.3zM680.9 667.6h1.3v1.3h-1.3zM684.2 669.4h1.3v1.3h-1.3zM681.0 709.2h1.3v1.3h-1.3zM649.3 725.3h1.3v1.3h-1.3zM637.6 663.4h1.3v1.3h-1.3zM647.7 656.7h1.3v1.3h-1.3zM681.8 699.1h1.3v1.3h-1.3zM663.8 728.7h1.3v1.3h-1.3zM645.2 657.0h1.3v1.3h-1.3zM658.8 661.7h1.3v1.3h-1.3zM644.5 660.0h1.3v1.3h-1.3zM619.3 684.4h1.3v1.3h-1.3zM691.2 686.0h1.3v1.3h-1.3zM677.5 715.6h1.3v1.3h-1.3zM674.1 666.3h1.3v1.3h-1.3zM638.3 661.6h1.3v1.3h-1.3zM679.4 720.4h1.3v1.3h-1.3zM674.3 670.0h1.3v1.3h-1.3zM648.3 729.3h1.3v1.3h-1.3zM683.7 672.2h1.3v1.3h-1.3zM624.8 705.4h1.3v1.3h-1.3zM644.8 660.5h1.3v1.3h-1.3zM641.7 723.3h1.3v1.3h-1.3zM660.8 662.3h1.3v1.3h-1.3zM647.6 719.9h1.3v1.3h-1.3zM651.4 660.2h1.3v1.3h-1.3zM632.3 677.1h1.3v1.3h-1.3zM627.4 705.9h1.3v1.3h-1.3zM662.7 726.2h1.3v1.3h-1.3zM627.4 672.1h1.3v1.3h-1.3zM634.9 716.4h1.3v1.3h-1.3zM621.4 702.0h1.3v1.3h-1.3zM638.2 665.3h1.3v1.3h-1.3zM621.8 693.8h1.3v1.3h-1.3zM626.9 688.6h1.3v1.3h-1.3zM668.8 727.4h1.3v1.3h-1.3zM663.3 658.8h1.3v1.3h-1.3zM681.8 705.7h1.3v1.3h-1.3zM624.9 695.7h1.3v1.3h-1.3zM665.9 726.3h1.3v1.3h-1.3zM653.0 726.3h1.3v1.3h-1.3zM626.2 677.4h1.3v1.3h-1.3zM691.8 692.9h1.3v1.3h-1.3zM689.2 683.6h1.3v1.3h-1.3zM622.9 702.3h1.3v1.3h-1.3zM636.2 662.4h1.3v1.3h-1.3zM670.0 658.3h1.3v1.3h-1.3zM621.0 706.6h1.3v1.3h-1.3zM625.8 694.9h1.3v1.3h-1.3zM640.8 724.9h1.3v1.3h-1.3zM646.6 724.9h1.3v1.3h-1.3zM622.3 693.5h1.3v1.3h-1.3zM676.8 667.0h1.3v1.3h-1.3zM689.6 707.4h1.3v1.3h-1.3zM623.6 681.8h1.3v1.3h-1.3zM636.5 720.0h1.3v1.3h-1.3zM690.5 694.3h1.3v1.3h-1.3zM686.2 713.3h1.3v1.3h-1.3zM676.2 665.0h1.3v1.3h-1.3zM646.8 658.0h1.3v1.3h-1.3zM635.3 669.9h1.3v1.3h-1.3zM660.2 727.1h1.3v1.3h-1.3zM690.8 692.2h1.3v1.3h-1.3zM655.8 727.4h1.3v1.3h-1.3zM678.3 666.1h1.3v1.3h-1.3zM674.6 718.7h1.3v1.3h-1.3zM622.2 708.9h1.3v1.3h-1.3zM687.3 675.6h1.3v1.3h-1.3zM672.5 666.6h1.3v1.3h-1.3zM630.0 669.5h1.3v1.3h-1.3zM692.2 687.0h1.3v1.3h-1.3zM679.7 716.3h1.3v1.3h-1.3zM671.2 726.2h1.3v1.3h-1.3zM654.3 657.2h1.3v1.3h-1.3zM630.1 712.2h1.3v1.3h-1.3zM643.1 663.1h1.3v1.3h-1.3zM674.8 664.6h1.3v1.3h-1.3zM630.8 719.7h1.3v1.3h-1.3zM625.7 707.0h1.3v1.3h-1.3zM653.8 663.5h1.3v1.3h-1.3zM688.1 677.2h1.3v1.3h-1.3zM622.1 691.2h1.3v1.3h-1.3zM655.3 657.0h1.3v1.3h-1.3zM635.0 719.2h1.3v1.3h-1.3zM628.3 668.9h1.3v1.3h-1.3zM683.9 692.8h1.3v1.3h-1.3zM635.1 665.0h1.3v1.3h-1.3zM621.9 676.9h1.3v1.3h-1.3zM627.6 697.4h1.3v1.3h-1.3zM625.4 674.5h1.3v1.3h-1.3zM680.1 667.1h1.3v1.3h-1.3zM672.3 661.2h1.3v1.3h-1.3zM670.6 666.9h1.3v1.3h-1.3zM626.7 716.1h1.3v1.3h-1.3zM665.3 727.2h1.3v1.3h-1.3zM657.2 657.9h1.3v1.3h-1.3zM623.8 676.8h1.3v1.3h-1.3zM644.6 724.7h1.3v1.3h-1.3zM684.6 672.9h1.3v1.3h-1.3zM624.3 680.2h1.3v1.3h-1.3zM624.2 706.2h1.3v1.3h-1.3zM648.2 725.2h1.3v1.3h-1.3zM687.1 688.7h1.3v1.3h-1.3zM649.9 724.8h1.3v1.3h-1.3zM668.1 727.1h1.3v1.3h-1.3zM638.8 668.9h1.3v1.3h-1.3zM663.9 728.3h1.3v1.3h-1.3zM633.1 715.7h1.3v1.3h-1.3zM629.0 676.2h1.3v1.3h-1.3zM656.0 657.4h1.3v1.3h-1.3zM688.4 689.2h1.3v1.3h-1.3zM687.4 681.5h1.3v1.3h-1.3zM639.2 668.0h1.3v1.3h-1.3zM688.2 699.3h1.3v1.3h-1.3zM664.4 660.8h1.3v1.3h-1.3zM643.2 723.7h1.3v1.3h-1.3zM631.0 669.9h1.3v1.3h-1.3zM654.0 726.4h1.3v1.3h-1.3zM688.1 677.9h1.3v1.3h-1.3zM656.6 660.1h1.3v1.3h-1.3zM629.5 715.9h1.3v1.3h-1.3zM678.9 663.9h1.3v1.3h-1.3zM658.9 655.6h1.3v1.3h-1.3zM670.7 660.5h1.3v1.3h-1.3zM688.2 695.3h1.3v1.3h-1.3zM688.6 705.7h1.3v1.3h-1.3zM626.8 708.3h1.3v1.3h-1.3zM642.4 723.5h1.3v1.3h-1.3zM668.0 663.7h1.3v1.3h-1.3zM631.3 710.3h1.3v1.3h-1.3zM687.2 709.6h1.3v1.3h-1.3zM654.9 730.0h1.3v1.3h-1.3zM660.0 659.8h1.3v1.3h-1.3zM677.0 666.7h1.3v1.3h-1.3zM627.6 675.1h1.3v1.3h-1.3zM669.9 665.0h1.3v1.3h-1.3zM625.1 676.2h1.3v1.3h-1.3zM626.6 711.8h1.3v1.3h-1.3zM692.8 690.9h1.3v1.3h-1.3zM668.0 728.1h1.3v1.3h-1.3zM661.3 729.1h1.3v1.3h-1.3zM672.4 723.1h1.3v1.3h-1.3zM658.7 661.5h1.3v1.3h-1.3zM630.0 700.2h1.3v1.3h-1.3zM684.7 671.3h1.3v1.3h-1.3zM663.3 658.9h1.3v1.3h-1.3zM623.5 711.8h1.3v1.3h-1.3zM645.1 658.2h1.3v1.3h-1.3zM623.4 679.8h1.3v1.3h-1.3zM665.2 720.6h1.3v1.3h-1.3zM623.7 704.3h1.3v1.3h-1.3zM682.0 669.4h1.3v1.3h-1.3zM620.0 692.8h1.3v1.3h-1.3zM634.2 665.4h1.3v1.3h-1.3zM649.3 728.5h1.3v1.3h-1.3zM680.4 666.0h1.3v1.3h-1.3zM629.9 668.1h1.3v1.3h-1.3zM686.2 707.0h1.3v1.3h-1.3zM672.9 725.3h1.3v1.3h-1.3zM683.9 716.3h1.3v1.3h-1.3zM661.9 662.3h1.3v1.3h-1.3zM672.0 666.1h1.3v1.3h-1.3zM625.0 681.8h1.3v1.3h-1.3zM625.1 681.3h1.3v1.3h-1.3zM623.8 708.8h1.3v1.3h-1.3zM655.7 730.0h1.3v1.3h-1.3zM627.6 699.8h1.3v1.3h-1.3zM629.6 679.3h1.3v1.3h-1.3zM653.5 657.9h1.3v1.3h-1.3zM682.4 669.5h1.3v1.3h-1.3zM691.6 683.1h1.3v1.3h-1.3zM666.5 659.3h1.3v1.3h-1.3zM683.4 669.7h1.3v1.3h-1.3zM629.1 673.0h1.3v1.3h-1.3zM683.6 717.1h1.3v1.3h-1.3zM654.5 660.0h1.3v1.3h-1.3zM686.6 712.1h1.3v1.3h-1.3zM691.9 685.8h1.3v1.3h-1.3zM658.4 726.7h1.3v1.3h-1.3zM684.3 684.3h1.3v1.3h-1.3zM619.9 699.6h1.3v1.3h-1.3zM672.5 663.3h1.3v1.3h-1.3zM681.2 713.7h1.3v1.3h-1.3zM686.6 705.5h1.3v1.3h-1.3zM689.9 679.5h1.3v1.3h-1.3zM653.6 728.7h1.3v1.3h-1.3zM691.2 699.0h1.3v1.3h-1.3zM686.1 690.6h1.3v1.3h-1.3zM633.6 669.0h1.3v1.3h-1.3zM648.8 662.7h1.3v1.3h-1.3zM627.6 717.7h1.3v1.3h-1.3zM622.2 682.7h1.3v1.3h-1.3zM666.2 728.5h1.3v1.3h-1.3zM626.1 676.8h1.3v1.3h-1.3zM621.4 682.5h1.3v1.3h-1.3zM654.2 728.4h1.3v1.3h-1.3zM642.1 659.5h1.3v1.3h-1.3zM685.8 686.1h1.3v1.3h-1.3zM631.5 713.0h1.3v1.3h-1.3zM689.4 680.5h1.3v1.3h-1.3zM618.7 686.7h1.3v1.3h-1.3zM666.0 721.7h1.3v1.3h-1.3zM622.7 689.1h1.3v1.3h-1.3zM636.8 663.2h1.3v1.3h-1.3zM685.2 673.8h1.3v1.3h-1.3zM674.0 716.0h1.3v1.3h-1.3zM646.9 664.0h1.3v1.3h-1.3zM685.5 693.3h1.3v1.3h-1.3zM671.2 722.1h1.3v1.3h-1.3zM645.5 657.4h1.3v1.3h-1.3zM627.4 674.5h1.3v1.3h-1.3zM623.6 679.6h1.3v1.3h-1.3zM685.2 690.0h1.3v1.3h-1.3zM643.8 726.6h1.3v1.3h-1.3zM648.1 662.1h1.3v1.3h-1.3zM679.6 670.2h1.3v1.3h-1.3zM683.2 707.9h1.3v1.3h-1.3zM653.4 729.0h1.3v1.3h-1.3zM621.6 700.5h1.3v1.3h-1.3zM674.3 662.4h1.3v1.3h-1.3zM647.0 658.1h1.3v1.3h-1.3zM683.2 715.1h1.3v1.3h-1.3zM633.5 713.7h1.3v1.3h-1.3zM644.4 728.4h1.3v1.3h-1.3zM652.9 658.6h1.3v1.3h-1.3zM664.0 658.2h1.3v1.3h-1.3zM687.0 708.5h1.3v1.3h-1.3zM690.2 702.3h1.3v1.3h-1.3zM624.5 697.1h1.3v1.3h-1.3zM629.6 718.7h1.3v1.3h-1.3zM689.0 677.0h1.3v1.3h-1.3zM690.5 693.8h1.3v1.3h-1.3zM690.2 684.0h1.3v1.3h-1.3zM671.6 725.5h1.3v1.3h-1.3zM644.6 659.0h1.3v1.3h-1.3zM640.7 662.7h1.3v1.3h-1.3zM636.9 717.8h1.3v1.3h-1.3zM663.2 665.3h1.3v1.3h-1.3zM631.5 667.7h1.3v1.3h-1.3zM633.5 666.0h1.3v1.3h-1.3zM636.0 666.2h1.3v1.3h-1.3zM655.9 658.0h1.3v1.3h-1.3zM665.4 726.1h1.3v1.3h-1.3zM680.3 698.5h1.3v1.3h-1.3zM655.1 728.4h1.3v1.3h-1.3zM671.0 658.8h1.3v1.3h-1.3zM627.9 677.3h1.3v1.3h-1.3zM690.4 694.5h1.3v1.3h-1.3zM675.6 665.0h1.3v1.3h-1.3zM677.9 676.1h1.3v1.3h-1.3zM678.7 719.6h1.3v1.3h-1.3zM657.4 656.8h1.3v1.3h-1.3zM684.9 712.8h1.3v1.3h-1.3zM678.6 664.5h1.3v1.3h-1.3zM656.2 728.1h1.3v1.3h-1.3zM624.2 682.2h1.3v1.3h-1.3zM626.9 710.2h1.3v1.3h-1.3zM619.9 698.2h1.3v1.3h-1.3zM679.8 664.3h1.3v1.3h-1.3zM673.5 663.1h1.3v1.3h-1.3zM643.1 721.2h1.3v1.3h-1.3zM633.1 715.9h1.3v1.3h-1.3zM640.6 718.9h1.3v1.3h-1.3zM625.6 704.1h1.3v1.3h-1.3zM635.9 723.0h1.3v1.3h-1.3zM679.9 668.2h1.3v1.3h-1.3zM677.1 715.9h1.3v1.3h-1.3zM620.5 688.3h1.3v1.3h-1.3zM620.5 692.3h1.3v1.3h-1.3zM671.0 660.6h1.3v1.3h-1.3zM683.0 672.1h1.3v1.3h-1.3zM686.4 673.9h1.3v1.3h-1.3zM665.9 725.7h1.3v1.3h-1.3zM671.2 664.9h1.3v1.3h-1.3zM630.6 680.6h1.3v1.3h-1.3zM672.0 717.4h1.3v1.3h-1.3zM639.2 717.4h1.3v1.3h-1.3zM656.9 655.9h1.3v1.3h-1.3zM686.5 708.7h1.3v1.3h-1.3zM689.4 695.1h1.3v1.3h-1.3zM664.4 657.7h1.3v1.3h-1.3zM620.2 703.3h1.3v1.3h-1.3zM684.6 672.1h1.3v1.3h-1.3zM661.8 659.2h1.3v1.3h-1.3zM628.9 703.1h1.3v1.3h-1.3zM679.2 663.8h1.3v1.3h-1.3zM651.6 678.3h1.3v1.3h-1.3zM645.6 668.9h1.3v1.3h-1.3zM630.2 695.6h1.3v1.3h-1.3zM650.5 707.0h1.3v1.3h-1.3zM673.1 682.0h1.3v1.3h-1.3zM682.0 713.5h1.3v1.3h-1.3zM627.7 690.9h1.3v1.3h-1.3zM648.6 703.9h1.3v1.3h-1.3zM640.2 719.8h1.3v1.3h-1.3zM650.7 724.9h1.3v1.3h-1.3zM644.8 723.1h1.3v1.3h-1.3zM665.4 713.2h1.3v1.3h-1.3zM664.6 702.3h1.3v1.3h-1.3zM635.3 689.9h1.3v1.3h-1.3zM640.2 689.1h1.3v1.3h-1.3zM648.4 710.7h1.3v1.3h-1.3zM663.4 687.0h1.3v1.3h-1.3zM628.4 708.6h1.3v1.3h-1.3zM640.1 685.3h1.3v1.3h-1.3zM666.8 692.6h1.3v1.3h-1.3zM658.5 696.2h1.3v1.3h-1.3zM626.4 704.6h1.3v1.3h-1.3zM651.9 710.6h1.3v1.3h-1.3zM658.4 683.8h1.3v1.3h-1.3zM683.1 695.8h1.3v1.3h-1.3zM676.6 705.8h1.3v1.3h-1.3zM671.8 713.6h1.3v1.3h-1.3zM669.2 674.4h1.3v1.3h-1.3zM651.7 719.4h1.3v1.3h-1.3zM653.1 685.1h1.3v1.3h-1.3zM656.9 713.6h1.3v1.3h-1.3zM637.8 692.2h1.3v1.3h-1.3zM646.2 678.4h1.3v1.3h-1.3zM672.3 681.4h1.3v1.3h-1.3zM657.3 702.2h1.3v1.3h-1.3zM666.7 704.1h1.3v1.3h-1.3zM671.8 678.0h1.3v1.3h-1.3zM624.4 704.5h1.3v1.3h-1.3zM684.7 686.6h1.3v1.3h-1.3zM656.8 712.2h1.3v1.3h-1.3zM638.3 692.2h1.3v1.3h-1.3zM646.6 705.6h1.3v1.3h-1.3zM657.2 722.2h1.3v1.3h-1.3zM637.5 679.1h1.3v1.3h-1.3zM629.4 697.5h1.3v1.3h-1.3zM653.5 688.1h1.3v1.3h-1.3zM668.4 673.5h1.3v1.3h-1.3zM637.4 720.7h1.3v1.3h-1.3zM656.4 672.7h1.3v1.3h-1.3zM677.8 696.2h1.3v1.3h-1.3zM636.3 700.5h1.3v1.3h-1.3zM676.7 707.7h1.3v1.3h-1.3zM654.7 722.5h1.3v1.3h-1.3zM637.5 689.5h1.3v1.3h-1.3zM666.1 672.6h1.3v1.3h-1.3zM671.1 701.9h1.3v1.3h-1.3zM676.7 700.0h1.3v1.3h-1.3zM683.3 674.9h1.3v1.3h-1.3zM647.9 681.9h1.3v1.3h-1.3zM656.6 708.1h1.3v1.3h-1.3zM636.7 712.3h1.3v1.3h-1.3zM679.2 696.1h1.3v1.3h-1.3zM630.9 705.3h1.3v1.3h-1.3zM665.5 673.8h1.3v1.3h-1.3zM641.4 682.1h1.3v1.3h-1.3zM629.6 700.5h1.3v1.3h-1.3zM678.7 700.7h1.3v1.3h-1.3zM641.0 692.6h1.3v1.3h-1.3zM655.8 723.7h1.3v1.3h-1.3zM646.9 704.9h1.3v1.3h-1.3zM650.3 716.8h1.3v1.3h-1.3zM639.4 704.8h1.3v1.3h-1.3zM648.6 707.0h1.3v1.3h-1.3zM629.3 692.0h1.3v1.3h-1.3zM677.7 706.7h1.3v1.3h-1.3zM643.7 724.3h1.3v1.3h-1.3zM667.0 688.1h1.3v1.3h-1.3zM649.0 674.0h1.3v1.3h-1.3zM680.0 713.3h1.3v1.3h-1.3zM680.9 676.4h1.3v1.3h-1.3zM633.6 667.4h1.3v1.3h-1.3zM629.3 683.2h1.3v1.3h-1.3zM637.5 667.0h1.3v1.3h-1.3zM667.2 678.1h1.3v1.3h-1.3zM662.2 717.0h1.3v1.3h-1.3zM638.5 682.0h1.3v1.3h-1.3zM675.7 668.8h1.3v1.3h-1.3zM646.0 669.9h1.3v1.3h-1.3zM650.5 678.7h1.3v1.3h-1.3zM659.9 681.5h1.3v1.3h-1.3zM677.7 677.5h1.3v1.3h-1.3zM653.1 707.4h1.3v1.3h-1.3zM636.8 679.2h1.3v1.3h-1.3zM652.1 682.8h1.3v1.3h-1.3zM671.4 677.1h1.3v1.3h-1.3zM628.4 703.6h1.3v1.3h-1.3zM637.8 678.8h1.3v1.3h-1.3zM649.4 715.2h1.3v1.3h-1.3zM672.5 696.2h1.3v1.3h-1.3zM661.0 682.3h1.3v1.3h-1.3zM682.5 708.9h1.3v1.3h-1.3zM638.2 710.4h1.3v1.3h-1.3zM631.0 677.8h1.3v1.3h-1.3zM643.1 719.9h1.3v1.3h-1.3zM686.9 692.9h1.3v1.3h-1.3zM645.7 717.8h1.3v1.3h-1.3zM645.9 720.6h1.3v1.3h-1.3zM636.8 711.3h1.3v1.3h-1.3zM642.3 720.8h1.3v1.3h-1.3zM658.2 677.8h1.3v1.3h-1.3zM656.9 659.8h1.3v1.3h-1.3zM656.8 707.6h1.3v1.3h-1.3zM685.9 678.8h1.3v1.3h-1.3zM676.1 714.6h1.3v1.3h-1.3zM671.4 685.4h1.3v1.3h-1.3zM659.1 674.6h1.3v1.3h-1.3zM661.2 669.2h1.3v1.3h-1.3zM643.8 694.9h1.3v1.3h-1.3zM639.2 669.5h1.3v1.3h-1.3zM653.8 699.8h1.3v1.3h-1.3zM670.2 702.1h1.3v1.3h-1.3zM684.9 692.2h1.3v1.3h-1.3zM679.0 674.9h1.3v1.3h-1.3zM669.7 708.5h1.3v1.3h-1.3zM685.4 683.1h1.3v1.3h-1.3zM686.3 691.1h1.3v1.3h-1.3zM648.4 664.0h1.3v1.3h-1.3zM674.8 681.5h1.3v1.3h-1.3zM674.2 696.8h1.3v1.3h-1.3zM673.3 694.3h1.3v1.3h-1.3zM640.5 683.3h1.3v1.3h-1.3zM655.7 703.3h1.3v1.3h-1.3zM640.2 711.8h1.3v1.3h-1.3zM627.8 674.9h1.3v1.3h-1.3zM671.1 700.2h1.3v1.3h-1.3zM684.6 708.0h1.3v1.3h-1.3zM637.0 672.5h1.3v1.3h-1.3zM656.3 691.2h1.3v1.3h-1.3zM671.7 681.6h1.3v1.3h-1.3zM640.7 677.2h1.3v1.3h-1.3zM655.1 674.1h1.3v1.3h-1.3zM652.7 709.5h1.3v1.3h-1.3zM652.0 670.1h1.3v1.3h-1.3zM667.0 709.6h1.3v1.3h-1.3zM636.7 684.2h1.3v1.3h-1.3zM629.5 675.7h1.3v1.3h-1.3zM636.2 669.3h1.3v1.3h-1.3zM645.2 722.7h1.3v1.3h-1.3zM678.7 683.8h1.3v1.3h-1.3zM665.5 694.2h1.3v1.3h-1.3zM657.1 661.2h1.3v1.3h-1.3zM651.7 668.9h1.3v1.3h-1.3zM644.4 689.9h1.3v1.3h-1.3zM627.9 673.1h1.3v1.3h-1.3zM662.9 718.3h1.3v1.3h-1.3zM671.8 670.7h1.3v1.3h-1.3zM645.8 706.2h1.3v1.3h-1.3zM652.0 660.2h1.3v1.3h-1.3zM671.1 677.8h1.3v1.3h-1.3zM654.6 662.2h1.3v1.3h-1.3zM634.7 713.6h1.3v1.3h-1.3zM644.1 702.8h1.3v1.3h-1.3zM684.5 692.9h1.3v1.3h-1.3zM655.7 685.8h1.3v1.3h-1.3zM673.4 700.1h1.3v1.3h-1.3zM663.1 720.9h1.3v1.3h-1.3zM665.2 717.0h1.3v1.3h-1.3zM636.5 686.5h1.3v1.3h-1.3zM669.4 675.0h1.3v1.3h-1.3zM627.9 690.7h1.3v1.3h-1.3zM643.5 701.1h1.3v1.3h-1.3zM683.8 684.2h1.3v1.3h-1.3zM632.6 686.0h1.3v1.3h-1.3zM641.9 680.4h1.3v1.3h-1.3zM678.1 703.9h1.3v1.3h-1.3zM664.2 686.5h1.3v1.3h-1.3zM676.2 690.3h1.3v1.3h-1.3zM685.4 692.5h1.3v1.3h-1.3zM653.4 708.3h1.3v1.3h-1.3zM681.3 671.1h1.3v1.3h-1.3zM664.4 668.4h1.3v1.3h-1.3zM626.6 684.7h1.3v1.3h-1.3zM669.3 664.9h1.3v1.3h-1.3zM648.2 722.8h1.3v1.3h-1.3zM680.3 685.4h1.3v1.3h-1.3zM670.3 693.7h1.3v1.3h-1.3zM642.7 674.8h1.3v1.3h-1.3zM679.3 679.3h1.3v1.3h-1.3zM651.5 680.2h1.3v1.3h-1.3zM627.3 688.4h1.3v1.3h-1.3zM683.6 676.7h1.3v1.3h-1.3zM653.5 716.8h1.3v1.3h-1.3zM665.7 691.5h1.3v1.3h-1.3zM668.7 699.0h1.3v1.3h-1.3zM653.3 673.5h1.3v1.3h-1.3zM647.5 663.0h1.3v1.3h-1.3zM658.0 686.5h1.3v1.3h-1.3zM644.1 664.7h1.3v1.3h-1.3zM646.3 662.6h1.3v1.3h-1.3zM666.6 668.5h1.3v1.3h-1.3zM672.3 674.1h1.3v1.3h-1.3zM669.7 704.2h1.3v1.3h-1.3zM673.6 684.7h1.3v1.3h-1.3zM624.3 698.5h1.3v1.3h-1.3zM643.7 665.0h1.3v1.3h-1.3zM631.8 697.3h1.3v1.3h-1.3zM669.0 699.9h1.3v1.3h-1.3zM669.2 713.7h1.3v1.3h-1.3zM646.6 691.3h1.3v1.3h-1.3zM648.4 684.7h1.3v1.3h-1.3zM651.4 696.4h1.3v1.3h-1.3zM642.8 694.8h1.3v1.3h-1.3zM674.6 685.3h1.3v1.3h-1.3zM666.4 672.9h1.3v1.3h-1.3zM641.1 720.4h1.3v1.3h-1.3zM651.8 716.9h1.3v1.3h-1.3zM633.9 666.8h1.3v1.3h-1.3zM653.4 685.4h1.3v1.3h-1.3zM623.7 701.9h1.3v1.3h-1.3zM668.2 676.5h1.3v1.3h-1.3zM667.8 705.5h1.3v1.3h-1.3zM656.2 678.4h1.3v1.3h-1.3zM669.2 681.8h1.3v1.3h-1.3zM645.1 666.5h1.3v1.3h-1.3zM656.8 717.3h1.3v1.3h-1.3zM643.4 680.1h1.3v1.3h-1.3zM629.2 687.4h1.3v1.3h-1.3zM673.1 688.0h1.3v1.3h-1.3zM666.8 714.3h1.3v1.3h-1.3zM636.1 679.2h1.3v1.3h-1.3zM668.6 684.8h1.3v1.3h-1.3zM632.3 691.6h1.3v1.3h-1.3zM662.9 714.5h1.3v1.3h-1.3zM635.7 698.9h1.3v1.3h-1.3zM660.5 659.4h1.3v1.3h-1.3zM671.2 689.7h1.3v1.3h-1.3zM632.6 716.7h1.3v1.3h-1.3zM664.4 697.9h1.3v1.3h-1.3zM686.2 706.0h1.3v1.3h-1.3zM633.2 692.0h1.3v1.3h-1.3zM681.7 711.3h1.3v1.3h-1.3zM683.8 691.6h1.3v1.3h-1.3zM677.4 679.4h1.3v1.3h-1.3zM650.2 706.2h1.3v1.3h-1.3zM651.2 705.2h1.3v1.3h-1.3zM650.6 698.2h1.3v1.3h-1.3zM686.8 701.0h1.3v1.3h-1.3zM673.3 667.8h1.3v1.3h-1.3zM642.0 711.1h1.3v1.3h-1.3zM626.5 684.8h1.3v1.3h-1.3zM647.6 715.8h1.3v1.3h-1.3zM625.9 683.3h1.3v1.3h-1.3zM654.5 694.4h1.3v1.3h-1.3zM629.3 710.9h1.3v1.3h-1.3zM667.8 716.8h1.3v1.3h-1.3zM667.5 705.9h1.3v1.3h-1.3zM647.9 685.1h1.3v1.3h-1.3zM630.6 700.2h1.3v1.3h-1.3zM633.0 711.9h1.3v1.3h-1.3zM665.8 678.0h1.3v1.3h-1.3zM657.6 663.3h1.3v1.3h-1.3zM634.1 678.0h1.3v1.3h-1.3zM629.0 680.7h1.3v1.3h-1.3zM649.2 676.3h1.3v1.3h-1.3zM638.7 669.6h1.3v1.3h-1.3zM624.3 700.3h1.3v1.3h-1.3zM645.6 716.0h1.3v1.3h-1.3zM631.6 681.8h1.3v1.3h-1.3zM666.8 718.2h1.3v1.3h-1.3zM674.1 709.4h1.3v1.3h-1.3zM628.6 701.4h1.3v1.3h-1.3zM676.7 666.5h1.3v1.3h-1.3zM659.7 725.0h1.3v1.3h-1.3zM631.8 697.0h1.3v1.3h-1.3zM686.1 700.8h1.3v1.3h-1.3zM658.0 710.5h1.3v1.3h-1.3zM650.0 708.3h1.3v1.3h-1.3zM651.2 710.5h1.3v1.3h-1.3zM635.6 688.6h1.3v1.3h-1.3zM656.9 660.0h1.3v1.3h-1.3zM674.5 684.2h1.3v1.3h-1.3zM643.7 666.3h1.3v1.3h-1.3zM652.2 671.6h1.3v1.3h-1.3zM666.1 720.5h1.3v1.3h-1.3zM644.4 676.0h1.3v1.3h-1.3zM651.2 685.2h1.3v1.3h-1.3zM662.4 661.3h1.3v1.3h-1.3zM666.9 690.7h1.3v1.3h-1.3zM644.7 664.8h1.3v1.3h-1.3zM672.4 713.4h1.3v1.3h-1.3zM661.5 707.5h1.3v1.3h-1.3zM673.3 696.0h1.3v1.3h-1.3zM670.8 671.7h1.3v1.3h-1.3zM665.4 660.8h1.3v1.3h-1.3zM673.8 718.3h1.3v1.3h-1.3zM677.3 676.1h1.3v1.3h-1.3zM648.4 705.1h1.3v1.3h-1.3zM636.4 700.5h1.3v1.3h-1.3zM653.8 720.7h1.3v1.3h-1.3zM644.2 679.8h1.3v1.3h-1.3zM666.8 714.0h1.3v1.3h-1.3zM648.9 665.9h1.3v1.3h-1.3zM635.2 667.9h1.3v1.3h-1.3zM656.7 670.2h1.3v1.3h-1.3zM654.9 665.1h1.3v1.3h-1.3zM648.1 704.5h1.3v1.3h-1.3zM634.9 712.9h1.3v1.3h-1.3zM655.7 674.1h1.3v1.3h-1.3zM646.6 690.4h1.3v1.3h-1.3zM637.0 679.6h1.3v1.3h-1.3zM659.1 661.5h1.3v1.3h-1.3zM687.2 703.6h1.3v1.3h-1.3zM671.4 722.2h1.3v1.3h-1.3zM671.5 691.3h1.3v1.3h-1.3zM652.2 705.3h1.3v1.3h-1.3zM680.6 677.0h1.3v1.3h-1.3zM685.5 686.4h1.3v1.3h-1.3zM636.6 715.9h1.3v1.3h-1.3zM643.5 708.1h1.3v1.3h-1.3zM630.2 705.6h1.3v1.3h-1.3zM645.3 716.1h1.3v1.3h-1.3zM628.0 680.3h1.3v1.3h-1.3zM633.9 696.9h1.3v1.3h-1.3zM633.9 684.9h1.3v1.3h-1.3zM654.3 681.7h1.3v1.3h-1.3zM658.5 698.8h1.3v1.3h-1.3zM628.8 709.1h1.3v1.3h-1.3zM633.6 676.9h1.3v1.3h-1.3zM683.9 680.7h1.3v1.3h-1.3zM651.3 708.2h1.3v1.3h-1.3zM639.8 689.0h1.3v1.3h-1.3zM647.7 687.4h1.3v1.3h-1.3zM633.2 711.1h1.3v1.3h-1.3zM655.2 705.9h1.3v1.3h-1.3zM655.5 677.8h1.3v1.3h-1.3zM677.3 677.3h1.3v1.3h-1.3zM674.6 676.9h1.3v1.3h-1.3zM638.4 694.0h1.3v1.3h-1.3zM686.6 704.6h1.3v1.3h-1.3zM657.5 702.3h1.3v1.3h-1.3zM678.3 682.5h1.3v1.3h-1.3zM627.2 676.9h1.3v1.3h-1.3zM653.7 675.6h1.3v1.3h-1.3zM649.9 719.7h1.3v1.3h-1.3zM648.8 678.2h1.3v1.3h-1.3zM655.6 717.1h1.3v1.3h-1.3zM684.0 703.9h1.3v1.3h-1.3zM648.4 681.8h1.3v1.3h-1.3zM632.6 680.2h1.3v1.3h-1.3zM674.5 704.6h1.3v1.3h-1.3zM661.6 670.7h1.3v1.3h-1.3zM653.2 676.5h1.3v1.3h-1.3zM683.4 692.5h1.3v1.3h-1.3zM652.3 691.5h1.3v1.3h-1.3zM654.6 694.0h1.3v1.3h-1.3zM642.3 698.1h1.3v1.3h-1.3zM656.3 711.6h1.3v1.3h-1.3zM666.7 707.1h1.3v1.3h-1.3zM643.1 692.5h1.3v1.3h-1.3zM624.8 680.5h1.3v1.3h-1.3zM649.6 660.1h1.3v1.3h-1.3zM677.0 710.2h1.3v1.3h-1.3zM657.5 725.6h1.3v1.3h-1.3zM626.7 693.6h1.3v1.3h-1.3zM657.6 680.6h1.3v1.3h-1.3zM680.3 710.9h1.3v1.3h-1.3zM665.0 672.5h1.3v1.3h-1.3zM660.8 693.6h1.3v1.3h-1.3zM664.5 665.9h1.3v1.3h-1.3zM636.0 712.8h1.3v1.3h-1.3zM656.6 690.1h1.3v1.3h-1.3zM654.7 659.2h1.3v1.3h-1.3zM677.4 669.4h1.3v1.3h-1.3zM631.0 702.6h1.3v1.3h-1.3zM678.4 712.7h1.3v1.3h-1.3zM644.0 674.5h1.3v1.3h-1.3zM669.3 697.2h1.3v1.3h-1.3zM629.0 711.7h1.3v1.3h-1.3zM624.5 698.4h1.3v1.3h-1.3zM662.2 708.6h1.3v1.3h-1.3zM659.8 742.4h1.3v1.3h-1.3zM614.7 737.2h1.3v1.3h-1.3zM634.2 738.2h1.3v1.3h-1.3zM695.0 655.3h1.3v1.3h-1.3zM638.7 645.0h1.3v1.3h-1.3zM613.1 725.9h1.3v1.3h-1.3zM592.9 712.2h1.3v1.3h-1.3zM611.8 673.1h1.3v1.3h-1.3zM594.9 695.3h1.3v1.3h-1.3zM614.4 658.7h1.3v1.3h-1.3zM612.2 719.6h1.3v1.3h-1.3zM641.7 640.3h1.3v1.3h-1.3zM650.0 739.9h1.3v1.3h-1.3zM599.6 694.2h1.3v1.3h-1.3zM709.2 695.2h1.3v1.3h-1.3zM643.1 644.9h1.3v1.3h-1.3zM617.0 728.3h1.3v1.3h-1.3zM671.5 737.1h1.3v1.3h-1.3zM660.0 643.4h1.3v1.3h-1.3zM639.1 759.6h1.3v1.3h-1.3zM679.3 743.3h1.3v1.3h-1.3zM608.2 688.1h1.3v1.3h-1.3zM665.6 642.4h1.3v1.3h-1.3zM707.8 710.9h1.3v1.3h-1.3zM697.4 672.2h1.3v1.3h-1.3zM679.8 739.2h1.3v1.3h-1.3zM612.7 666.4h1.3v1.3h-1.3zM653.3 745.0h1.3v1.3h-1.3zM712.5 696.7h1.3v1.3h-1.3zM694.7 729.4h1.3v1.3h-1.3zM658.2 739.4h1.3v1.3h-1.3zM694.2 737.5h1.3v1.3h-1.3zM704.6 689.1h1.3v1.3h-1.3zM630.2 745.9h1.3v1.3h-1.3zM711.5 680.9h1.3v1.3h-1.3zM705.9 687.3h1.3v1.3h-1.3zM680.2 651.1h1.3v1.3h-1.3zM668.3 741.4h1.3v1.3h-1.3zM695.1 729.7h1.3v1.3h-1.3zM603.1 700.7h1.3v1.3h-1.3zM618.2 733.2h1.3v1.3h-1.3zM648.4 646.7h1.3v1.3h-1.3zM606.5 721.6h1.3v1.3h-1.3zM694.8 650.1h1.3v1.3h-1.3zM655.6 642.4h1.3v1.3h-1.3zM684.6 647.4h1.3v1.3h-1.3zM623.7 733.2h1.3v1.3h-1.3zM677.7 649.2h1.3v1.3h-1.3zM627.5 741.3h1.3v1.3h-1.3zM704.5 723.5h1.3v1.3h-1.3zM709.8 695.1h1.3v1.3h-1.3zM693.9 725.6h1.3v1.3h-1.3zM617.8 723.2h1.3v1.3h-1.3zM711.2 663.2h1.3v1.3h-1.3zM670.4 641.6h1.3v1.3h-1.3zM608.3 708.8h1.3v1.3h-1.3zM702.6 701.2h1.3v1.3h-1.3zM665.5 640.9h1.3v1.3h-1.3zM634.3 650.6h1.3v1.3h-1.3zM604.5 709.4h1.3v1.3h-1.3zM674.2 744.4h1.3v1.3h-1.3zM662.1 739.5h1.3v1.3h-1.3zM654.2 742.3h1.3v1.3h-1.3zM605.3 724.3h1.3v1.3h-1.3zM702.1 700.1h1.3v1.3h-1.3zM698.2 723.9h1.3v1.3h-1.3zM656.4 641.2h1.3v1.3h-1.3zM607.6 678.9h1.3v1.3h-1.3zM696.6 657.9h1.3v1.3h-1.3zM682.0 732.2h1.3v1.3h-1.3zM712.6 702.8h1.3v1.3h-1.3zM678.8 743.4h1.3v1.3h-1.3zM624.3 652.2h1.3v1.3h-1.3zM613.6 734.1h1.3v1.3h-1.3zM639.1 645.9h1.3v1.3h-1.3zM612.8 672.9h1.3v1.3h-1.3zM628.1 652.7h1.3v1.3h-1.3zM649.7 739.6h1.3v1.3h-1.3zM645.9 638.5h1.3v1.3h-1.3zM685.8 655.8h1.3v1.3h-1.3zM643.9 646.5h1.3v1.3h-1.3zM686.6 647.3h1.3v1.3h-1.3zM596.7 699.3h1.3v1.3h-1.3zM683.7 730.5h1.3v1.3h-1.3zM600.6 706.9h1.3v1.3h-1.3zM638.7 648.1h1.3v1.3h-1.3zM648.3 747.6h1.3v1.3h-1.3zM693.8 721.8h1.3v1.3h-1.3zM668.5 637.9h1.3v1.3h-1.3zM614.0 718.9h1.3v1.3h-1.3zM618.9 732.2h1.3v1.3h-1.3zM649.0 741.1h1.3v1.3h-1.3zM703.2 676.8h1.3v1.3h-1.3zM628.2 650.2h1.3v1.3h-1.3zM708.3 694.6h1.3v1.3h-1.3zM678.6 643.2h1.3v1.3h-1.3zM633.9 755.5h1.3v1.3h-1.3zM708.7 696.7h1.3v1.3h-1.3zM594.5 727.2h1.3v1.3h-1.3zM625.8 730.7h1.3v1.3h-1.3zM658.1 740.9h1.3v1.3h-1.3zM688.7 735.6h1.3v1.3h-1.3zM703.6 657.7h1.3v1.3h-1.3zM647.7 739.7h1.3v1.3h-1.3zM629.8 648.3h1.3v1.3h-1.3zM703.2 679.2h1.3v1.3h-1.3zM644.7 741.9h1.3v1.3h-1.3zM592.1 707.5h1.3v1.3h-1.3zM704.0 670.5h1.3v1.3h-1.3zM701.6 669.1h1.3v1.3h-1.3zM614.9 662.4h1.3v1.3h-1.3zM608.8 682.3h1.3v1.3h-1.3zM623.4 743.7h1.3v1.3h-1.3zM631.8 738.7h1.3v1.3h-1.3zM696.7 664.5h1.3v1.3h-1.3zM611.0 716.1h1.3v1.3h-1.3zM681.0 644.0h1.3v1.3h-1.3zM655.0 745.1h1.3v1.3h-1.3zM609.2 684.6h1.3v1.3h-1.3zM709.6 695.3h1.3v1.3h-1.3zM714.2 699.6h1.3v1.3h-1.3zM657.6 744.9h1.3v1.3h-1.3zM610.0 652.3h1.3v1.3h-1.3zM617.4 660.0h1.3v1.3h-1.3zM645.5 639.5h1.3v1.3h-1.3zM675.8 646.9h1.3v1.3h-1.3zM634.9 738.3h1.3v1.3h-1.3zM697.6 668.8h1.3v1.3h-1.3zM645.9 748.0h1.3v1.3h-1.3zM690.3 729.5h1.3v1.3h-1.3zM613.2 713.9h1.3v1.3h-1.3zM609.5 717.5h1.3v1.3h-1.3zM707.9 669.0h1.3v1.3h-1.3zM712.4 706.1h1.3v1.3h-1.3zM705.6 684.2h1.3v1.3h-1.3zM703.6 688.5h1.3v1.3h-1.3zM690.3 726.6h1.3v1.3h-1.3zM696.8 714.8h1.3v1.3h-1.3zM601.7 702.1h1.3v1.3h-1.3zM677.4 644.3h1.3v1.3h-1.3zM692.6 722.7h1.3v1.3h-1.3zM706.9 677.7h1.3v1.3h-1.3zM621.8 658.6h1.3v1.3h-1.3zM698.9 666.9h1.3v1.3h-1.3zM643.6 740.0h1.3v1.3h-1.3zM666.5 639.3h1.3v1.3h-1.3zM630.4 744.1h1.3v1.3h-1.3zM656.5 741.3h1.3v1.3h-1.3zM697.5 731.5h1.3v1.3h-1.3zM632.3 644.6h1.3v1.3h-1.3zM668.5 746.1h1.3v1.3h-1.3zM638.5 636.1h1.3v1.3h-1.3zM683.8 755.8h1.3v1.3h-1.3zM642.4 641.9h1.3v1.3h-1.3zM648.7 739.4h1.3v1.3h-1.3zM616.6 651.2h1.3v1.3h-1.3zM623.8 731.8h1.3v1.3h-1.3zM615.7 728.3h1.3v1.3h-1.3zM634.0 735.5h1.3v1.3h-1.3zM639.5 753.0h1.3v1.3h-1.3zM697.2 713.9h1.3v1.3h-1.3zM618.6 739.9h1.3v1.3h-1.3zM706.7 696.2h1.3v1.3h-1.3zM704.5 714.9h1.3v1.3h-1.3zM654.5 630.8h1.3v1.3h-1.3zM679.6 652.1h1.3v1.3h-1.3zM679.0 646.0h1.3v1.3h-1.3zM674.3 644.5h1.3v1.3h-1.3zM605.9 694.3h1.3v1.3h-1.3zM619.6 656.6h1.3v1.3h-1.3zM700.1 715.0h1.3v1.3h-1.3zM610.0 671.5h1.3v1.3h-1.3zM685.1 647.7h1.3v1.3h-1.3zM601.7 720.1h1.3v1.3h-1.3zM703.8 715.6h1.3v1.3h-1.3zM686.7 657.4h1.3v1.3h-1.3zM608.5 722.8h1.3v1.3h-1.3zM607.5 678.7h1.3v1.3h-1.3zM665.0 643.1h1.3v1.3h-1.3zM607.6 683.0h1.3v1.3h-1.3zM696.7 720.4h1.3v1.3h-1.3zM622.4 730.8h1.3v1.3h-1.3zM608.6 662.8h1.3v1.3h-1.3zM671.7 634.2h1.3v1.3h-1.3zM626.6 743.4h1.3v1.3h-1.3zM603.6 689.3h1.3v1.3h-1.3zM621.6 653.6h1.3v1.3h-1.3zM609.3 662.5h1.3v1.3h-1.3zM700.1 660.4h1.3v1.3h-1.3zM668.6 749.4h1.3v1.3h-1.3zM643.4 739.8h1.3v1.3h-1.3zM709.1 729.3h1.3v1.3h-1.3zM641.8 750.0h1.3v1.3h-1.3zM629.7 651.2h1.3v1.3h-1.3zM696.3 731.8h1.3v1.3h-1.3zM689.6 735.5h1.3v1.3h-1.3zM689.2 725.1h1.3v1.3h-1.3zM696.6 715.2h1.3v1.3h-1.3zM674.8 739.3h1.3v1.3h-1.3zM607.8 715.5h1.3v1.3h-1.3zM597.7 677.6h1.3v1.3h-1.3zM703.4 705.2h1.3v1.3h-1.3zM609.8 725.2h1.3v1.3h-1.3zM691.2 732.1h1.3v1.3h-1.3zM612.5 672.9h1.3v1.3h-1.3zM632.3 734.1h1.3v1.3h-1.3zM695.1 668.0h1.3v1.3h-1.3zM685.6 739.7h1.3v1.3h-1.3zM662.5 747.5h1.3v1.3h-1.3zM622.3 744.3h1.3v1.3h-1.3zM608.5 671.2h1.3v1.3h-1.3zM678.3 741.5h1.3v1.3h-1.3zM664.0 636.2h1.3v1.3h-1.3zM640.6 640.7h1.3v1.3h-1.3zM703.7 671.8h1.3v1.3h-1.3zM597.4 675.1h1.3v1.3h-1.3zM668.9 640.9h1.3v1.3h-1.3zM671.9 637.1h1.3v1.3h-1.3zM641.4 743.3h1.3v1.3h-1.3zM658.0 640.7h1.3v1.3h-1.3zM623.4 736.8h1.3v1.3h-1.3zM700.4 716.0h1.3v1.3h-1.3zM705.7 688.6h1.3v1.3h-1.3zM671.9 649.1h1.3v1.3h-1.3zM636.5 743.5h1.3v1.3h-1.3zM632.2 748.8h1.3v1.3h-1.3zM704.8 679.5h1.3v1.3h-1.3zM694.8 738.6h1.3v1.3h-1.3zM670.7 640.7h1.3v1.3h-1.3zM699.1 709.6h1.3v1.3h-1.3zM634.3 640.2h1.3v1.3h-1.3zM605.3 703.7h1.3v1.3h-1.3zM647.2 744.2h1.3v1.3h-1.3zM607.1 720.2h1.3v1.3h-1.3zM611.3 719.3h1.3v1.3h-1.3zM664.5 748.5h1.3v1.3h-1.3zM701.0 673.7h1.3v1.3h-1.3zM663.4 637.1h1.3v1.3h-1.3zM661.2 741.0h1.3v1.3h-1.3zM680.7 651.0h1.3v1.3h-1.3zM690.7 725.3h1.3v1.3h-1.3zM676.1 644.8h1.3v1.3h-1.3zM706.3 693.2h1.3v1.3h-1.3zM602.4 686.4h1.3v1.3h-1.3zM691.2 740.1h1.3v1.3h-1.3zM638.8 645.1h1.3v1.3h-1.3zM634.6 738.5h1.3v1.3h-1.3zM710.7 700.3h1.3v1.3h-1.3zM647.1 748.6h1.3v1.3h-1.3zM682.5 649.1h1.3v1.3h-1.3zM644.0 743.5h1.3v1.3h-1.3zM608.9 700.0h1.3v1.3h-1.3zM616.2 725.5h1.3v1.3h-1.3zM700.8 730.7h1.3v1.3h-1.3zM637.7 642.0h1.3v1.3h-1.3zM707.0 718.3h1.3v1.3h-1.3zM612.2 733.8h1.3v1.3h-1.3zM625.4 652.8h1.3v1.3h-1.3zM656.3 637.4h1.3v1.3h-1.3zM620.0 739.1h1.3v1.3h-1.3zM632.2 735.5h1.3v1.3h-1.3zM709.2 707.8h1.3v1.3h-1.3zM648.4 741.1h1.3v1.3h-1.3zM711.1 710.0h1.3v1.3h-1.3zM644.8 751.2h1.3v1.3h-1.3zM701.6 656.3h1.3v1.3h-1.3zM665.4 752.7h1.3v1.3h-1.3zM613.2 651.5h1.3v1.3h-1.3zM698.5 664.8h1.3v1.3h-1.3zM613.2 735.1h1.3v1.3h-1.3z" fill="#000"/></svg><path d="M610.60 759.40v-4.0M610.60 626.00v4.0M655.60 759.40v-4.0M655.60 626.00v4.0M700.00 759.40v-4.0M700.00 626.00v4.0M588.40 648.00h4.0M722.40 648.00h-4.0M588.40 693.00h4.0M722.40 693.00h-4.0M588.40 737.60h4.0M722.40 737.60h-4.0" stroke="#333" stroke-width="1" fill="none"/><defs><linearGradient id="cbj" x1="0" x2="1" y1="0" y2="0"><stop offset="0.000" stop-color="#000080"/><stop offset="0.110" stop-color="#0000ff"/><stop offset="0.125" stop-color="#0000ff"/><stop offset="0.340" stop-color="#00dbff"/><stop offset="0.350" stop-color="#00e5f7"/><stop offset="0.375" stop-color="#15ffe2"/><stop offset="0.640" stop-color="#efff08"/><stop offset="0.650" stop-color="#f7f600"/><stop offset="0.660" stop-color="#ffec00"/><stop offset="0.890" stop-color="#ff1300"/><stop offset="0.910" stop-color="#e80000"/><stop offset="1.000" stop-color="#800000"/></linearGradient><linearGradient id="cbr" x1="0" x2="1" y1="0" y2="0"><stop offset="0.00" stop-color="#67001f"/><stop offset="0.10" stop-color="#b2182b"/><stop offset="0.20" stop-color="#d6604d"/><stop offset="0.30" stop-color="#f4a582"/><stop offset="0.40" stop-color="#fddbc7"/><stop offset="0.50" stop-color="#f7f7f7"/><stop offset="0.60" stop-color="#d1e5f0"/><stop offset="0.70" stop-color="#92c5de"/><stop offset="0.80" stop-color="#4393c3"/><stop offset="0.90" stop-color="#2166ac"/><stop offset="1.00" stop-color="#053061"/></linearGradient></defs><rect x="302.5" y="216.8" width="189.5" height="9.6" fill="url(#cbj)" stroke="#222" stroke-width="1"/><rect x="539.5" y="216.8" width="189.2" height="9.6" fill="url(#cbr)" stroke="#222" stroke-width="1"/><path d="M324.5 226.4v-3M348.8 226.4v-3M373.3 226.4v-3M397.6 226.4v-3M421.9 226.4v-3M446.1 226.4v-3M470.1 226.4v-3M558.4 226.4v-3M577.5 226.4v-3M596.6 226.4v-3M615.0 226.4v-3M633.8 226.4v-3M652.6 226.4v-3M671.6 226.4v-3M690.4 226.4v-3M709.5 226.4v-3" stroke="#333" stroke-width="1"/><rect x="70.0" y="6.5" width="189.5" height="188.5" fill="none" stroke="#222" stroke-width="1.2"/><rect x="304.0" y="6.5" width="189.0" height="188.5" fill="none" stroke="#222" stroke-width="1.2"/><rect x="539.5" y="6.5" width="189.0" height="188.5" fill="none" stroke="#555" stroke-width="1.2"/><rect x="72.4" y="271.7" width="482.0" height="141.2" fill="none" stroke="#222" stroke-width="1.2"/><rect x="586.0" y="272.5" width="140.7" height="140.2" fill="none" stroke="#222" stroke-width="1.2"/><rect x="72.4" y="456.3" width="482.1" height="132.7" fill="none" stroke="#222" stroke-width="1.2"/><rect x="588.5" y="455.0" width="134.4" height="134.4" fill="none" stroke="#222" stroke-width="1.2"/><rect x="72.4" y="627.4" width="481.8" height="131.9" fill="none" stroke="#222" stroke-width="1.2"/><rect x="588.4" y="626.0" width="134.0" height="133.4" fill="none" stroke="#222" stroke-width="1.2"/><g transform="translate(-0.80 20.90) rotate(0) scale(1.019 1)"><text font-size="29.05">(<tspan font-style="italic">a</tspan>)</text></g><g transform="translate(267.30 19.20) rotate(0) scale(1.088 1)"><text font-size="27.65">(<tspan font-style="italic">b</tspan>)</text></g><g transform="translate(502.50 17.50) rotate(0) scale(1.099 1)"><text font-size="27.65">(<tspan font-style="italic">c</tspan>)</text></g><g transform="translate(-1.00 285.45) rotate(0) scale(1.175 1)"><text font-size="26.52">(<tspan font-style="italic">d</tspan>)</text></g><g transform="translate(591.30 294.50) rotate(0) scale(1.131 1)"><text font-size="26.85">(<tspan font-style="italic">e</tspan>)</text></g><g transform="translate(-1.00 470.50) rotate(0) scale(1.179 1)"><text font-size="28.17">(<tspan font-style="italic" dx="3">f</tspan><tspan dx="3">)</tspan></text></g><g transform="translate(593.25 477.65) rotate(0) scale(1.184 1)"><text font-size="25.88">(<tspan font-style="italic">g</tspan>)</text></g><g transform="translate(-0.80 643.60) rotate(0) scale(1.071 1)"><text font-size="28.60">(<tspan font-style="italic">h</tspan>)</text></g><g transform="translate(592.70 649.55) rotate(0) scale(1.214 1)"><text font-size="25.30">(<tspan font-style="italic">i</tspan>)</text></g><g transform="translate(41.95 15.00) rotate(0) scale(1.030 1)"><text font-size="22.34" font-weight="bold">50</text></g><g transform="translate(53.30 109.70) rotate(0) scale(1.113 1)"><text font-size="22.64" font-weight="bold">0</text></g><g transform="translate(35.65 198.25) rotate(0) scale(1.015 1)"><text font-size="21.29" font-weight="bold">-50</text></g><g transform="translate(53.95 215.40) rotate(0) scale(0.994 1)"><text font-size="21.43" font-weight="bold">-50</text></g><g transform="translate(158.05 216.20) rotate(0) scale(1.087 1)"><text font-size="22.34" font-weight="bold">0</text></g><g transform="translate(247.30 216.20) rotate(0) scale(1.023 1)"><text font-size="22.34" font-weight="bold">50</text></g><g transform="translate(28.40 107.50) rotate(-90) scale(0.928 1)"><text font-size="27.94"><tspan font-style="italic">y</tspan></text></g><g transform="translate(157.95 247.85) rotate(0) scale(1.067 1)"><text font-size="32.83"><tspan font-style="italic">x</tspan></text></g><g transform="translate(89.00 180.45) rotate(0) scale(1.037 1)"><text font-size="24.05"><tspan font-style="italic">t</tspan> = 0</text></g><g transform="translate(229.60 180.40) rotate(0) scale(1.343 1)"><text font-size="23.78"><tspan font-style="italic">θ</tspan></text></g><g transform="translate(322.85 180.70) rotate(0) scale(1.067 1)"><text font-size="21.74"><tspan font-style="italic">t</tspan> = 100</text></g><g transform="translate(464.90 183.65) rotate(0) scale(1.115 1)"><text font-size="26.74"><tspan font-style="italic">θ</tspan></text></g><g transform="translate(556.25 185.15) rotate(0) scale(0.944 1)"><text font-size="24.41"><tspan font-style="italic">t</tspan> = 100</text></g><g transform="translate(701.30 182.75) rotate(0) scale(1.253 1)"><text font-size="25.36"><tspan font-style="italic">n</tspan></text></g><g transform="translate(287.25 249.20) rotate(0) scale(1.039 1)"><text font-size="26.18">−<tspan font-style="italic">π</tspan></text></g><g transform="translate(392.80 248.50) rotate(0) scale(0.996 1)"><text font-size="22.64">0</text></g><g transform="translate(480.80 249.20) rotate(0) scale(1.162 1)"><text font-size="26.18"><tspan font-style="italic">π</tspan></text></g><g transform="translate(496.25 228.80) rotate(0) scale(1.262 1)"><text font-size="23.78"><tspan font-style="italic">θ</tspan></text></g><g transform="translate(534.60 248.50) rotate(0) scale(0.996 1)"><text font-size="22.64">0</text></g><g transform="translate(627.10 247.30) rotate(0) scale(1.133 1)"><text font-size="21.74">1</text></g><g transform="translate(724.10 248.05) rotate(0) scale(0.940 1)"><text font-size="21.88">2</text></g><g transform="translate(735.30 224.95) rotate(0) scale(1.253 1)"><text font-size="25.36"><tspan font-style="italic">n</tspan></text></g><g transform="translate(48.05 278.75) rotate(0) scale(1.228 1)"><text font-size="16.54">50</text></g><g transform="translate(57.80 348.00) rotate(0) scale(1.229 1)"><text font-size="15.80">0</text></g><g transform="translate(43.05 416.40) rotate(0) scale(1.120 1)"><text font-size="17.00">-50</text></g><g transform="translate(35.85 347.50) rotate(-90) scale(1.270 1)"><text font-size="20.01"><tspan font-style="italic">x</tspan></text></g><g transform="translate(67.55 431.70) rotate(0) scale(1.074 1)"><text font-size="17.86">0</text></g><g transform="translate(297.40 431.55) rotate(0) scale(1.073 1)"><text font-size="18.33">100</text></g><g transform="translate(544.45 432.20) rotate(0) scale(1.197 1)"><text font-size="22.41"><tspan font-style="italic">t</tspan></text></g><g transform="translate(570.05 431.85) rotate(0) scale(0.983 1)"><text font-size="19.96">-1.5</text></g><g transform="translate(624.40 431.85) rotate(0) scale(1.061 1)"><text font-size="19.96">-1</text></g><g transform="translate(663.45 431.85) rotate(0) scale(1.008 1)"><text font-size="19.96">-0.5</text></g><g transform="translate(746.00 348.20) rotate(-90) scale(1.122 1)"><text font-size="21.00"><tspan font-style="italic">x</tspan></text></g><g transform="translate(57.20 483.00) rotate(0) scale(1.281 1)"><text font-size="17.30">1</text></g><g transform="translate(59.10 527.15) rotate(0) scale(1.007 1)"><text font-size="16.54">0</text></g><g transform="translate(53.60 571.70) rotate(0) scale(1.014 1)"><text font-size="16.87">-1</text></g><g transform="translate(39.05 554.70) rotate(-90) scale(1.019 1)"><text font-size="23.30"><tspan font-style="italic">Im</tspan>(<tspan font-style="italic">a</tspan><tspan font-style="italic" font-size="66%%" dy="0.2em">i</tspan><tspan dy="-0.2em">)</tspan></text></g><g transform="translate(68.05 605.75) rotate(0) scale(1.113 1)"><text font-size="16.54">0</text></g><g transform="translate(298.05 605.25) rotate(0) scale(1.200 1)"><text font-size="16.32">100</text></g><g transform="translate(545.65 609.45) rotate(0) scale(0.884 1)"><text font-size="25.36"><tspan font-style="italic">t</tspan></text></g><g transform="translate(574.00 483.50) rotate(0) scale(1.165 1)"><text font-size="18.68" font-weight="bold">1</text></g><g transform="translate(575.20 528.55) rotate(0) scale(1.216 1)"><text font-size="16.54" font-weight="bold">0</text></g><g transform="translate(568.85 572.35) rotate(0) scale(1.174 1)"><text font-size="16.54" font-weight="bold">-1</text></g><g transform="translate(603.30 607.25) rotate(0) scale(1.220 1)"><text font-size="15.65">-1</text></g><g transform="translate(650.95 606.75) rotate(0) scale(1.196 1)"><text font-size="15.65">0</text></g><g transform="translate(693.90 607.25) rotate(0) scale(1.572 1)"><text font-size="15.65">1</text></g><g transform="translate(743.85 554.15) rotate(-90) scale(1.035 1)"><text font-size="23.30"><tspan font-style="italic">Im</tspan>(<tspan font-style="italic">a</tspan><tspan font-style="italic" font-size="66%%" dy="0.2em">i</tspan><tspan dy="-0.2em">)</tspan></text></g><g transform="translate(39.25 632.95) rotate(0) scale(0.979 1)"><text font-size="18.33">-.46</text></g><g transform="translate(39.40 727.80) rotate(0) scale(0.938 1)"><text font-size="18.80">-.47</text></g><g transform="translate(41.20 709.10) rotate(-90) scale(1.285 1)"><text font-size="22.00"><tspan font-style="italic">P</tspan>/<tspan font-style="italic">N</tspan></text></g><g transform="translate(66.45 777.20) rotate(0) scale(1.383 1)"><text font-size="15.80">0</text></g><g transform="translate(298.80 777.75) rotate(0) scale(1.030 1)"><text font-size="18.33">100</text></g><g transform="translate(538.80 776.50) rotate(0) scale(1.145 1)"><text font-size="16.73">200</text></g><g transform="translate(309.00 801.25) rotate(0) scale(0.946 1)"><text font-size="25.36"><tspan font-style="italic">t</tspan></text></g><g transform="translate(574.10 652.60) rotate(0) scale(1.114 1)"><text font-size="17.58" font-weight="bold">1</text></g><g transform="translate(574.40 697.85) rotate(0) scale(1.160 1)"><text font-size="17.40" font-weight="bold">0</text></g><g transform="translate(568.60 741.80) rotate(0) scale(1.048 1)"><text font-size="16.95" font-weight="bold">-1</text></g><g transform="translate(603.30 777.50) rotate(0) scale(1.261 1)"><text font-size="14.87">-1</text></g><g transform="translate(650.25 777.75) rotate(0) scale(1.204 1)"><text font-size="16.20">0</text></g><g transform="translate(693.75 777.75) rotate(0) scale(1.488 1)"><text font-size="16.20">1</text></g><g transform="translate(629.00 799.00) rotate(0) scale(1.010 1)"><text font-size="21.50"><tspan font-style="italic">Re</tspan>(<tspan font-style="italic">a</tspan><tspan font-style="italic" font-size="66%%" dy="0.2em">i</tspan><tspan dy="-0.2em">)</tspan></text></g><g transform="translate(743.45 725.20) rotate(-90) scale(1.030 1)"><text font-size="23.30"><tspan font-style="italic">Im</tspan>(<tspan font-style="italic">a</tspan><tspan font-style="italic" font-size="66%%" dy="0.2em">i</tspan><tspan dy="-0.2em">)</tspan></text></g><path d="M717 418.5 L711.2 430.2 L717 442 M733.2 418.5 L739 430.2 L733.2 442" stroke="#000" stroke-width="1.1" fill="none"/><g transform="translate(715.6 437)"><text font-size="23" font-style="italic">θ</text></g><g transform="translate(727.4 440.5)"><text font-size="14" font-style="italic">i</text></g><circle cx="723.3" cy="418" r="1.3" fill="#000"/></svg></body></html>
